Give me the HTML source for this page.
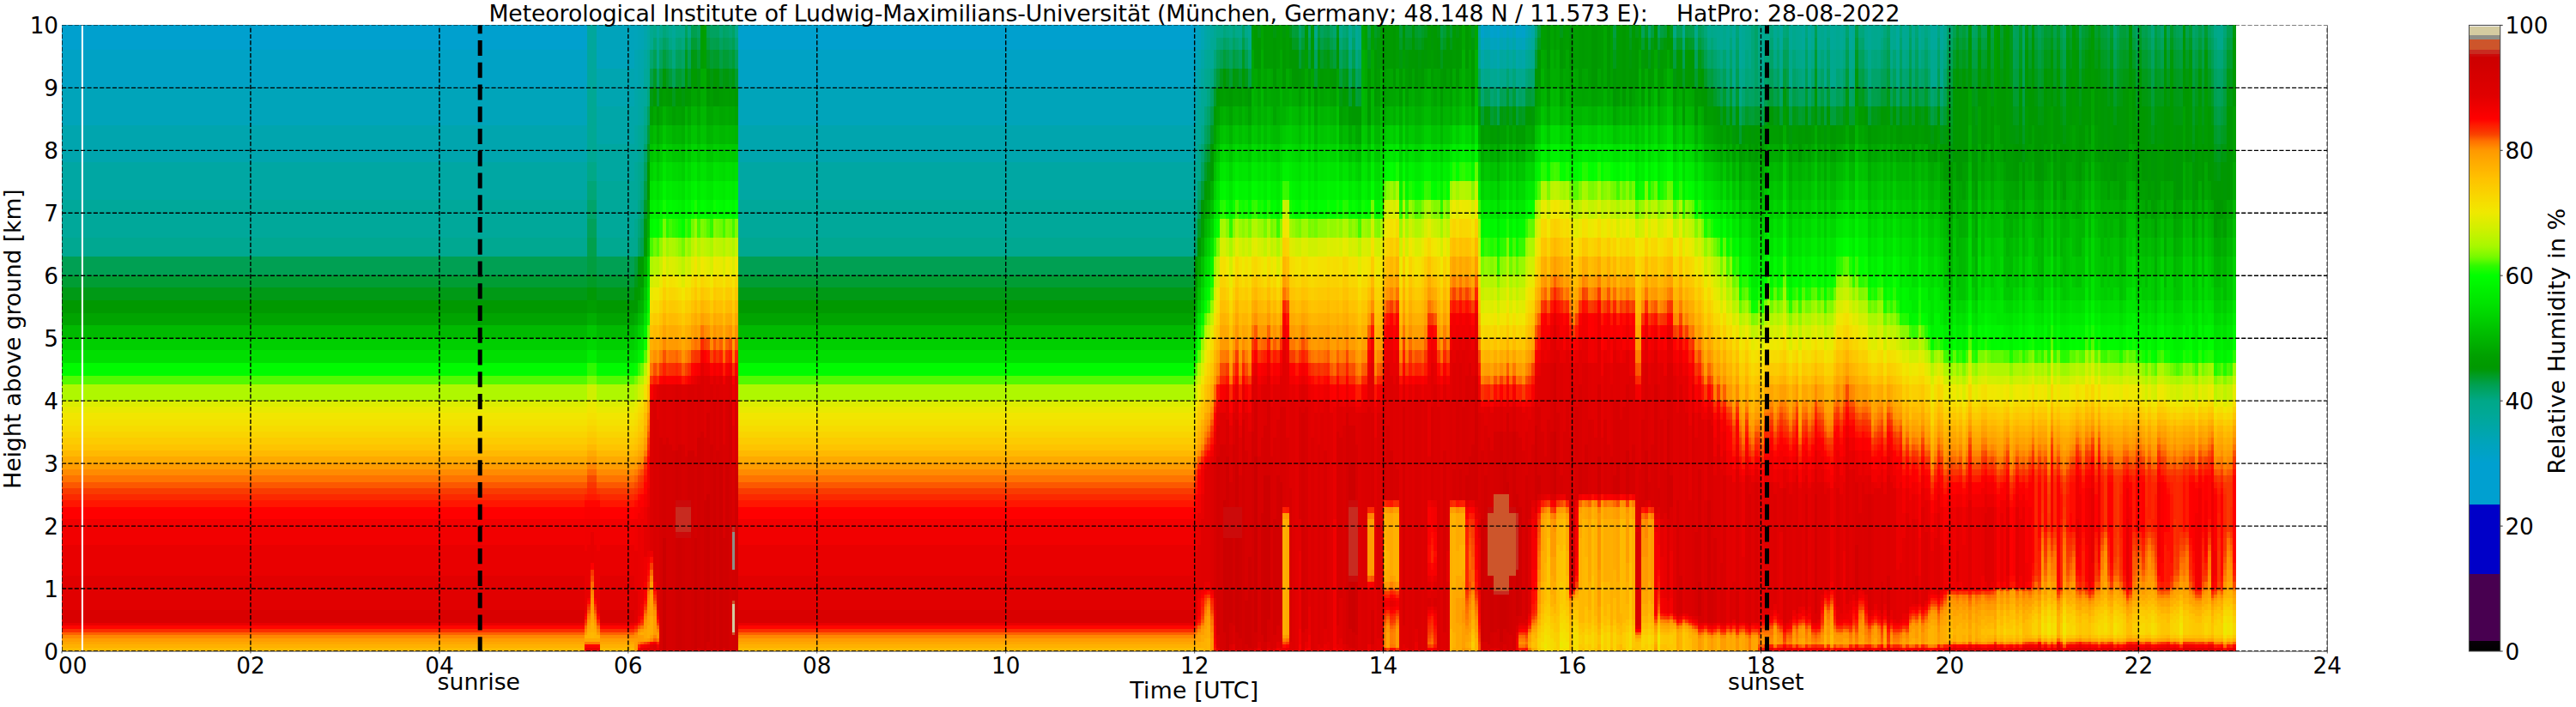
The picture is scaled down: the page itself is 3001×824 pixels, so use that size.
<!DOCTYPE html><html><head><meta charset="utf-8"><title>HatPro Relative Humidity 28-08-2022</title>
<style>html,body{margin:0;padding:0;background:#fff}body{width:3001px;height:824px;position:relative;overflow:hidden;font-family:"DejaVu Sans","Liberation Sans",sans-serif}
#p{position:absolute;left:0;top:0;width:3001px;height:824px}
#p i{position:absolute;top:29.4px;height:729.6px;display:block}
svg{position:absolute;left:0;top:0}text{font-family:"DejaVu Sans","Liberation Sans",sans-serif;font-size:26.7px;fill:#000}.t{font-size:26.3px}
</style></head><body>
<div id="p">
<i style="left:72px;width:609px;background:linear-gradient(#00a0ce 29.2px,#00a2c5 0 73px,#00a4ba 0 116.7px,#00a5ae 0 160.5px,#00a7a3 0 204.3px,#00a89a 0 248.1px,#00a891 0 270px,#00a053 0 291.8px,#009d34 0 306.4px,#009a16 0 321px,#009900 0 335.6px,#00a400 0 350.2px,#00ba00 0 364.8px,#00cf00 0 379.4px,#00df00 0 394px,#00fb00 0 408.6px,#53fa00 0 419.5px,#aff700 0 437.8px,#dced00 0 445.1px,#e8ea00 0 452.4px,#f1e600 0 459.6px,#f4e100 0 466.9px,#f7db00 0 474.2px,#f9d400 0 481.5px,#fccc00 0 488.8px,#fec400 0 496.1px,#ffb900 0 503.4px,#ffaa00 0 510.7px,#ff9d00 0 518px,#ff8b00 0 525.3px,#ff7400 0 532.6px,#fc5800 0 539.9px,#f93c00 0 547.2px,#fc2900 0 554.5px,#ff1600 0 561.8px,#ff0000 0 576.4px,#f20000 0 605.6px,#e90000 0 642px,#e10000 0 682.2px,#d90000 0 696.8px,#ea0000 0 700.4px,#ff0500 0 704.1px,#fb2f00 0 707.7px,#fd6000 0 711.4px,#ff8800 0 715px,#ff9d00 0 718.7px,#ffa700 0 722.3px,#ffb100 0 726px,#ffbb00 0 729.6px)"></i>
<i style="left:681px;width:3px;background:linear-gradient(#00a0ce 29.2px,#00a2c5 0 73px,#00a4ba 0 116.7px,#00a5ae 0 160.5px,#00a7a3 0 204.3px,#00a89a 0 248.1px,#00a891 0 270px,#00a053 0 291.8px,#009d34 0 306.4px,#009a16 0 321px,#009900 0 335.6px,#00a400 0 350.2px,#00ba00 0 364.8px,#00cf00 0 379.4px,#00df00 0 394px,#00fb00 0 408.6px,#53fa00 0 419.5px,#aff700 0 437.8px,#dced00 0 445.1px,#e8ea00 0 452.4px,#f1e600 0 459.6px,#f4e100 0 466.9px,#f7db00 0 474.2px,#f9d400 0 481.5px,#fccc00 0 488.8px,#fec400 0 496.1px,#ffb900 0 503.4px,#ffaa00 0 510.7px,#ff9d00 0 518px,#ff8b00 0 525.3px,#ff7400 0 532.6px,#fc5800 0 539.9px,#f93800 0 547.2px,#fe1e00 0 554.5px,#ff0500 0 561.8px,#fb0000 0 576.4px,#f10000 0 612.9px,#e90000 0 685.8px,#f80000 0 689.5px,#ff0900 0 693.1px,#fc2800 0 696.8px,#f94400 0 700.4px,#ff6e00 0 704.1px,#ff8900 0 707.7px,#ff9c00 0 711.4px,#ffb300 0 715px,#ffa800 0 718.7px,#ff7a00 0 722.3px,#fd0000 0 726px,#e90000 0 729.6px)"></i>
<i style="left:684px;width:4px;background:linear-gradient(#00a79c 73px,#00a894 0 160.5px,#00a887 0 182.4px,#00a677 0 204.3px,#00a46a 0 226.2px,#00a15a 0 248.1px,#00a04d 0 270px,#009e3f 0 291.8px,#009c25 0 306.4px,#009906 0 321px,#009e00 0 335.6px,#00ae00 0 350.2px,#00c700 0 364.8px,#00d700 0 379.4px,#00ed00 0 394px,#2dfa00 0 408.6px,#7dfa00 0 419.5px,#cff000 0 437.8px,#e8ea00 0 445.1px,#f1e600 0 452.4px,#f4e100 0 459.6px,#f7db00 0 466.9px,#f9d400 0 474.2px,#fbcc00 0 481.5px,#fec400 0 488.8px,#ffb900 0 496.1px,#ffaa00 0 503.4px,#ff9c00 0 510.7px,#ff8500 0 518px,#fe6800 0 525.3px,#f94800 0 532.6px,#fa3400 0 539.9px,#fd2600 0 547.2px,#ff1800 0 554.5px,#ff0500 0 561.8px,#fb0000 0 576.4px,#f10000 0 605.6px,#e90000 0 667.6px,#f80000 0 671.2px,#ff0900 0 674.9px,#fc2800 0 678.5px,#f83e00 0 682.2px,#fb5700 0 685.8px,#ff7200 0 689.5px,#ff8200 0 693.1px,#ff9300 0 696.8px,#ff9c00 0 700.4px,#ffa500 0 704.1px,#ffad00 0 707.7px,#ffb500 0 715px,#ffa800 0 718.7px,#ff7a00 0 722.3px,#fd0000 0 726px,#e90000 0 729.6px)"></i>
<i style="left:688px;width:4px;background:linear-gradient(#00a79c 73px,#00a894 0 160.5px,#00a887 0 182.4px,#00a677 0 204.3px,#00a46a 0 226.2px,#00a15a 0 248.1px,#00a04d 0 270px,#009e3f 0 291.8px,#009c25 0 306.4px,#009906 0 321px,#009e00 0 335.6px,#00ae00 0 350.2px,#00c700 0 364.8px,#00d700 0 379.4px,#00ed00 0 394px,#2dfa00 0 408.6px,#7dfa00 0 419.5px,#cff000 0 437.8px,#e8ea00 0 445.1px,#f1e600 0 452.4px,#f4e100 0 459.6px,#f7db00 0 466.9px,#f9d400 0 474.2px,#fbcc00 0 481.5px,#fec400 0 488.8px,#ffb900 0 496.1px,#ffaa00 0 503.4px,#ff9c00 0 510.7px,#ff8500 0 518px,#fe6800 0 525.3px,#f94800 0 532.6px,#fa3400 0 539.9px,#fd2600 0 547.2px,#ff1800 0 554.5px,#ff0500 0 561.8px,#fb0000 0 576.4px,#f10000 0 591px,#e70000 0 627.5px,#fd0000 0 634.8px,#fa3600 0 642px,#fa4d00 0 649.3px,#fe6c00 0 656.6px,#ff7b00 0 660.3px,#ff8500 0 663.9px,#ff8e00 0 667.6px,#ff9700 0 674.9px,#ff9f00 0 685.8px,#ffa800 0 696.8px,#ffb000 0 707.7px,#ffb800 0 715px,#ffa800 0 718.7px,#ff7a00 0 722.3px,#fd0000 0 726px,#e90000 0 729.6px)"></i>
<i style="left:692px;width:3px;background:linear-gradient(#00a79c 73px,#00a894 0 160.5px,#00a887 0 182.4px,#00a677 0 204.3px,#00a46a 0 226.2px,#00a15a 0 248.1px,#00a04d 0 270px,#009e3f 0 291.8px,#009c25 0 306.4px,#009906 0 321px,#009e00 0 335.6px,#00ae00 0 350.2px,#00c700 0 364.8px,#00d700 0 379.4px,#00ed00 0 394px,#2dfa00 0 408.6px,#7dfa00 0 419.5px,#cff000 0 437.8px,#e8ea00 0 445.1px,#f1e600 0 452.4px,#f4e100 0 459.6px,#f7db00 0 466.9px,#f9d400 0 474.2px,#fbcc00 0 481.5px,#fec400 0 488.8px,#ffb900 0 496.1px,#ffaa00 0 503.4px,#ff9c00 0 510.7px,#ff8500 0 518px,#fe6800 0 525.3px,#f94800 0 532.6px,#fa3400 0 539.9px,#fd2600 0 547.2px,#ff1800 0 554.5px,#ff0500 0 561.8px,#fb0000 0 576.4px,#f10000 0 605.6px,#e90000 0 667.6px,#f80000 0 671.2px,#ff0900 0 674.9px,#fc2800 0 678.5px,#f83e00 0 682.2px,#fb5700 0 685.8px,#ff7200 0 689.5px,#ff8200 0 693.1px,#ff9300 0 696.8px,#ff9c00 0 700.4px,#ffa500 0 704.1px,#ffad00 0 707.7px,#ffb500 0 715px,#ffa800 0 718.7px,#ff7a00 0 722.3px,#fd0000 0 726px,#e90000 0 729.6px)"></i>
<i style="left:695px;width:4px;background:linear-gradient(#00a3bb 51.1px,#00a5b0 0 94.8px,#00a6a8 0 138.6px,#00a7a0 0 182.4px,#00a899 0 248.1px,#00a890 0 270px,#00a053 0 291.8px,#009d34 0 306.4px,#009a16 0 321px,#009900 0 335.6px,#00a400 0 350.2px,#00ba00 0 364.8px,#00cf00 0 379.4px,#00df00 0 394px,#00fb00 0 408.6px,#53fa00 0 419.5px,#aff700 0 437.8px,#dced00 0 445.1px,#e8ea00 0 452.4px,#f1e600 0 459.6px,#f4e100 0 466.9px,#f7db00 0 474.2px,#f9d400 0 481.5px,#fccc00 0 488.8px,#fec400 0 496.1px,#ffb900 0 503.4px,#ffaa00 0 510.7px,#ff9d00 0 518px,#ff8b00 0 525.3px,#ff7400 0 532.6px,#fc5800 0 539.9px,#f93800 0 547.2px,#fe1e00 0 554.5px,#ff0500 0 561.8px,#fb0000 0 576.4px,#f10000 0 612.9px,#e90000 0 685.8px,#f80000 0 689.5px,#ff0900 0 693.1px,#fc2800 0 696.8px,#f94400 0 700.4px,#ff6e00 0 704.1px,#ff8900 0 707.7px,#ff9c00 0 711.4px,#ffb300 0 715px,#ffa800 0 718.7px,#ff7a00 0 722.3px,#fd0000 0 726px,#e90000 0 729.6px)"></i>
<i style="left:699px;width:40px;background:linear-gradient(#00a3bb 51.1px,#00a5b0 0 94.8px,#00a6a8 0 138.6px,#00a7a0 0 182.4px,#00a899 0 248.1px,#00a890 0 270px,#00a053 0 291.8px,#009d34 0 306.4px,#009a16 0 321px,#009900 0 335.6px,#00a400 0 350.2px,#00ba00 0 364.8px,#00cf00 0 379.4px,#00df00 0 394px,#00fb00 0 408.6px,#53fa00 0 419.5px,#aff700 0 437.8px,#dced00 0 445.1px,#e8ea00 0 452.4px,#f1e600 0 459.6px,#f4e100 0 466.9px,#f7db00 0 474.2px,#f9d400 0 481.5px,#fccc00 0 488.8px,#fec400 0 496.1px,#ffb900 0 503.4px,#ffaa00 0 510.7px,#ff9d00 0 518px,#ff8b00 0 525.3px,#ff7400 0 532.6px,#fc5800 0 539.9px,#f93c00 0 547.2px,#fc2900 0 554.5px,#ff1600 0 561.8px,#ff0000 0 576.4px,#f20000 0 605.6px,#e90000 0 642px,#e10000 0 682.2px,#d90000 0 696.8px,#ea0000 0 700.4px,#ff0500 0 704.1px,#fb2f00 0 707.7px,#fd6000 0 711.4px,#ff8800 0 715px,#ff9d00 0 718.7px,#ffa700 0 722.3px,#ffb100 0 726px,#ffbb00 0 729.6px)"></i>
<i style="left:739px;width:4px;background:linear-gradient(#00a4ba 29.2px,#00a5b2 0 73px,#00a6a8 0 116.7px,#00a7a0 0 160.5px,#00a898 0 226.2px,#00a88e 0 270px,#009e39 0 291.8px,#009a18 0 306.4px,#009900 0 335.6px,#00ac00 0 350.2px,#00c200 0 364.8px,#00d600 0 379.4px,#00e500 0 394px,#05fe00 0 408.6px,#77fa00 0 419.5px,#baf400 0 437.8px,#e5eb00 0 445.1px,#f0e700 0 452.4px,#f3e100 0 459.6px,#f6dc00 0 466.9px,#f9d600 0 474.2px,#fbcf00 0 481.5px,#fdc700 0 488.8px,#ffbf00 0 496.1px,#ffb400 0 503.4px,#ffa500 0 510.7px,#ff9800 0 518px,#ff7f00 0 525.3px,#fd6500 0 532.6px,#f94800 0 539.9px,#fa3300 0 547.2px,#fe1f00 0 554.5px,#ff0a00 0 561.8px,#fc0000 0 576.4px,#f00000 0 612.9px,#e80000 0 660.3px,#e00000 0 696.8px,#f40000 0 700.4px,#fe1e00 0 704.1px,#fa4c00 0 707.7px,#ff8200 0 711.4px,#ff9000 0 715px,#ff9d00 0 729.6px)"></i>
<i style="left:743px;width:3px;background:linear-gradient(#00a4b6 29.2px,#00a5ad 0 73px,#00a7a2 0 116.7px,#00a897 0 160.5px,#00a88f 0 204.3px,#00a885 0 226.2px,#00a678 0 248.1px,#00a368 0 270px,#009804 0 291.8px,#009c00 0 321px,#00aa00 0 335.6px,#00bc00 0 350.2px,#00d200 0 364.8px,#00e400 0 379.4px,#00f100 0 394px,#3cfa00 0 408.6px,#a6f800 0 419.5px,#d1f000 0 437.8px,#f3e300 0 445.1px,#f6dd00 0 452.4px,#f8d700 0 459.6px,#fad100 0 466.9px,#fccb00 0 474.2px,#fec500 0 481.5px,#ffbd00 0 488.8px,#ffb400 0 496.1px,#ffa900 0 503.4px,#ff9b00 0 510.7px,#ff8000 0 518px,#fd6400 0 525.3px,#f84300 0 532.6px,#fa3300 0 539.9px,#fe2000 0 547.2px,#ff0900 0 554.5px,#fb0000 0 569.1px,#f20000 0 583.7px,#ea0000 0 689.5px,#f70000 0 696.8px,#fe1f00 0 700.4px,#fb5300 0 704.1px,#ff8e00 0 707.7px,#ffa500 0 711.4px,#ff9b00 0 718.7px,#ff7e00 0 722.3px,#fd2500 0 726px,#fe0000 0 729.6px)"></i>
<i style="left:746px;width:4px;background:linear-gradient(#00a4b4 29.2px,#00a6ab 0 73px,#00a79f 0 116.7px,#00a894 0 160.5px,#00a88b 0 182.4px,#00a783 0 204.3px,#00a574 0 226.2px,#00a366 0 248.1px,#00a155 0 270px,#009b00 0 306.4px,#00a800 0 321px,#00b200 0 335.6px,#00c400 0 350.2px,#00d900 0 364.8px,#00ea00 0 379.4px,#00f700 0 394px,#69fa00 0 408.6px,#b2f600 0 419.5px,#daed00 0 437.8px,#f5dd00 0 445.1px,#f8d700 0 452.4px,#fad100 0 459.6px,#fccb00 0 474.2px,#ffc000 0 481.5px,#ffb700 0 488.8px,#ffaf00 0 496.1px,#ffa400 0 503.4px,#ff9200 0 510.7px,#ff7300 0 518px,#fb5100 0 525.3px,#f93800 0 532.6px,#fc2a00 0 539.9px,#ff1700 0 547.2px,#fe0000 0 561.8px,#f40000 0 576.4px,#ec0000 0 674.9px,#f40000 0 689.5px,#ff0b00 0 693.1px,#fd2500 0 696.8px,#f83e00 0 700.4px,#ff7600 0 704.1px,#ff9e00 0 707.7px,#ffae00 0 711.4px,#ff9e00 0 718.7px,#fd6300 0 722.3px,#f90000 0 726px,#e60000 0 729.6px)"></i>
<i style="left:750px;width:4px;background:linear-gradient(#00a5ac 29.2px,#00a7a1 0 51.1px,#00a89a 0 94.8px,#00a88c 0 116.7px,#00a780 0 138.6px,#00a46d 0 160.5px,#00a15a 0 182.4px,#009f43 0 204.3px,#009c28 0 226.2px,#00990e 0 248.1px,#009b00 0 270px,#00b100 0 291.8px,#00bd00 0 306.4px,#00c800 0 321px,#00d200 0 335.6px,#00e300 0 350.2px,#00f300 0 364.8px,#0cfe00 0 379.4px,#5afa00 0 394px,#bbf400 0 408.6px,#dded00 0 419.5px,#f5df00 0 437.8px,#fdc500 0 452.4px,#ffb900 0 466.9px,#ffae00 0 481.5px,#ff9f00 0 488.8px,#ff9600 0 496.1px,#ff7b00 0 503.4px,#fa4d00 0 510.7px,#fb3000 0 518px,#fe1f00 0 525.3px,#ff1000 0 532.6px,#ff0200 0 547.2px,#f50000 0 561.8px,#ed0000 0 583.7px,#e40000 0 620.2px,#f00000 0 649.3px,#f90000 0 667.6px,#ff0300 0 671.2px,#ff1200 0 674.9px,#fc2700 0 678.5px,#f93c00 0 682.2px,#fc5c00 0 685.8px,#ff7600 0 689.5px,#ff8500 0 693.1px,#ff9300 0 696.8px,#ff9c00 0 704.1px,#ffa900 0 715px,#ffa100 0 718.7px,#f94700 0 722.3px,#f40000 0 726px,#e20000 0 729.6px)"></i>
<i style="left:754px;width:3px;background:linear-gradient(#00a7a2 29.2px,#00a895 0 73px,#00a781 0 94.8px,#00a261 0 116.7px,#009e3d 0 138.6px,#009b19 0 160.5px,#009900 0 204.3px,#00a500 0 226.2px,#00ae00 0 248.1px,#00bb00 0 270px,#00d700 0 291.8px,#00e400 0 306.4px,#00ee00 0 321px,#00f700 0 335.6px,#19fc00 0 350.2px,#7afa00 0 364.8px,#b1f600 0 379.4px,#cdf100 0 394px,#f1e600 0 408.6px,#f9d600 0 419.5px,#ffc000 0 437.8px,#ff9f00 0 452.4px,#ff8c00 0 459.6px,#ff7e00 0 466.9px,#ff7000 0 474.2px,#fb5700 0 481.5px,#f83d00 0 488.8px,#fb2e00 0 496.1px,#ff1a00 0 503.4px,#ff0000 0 518px,#f50000 0 539.9px,#ec0000 0 561.8px,#e30000 0 612.9px,#eb0000 0 620.2px,#f40000 0 627.5px,#fc0000 0 634.8px,#ff0800 0 642px,#fe1b00 0 649.3px,#f93800 0 656.6px,#fd6200 0 660.3px,#ff7800 0 663.9px,#ff8400 0 667.6px,#ff8c00 0 671.2px,#ff9400 0 678.5px,#ff9c00 0 689.5px,#ffa500 0 700.4px,#ffae00 0 715px,#ff9c00 0 718.7px,#fb2e00 0 722.3px,#ef0000 0 726px,#df0000 0 729.6px)"></i>
<i style="left:757px;width:4px;background:linear-gradient(#00a891 29.2px,#00a570 0 51.1px,#009f4a 0 73px,#009a12 0 94.8px,#009f00 0 116.7px,#00b300 0 138.6px,#00c300 0 160.5px,#00d200 0 182.4px,#00e200 0 204.3px,#00ee00 0 226.2px,#00fa00 0 248.1px,#47fa00 0 270px,#adf700 0 291.8px,#d1f000 0 306.4px,#e9ea00 0 321px,#f5df00 0 335.6px,#fad100 0 350.2px,#fec200 0 364.8px,#ffb100 0 379.4px,#ff9f00 0 394px,#ff7800 0 408.6px,#fa3700 0 419.5px,#f80000 0 437.8px,#dd0000 0 612.9px,#ee0000 0 620.2px,#ff0d00 0 627.5px,#f93c00 0 634.8px,#fe6600 0 642px,#ff8600 0 649.3px,#ff9c00 0 663.9px,#ffa400 0 689.5px,#ffad00 0 711.4px,#ff9f00 0 715px,#ff8800 0 718.7px,#fd0000 0 722.3px,#e30000 0 729.6px)"></i>
<i style="left:761px;width:4px;background:linear-gradient(#00a888 14.6px,#00a571 0 29.2px,#00a154 0 51.1px,#009b23 0 73px,#009a00 0 94.8px,#00a800 0 116.7px,#00bc00 0 138.6px,#00cb00 0 160.5px,#00db00 0 182.4px,#00e800 0 204.3px,#00f300 0 226.2px,#01ff00 0 248.1px,#71fa00 0 270px,#b8f500 0 291.8px,#daed00 0 306.4px,#f1e700 0 321px,#f8d900 0 335.6px,#fcca00 0 350.2px,#ffba00 0 364.8px,#ffa900 0 379.4px,#ff8f00 0 394px,#fa4d00 0 408.6px,#ff1a00 0 419.5px,#eb0000 0 437.8px,#d90000 0 649.3px,#eb0000 0 656.6px,#fa0000 0 660.3px,#ff1400 0 663.9px,#fc2c00 0 667.6px,#f93c00 0 671.2px,#fb5500 0 674.9px,#ff7100 0 678.5px,#ff8200 0 682.2px,#ff9300 0 689.5px,#ff9c00 0 711.4px,#ff8400 0 715px,#fc5e00 0 718.7px,#f20000 0 722.3px,#dd0000 0 729.6px)"></i>
<i style="left:765px;width:3px;background:linear-gradient(#00a89c 14.6px,#00a893 0 29.2px,#00a889 0 51.1px,#00a366 0 73px,#009d34 0 94.8px,#009c00 0 116.7px,#00ac00 0 138.6px,#00bd00 0 160.5px,#00ce00 0 182.4px,#00df00 0 204.3px,#00ec00 0 226.2px,#00fa00 0 248.1px,#55fa00 0 270px,#b2f600 0 291.8px,#d6ee00 0 306.4px,#eee900 0 321px,#f6dc00 0 335.6px,#fbce00 0 350.2px,#ffbf00 0 364.8px,#ffae00 0 379.4px,#ff9c00 0 394px,#ff6e00 0 408.6px,#fc2b00 0 419.5px,#e30000 0 459.6px,#db0000 0 682.2px,#e80000 0 685.8px,#f00000 0 689.5px,#fb0000 0 693.1px,#ff1900 0 696.8px,#f93a00 0 700.4px,#fe6a00 0 704.1px,#ff8900 0 707.7px,#ff9d00 0 715px,#ff7b00 0 718.7px,#fd2300 0 722.3px,#f30000 0 726px,#e80000 0 729.6px)"></i>
<i style="left:768px;width:4px;background:linear-gradient(#00a88a 14.6px,#00a678 0 29.2px,#00a25c 0 51.1px,#009d30 0 73px,#009900 0 94.8px,#00a500 0 116.7px,#00b800 0 138.6px,#00c900 0 160.5px,#00d900 0 182.4px,#00e800 0 204.3px,#00f500 0 226.2px,#17fd00 0 248.1px,#90f900 0 270px,#c9f100 0 291.8px,#e9ea00 0 306.4px,#f5df00 0 321px,#fad100 0 335.6px,#fec300 0 350.2px,#ffb300 0 364.8px,#ffa200 0 379.4px,#ff7f00 0 394px,#f93b00 0 408.6px,#ff0000 0 419.5px,#de0000 0 481.5px,#d60000 0 729.6px)"></i>
<i style="left:772px;width:4px;background:linear-gradient(#00a679 14.6px,#00a260 0 29.2px,#009e3b 0 51.1px,#009906 0 73px,#009e00 0 94.8px,#00b200 0 116.7px,#00c600 0 138.6px,#00d800 0 160.5px,#00e700 0 182.4px,#00f500 0 204.3px,#10fd00 0 226.2px,#77fa00 0 248.1px,#bff300 0 270px,#e8ea00 0 291.8px,#f7db00 0 306.4px,#fbce00 0 321px,#ffc200 0 335.6px,#ffb300 0 350.2px,#ffa300 0 364.8px,#ff8a00 0 379.4px,#fa5100 0 394px,#fe1f00 0 408.6px,#f70000 0 419.5px,#dc0000 0 488.8px,#d40000 0 598.3px,#cc0000 0 729.6px)"></i>
<i style="left:776px;width:3px;background:linear-gradient(#00a783 14.6px,#00a46c 0 29.2px,#00a050 0 51.1px,#009b1f 0 73px,#009b00 0 94.8px,#00a900 0 116.7px,#00bc00 0 138.6px,#00cd00 0 160.5px,#00dd00 0 182.4px,#00eb00 0 204.3px,#00f800 0 226.2px,#24fb00 0 248.1px,#9df800 0 270px,#cff000 0 291.8px,#eee900 0 306.4px,#f6dc00 0 321px,#fbcf00 0 335.6px,#ffc100 0 350.2px,#ffb100 0 364.8px,#ffa000 0 379.4px,#ff7b00 0 394px,#f93800 0 408.6px,#fe0000 0 419.5px,#de0000 0 481.5px,#d60000 0 729.6px)"></i>
<i style="left:779px;width:4px;background:linear-gradient(#00a88f 14.6px,#00a784 0 29.2px,#00a364 0 51.1px,#009d36 0 73px,#009900 0 94.8px,#00a600 0 116.7px,#00bb00 0 138.6px,#00cd00 0 160.5px,#00df00 0 182.4px,#00ed00 0 204.3px,#00fb00 0 226.2px,#42fa00 0 248.1px,#b0f600 0 270px,#dced00 0 291.8px,#f3e100 0 306.4px,#f9d500 0 321px,#fdc800 0 335.6px,#ffba00 0 350.2px,#ffab00 0 364.8px,#ff9a00 0 379.4px,#ff6d00 0 394px,#fb2f00 0 408.6px,#fc0000 0 419.5px,#de0000 0 488.8px,#d60000 0 729.6px)"></i>
<i style="left:783px;width:4px;background:linear-gradient(#00a898 14.6px,#00a890 0 29.2px,#00a77f 0 51.1px,#00a157 0 73px,#009b1c 0 94.8px,#009f00 0 116.7px,#00b300 0 138.6px,#00c600 0 160.5px,#00d900 0 182.4px,#00e900 0 204.3px,#00f800 0 226.2px,#2dfa00 0 248.1px,#abf700 0 270px,#d9ee00 0 291.8px,#f3e300 0 306.4px,#f8d600 0 321px,#fcc900 0 335.6px,#ffbb00 0 350.2px,#ffab00 0 364.8px,#ff9a00 0 379.4px,#ff6e00 0 394px,#fb2e00 0 408.6px,#fb0000 0 419.5px,#dd0000 0 496.1px,#d50000 0 729.6px)"></i>
<i style="left:787px;width:3px;background:linear-gradient(#00a88a 14.6px,#00a678 0 29.2px,#00a25c 0 51.1px,#009d30 0 73px,#009900 0 94.8px,#00a400 0 116.7px,#00b600 0 138.6px,#00c800 0 160.5px,#00da00 0 182.4px,#00e900 0 204.3px,#00f700 0 226.2px,#24fb00 0 248.1px,#a1f800 0 270px,#d3ef00 0 291.8px,#f1e700 0 306.4px,#f7d900 0 321px,#fccb00 0 335.6px,#ffbc00 0 350.2px,#ffac00 0 364.8px,#ff9900 0 379.4px,#fd6300 0 394px,#fd2500 0 408.6px,#f80000 0 419.5px,#d90000 0 496.1px,#d10000 0 554.5px,#cc0a0a 0 561.8px,#c82b20 0 591px,#cc0a0a 0 598.3px,#d00000 0 729.6px)"></i>
<i style="left:790px;width:4px;background:linear-gradient(#00a889 14.6px,#00a574 0 29.2px,#00a159 0 51.1px,#009d2e 0 73px,#009900 0 94.8px,#00a300 0 116.7px,#00b500 0 138.6px,#00c600 0 160.5px,#00d700 0 182.4px,#00e600 0 204.3px,#00f400 0 226.2px,#13fd00 0 248.1px,#8ef900 0 270px,#c9f100 0 291.8px,#eaea00 0 306.4px,#f5de00 0 321px,#fad000 0 335.6px,#fec200 0 350.2px,#ffb100 0 364.8px,#ff9f00 0 379.4px,#ff7600 0 394px,#fb3100 0 408.6px,#fb0000 0 419.5px,#db0000 0 488.8px,#d30000 0 554.5px,#cc0a0a 0 561.8px,#c82b20 0 591px,#cc0a0a 0 598.3px,#cf0000 0 729.6px)"></i>
<i style="left:794px;width:4px;background:linear-gradient(#00a88c 14.6px,#00a781 0 29.2px,#00a366 0 51.1px,#009f43 0 73px,#00990b 0 94.8px,#009f00 0 116.7px,#00af00 0 138.6px,#00bf00 0 160.5px,#00d000 0 182.4px,#00e100 0 204.3px,#00ee00 0 226.2px,#00fd00 0 248.1px,#70fa00 0 270px,#baf400 0 291.8px,#dded00 0 306.4px,#f1e600 0 321px,#f8d800 0 335.6px,#fcca00 0 350.2px,#ffbb00 0 364.8px,#ffaa00 0 379.4px,#ff9500 0 394px,#fc5a00 0 408.6px,#ff1600 0 419.5px,#df0000 0 488.8px,#d70000 0 554.5px,#cc0a0a 0 561.8px,#c82b20 0 591px,#cc0a0a 0 598.3px,#d20000 0 729.6px)"></i>
<i style="left:798px;width:3px;background:linear-gradient(#00a25b 14.6px,#009f43 0 29.2px,#009b1e 0 51.1px,#009a00 0 94.8px,#00b200 0 116.7px,#00c200 0 138.6px,#00d300 0 160.5px,#00e200 0 182.4px,#00ef00 0 204.3px,#00fb00 0 226.2px,#3afa00 0 248.1px,#aaf800 0 270px,#d5ef00 0 291.8px,#f1e600 0 306.4px,#f7da00 0 321px,#fbcd00 0 335.6px,#ffc000 0 350.2px,#ffb100 0 364.8px,#ffa100 0 379.4px,#ff8100 0 394px,#f84000 0 408.6px,#ff0900 0 419.5px,#de0000 0 503.4px,#d60000 0 554.5px,#cc0a0a 0 561.8px,#c82b20 0 591px,#cc0a0a 0 598.3px,#d40000 0 729.6px)"></i>
<i style="left:801px;width:4px;background:linear-gradient(#00a887 14.6px,#00a571 0 29.2px,#00a156 0 51.1px,#009c2a 0 73px,#009a00 0 94.8px,#00a500 0 116.7px,#00b600 0 138.6px,#00c700 0 160.5px,#00d900 0 182.4px,#00e800 0 204.3px,#00f500 0 226.2px,#1afc00 0 248.1px,#94f900 0 270px,#ccf100 0 291.8px,#ece900 0 306.4px,#f6dd00 0 321px,#fbce00 0 335.6px,#ffc000 0 350.2px,#ffaf00 0 364.8px,#ff9c00 0 379.4px,#ff6f00 0 394px,#fc2b00 0 408.6px,#f90000 0 419.5px,#da0000 0 496.1px,#d20000 0 554.5px,#cc0a0a 0 561.8px,#c82b20 0 591px,#cc0a0a 0 598.3px,#d40000 0 729.6px)"></i>
<i style="left:805px;width:4px;background:linear-gradient(#00a04c 14.6px,#009d31 0 29.2px,#00990f 0 51.1px,#009b00 0 73px,#00a400 0 94.8px,#00b400 0 116.7px,#00c400 0 138.6px,#00d500 0 160.5px,#00e500 0 182.4px,#00f200 0 204.3px,#04ff00 0 226.2px,#71fa00 0 248.1px,#bbf400 0 270px,#e4eb00 0 291.8px,#f5de00 0 306.4px,#fad100 0 321px,#fec300 0 335.6px,#ffb300 0 350.2px,#ffa200 0 364.8px,#ff8100 0 379.4px,#f83d00 0 394px,#ff0400 0 408.6px,#ed0000 0 419.5px,#da0000 0 496.1px,#d20000 0 729.6px)"></i>
<i style="left:809px;width:3px;background:linear-gradient(#00a050 14.6px,#009d34 0 29.2px,#009a12 0 51.1px,#009b00 0 73px,#00a400 0 94.8px,#00b400 0 116.7px,#00c400 0 138.6px,#00d700 0 160.5px,#00e800 0 182.4px,#00f600 0 204.3px,#1dfc00 0 226.2px,#98f900 0 248.1px,#d0f000 0 270px,#f2e300 0 291.8px,#fad300 0 306.4px,#fdc600 0 321px,#ffb900 0 335.6px,#ffaa00 0 350.2px,#ff9a00 0 364.8px,#ff7100 0 379.4px,#fa3300 0 394px,#fc0000 0 408.6px,#e80000 0 419.5px,#dd0000 0 503.4px,#d50000 0 598.3px,#cd0000 0 729.6px)"></i>
<i style="left:812px;width:4px;background:linear-gradient(#00a261 14.6px,#00a050 0 29.2px,#009d30 0 51.1px,#00990b 0 73px,#009d00 0 94.8px,#00a800 0 116.7px,#00b700 0 138.6px,#00c900 0 160.5px,#00db00 0 182.4px,#00ea00 0 204.3px,#00f800 0 226.2px,#44fa00 0 248.1px,#aff700 0 270px,#dbed00 0 291.8px,#f2e300 0 306.4px,#f9d500 0 321px,#fdc500 0 335.6px,#ffb400 0 350.2px,#ffa100 0 364.8px,#ff7a00 0 379.4px,#fa3200 0 394px,#f80000 0 408.6px,#e10000 0 419.5px,#d90000 0 481.5px,#d10000 0 726px,#d90000 0 729.6px)"></i>
<i style="left:816px;width:4px;background:linear-gradient(#009e00 51.1px,#00ab00 0 94.8px,#00b700 0 116.7px,#00c300 0 138.6px,#00d400 0 160.5px,#00e400 0 182.4px,#00f100 0 204.3px,#00ff00 0 226.2px,#7dfa00 0 248.1px,#c5f200 0 270px,#f0e800 0 291.8px,#f9d500 0 306.4px,#fdc500 0 321px,#ffb400 0 335.6px,#ffa000 0 350.2px,#ff7400 0 364.8px,#fc2a00 0 379.4px,#f60000 0 394px,#e40000 0 408.6px,#db0000 0 474.2px,#d30000 0 729.6px)"></i>
<i style="left:820px;width:3px;background:linear-gradient(#00a000 51.1px,#00ac00 0 94.8px,#00b700 0 116.7px,#00c200 0 138.6px,#00d300 0 160.5px,#00e300 0 182.4px,#00f000 0 204.3px,#00fd00 0 226.2px,#71fa00 0 248.1px,#bef400 0 270px,#eaea00 0 291.8px,#f7da00 0 306.4px,#fccb00 0 321px,#ffba00 0 335.6px,#ffa800 0 350.2px,#ff8b00 0 364.8px,#f84200 0 379.4px,#ff0000 0 394px,#ed0000 0 408.6px,#df0000 0 481.5px,#d70000 0 554.5px,#cf0000 0 729.6px)"></i>
<i style="left:823px;width:4px;background:linear-gradient(#00a051 14.6px,#009e3b 0 29.2px,#009b1e 0 51.1px,#009800 0 94.8px,#00a600 0 116.7px,#00b400 0 138.6px,#00c700 0 160.5px,#00da00 0 182.4px,#00ea00 0 204.3px,#00f800 0 226.2px,#52fa00 0 248.1px,#b7f500 0 270px,#e4eb00 0 291.8px,#f6dd00 0 306.4px,#fbcd00 0 321px,#ffbd00 0 335.6px,#ffaa00 0 350.2px,#ff9100 0 364.8px,#fa4b00 0 379.4px,#ff0a00 0 394px,#ed0000 0 408.6px,#dd0000 0 452.4px,#d50000 0 547.2px,#cd0000 0 718.7px,#d50000 0 729.6px)"></i>
<i style="left:827px;width:4px;background:linear-gradient(#00a260 14.6px,#00a04f 0 29.2px,#009d31 0 51.1px,#00990d 0 73px,#009d00 0 94.8px,#00a700 0 116.7px,#00b600 0 138.6px,#00c700 0 160.5px,#00d900 0 182.4px,#00e800 0 204.3px,#00f600 0 226.2px,#2ffa00 0 248.1px,#a8f800 0 270px,#d5ef00 0 291.8px,#f0e700 0 306.4px,#f8d900 0 321px,#fcca00 0 335.6px,#ffb900 0 350.2px,#ffa700 0 364.8px,#ff8b00 0 379.4px,#f84300 0 394px,#fd0000 0 408.6px,#e70000 0 419.5px,#db0000 0 488.8px,#d30000 0 729.6px)"></i>
<i style="left:831px;width:3px;background:linear-gradient(#00a260 14.6px,#00a04b 0 29.2px,#009c28 0 51.1px,#009800 0 94.8px,#00ae00 0 116.7px,#00be00 0 138.6px,#00d100 0 160.5px,#00e400 0 182.4px,#00f200 0 204.3px,#0afe00 0 226.2px,#86f900 0 248.1px,#c8f200 0 270px,#f0e700 0 291.8px,#f8d600 0 306.4px,#fdc800 0 321px,#ffb900 0 335.6px,#ffa800 0 350.2px,#ff9200 0 364.8px,#fb5600 0 379.4px,#fe1e00 0 394px,#f30000 0 408.6px,#df0000 0 437.8px,#d70000 0 510.7px,#cf0000 0 726px,#d70000 0 729.6px)"></i>
<i style="left:834px;width:4px;background:linear-gradient(#00a25e 14.6px,#009f49 0 29.2px,#009c27 0 51.1px,#009800 0 94.8px,#00ad00 0 116.7px,#00bd00 0 138.6px,#00cf00 0 160.5px,#00e200 0 182.4px,#00f000 0 204.3px,#00ff00 0 226.2px,#78fa00 0 248.1px,#c0f300 0 270px,#eae900 0 291.8px,#f7db00 0 306.4px,#fbcd00 0 321px,#ffc000 0 335.6px,#ffaf00 0 350.2px,#ff9e00 0 364.8px,#ff7800 0 379.4px,#fa3500 0 394px,#fb0000 0 408.6px,#e60000 0 419.5px,#dc0000 0 496.1px,#d40000 0 729.6px)"></i>
<i style="left:838px;width:4px;background:linear-gradient(#00a575 14.6px,#00a261 0 29.2px,#009f45 0 51.1px,#009b1b 0 73px,#009c00 0 94.8px,#00a700 0 116.7px,#00b700 0 138.6px,#00ca00 0 160.5px,#00de00 0 182.4px,#00ed00 0 204.3px,#00fc00 0 226.2px,#6dfa00 0 248.1px,#bcf400 0 270px,#e8ea00 0 291.8px,#f6db00 0 306.4px,#fbcd00 0 321px,#ffbe00 0 335.6px,#ffac00 0 350.2px,#ff9900 0 364.8px,#fc5e00 0 379.4px,#fe2000 0 394px,#f30000 0 408.6px,#df0000 0 437.8px,#d60000 0 510.7px,#ce0000 0 729.6px)"></i>
<i style="left:842px;width:3px;background:linear-gradient(#00a364 14.6px,#00a052 0 29.2px,#009d33 0 51.1px,#00990d 0 73px,#009d00 0 94.8px,#00a800 0 116.7px,#00b700 0 138.6px,#00c900 0 160.5px,#00db00 0 182.4px,#00ea00 0 204.3px,#00f800 0 226.2px,#45fa00 0 248.1px,#aff700 0 270px,#dbed00 0 291.8px,#f2e400 0 306.4px,#f8d700 0 321px,#fcca00 0 335.6px,#ffbb00 0 350.2px,#ffab00 0 364.8px,#ff9a00 0 379.4px,#fe6b00 0 394px,#fe1b00 0 408.6px,#f20000 0 419.5px,#e10000 0 488.8px,#d90000 0 598.3px,#d10000 0 726px,#da0000 0 729.6px)"></i>
<i style="left:845px;width:4px;background:linear-gradient(#00a469 14.6px,#00a156 0 29.2px,#009d35 0 51.1px,#00990a 0 73px,#009e00 0 94.8px,#00ab00 0 116.7px,#00bb00 0 138.6px,#00ce00 0 160.5px,#00e100 0 182.4px,#00f000 0 204.3px,#01ff00 0 226.2px,#7dfa00 0 248.1px,#c3f300 0 270px,#eee900 0 291.8px,#f8d800 0 306.4px,#fcca00 0 321px,#ffbc00 0 335.6px,#ffab00 0 350.2px,#ff9900 0 364.8px,#fd6400 0 379.4px,#fd2600 0 394px,#f60000 0 408.6px,#e00000 0 437.8px,#d80000 0 510.7px,#d00000 0 729.6px)"></i>
<i style="left:849px;width:4px;background:linear-gradient(#00a574 14.6px,#00a260 0 29.2px,#009f44 0 51.1px,#009a19 0 73px,#009c00 0 94.8px,#00a700 0 116.7px,#00b800 0 138.6px,#00cb00 0 160.5px,#00df00 0 182.4px,#00ee00 0 204.3px,#00fd00 0 226.2px,#73fa00 0 248.1px,#bff300 0 270px,#eaea00 0 291.8px,#f7da00 0 306.4px,#fccb00 0 321px,#ffbb00 0 335.6px,#ffaa00 0 350.2px,#ff9200 0 364.8px,#fa5000 0 379.4px,#ff1700 0 394px,#f00000 0 408.6px,#dd0000 0 437.8px,#d40000 0 729.6px)"></i>
<i style="left:853px;width:3px;background:linear-gradient(#00a364 14.6px,#00a052 0 29.2px,#009d33 0 51.1px,#00990d 0 73px,#009d00 0 94.8px,#00a800 0 116.7px,#00b700 0 138.6px,#00c900 0 160.5px,#00db00 0 182.4px,#00ea00 0 204.3px,#00f800 0 226.2px,#43fa00 0 248.1px,#aff700 0 270px,#dbed00 0 291.8px,#f2e400 0 306.4px,#f8d900 0 321px,#fbcc00 0 335.6px,#ffbf00 0 350.2px,#ffb000 0 364.8px,#ffa000 0 379.4px,#ff8000 0 394px,#fb3000 0 408.6px,#f90000 0 419.5px,#ea0000 0 466.9px,#e20000 0 510.7px,#da0000 0 583.7px,#c82b20 0 591px,#8f8f87 0 634.8px,#d20000 0 671.2px,#cd552b 0 674.9px,#d4cba0 0 707.7px,#cd552b 0 711.4px,#d30000 0 729.6px)"></i>
<i style="left:856px;width:4px;background:linear-gradient(#00a889 14.6px,#00a576 0 29.2px,#00a15a 0 51.1px,#009d2f 0 73px,#009a00 0 94.8px,#00a400 0 116.7px,#00b500 0 138.6px,#00ca00 0 160.5px,#00df00 0 182.4px,#00ef00 0 204.3px,#00ff00 0 226.2px,#81f900 0 248.1px,#c8f200 0 270px,#f1e600 0 291.8px,#f9d400 0 306.4px,#fdc700 0 321px,#ffb800 0 335.6px,#ffa800 0 350.2px,#ff9200 0 364.8px,#fc5800 0 379.4px,#fd2100 0 394px,#f40000 0 408.6px,#e00000 0 437.8px,#d80000 0 510.7px,#d00000 0 729.6px)"></i>
<i style="left:860px;width:528px;background:linear-gradient(#00a0ce 29.2px,#00a2c5 0 73px,#00a4ba 0 116.7px,#00a5ae 0 160.5px,#00a7a3 0 204.3px,#00a89a 0 248.1px,#00a891 0 270px,#00a053 0 291.8px,#009d34 0 306.4px,#009a16 0 321px,#009900 0 335.6px,#00a400 0 350.2px,#00ba00 0 364.8px,#00cf00 0 379.4px,#00df00 0 394px,#00fb00 0 408.6px,#53fa00 0 419.5px,#aff700 0 437.8px,#dced00 0 445.1px,#e8ea00 0 452.4px,#f1e600 0 459.6px,#f4e100 0 466.9px,#f7db00 0 474.2px,#f9d400 0 481.5px,#fccc00 0 488.8px,#fec400 0 496.1px,#ffb900 0 503.4px,#ffaa00 0 510.7px,#ff9d00 0 518px,#ff8b00 0 525.3px,#ff7400 0 532.6px,#fc5800 0 539.9px,#f93c00 0 547.2px,#fc2900 0 554.5px,#ff1600 0 561.8px,#ff0000 0 576.4px,#f20000 0 605.6px,#e90000 0 642px,#e10000 0 682.2px,#d90000 0 696.8px,#ea0000 0 700.4px,#ff0500 0 704.1px,#fb2f00 0 707.7px,#fd6000 0 711.4px,#ff8800 0 715px,#ff9d00 0 718.7px,#ffa700 0 722.3px,#ffb100 0 726px,#ffbb00 0 729.6px)"></i>
<i style="left:1388px;width:4px;background:linear-gradient(#00a0ce 29.2px,#00a2c5 0 73px,#00a4ba 0 116.7px,#00a5ae 0 160.5px,#00a7a3 0 204.3px,#00a89a 0 248.1px,#00a891 0 270px,#00a053 0 291.8px,#009d34 0 306.4px,#009a16 0 321px,#009900 0 335.6px,#00a400 0 350.2px,#00ba00 0 364.8px,#00cf00 0 379.4px,#00df00 0 394px,#00fb00 0 408.6px,#53fa00 0 419.5px,#aff700 0 437.8px,#dced00 0 445.1px,#e8ea00 0 452.4px,#f1e600 0 459.6px,#f4e100 0 466.9px,#f7db00 0 474.2px,#f9d400 0 481.5px,#fccc00 0 488.8px,#fec400 0 496.1px,#ffb900 0 503.4px,#ffaa00 0 510.7px,#ff9d00 0 518px,#ff8b00 0 525.3px,#ff7400 0 532.6px,#fb5800 0 539.9px,#f93c00 0 547.2px,#fc2900 0 554.5px,#ff1600 0 561.8px,#ff0000 0 576.4px,#f20000 0 605.6px,#e90000 0 642px,#e10000 0 682.2px,#d90000 0 696.8px,#ea0000 0 700.4px,#ff0500 0 704.1px,#fb2f00 0 707.7px,#fd6000 0 711.4px,#ff8800 0 715px,#ff9d00 0 718.7px,#ffa700 0 722.3px,#ffb100 0 726px,#ffbb00 0 729.6px)"></i>
<i style="left:1392px;width:3px;background:linear-gradient(#00a2c5 29.2px,#00a3bc 0 51.1px,#00a4b5 0 73px,#00a5ae 0 94.8px,#00a6a7 0 116.7px,#00a7a0 0 160.5px,#00a895 0 204.3px,#00a888 0 226.2px,#00a573 0 248.1px,#00a25d 0 270px,#009900 0 306.4px,#00a400 0 321px,#00ae00 0 335.6px,#00c200 0 350.2px,#00d900 0 364.8px,#00eb00 0 379.4px,#00f700 0 394px,#5cfa00 0 408.6px,#acf700 0 419.5px,#d2f000 0 437.8px,#f1e600 0 445.1px,#f5df00 0 452.4px,#f8d900 0 459.6px,#fad300 0 466.9px,#fbcc00 0 474.2px,#fdc500 0 481.5px,#ffbd00 0 488.8px,#ffb400 0 496.1px,#ffa800 0 503.4px,#ff9700 0 510.7px,#fe6c00 0 518px,#f84000 0 525.3px,#fb2f00 0 532.6px,#fd2200 0 539.9px,#ff1300 0 547.2px,#ff0100 0 561.8px,#f60000 0 576.4px,#ec0000 0 612.9px,#e40000 0 693.1px,#f00000 0 696.8px,#fb0000 0 700.4px,#fb2f00 0 704.1px,#fc5900 0 707.7px,#ff8100 0 711.4px,#ff9a00 0 715px,#ffa200 0 718.7px,#ffaa00 0 722.3px,#ffb200 0 726px,#ffba00 0 729.6px)"></i>
<i style="left:1395px;width:4px;background:linear-gradient(#00a3bd 29.2px,#00a5b1 0 51.1px,#00a6a9 0 73px,#00a7a1 0 94.8px,#00a89a 0 138.6px,#00a88d 0 182.4px,#00a46d 0 204.3px,#00a052 0 226.2px,#009c29 0 248.1px,#009800 0 270px,#00a900 0 291.8px,#00b500 0 306.4px,#00bf00 0 321px,#00cb00 0 335.6px,#00e000 0 350.2px,#00f200 0 364.8px,#11fd00 0 379.4px,#5afa00 0 394px,#b4f600 0 408.6px,#d3ef00 0 419.5px,#efe800 0 437.8px,#f8d700 0 445.1px,#fad000 0 452.4px,#fcca00 0 459.6px,#fec400 0 466.9px,#ffbd00 0 474.2px,#ffb500 0 481.5px,#ffad00 0 488.8px,#ffa300 0 496.1px,#ff9200 0 503.4px,#fc5d00 0 510.7px,#fd2500 0 518px,#ff0800 0 525.3px,#fd0000 0 547.2px,#f40000 0 569.1px,#e90000 0 605.6px,#e10000 0 660.3px,#ed0000 0 667.6px,#f50000 0 689.5px,#ff0000 0 693.1px,#ff1000 0 696.8px,#fb2d00 0 700.4px,#fd6500 0 704.1px,#ff8400 0 707.7px,#ff9900 0 711.4px,#ffa100 0 718.7px,#ffae00 0 726px,#ffba00 0 729.6px)"></i>
<i style="left:1399px;width:4px;background:linear-gradient(#00a5b3 29.2px,#00a6a6 0 51.1px,#00a79d 0 73px,#00a895 0 116.7px,#00a888 0 138.6px,#00a573 0 160.5px,#00a25e 0 182.4px,#009d36 0 204.3px,#009804 0 226.2px,#009e00 0 248.1px,#00aa00 0 270px,#00c100 0 291.8px,#00ce00 0 306.4px,#00da00 0 321px,#00e600 0 335.6px,#00f700 0 350.2px,#30fa00 0 364.8px,#9df800 0 379.4px,#bcf400 0 394px,#dded00 0 408.6px,#f1e600 0 419.5px,#f8d700 0 437.8px,#fdc800 0 445.1px,#ffc100 0 459.6px,#ffb300 0 466.9px,#ffab00 0 474.2px,#ffa300 0 481.5px,#ff9a00 0 488.8px,#ff8300 0 496.1px,#fb5600 0 503.4px,#fd2200 0 510.7px,#f90000 0 518px,#f00000 0 547.2px,#e80000 0 576.4px,#e00000 0 656.6px,#ed0000 0 660.3px,#f60000 0 663.9px,#fe0000 0 667.6px,#ff1000 0 671.2px,#ff1800 0 678.5px,#fd2400 0 682.2px,#fc2b00 0 685.8px,#fa3500 0 689.5px,#f94400 0 693.1px,#fc5900 0 696.8px,#ff7600 0 700.4px,#ff9300 0 704.1px,#ff9d00 0 711.4px,#ffa900 0 718.7px,#ffb100 0 726px,#ffb900 0 729.6px)"></i>
<i style="left:1403px;width:3px;background:linear-gradient(#00a6a8 29.2px,#00a89a 0 51.1px,#00a892 0 94.8px,#00a67b 0 116.7px,#00a363 0 138.6px,#009f4a 0 160.5px,#009c29 0 182.4px,#009a00 0 204.3px,#00a300 0 226.2px,#00b400 0 248.1px,#00c500 0 270px,#00d900 0 291.8px,#00e600 0 306.4px,#00f000 0 321px,#00fd00 0 335.6px,#5efa00 0 350.2px,#b0f600 0 364.8px,#d7ee00 0 379.4px,#ebe900 0 394px,#f5de00 0 408.6px,#fad200 0 419.5px,#fec500 0 437.8px,#ffb700 0 452.4px,#ffa800 0 459.6px,#ffa000 0 466.9px,#ff9800 0 474.2px,#ff8200 0 481.5px,#fe6900 0 488.8px,#f83e00 0 496.1px,#fe1e00 0 503.4px,#f90000 0 510.7px,#e80000 0 518px,#e00000 0 649.3px,#e80000 0 656.6px,#f30000 0 660.3px,#ff0000 0 663.9px,#fc2700 0 667.6px,#f83f00 0 671.2px,#fa5000 0 674.9px,#fd6200 0 678.5px,#ff7300 0 682.2px,#ff7e00 0 685.8px,#ff8a00 0 689.5px,#ff9800 0 696.8px,#ffa000 0 704.1px,#ffa900 0 715px,#ffb200 0 729.6px)"></i>
<i style="left:1406px;width:4px;background:linear-gradient(#00a7a2 29.2px,#00a895 0 51.1px,#00a88d 0 73px,#00a781 0 94.8px,#00a469 0 116.7px,#00a051 0 138.6px,#009d2f 0 160.5px,#00990c 0 182.4px,#009e00 0 204.3px,#00ad00 0 226.2px,#00c000 0 248.1px,#00d300 0 270px,#00e400 0 291.8px,#00f000 0 306.4px,#00fa00 0 321px,#2bfb00 0 335.6px,#9cf800 0 350.2px,#cbf100 0 364.8px,#eee900 0 379.4px,#f5de00 0 394px,#fad200 0 408.6px,#fdc800 0 419.5px,#ffbb00 0 437.8px,#ffae00 0 452.4px,#ff9f00 0 459.6px,#ff9400 0 466.9px,#ff7e00 0 474.2px,#fd6400 0 481.5px,#f84000 0 488.8px,#fc2600 0 496.1px,#ff0400 0 503.4px,#f20000 0 510.7px,#e00000 0 649.3px,#e90000 0 656.6px,#f50000 0 660.3px,#ff0f00 0 663.9px,#f93a00 0 667.6px,#fd6500 0 671.2px,#ff7700 0 674.9px,#ff8400 0 678.5px,#ff9100 0 682.2px,#ff9a00 0 689.5px,#ffa500 0 700.4px,#ffad00 0 715px,#ffb500 0 729.6px)"></i>
<i style="left:1410px;width:4px;background:linear-gradient(#00a79d 14.6px,#00a896 0 51.1px,#00a784 0 73px,#00a368 0 94.8px,#009f49 0 116.7px,#009b1f 0 138.6px,#009900 0 182.4px,#00ae00 0 204.3px,#00c000 0 226.2px,#00d400 0 248.1px,#00e600 0 270px,#00f600 0 291.8px,#0ffd00 0 306.4px,#46fa00 0 321px,#95f900 0 335.6px,#c3f300 0 350.2px,#e4eb00 0 364.8px,#f5dd00 0 379.4px,#fad200 0 394px,#fdc600 0 408.6px,#ffbb00 0 419.5px,#ffab00 0 437.8px,#ff9d00 0 445.1px,#ff8e00 0 452.4px,#ff7800 0 459.6px,#fc5900 0 466.9px,#f93a00 0 474.2px,#fc2800 0 481.5px,#ff1400 0 488.8px,#fd0000 0 496.1px,#f40000 0 503.4px,#e80000 0 510.7px,#dd0000 0 656.6px,#ea0000 0 660.3px,#f50000 0 663.9px,#ff0200 0 667.6px,#fe1c00 0 671.2px,#fd2600 0 674.9px,#fb3000 0 678.5px,#f93a00 0 682.2px,#f94800 0 685.8px,#fc5a00 0 689.5px,#fe6b00 0 693.1px,#ff7600 0 700.4px,#ff8400 0 707.7px,#ff9200 0 715px,#ff9a00 0 729.6px)"></i>
<i style="left:1414px;width:3px;background:linear-gradient(#00a893 29.2px,#00a67b 0 51.1px,#00a15a 0 73px,#009c2b 0 94.8px,#009a00 0 116.7px,#00a200 0 138.6px,#00b100 0 160.5px,#00c000 0 182.4px,#00d100 0 204.3px,#00e300 0 226.2px,#00f500 0 248.1px,#2afb00 0 270px,#9cf800 0 291.8px,#bcf400 0 306.4px,#d1f000 0 321px,#e5eb00 0 335.6px,#f4e000 0 350.2px,#fad200 0 364.8px,#fec300 0 379.4px,#ffb700 0 394px,#ffa900 0 408.6px,#ff9c00 0 419.5px,#fe6a00 0 437.8px,#fb3100 0 445.1px,#fe1b00 0 452.4px,#ff0200 0 459.6px,#f90000 0 474.2px,#ed0000 0 488.8px,#e20000 0 510.7px,#d80000 0 667.6px,#e10000 0 682.2px,#e90000 0 700.4px,#f30000 0 715px,#fb0000 0 722.3px,#ff0a00 0 726px,#ff1700 0 729.6px)"></i>
<i style="left:1417px;width:4px;background:linear-gradient(#00a88a 14.6px,#00a678 0 29.2px,#00a25e 0 51.1px,#009d36 0 73px,#009800 0 94.8px,#00a000 0 116.7px,#00b000 0 138.6px,#00c000 0 160.5px,#00d000 0 182.4px,#00e100 0 204.3px,#00ed00 0 226.2px,#06fe00 0 248.1px,#7dfa00 0 270px,#bef400 0 291.8px,#d6ee00 0 306.4px,#ebe900 0 321px,#f4df00 0 335.6px,#fad300 0 350.2px,#fdc600 0 364.8px,#ffb700 0 379.4px,#ffa800 0 394px,#ff9300 0 408.6px,#fe6700 0 419.5px,#ff1200 0 437.8px,#f40000 0 445.1px,#eb0000 0 452.4px,#e30000 0 466.9px,#db0000 0 503.4px,#d30000 0 711.4px,#db0000 0 726px,#e60000 0 729.6px)"></i>
<i style="left:1421px;width:4px;background:linear-gradient(#00a88b 14.6px,#00a575 0 29.2px,#00a053 0 51.1px,#009b19 0 73px,#009d00 0 94.8px,#00ae00 0 116.7px,#00c100 0 138.6px,#00d500 0 160.5px,#00e700 0 182.4px,#00f600 0 204.3px,#20fc00 0 226.2px,#a2f800 0 248.1px,#d5ef00 0 270px,#f4e000 0 291.8px,#f9d300 0 306.4px,#fcc900 0 321px,#ffbf00 0 335.6px,#ffb400 0 350.2px,#ffa800 0 364.8px,#ff9b00 0 379.4px,#ff7c00 0 394px,#fa4a00 0 408.6px,#fc2900 0 419.5px,#f90000 0 437.8px,#ec0000 0 452.4px,#df0000 0 488.8px,#d60000 0 729.6px)"></i>
<i style="left:1425px;width:3px;background:linear-gradient(#00a67c 14.6px,#00a261 0 29.2px,#009e39 0 51.1px,#009801 0 73px,#00a000 0 94.8px,#00b300 0 116.7px,#00c600 0 138.6px,#00da00 0 160.5px,#00ea00 0 182.4px,#00f900 0 204.3px,#29fb00 0 226.2px,#a8f800 0 248.1px,#d7ee00 0 270px,#f4df00 0 291.8px,#fad300 0 306.4px,#fcc900 0 321px,#ffbf00 0 335.6px,#ffb300 0 350.2px,#ffa800 0 364.8px,#ff9b00 0 379.4px,#ff7c00 0 394px,#fa4b00 0 408.6px,#fc2700 0 419.5px,#f80000 0 437.8px,#ec0000 0 452.4px,#df0000 0 488.8px,#d70000 0 554.5px,#cd0000 0 561.8px,#cc0a0a 0 598.3px,#cd0000 0 707.7px,#d50000 0 729.6px)"></i>
<i style="left:1428px;width:4px;background:linear-gradient(#00a784 14.6px,#00a46a 0 29.2px,#009f48 0 51.1px,#009a12 0 73px,#009d00 0 94.8px,#00ad00 0 116.7px,#00c000 0 138.6px,#00d300 0 160.5px,#00e400 0 182.4px,#00f200 0 204.3px,#09fe00 0 226.2px,#87f900 0 248.1px,#c7f200 0 270px,#f0e800 0 291.8px,#f6db00 0 306.4px,#fad000 0 321px,#fec400 0 335.6px,#ffb700 0 350.2px,#ffaa00 0 364.8px,#ff9a00 0 379.4px,#ff7500 0 394px,#f93900 0 408.6px,#ff1300 0 419.5px,#f00000 0 437.8px,#e20000 0 459.6px,#d80000 0 503.4px,#d00000 0 561.8px,#cc0a0a 0 598.3px,#ce0000 0 729.6px)"></i>
<i style="left:1432px;width:4px;background:linear-gradient(#00a88b 14.6px,#00a67a 0 29.2px,#00a25d 0 51.1px,#009d30 0 73px,#009900 0 94.8px,#00a300 0 116.7px,#00b400 0 138.6px,#00c600 0 160.5px,#00d700 0 182.4px,#00e700 0 204.3px,#00f400 0 226.2px,#2cfa00 0 248.1px,#a6f800 0 270px,#d3ef00 0 291.8px,#e8ea00 0 306.4px,#f3e300 0 321px,#f8d900 0 335.6px,#fbce00 0 350.2px,#fec300 0 364.8px,#ffb700 0 379.4px,#ffaa00 0 394px,#ff9c00 0 408.6px,#ff7d00 0 419.5px,#fc2c00 0 437.8px,#ff0000 0 452.4px,#f00000 0 466.9px,#e50000 0 488.8px,#dd0000 0 532.6px,#d50000 0 561.8px,#cc0a0a 0 598.3px,#cd0000 0 696.8px,#d50000 0 722.3px,#dd0000 0 729.6px)"></i>
<i style="left:1436px;width:3px;background:linear-gradient(#00a67b 14.6px,#00a362 0 29.2px,#009e3e 0 51.1px,#009908 0 73px,#009f00 0 94.8px,#00af00 0 116.7px,#00c200 0 138.6px,#00d400 0 160.5px,#00e500 0 182.4px,#00f300 0 204.3px,#0cfe00 0 226.2px,#8af900 0 248.1px,#c8f200 0 270px,#f0e800 0 291.8px,#f6db00 0 306.4px,#fad000 0 321px,#fdc500 0 335.6px,#ffb900 0 350.2px,#ffac00 0 364.8px,#ff9d00 0 379.4px,#ff7e00 0 394px,#f94600 0 408.6px,#fe2000 0 419.5px,#f40000 0 437.8px,#e70000 0 452.4px,#dd0000 0 488.8px,#d50000 0 561.8px,#cc0a0a 0 598.3px,#d30000 0 700.4px,#db0000 0 722.3px,#e50000 0 729.6px)"></i>
<i style="left:1439px;width:4px;background:linear-gradient(#00a88a 14.6px,#00a571 0 29.2px,#00a04c 0 51.1px,#00990e 0 73px,#009f00 0 94.8px,#00b200 0 116.7px,#00c700 0 138.6px,#00db00 0 160.5px,#00ec00 0 182.4px,#00fc00 0 204.3px,#49fa00 0 226.2px,#b5f500 0 248.1px,#e3eb00 0 270px,#f8d700 0 291.8px,#fcc900 0 306.4px,#ffbe00 0 321px,#ffb200 0 335.6px,#ffa500 0 350.2px,#ff9700 0 364.8px,#ff7200 0 379.4px,#f93c00 0 394px,#ff1900 0 408.6px,#fb0000 0 419.5px,#e80000 0 437.8px,#de0000 0 459.6px,#d60000 0 510.7px,#ce0000 0 561.8px,#cc0a0a 0 598.3px,#cc0000 0 707.7px,#d40000 0 729.6px)"></i>
<i style="left:1443px;width:4px;background:linear-gradient(#00a88e 14.6px,#00a77f 0 29.2px,#00a25c 0 51.1px,#009c27 0 73px,#009c00 0 94.8px,#00aa00 0 116.7px,#00be00 0 138.6px,#00d200 0 160.5px,#00e500 0 182.4px,#00f400 0 204.3px,#15fd00 0 226.2px,#98f900 0 248.1px,#d2f000 0 270px,#f3e200 0 291.8px,#f9d600 0 306.4px,#fbcd00 0 321px,#fec400 0 335.6px,#ffbb00 0 350.2px,#ffb100 0 364.8px,#ffa700 0 379.4px,#ff9b00 0 394px,#ff8200 0 408.6px,#fc5b00 0 419.5px,#ff1b00 0 437.8px,#fc0000 0 452.4px,#ef0000 0 466.9px,#e70000 0 481.5px,#df0000 0 525.3px,#d70000 0 561.8px,#cc0a0a 0 598.3px,#cf0000 0 715px,#d70000 0 729.6px)"></i>
<i style="left:1447px;width:3px;background:linear-gradient(#00a362 14.6px,#009f48 0 29.2px,#009b1f 0 51.1px,#009a00 0 73px,#00a300 0 94.8px,#00b500 0 116.7px,#00c600 0 138.6px,#00d800 0 160.5px,#00e700 0 182.4px,#00f500 0 204.3px,#0efd00 0 226.2px,#89f900 0 248.1px,#c6f200 0 270px,#ede900 0 291.8px,#f6dd00 0 306.4px,#fad000 0 321px,#fec300 0 335.6px,#ffb500 0 350.2px,#ffa500 0 364.8px,#ff8e00 0 379.4px,#fb5700 0 394px,#fd2300 0 408.6px,#fa0000 0 419.5px,#e60000 0 437.8px,#dd0000 0 459.6px,#d30000 0 729.6px)"></i>
<i style="left:1450px;width:4px;background:linear-gradient(#00a889 14.6px,#00a571 0 29.2px,#00a04f 0 51.1px,#009a15 0 73px,#009e00 0 94.8px,#00ae00 0 116.7px,#00c200 0 138.6px,#00d500 0 160.5px,#00e700 0 182.4px,#00f600 0 204.3px,#1cfc00 0 226.2px,#9ef800 0 248.1px,#d3ef00 0 270px,#f3e100 0 291.8px,#f9d400 0 306.4px,#fcca00 0 321px,#ffc000 0 335.6px,#ffb500 0 350.2px,#ffa900 0 364.8px,#ff9c00 0 379.4px,#ff7e00 0 394px,#fa4d00 0 408.6px,#fd2100 0 419.5px,#f70000 0 437.8px,#ec0000 0 452.4px,#df0000 0 496.1px,#d70000 0 671.2px,#cf0000 0 722.3px,#d70000 0 729.6px)"></i>
<i style="left:1454px;width:4px;background:linear-gradient(#00a894 14.6px,#00a88c 0 29.2px,#00a572 0 51.1px,#009f45 0 73px,#009802 0 94.8px,#00a200 0 116.7px,#00b600 0 138.6px,#00ca00 0 160.5px,#00de00 0 182.4px,#00ee00 0 204.3px,#00fd00 0 226.2px,#7afa00 0 248.1px,#c3f300 0 270px,#eee800 0 291.8px,#f6dc00 0 306.4px,#fad300 0 321px,#fcc900 0 335.6px,#ffbf00 0 350.2px,#ffb300 0 364.8px,#ffa700 0 379.4px,#ff9a00 0 394px,#ff7a00 0 408.6px,#f83f00 0 419.5px,#ff0900 0 437.8px,#f60000 0 452.4px,#e80000 0 474.2px,#df0000 0 510.7px,#d70000 0 620.2px,#cf0000 0 726px,#d80000 0 729.6px)"></i>
<i style="left:1458px;width:3px;background:linear-gradient(#009e00 29.2px,#00a700 0 73px,#00b600 0 116.7px,#00ca00 0 138.6px,#00dd00 0 160.5px,#00ec00 0 182.4px,#00fb00 0 204.3px,#2ffa00 0 226.2px,#aff700 0 248.1px,#dfec00 0 270px,#f7da00 0 291.8px,#fcca00 0 306.4px,#ffbd00 0 321px,#ffae00 0 335.6px,#ff9f00 0 350.2px,#ff7e00 0 364.8px,#f83f00 0 379.4px,#ff1500 0 394px,#f10000 0 408.6px,#e50000 0 419.5px,#dc0000 0 474.2px,#d40000 0 729.6px)"></i>
<i style="left:1461px;width:4px;background:linear-gradient(#009a00 51.1px,#00a800 0 73px,#00b000 0 94.8px,#00b900 0 116.7px,#00c700 0 138.6px,#00db00 0 160.5px,#00eb00 0 182.4px,#00fa00 0 204.3px,#35fa00 0 226.2px,#b2f600 0 248.1px,#e3eb00 0 270px,#f8d700 0 291.8px,#fdc500 0 306.4px,#ffb700 0 321px,#ffa700 0 335.6px,#ff9200 0 350.2px,#fc5a00 0 364.8px,#fd2300 0 379.4px,#fb0000 0 394px,#e70000 0 408.6px,#de0000 0 437.8px,#d40000 0 503.4px,#cc0000 0 707.7px,#d40000 0 726px,#dd0000 0 729.6px)"></i>
<i style="left:1465px;width:4px;background:linear-gradient(#009a16 14.6px,#009801 0 51.1px,#009f00 0 73px,#00a700 0 94.8px,#00af00 0 116.7px,#00bd00 0 138.6px,#00d100 0 160.5px,#00e400 0 182.4px,#00f300 0 204.3px,#0ffd00 0 226.2px,#9af900 0 248.1px,#d5ef00 0 270px,#f5df00 0 291.8px,#fbcf00 0 306.4px,#fec300 0 321px,#ffb700 0 335.6px,#ffa900 0 350.2px,#ff9a00 0 364.8px,#ff7400 0 379.4px,#fa3700 0 394px,#ff0000 0 408.6px,#f50000 0 419.5px,#e90000 0 437.8px,#e10000 0 503.4px,#d90000 0 718.7px,#e10000 0 726px,#ec0000 0 729.6px)"></i>
<i style="left:1469px;width:3px;background:linear-gradient(#00a400 29.2px,#00ac00 0 73px,#00b800 0 116.7px,#00ca00 0 138.6px,#00db00 0 160.5px,#00e900 0 182.4px,#00f600 0 204.3px,#16fd00 0 226.2px,#97f900 0 248.1px,#d0f000 0 270px,#f2e400 0 291.8px,#f9d400 0 306.4px,#fdc700 0 321px,#ffb900 0 335.6px,#ffaa00 0 350.2px,#ff9800 0 364.8px,#fe6700 0 379.4px,#fc2700 0 394px,#f90000 0 408.6px,#ed0000 0 419.5px,#e00000 0 481.5px,#d80000 0 569.1px,#d00000 0 711.4px,#d80000 0 729.6px)"></i>
<i style="left:1472px;width:4px;background:linear-gradient(#009b00 51.1px,#00a400 0 94.8px,#00b100 0 116.7px,#00bd00 0 138.6px,#00cf00 0 160.5px,#00e100 0 182.4px,#00ee00 0 204.3px,#00fc00 0 226.2px,#76fa00 0 248.1px,#c1f300 0 270px,#ebe900 0 291.8px,#f7db00 0 306.4px,#fbcc00 0 321px,#ffbd00 0 335.6px,#ffac00 0 350.2px,#ff9900 0 364.8px,#fd6100 0 379.4px,#fe1d00 0 394px,#f60000 0 408.6px,#e90000 0 419.5px,#de0000 0 466.9px,#d60000 0 525.3px,#ce0000 0 718.7px,#d60000 0 729.6px)"></i>
<i style="left:1476px;width:4px;background:linear-gradient(#009c00 51.1px,#00ab00 0 94.8px,#00ba00 0 116.7px,#00c700 0 138.6px,#00da00 0 160.5px,#00ea00 0 182.4px,#00f800 0 204.3px,#23fb00 0 226.2px,#a9f800 0 248.1px,#daed00 0 270px,#f6dd00 0 291.8px,#fccb00 0 306.4px,#ffbc00 0 321px,#ffab00 0 335.6px,#ff9900 0 350.2px,#fd6300 0 364.8px,#fd2500 0 379.4px,#f80000 0 394px,#e80000 0 408.6px,#de0000 0 437.8px,#d60000 0 525.3px,#ce0000 0 693.1px,#d60000 0 718.7px,#de0000 0 726px,#e60000 0 729.6px)"></i>
<i style="left:1480px;width:3px;background:linear-gradient(#009c00 51.1px,#00a700 0 94.8px,#00b300 0 116.7px,#00be00 0 138.6px,#00d000 0 160.5px,#00e100 0 182.4px,#00ee00 0 204.3px,#00fb00 0 226.2px,#6ffa00 0 248.1px,#bdf400 0 270px,#e7ea00 0 291.8px,#f5dd00 0 306.4px,#fad000 0 321px,#fec200 0 335.6px,#ffb300 0 350.2px,#ffa200 0 364.8px,#ff8200 0 379.4px,#fa3600 0 394px,#ff0700 0 408.6px,#f60000 0 419.5px,#ea0000 0 445.1px,#e10000 0 503.4px,#d90000 0 729.6px)"></i>
<i style="left:1483px;width:4px;background:linear-gradient(#00990e 14.6px,#009900 0 73px,#00a600 0 116.7px,#00bb00 0 138.6px,#00ce00 0 160.5px,#00e100 0 182.4px,#00ef00 0 204.3px,#00fe00 0 226.2px,#82f900 0 248.1px,#c9f100 0 270px,#f1e600 0 291.8px,#f9d500 0 306.4px,#fdc700 0 321px,#ffb800 0 335.6px,#ffa800 0 350.2px,#ff9300 0 364.8px,#fc5b00 0 379.4px,#ff1900 0 394px,#f90000 0 408.6px,#ee0000 0 419.5px,#e20000 0 481.5px,#da0000 0 576.4px,#d20000 0 711.4px,#da0000 0 726px,#e20000 0 729.6px)"></i>
<i style="left:1487px;width:4px;background:linear-gradient(#009c00 51.1px,#00a500 0 94.8px,#00af00 0 116.7px,#00ba00 0 138.6px,#00ca00 0 160.5px,#00db00 0 182.4px,#00e900 0 204.3px,#00f500 0 226.2px,#39fa00 0 248.1px,#adf700 0 270px,#d9ee00 0 291.8px,#f2e500 0 306.4px,#f9d600 0 321px,#fdc700 0 335.6px,#ffb500 0 350.2px,#ffa200 0 364.8px,#ff7c00 0 379.4px,#fc2800 0 394px,#fc0000 0 408.6px,#f10000 0 419.5px,#e30000 0 459.6px,#db0000 0 525.3px,#d30000 0 700.4px,#db0000 0 718.7px,#e50000 0 726px,#f20000 0 729.6px)"></i>
<i style="left:1491px;width:3px;background:linear-gradient(#009f00 29.2px,#00a700 0 73px,#00b400 0 116.7px,#00c500 0 138.6px,#00d700 0 160.5px,#00e600 0 182.4px,#00f400 0 204.3px,#0afe00 0 226.2px,#8df900 0 248.1px,#ccf100 0 270px,#f1e600 0 291.8px,#f9d400 0 306.4px,#fec500 0 321px,#ffb300 0 335.6px,#ffa000 0 350.2px,#ff7800 0 364.8px,#fb2f00 0 379.4px,#f80000 0 394px,#eb0000 0 408.6px,#e00000 0 445.1px,#d80000 0 532.6px,#d00000 0 693.1px,#d80000 0 718.7px,#e00000 0 726px,#eb0000 0 729.6px)"></i>
<i style="left:1494px;width:4px;background:linear-gradient(#009908 14.6px,#009a00 0 73px,#00a900 0 94.8px,#00b300 0 116.7px,#00ca00 0 138.6px,#00e000 0 160.5px,#00f200 0 182.4px,#39fa00 0 204.3px,#c6f200 0 226.2px,#f2e400 0 248.1px,#fbce00 0 270px,#ffb600 0 291.8px,#ff9e00 0 306.4px,#ff7200 0 321px,#fd2300 0 335.6px,#fa0000 0 350.2px,#f20000 0 364.8px,#e90000 0 379.4px,#e10000 0 445.1px,#d90000 0 561.8px,#fe1f00 0 569.1px,#ff9f00 0 576.4px,#ffae00 0 711.4px,#ff9e00 0 715px,#ff8300 0 718.7px,#fb5200 0 722.3px,#ff0c00 0 726px,#ee0000 0 729.6px)"></i>
<i style="left:1498px;width:4px;background:linear-gradient(#009e00 51.1px,#00ab00 0 94.8px,#00ba00 0 116.7px,#00cf00 0 138.6px,#00e300 0 160.5px,#00f300 0 182.4px,#36fa00 0 204.3px,#c2f300 0 226.2px,#f0e700 0 248.1px,#f9d300 0 270px,#ffbe00 0 291.8px,#ffa900 0 306.4px,#ff8f00 0 321px,#f84000 0 335.6px,#ff1300 0 350.2px,#fc0000 0 364.8px,#f40000 0 379.4px,#eb0000 0 394px,#e30000 0 481.5px,#db0000 0 561.8px,#ff1900 0 569.1px,#ff9b00 0 576.4px,#ffa900 0 711.4px,#ff9800 0 715px,#ff7400 0 718.7px,#f93d00 0 722.3px,#fe0000 0 726px,#ea0000 0 729.6px)"></i>
<i style="left:1502px;width:3px;background:linear-gradient(#009a19 14.6px,#009801 0 51.1px,#00a300 0 73px,#00b200 0 94.8px,#00c200 0 116.7px,#00d100 0 138.6px,#00e000 0 160.5px,#00ec00 0 182.4px,#00f800 0 204.3px,#15fd00 0 226.2px,#a2f800 0 248.1px,#deec00 0 270px,#f6dc00 0 291.8px,#fbce00 0 306.4px,#fec300 0 321px,#ffb600 0 335.6px,#ffa900 0 350.2px,#ff9b00 0 364.8px,#ff7800 0 379.4px,#f83e00 0 394px,#ff0000 0 408.6px,#f50000 0 419.5px,#ea0000 0 437.8px,#e00000 0 539.9px,#d80000 0 718.7px,#e00000 0 729.6px)"></i>
<i style="left:1505px;width:4px;background:linear-gradient(#009e3b 14.6px,#009b21 0 29.2px,#009801 0 73px,#00ab00 0 94.8px,#00bb00 0 116.7px,#00cb00 0 138.6px,#00db00 0 160.5px,#00e800 0 182.4px,#00f400 0 204.3px,#07fe00 0 226.2px,#96f900 0 248.1px,#daed00 0 270px,#f5de00 0 291.8px,#fad000 0 306.4px,#fec400 0 321px,#ffb700 0 335.6px,#ffaa00 0 350.2px,#ff9b00 0 364.8px,#ff7700 0 379.4px,#f93b00 0 394px,#fe0000 0 408.6px,#f40000 0 419.5px,#e70000 0 437.8px,#df0000 0 729.6px)"></i>
<i style="left:1509px;width:4px;background:linear-gradient(#009d36 14.6px,#009b1e 0 29.2px,#009800 0 73px,#00ab00 0 94.8px,#00ba00 0 116.7px,#00c900 0 138.6px,#00d800 0 160.5px,#00e600 0 182.4px,#00f100 0 204.3px,#00fd00 0 226.2px,#85f900 0 248.1px,#d2ef00 0 270px,#f2e300 0 291.8px,#f9d600 0 306.4px,#fcca00 0 321px,#ffbf00 0 335.6px,#ffb100 0 350.2px,#ffa300 0 364.8px,#ff8c00 0 379.4px,#fc5c00 0 394px,#ff1700 0 408.6px,#fb0000 0 419.5px,#ee0000 0 437.8px,#e30000 0 729.6px)"></i>
<i style="left:1513px;width:3px;background:linear-gradient(#00a469 14.6px,#00a156 0 29.2px,#009d37 0 51.1px,#009804 0 73px,#009f00 0 94.8px,#00af00 0 116.7px,#00bf00 0 138.6px,#00cf00 0 160.5px,#00e000 0 182.4px,#00ec00 0 204.3px,#00f900 0 226.2px,#76fa00 0 248.1px,#cef000 0 270px,#f2e500 0 291.8px,#f9d600 0 306.4px,#fcc900 0 321px,#ffbc00 0 335.6px,#ffad00 0 350.2px,#ff9d00 0 364.8px,#ff7700 0 379.4px,#fa3700 0 394px,#fc0000 0 408.6px,#f00000 0 419.5px,#e10000 0 445.1px,#d90000 0 576.4px,#e30000 0 612.9px,#ec0000 0 704.1px,#f40000 0 722.3px,#fc0000 0 729.6px)"></i>
<i style="left:1516px;width:4px;background:linear-gradient(#00a04d 14.6px,#009d31 0 29.2px,#009a0f 0 51.1px,#009c00 0 73px,#00a900 0 94.8px,#00b900 0 116.7px,#00c900 0 138.6px,#00da00 0 160.5px,#00e800 0 182.4px,#00f500 0 204.3px,#0afe00 0 226.2px,#9cf800 0 248.1px,#dded00 0 270px,#f6dc00 0 291.8px,#fbcd00 0 306.4px,#ffc100 0 321px,#ffb200 0 335.6px,#ffa200 0 350.2px,#ff8800 0 364.8px,#fa4e00 0 379.4px,#fe1f00 0 394px,#f50000 0 408.6px,#e90000 0 419.5px,#dd0000 0 452.4px,#d50000 0 707.7px,#dd0000 0 729.6px)"></i>
<i style="left:1520px;width:4px;background:linear-gradient(#009905 29.2px,#009e00 0 51.1px,#00a700 0 73px,#00b600 0 94.8px,#00c400 0 116.7px,#00d300 0 138.6px,#00e100 0 160.5px,#00ed00 0 182.4px,#00f800 0 204.3px,#14fd00 0 226.2px,#9ff800 0 248.1px,#dced00 0 270px,#f5de00 0 291.8px,#fad000 0 306.4px,#fec400 0 321px,#ffb600 0 335.6px,#ffa800 0 350.2px,#ff9700 0 364.8px,#fe6900 0 379.4px,#fb2f00 0 394px,#fb0000 0 408.6px,#ef0000 0 419.5px,#e00000 0 445.1px,#d80000 0 704.1px,#e00000 0 718.7px,#e90000 0 726px,#f10000 0 729.6px)"></i>
<i style="left:1524px;width:3px;background:linear-gradient(#00a46b 14.6px,#00a157 0 29.2px,#009e38 0 51.1px,#009905 0 73px,#009f00 0 94.8px,#00ae00 0 116.7px,#00bf00 0 138.6px,#00cf00 0 160.5px,#00e000 0 182.4px,#00ec00 0 204.3px,#00f900 0 226.2px,#76fa00 0 248.1px,#cef000 0 270px,#f2e500 0 291.8px,#f8d700 0 306.4px,#fccc00 0 321px,#ffc000 0 335.6px,#ffb300 0 350.2px,#ffa500 0 364.8px,#ff9200 0 379.4px,#fd6500 0 394px,#fd2200 0 408.6px,#fd0000 0 419.5px,#ee0000 0 437.8px,#e10000 0 678.5px,#e90000 0 711.4px,#f20000 0 726px,#fb0000 0 729.6px)"></i>
<i style="left:1527px;width:4px;background:linear-gradient(#00990a 14.6px,#009900 0 51.1px,#00a400 0 73px,#00b200 0 94.8px,#00c000 0 116.7px,#00ce00 0 138.6px,#00dc00 0 160.5px,#00e800 0 182.4px,#00f200 0 204.3px,#00fd00 0 226.2px,#81f900 0 248.1px,#cff000 0 270px,#f1e600 0 291.8px,#f7da00 0 306.4px,#fbcf00 0 321px,#fec400 0 335.6px,#ffb700 0 350.2px,#ffa900 0 364.8px,#ff9a00 0 379.4px,#ff7600 0 394px,#fb3000 0 408.6px,#ff0900 0 419.5px,#f10000 0 437.8px,#e40000 0 481.5px,#dc0000 0 729.6px)"></i>
<i style="left:1531px;width:4px;background:linear-gradient(#00a88a 14.6px,#00a67b 0 29.2px,#00a260 0 51.1px,#009d2f 0 73px,#009a00 0 94.8px,#00a600 0 116.7px,#00b700 0 138.6px,#00c900 0 160.5px,#00db00 0 182.4px,#00ea00 0 204.3px,#00f700 0 226.2px,#72fa00 0 248.1px,#cef000 0 270px,#f2e400 0 291.8px,#f8d600 0 306.4px,#fbcc00 0 321px,#ffc200 0 335.6px,#ffb600 0 350.2px,#ffa900 0 364.8px,#ff9c00 0 379.4px,#ff7d00 0 394px,#f93b00 0 408.6px,#ff1800 0 419.5px,#f60000 0 437.8px,#e90000 0 452.4px,#e00000 0 729.6px)"></i>
<i style="left:1535px;width:3px;background:linear-gradient(#009e3f 14.6px,#009c25 0 29.2px,#009905 0 51.1px,#009d00 0 73px,#00aa00 0 94.8px,#00ba00 0 116.7px,#00c900 0 138.6px,#00d900 0 160.5px,#00e700 0 182.4px,#00f300 0 204.3px,#00ff00 0 226.2px,#8ef900 0 248.1px,#d6ee00 0 270px,#f4e100 0 291.8px,#f9d400 0 306.4px,#fcc900 0 321px,#ffbf00 0 335.6px,#ffb200 0 350.2px,#ffa500 0 364.8px,#ff9500 0 379.4px,#ff7000 0 394px,#fb2f00 0 408.6px,#ff0800 0 419.5px,#f10000 0 437.8px,#e30000 0 488.8px,#db0000 0 722.3px,#e50000 0 729.6px)"></i>
<i style="left:1538px;width:4px;background:linear-gradient(#00a25e 14.6px,#009f48 0 29.2px,#009c26 0 51.1px,#009a00 0 73px,#00a300 0 94.8px,#00b400 0 116.7px,#00c400 0 138.6px,#00d500 0 160.5px,#00e400 0 182.4px,#00f100 0 204.3px,#00fe00 0 226.2px,#8cf900 0 248.1px,#d7ee00 0 270px,#f4e000 0 291.8px,#f9d300 0 306.4px,#fcc900 0 321px,#ffbe00 0 335.6px,#ffb200 0 350.2px,#ffa600 0 364.8px,#ff9900 0 379.4px,#ff7500 0 394px,#f93800 0 408.6px,#ff1300 0 419.5px,#f40000 0 437.8px,#e60000 0 452.4px,#de0000 0 726px,#e80000 0 729.6px)"></i>
<i style="left:1542px;width:4px;background:linear-gradient(#00a051 14.6px,#009d37 0 29.2px,#009a16 0 51.1px,#009c00 0 73px,#00a700 0 94.8px,#00b700 0 116.7px,#00c700 0 138.6px,#00d700 0 160.5px,#00e600 0 182.4px,#00f200 0 204.3px,#00fe00 0 226.2px,#8ef900 0 248.1px,#d7ee00 0 270px,#f4e000 0 291.8px,#f9d300 0 306.4px,#fdc900 0 321px,#ffbe00 0 335.6px,#ffb100 0 350.2px,#ffa400 0 364.8px,#ff9300 0 379.4px,#fe6b00 0 394px,#fb3000 0 408.6px,#ff0700 0 419.5px,#ef0000 0 437.8px,#e10000 0 496.1px,#d90000 0 704.1px,#e20000 0 722.3px,#eb0000 0 729.6px)"></i>
<i style="left:1546px;width:3px;background:linear-gradient(#009f4a 14.6px,#009d2e 0 29.2px,#00990c 0 51.1px,#009d00 0 73px,#00aa00 0 94.8px,#00ba00 0 116.7px,#00cb00 0 138.6px,#00db00 0 160.5px,#00e900 0 182.4px,#00f600 0 204.3px,#10fd00 0 226.2px,#a1f800 0 248.1px,#e0ec00 0 270px,#f7db00 0 291.8px,#fbce00 0 306.4px,#fec400 0 321px,#ffb800 0 335.6px,#ffac00 0 350.2px,#ff9f00 0 364.8px,#ff8700 0 379.4px,#fc5900 0 394px,#fc2800 0 408.6px,#fe0000 0 419.5px,#ed0000 0 437.8px,#df0000 0 718.7px,#e70000 0 729.6px)"></i>
<i style="left:1549px;width:4px;background:linear-gradient(#00a25f 14.6px,#009f49 0 29.2px,#009c26 0 51.1px,#009a00 0 73px,#00a300 0 94.8px,#00b400 0 116.7px,#00c500 0 138.6px,#00d600 0 160.5px,#00e500 0 182.4px,#00f200 0 204.3px,#00ff00 0 226.2px,#91f900 0 248.1px,#d9ee00 0 270px,#f5df00 0 291.8px,#fad200 0 306.4px,#fcc900 0 321px,#ffc000 0 335.6px,#ffb500 0 350.2px,#ffaa00 0 364.8px,#ff9e00 0 379.4px,#ff8700 0 394px,#fc5b00 0 408.6px,#fc2b00 0 419.5px,#fb0000 0 437.8px,#ec0000 0 452.4px,#e10000 0 729.6px)"></i>
<i style="left:1553px;width:4px;background:linear-gradient(#00a46f 14.6px,#00a15a 0 29.2px,#009e3a 0 51.1px,#009803 0 73px,#00a000 0 94.8px,#00b100 0 116.7px,#00c200 0 138.6px,#00d400 0 160.5px,#00e400 0 182.4px,#00f100 0 204.3px,#00ff00 0 226.2px,#93f900 0 248.1px,#dbed00 0 270px,#f6dd00 0 291.8px,#fad100 0 306.4px,#fdc800 0 321px,#ffbf00 0 335.6px,#ffb500 0 350.2px,#ffab00 0 364.8px,#ff9f00 0 379.4px,#ff8d00 0 394px,#fe6b00 0 408.6px,#fa3500 0 419.5px,#fe0000 0 437.8px,#f00000 0 445.1px,#e80000 0 576.4px,#f10000 0 726px,#fb0000 0 729.6px)"></i>
<i style="left:1557px;width:3px;background:linear-gradient(#009a16 14.6px,#009800 0 51.1px,#00a400 0 73px,#00b300 0 94.8px,#00c200 0 116.7px,#00d100 0 138.6px,#00e000 0 160.5px,#00ec00 0 182.4px,#00f800 0 204.3px,#15fd00 0 226.2px,#a2f800 0 248.1px,#deed00 0 270px,#f5dd00 0 291.8px,#fad100 0 306.4px,#fdc700 0 321px,#ffbc00 0 335.6px,#ffaf00 0 350.2px,#ffa200 0 364.8px,#ff8d00 0 379.4px,#fd6300 0 394px,#fb3100 0 408.6px,#ff0500 0 419.5px,#ec0000 0 437.8px,#df0000 0 474.2px,#d70000 0 700.4px,#df0000 0 722.3px,#e90000 0 729.6px)"></i>
<i style="left:1560px;width:4px;background:linear-gradient(#00a889 14.6px,#00a677 0 29.2px,#00a25e 0 51.1px,#009e3a 0 73px,#009a0f 0 94.8px,#009e00 0 116.7px,#00b100 0 138.6px,#00c700 0 160.5px,#00dc00 0 182.4px,#00ee00 0 204.3px,#00ff00 0 226.2px,#8ff900 0 248.1px,#d6ef00 0 270px,#f3e100 0 291.8px,#f9d600 0 306.4px,#fccc00 0 321px,#ffc200 0 335.6px,#ffb600 0 350.2px,#ffaa00 0 364.8px,#ff9d00 0 379.4px,#ff8100 0 394px,#fb5100 0 408.6px,#fb2d00 0 419.5px,#fb0000 0 437.8px,#e90000 0 445.1px,#df0000 0 481.5px,#d70000 0 667.6px,#df0000 0 715px,#e70000 0 726px,#ef0000 0 729.6px)"></i>
<i style="left:1564px;width:4px;background:linear-gradient(#00a678 14.6px,#00a364 0 29.2px,#009f48 0 51.1px,#009b1c 0 73px,#009a00 0 94.8px,#00a400 0 116.7px,#00ba00 0 138.6px,#00d000 0 160.5px,#00e500 0 182.4px,#00f600 0 204.3px,#24fb00 0 226.2px,#aef700 0 248.1px,#e6eb00 0 270px,#f8d700 0 291.8px,#fccc00 0 306.4px,#fec300 0 321px,#ffb900 0 335.6px,#ffaf00 0 350.2px,#ffa400 0 364.8px,#ff9800 0 379.4px,#ff7a00 0 394px,#fa4e00 0 408.6px,#fb2f00 0 419.5px,#fd0000 0 437.8px,#ec0000 0 445.1px,#e20000 0 466.9px,#da0000 0 722.3px,#e30000 0 729.6px)"></i>
<i style="left:1568px;width:3px;background:linear-gradient(#00a46d 14.6px,#00a159 0 29.2px,#009e3a 0 51.1px,#009a10 0 73px,#009b00 0 94.8px,#00a600 0 116.7px,#00bb00 0 138.6px,#00d100 0 160.5px,#00e500 0 182.4px,#00f600 0 204.3px,#22fb00 0 226.2px,#acf700 0 248.1px,#e4eb00 0 270px,#f7d900 0 291.8px,#fbcd00 0 306.4px,#fec200 0 321px,#ffb600 0 335.6px,#ffaa00 0 350.2px,#ff9c00 0 364.8px,#ff7d00 0 379.4px,#f94800 0 394px,#fd2100 0 408.6px,#fe0000 0 419.5px,#ed0000 0 437.8px,#de0000 0 452.4px,#d50000 0 722.3px,#dd0000 0 729.6px)"></i>
<i style="left:1571px;width:4px;background:linear-gradient(#00a893 29.2px,#00a67c 0 51.1px,#00a25c 0 73px,#009d34 0 94.8px,#009a00 0 116.7px,#00a900 0 138.6px,#00bf00 0 160.5px,#00d600 0 182.4px,#00ea00 0 204.3px,#00fb00 0 226.2px,#81f900 0 248.1px,#d1f000 0 270px,#f2e300 0 291.8px,#f8d700 0 306.4px,#fbcd00 0 321px,#fec300 0 335.6px,#ffb700 0 350.2px,#ffab00 0 364.8px,#ff9e00 0 379.4px,#ff8200 0 394px,#fb5300 0 408.6px,#fb2d00 0 419.5px,#fb0000 0 437.8px,#e80000 0 445.1px,#df0000 0 466.9px,#d60000 0 510.7px,#ce0000 0 554.5px,#cc0a0a 0 561.8px,#c82b20 0 642px,#cc0a0a 0 649.3px,#cd0000 0 704.1px,#d60000 0 726px,#df0000 0 729.6px)"></i>
<i style="left:1575px;width:4px;background:linear-gradient(#00a678 14.6px,#00a365 0 29.2px,#00a04d 0 51.1px,#009c24 0 73px,#009900 0 116.7px,#00b500 0 138.6px,#00ca00 0 160.5px,#00df00 0 182.4px,#00f000 0 204.3px,#05fe00 0 226.2px,#94f900 0 248.1px,#d7ee00 0 270px,#f4e100 0 291.8px,#f9d500 0 306.4px,#fccb00 0 321px,#ffc100 0 335.6px,#ffb500 0 350.2px,#ffa900 0 364.8px,#ff9c00 0 379.4px,#ff7f00 0 394px,#fa4e00 0 408.6px,#fc2a00 0 419.5px,#fa0000 0 437.8px,#e80000 0 445.1px,#df0000 0 466.9px,#d60000 0 510.7px,#ce0000 0 554.5px,#cc0a0a 0 561.8px,#c82b20 0 642px,#cc0a0a 0 649.3px,#cc0000 0 707.7px,#d40000 0 726px,#dc0000 0 729.6px)"></i>
<i style="left:1579px;width:3px;background:linear-gradient(#00a896 29.2px,#00a783 0 51.1px,#00a362 0 73px,#009e3b 0 94.8px,#009900 0 116.7px,#00a800 0 138.6px,#00bf00 0 160.5px,#00d500 0 182.4px,#00ea00 0 204.3px,#00fb00 0 226.2px,#83f900 0 248.1px,#d3ef00 0 270px,#f3e200 0 291.8px,#f9d600 0 306.4px,#fbcd00 0 321px,#fec400 0 335.6px,#ffba00 0 350.2px,#ffb000 0 364.8px,#ffa500 0 379.4px,#ff9900 0 394px,#ff7a00 0 408.6px,#fb5300 0 419.5px,#ff1a00 0 437.8px,#f40000 0 445.1px,#ea0000 0 452.4px,#e00000 0 488.8px,#d80000 0 554.5px,#cc0a0a 0 561.8px,#c82b20 0 642px,#cc0a0a 0 649.3px,#d00000 0 711.4px,#d80000 0 729.6px)"></i>
<i style="left:1582px;width:4px;background:linear-gradient(#00a88e 29.2px,#00a573 0 51.1px,#00a158 0 73px,#009d34 0 94.8px,#009900 0 116.7px,#00a500 0 138.6px,#00ba00 0 160.5px,#00cf00 0 182.4px,#00e300 0 204.3px,#00f300 0 226.2px,#41fa00 0 248.1px,#baf400 0 270px,#e2eb00 0 291.8px,#f2e500 0 306.4px,#f7db00 0 321px,#fad000 0 335.6px,#fdc600 0 350.2px,#ffba00 0 364.8px,#ffae00 0 379.4px,#ffa000 0 394px,#ff8800 0 408.6px,#fd6100 0 419.5px,#fe1c00 0 437.8px,#f40000 0 445.1px,#e90000 0 452.4px,#df0000 0 729.6px)"></i>
<i style="left:1586px;width:4px;background:linear-gradient(#00a600 29.2px,#00ae00 0 73px,#00b800 0 116.7px,#00cb00 0 138.6px,#00db00 0 160.5px,#00e800 0 182.4px,#00f400 0 204.3px,#0dfe00 0 226.2px,#a1f800 0 248.1px,#dbed00 0 270px,#f1e600 0 291.8px,#f7db00 0 306.4px,#fad100 0 321px,#fdc600 0 335.6px,#ffbb00 0 350.2px,#ffae00 0 364.8px,#ffa100 0 379.4px,#ff8a00 0 394px,#fc5e00 0 408.6px,#fc2700 0 419.5px,#f60000 0 437.8px,#e50000 0 452.4px,#dc0000 0 729.6px)"></i>
<i style="left:1590px;width:3px;background:linear-gradient(#00a000 29.2px,#00a800 0 73px,#00b300 0 116.7px,#00c700 0 138.6px,#00d600 0 160.5px,#00e500 0 182.4px,#00f100 0 204.3px,#02ff00 0 226.2px,#98f900 0 248.1px,#d9ee00 0 270px,#f1e700 0 291.8px,#f6dc00 0 306.4px,#fad100 0 321px,#fdc700 0 335.6px,#ffbb00 0 350.2px,#ffae00 0 364.8px,#ffa000 0 379.4px,#ff8800 0 394px,#fc5800 0 408.6px,#fd2300 0 419.5px,#f40000 0 437.8px,#e30000 0 452.4px,#db0000 0 729.6px)"></i>
<i style="left:1593px;width:4px;background:linear-gradient(#009e41 14.6px,#009d2e 0 29.2px,#009a17 0 51.1px,#009900 0 116.7px,#00b000 0 138.6px,#00c300 0 160.5px,#00d600 0 182.4px,#00e700 0 204.3px,#00fc00 0 226.2px,#8df900 0 248.1px,#d4ef00 0 270px,#f2e400 0 291.8px,#fad200 0 306.4px,#fec200 0 321px,#ffb000 0 335.6px,#ff9b00 0 350.2px,#fc5d00 0 364.8px,#ff1400 0 379.4px,#f90000 0 394px,#ee0000 0 408.6px,#e30000 0 445.1px,#db0000 0 561.8px,#fc2900 0 569.1px,#ff8200 0 576.4px,#ff9e00 0 642px,#fd6400 0 649.3px,#fd0000 0 656.6px,#df0000 0 722.3px,#ec0000 0 729.6px)"></i>
<i style="left:1597px;width:4px;background:linear-gradient(#009f00 29.2px,#00a800 0 73px,#00b600 0 116.7px,#00ce00 0 138.6px,#00e000 0 160.5px,#00ef00 0 182.4px,#00fd00 0 204.3px,#76fa00 0 226.2px,#ccf100 0 248.1px,#f4e100 0 270px,#fccc00 0 291.8px,#ffb900 0 306.4px,#ffa800 0 321px,#ff8f00 0 335.6px,#fa5000 0 350.2px,#ff1600 0 364.8px,#f30000 0 379.4px,#ea0000 0 394px,#e00000 0 452.4px,#d80000 0 561.8px,#fc2900 0 569.1px,#ff8400 0 576.4px,#ff9e00 0 634.8px,#ff9600 0 642px,#fb5500 0 649.3px,#f80000 0 656.6px,#dd0000 0 682.2px,#d50000 0 722.3px,#dd0000 0 729.6px)"></i>
<i style="left:1601px;width:3px;background:linear-gradient(#009c27 14.6px,#009a13 0 29.2px,#009900 0 94.8px,#00a700 0 116.7px,#00b800 0 138.6px,#00ca00 0 160.5px,#00dc00 0 182.4px,#00ea00 0 204.3px,#00fa00 0 226.2px,#88f900 0 248.1px,#d5ef00 0 270px,#f0e700 0 291.8px,#f6dc00 0 306.4px,#f9d300 0 321px,#fcca00 0 335.6px,#ffc000 0 350.2px,#ffb600 0 364.8px,#ffab00 0 379.4px,#ff9f00 0 394px,#ff8900 0 408.6px,#fb5700 0 419.5px,#ff1200 0 437.8px,#f40000 0 445.1px,#eb0000 0 481.5px,#e20000 0 729.6px)"></i>
<i style="left:1604px;width:4px;background:linear-gradient(#009a18 14.6px,#009906 0 51.1px,#009d00 0 94.8px,#00a800 0 116.7px,#00b800 0 138.6px,#00c900 0 160.5px,#00db00 0 182.4px,#00e900 0 204.3px,#00f900 0 226.2px,#7ff900 0 248.1px,#d1f000 0 270px,#ece900 0 291.8px,#f5de00 0 306.4px,#f9d400 0 321px,#fcc900 0 335.6px,#ffbd00 0 350.2px,#ffb000 0 364.8px,#ffa200 0 379.4px,#ff8b00 0 394px,#fc5c00 0 408.6px,#fd2400 0 419.5px,#f40000 0 437.8px,#e30000 0 452.4px,#db0000 0 715px,#e30000 0 729.6px)"></i>
<i style="left:1608px;width:4px;background:linear-gradient(#009e00 51.1px,#00ac00 0 94.8px,#00b800 0 116.7px,#00c700 0 138.6px,#00d800 0 160.5px,#00e700 0 182.4px,#00f300 0 204.3px,#10fd00 0 226.2px,#a8f800 0 248.1px,#e0ec00 0 270px,#f3e200 0 291.8px,#f8d700 0 306.4px,#fbcc00 0 321px,#fec200 0 335.6px,#ffb700 0 350.2px,#ffaa00 0 364.8px,#ff9d00 0 379.4px,#ff8100 0 394px,#fa5100 0 408.6px,#fd2100 0 419.5px,#f40000 0 437.8px,#e40000 0 452.4px,#dc0000 0 718.7px,#e40000 0 729.6px)"></i>
<i style="left:1612px;width:3px;background:linear-gradient(#009801 51.1px,#009f00 0 94.8px,#00ac00 0 116.7px,#00c700 0 138.6px,#00e100 0 160.5px,#00f600 0 182.4px,#69fa00 0 204.3px,#c6f200 0 226.2px,#e9ea00 0 248.1px,#f7da00 0 270px,#fdc700 0 291.8px,#ffb400 0 306.4px,#ffa200 0 321px,#ff7800 0 335.6px,#fc2800 0 350.2px,#ff0800 0 364.8px,#f80000 0 379.4px,#ee0000 0 394px,#e50000 0 419.5px,#dd0000 0 510.7px,#d50000 0 554.5px,#fc2900 0 561.8px,#ff9d00 0 569.1px,#ffb100 0 605.6px,#ffb900 0 634.8px,#ffaf00 0 649.3px,#ff9b00 0 656.6px,#fe6a00 0 660.3px,#f93800 0 663.9px,#ff1700 0 667.6px,#fa0000 0 671.2px,#ef0000 0 678.5px,#fa0000 0 682.2px,#ff1400 0 685.8px,#fb2c00 0 689.5px,#f93a00 0 693.1px,#fa4f00 0 696.8px,#fe6700 0 700.4px,#ff7a00 0 704.1px,#ff8900 0 726px,#ff1800 0 729.6px)"></i>
<i style="left:1615px;width:4px;background:linear-gradient(#009a00 51.1px,#00a300 0 94.8px,#00b300 0 116.7px,#00ce00 0 138.6px,#00e600 0 160.5px,#00fc00 0 182.4px,#8af900 0 204.3px,#d5ef00 0 226.2px,#f2e400 0 248.1px,#fad200 0 270px,#ffbe00 0 291.8px,#ffaa00 0 306.4px,#ff9400 0 321px,#fa5000 0 335.6px,#ff0f00 0 350.2px,#fa0000 0 364.8px,#f20000 0 379.4px,#e90000 0 394px,#e00000 0 466.9px,#d80000 0 554.5px,#fe1d00 0 561.8px,#ff9800 0 569.1px,#ffac00 0 612.9px,#ffb400 0 634.8px,#ffac00 0 649.3px,#ff9b00 0 656.6px,#ff7000 0 660.3px,#f83e00 0 663.9px,#fe2000 0 667.6px,#fe0000 0 671.2px,#f30000 0 678.5px,#ff0100 0 682.2px,#fc2700 0 685.8px,#f84200 0 689.5px,#fc5e00 0 693.1px,#ff7600 0 696.8px,#ff8700 0 700.4px,#ff9800 0 707.7px,#ffa200 0 726px,#f94700 0 729.6px)"></i>
<i style="left:1619px;width:4px;background:linear-gradient(#009b00 51.1px,#00a600 0 94.8px,#00b700 0 116.7px,#00d200 0 138.6px,#00ea00 0 160.5px,#02ff00 0 182.4px,#9cf800 0 204.3px,#dced00 0 226.2px,#f4e000 0 248.1px,#fbcc00 0 270px,#ffb700 0 291.8px,#ffa300 0 306.4px,#ff8300 0 321px,#f93a00 0 335.6px,#ff0000 0 350.2px,#f70000 0 364.8px,#ee0000 0 379.4px,#e60000 0 408.6px,#dd0000 0 496.1px,#d50000 0 554.5px,#ff1400 0 561.8px,#ff8e00 0 569.1px,#ffa900 0 642px,#ff9f00 0 649.3px,#ff8200 0 656.6px,#f83e00 0 660.3px,#fe1e00 0 663.9px,#fd0000 0 667.6px,#f20000 0 671.2px,#e70000 0 678.5px,#f20000 0 682.2px,#fd0000 0 685.8px,#ff1700 0 689.5px,#fd2600 0 693.1px,#fa3500 0 696.8px,#f94600 0 700.4px,#fd5f00 0 704.1px,#ff7600 0 707.7px,#ff7e00 0 722.3px,#ff7500 0 726px,#ff0800 0 729.6px)"></i>
<i style="left:1623px;width:3px;background:linear-gradient(#009900 73px,#00a600 0 94.8px,#00b000 0 116.7px,#00cb00 0 138.6px,#00e400 0 160.5px,#00fa00 0 182.4px,#81f900 0 204.3px,#d1f000 0 226.2px,#f1e600 0 248.1px,#f9d400 0 270px,#ffc000 0 291.8px,#ffac00 0 306.4px,#ff9a00 0 321px,#fd6400 0 335.6px,#fe1e00 0 350.2px,#ff0100 0 364.8px,#f70000 0 379.4px,#ef0000 0 394px,#e70000 0 419.5px,#df0000 0 510.7px,#d70000 0 554.5px,#fb2d00 0 561.8px,#ff9e00 0 569.1px,#ffb100 0 642px,#ffa500 0 649.3px,#ff9200 0 656.6px,#fb5500 0 660.3px,#fb2c00 0 663.9px,#ff0900 0 667.6px,#f60000 0 671.2px,#eb0000 0 678.5px,#f60000 0 682.2px,#ff0600 0 685.8px,#fd2100 0 689.5px,#fb2f00 0 693.1px,#f83d00 0 696.8px,#fb5400 0 700.4px,#ff6d00 0 704.1px,#ff7d00 0 707.7px,#ff8500 0 722.3px,#ff7a00 0 726px,#ff0c00 0 729.6px)"></i>
<i style="left:1626px;width:4px;background:linear-gradient(#009d00 51.1px,#00ab00 0 94.8px,#00bc00 0 116.7px,#00d700 0 138.6px,#00ee00 0 160.5px,#16fd00 0 182.4px,#acf700 0 204.3px,#e5eb00 0 226.2px,#f7da00 0 248.1px,#fdc700 0 270px,#ffb000 0 291.8px,#ff9b00 0 306.4px,#ff7200 0 321px,#fb2e00 0 335.6px,#fc0000 0 350.2px,#f40000 0 379.4px,#e60000 0 408.6px,#de0000 0 518px,#d60000 0 554.5px,#fc2b00 0 561.8px,#ff9e00 0 569.1px,#ffb100 0 649.3px,#ff9d00 0 656.6px,#ff7400 0 660.3px,#f84200 0 663.9px,#fd2200 0 667.6px,#fe0000 0 671.2px,#f40000 0 678.5px,#ff0000 0 682.2px,#fc2600 0 685.8px,#f83f00 0 689.5px,#fc5a00 0 693.1px,#ff7300 0 696.8px,#ff8300 0 700.4px,#ff9400 0 704.1px,#ff9d00 0 726px,#f93b00 0 729.6px)"></i>
<i style="left:1630px;width:4px;background:linear-gradient(#009d36 14.6px,#009c26 0 29.2px,#00990e 0 51.1px,#009b00 0 94.8px,#00ab00 0 116.7px,#00bb00 0 138.6px,#00d000 0 160.5px,#00e500 0 182.4px,#00f500 0 204.3px,#29fb00 0 226.2px,#9bf800 0 248.1px,#ccf100 0 270px,#eaea00 0 291.8px,#f5df00 0 306.4px,#f9d400 0 321px,#fdc900 0 335.6px,#ffbd00 0 350.2px,#ffaf00 0 364.8px,#ffa000 0 379.4px,#ff8600 0 394px,#fa5100 0 408.6px,#ff1000 0 419.5px,#f00000 0 437.8px,#e00000 0 729.6px)"></i>
<i style="left:1634px;width:3px;background:linear-gradient(#009804 29.2px,#009e00 0 51.1px,#00a800 0 73px,#00b400 0 94.8px,#00c100 0 116.7px,#00d300 0 138.6px,#00e800 0 160.5px,#00fb00 0 182.4px,#51fa00 0 204.3px,#b1f600 0 226.2px,#dced00 0 248.1px,#f5de00 0 270px,#fcca00 0 291.8px,#ffbb00 0 306.4px,#ffb000 0 321px,#ffa400 0 335.6px,#ff9500 0 350.2px,#ff7300 0 364.8px,#f83e00 0 379.4px,#fe1e00 0 394px,#fd0000 0 408.6px,#ec0000 0 419.5px,#de0000 0 445.1px,#d60000 0 700.4px,#de0000 0 722.3px,#e60000 0 729.6px)"></i>
<i style="left:1637px;width:4px;background:linear-gradient(#009d30 14.6px,#009b1f 0 29.2px,#009907 0 51.1px,#009c00 0 94.8px,#00ad00 0 116.7px,#00bd00 0 138.6px,#00d300 0 160.5px,#00e700 0 182.4px,#00f800 0 204.3px,#3bfa00 0 226.2px,#a9f800 0 248.1px,#d2ef00 0 270px,#f0e800 0 291.8px,#f6db00 0 306.4px,#fad000 0 321px,#fec500 0 335.6px,#ffb800 0 350.2px,#ffab00 0 364.8px,#ff9c00 0 379.4px,#ff7c00 0 394px,#f84200 0 408.6px,#ff0600 0 419.5px,#ee0000 0 437.8px,#df0000 0 726px,#e80000 0 729.6px)"></i>
<i style="left:1641px;width:4px;background:linear-gradient(#009d30 14.6px,#009b1a 0 29.2px,#009900 0 73px,#00aa00 0 94.8px,#00b600 0 116.7px,#00c900 0 138.6px,#00e100 0 160.5px,#00f300 0 182.4px,#1ffc00 0 204.3px,#98f900 0 226.2px,#cef000 0 248.1px,#f1e600 0 270px,#fad200 0 291.8px,#fec400 0 306.4px,#ffb900 0 321px,#ffae00 0 335.6px,#ffa200 0 350.2px,#ff9100 0 364.8px,#ff6e00 0 379.4px,#f93a00 0 394px,#ff1a00 0 408.6px,#f60000 0 419.5px,#e40000 0 437.8px,#dc0000 0 729.6px)"></i>
<i style="left:1645px;width:3px;background:linear-gradient(#009909 14.6px,#009900 0 51.1px,#00a300 0 73px,#00ae00 0 94.8px,#00b900 0 116.7px,#00c900 0 138.6px,#00df00 0 160.5px,#00f100 0 182.4px,#0dfe00 0 204.3px,#80f900 0 226.2px,#bff300 0 248.1px,#e5eb00 0 270px,#f6dd00 0 291.8px,#fad000 0 306.4px,#fdc600 0 321px,#ffbb00 0 335.6px,#ffaf00 0 350.2px,#ffa200 0 364.8px,#ff8f00 0 379.4px,#fe6700 0 394px,#fa3500 0 408.6px,#fe0000 0 419.5px,#ec0000 0 437.8px,#df0000 0 729.6px)"></i>
<i style="left:1648px;width:4px;background:linear-gradient(#009c2b 14.6px,#009a19 0 29.2px,#009800 0 73px,#00a500 0 94.8px,#00b000 0 116.7px,#00c000 0 138.6px,#00d700 0 160.5px,#00ea00 0 182.4px,#00fb00 0 204.3px,#56fa00 0 226.2px,#b0f600 0 248.1px,#d9ee00 0 270px,#f2e400 0 291.8px,#f8d700 0 306.4px,#fccb00 0 321px,#ffbe00 0 335.6px,#ffb000 0 350.2px,#ffa100 0 364.8px,#ff8700 0 379.4px,#fa5000 0 394px,#fd2100 0 408.6px,#f60000 0 419.5px,#e20000 0 437.8px,#da0000 0 704.1px,#e30000 0 718.7px,#eb0000 0 729.6px)"></i>
<i style="left:1652px;width:4px;background:linear-gradient(#009d34 14.6px,#009b21 0 29.2px,#009907 0 51.1px,#009c00 0 73px,#00a400 0 94.8px,#00af00 0 116.7px,#00c000 0 138.6px,#00d600 0 160.5px,#00ea00 0 182.4px,#00fb00 0 204.3px,#5afa00 0 226.2px,#b2f600 0 248.1px,#dbed00 0 270px,#f3e200 0 291.8px,#f9d500 0 306.4px,#fcca00 0 321px,#ffbe00 0 335.6px,#ffb000 0 350.2px,#ffa100 0 364.8px,#ff8800 0 379.4px,#fb5300 0 394px,#fd2400 0 408.6px,#f70000 0 419.5px,#e40000 0 437.8px,#db0000 0 729.6px)"></i>
<i style="left:1656px;width:3px;background:linear-gradient(#009c26 14.6px,#009a12 0 29.2px,#009900 0 73px,#00a900 0 94.8px,#00b500 0 116.7px,#00c600 0 138.6px,#00dd00 0 160.5px,#00ef00 0 182.4px,#0afe00 0 204.3px,#80f900 0 226.2px,#c1f300 0 248.1px,#e8ea00 0 270px,#f7da00 0 291.8px,#fbcd00 0 306.4px,#fec300 0 321px,#ffb800 0 335.6px,#ffad00 0 350.2px,#ffa000 0 364.8px,#ff8b00 0 379.4px,#fd6300 0 394px,#fa3300 0 408.6px,#fd0000 0 419.5px,#ec0000 0 437.8px,#df0000 0 729.6px)"></i>
<i style="left:1659px;width:4px;background:linear-gradient(#009b19 14.6px,#009803 0 51.1px,#00a300 0 73px,#00b000 0 94.8px,#00bc00 0 116.7px,#00cf00 0 138.6px,#00e500 0 160.5px,#00f700 0 182.4px,#37fa00 0 204.3px,#aaf800 0 226.2px,#d7ee00 0 248.1px,#f4e100 0 270px,#fbcd00 0 291.8px,#ffbf00 0 306.4px,#ffb400 0 321px,#ffaa00 0 335.6px,#ff9e00 0 350.2px,#ff8800 0 364.8px,#fd6400 0 379.4px,#fa3600 0 394px,#ff1800 0 408.6px,#f60000 0 419.5px,#e50000 0 437.8px,#dc0000 0 729.6px)"></i>
<i style="left:1663px;width:4px;background:linear-gradient(#009b00 51.1px,#00ab00 0 73px,#00b300 0 94.8px,#00bc00 0 116.7px,#00d000 0 138.6px,#00e500 0 160.5px,#00f700 0 182.4px,#32fa00 0 204.3px,#b2f600 0 226.2px,#e4eb00 0 248.1px,#f8d700 0 270px,#ffc000 0 291.8px,#ffab00 0 306.4px,#ff9b00 0 321px,#ff7300 0 335.6px,#fa3400 0 350.2px,#fd0000 0 379.4px,#f20000 0 408.6px,#e70000 0 503.4px,#df0000 0 554.5px,#f20000 0 561.8px,#fc0000 0 605.6px,#ff0600 0 627.5px,#f80000 0 642px,#eb0000 0 649.3px,#e30000 0 667.6px,#da0000 0 678.5px,#e80000 0 682.2px,#f20000 0 685.8px,#fc0000 0 689.5px,#ff0d00 0 693.1px,#ff1800 0 696.8px,#fd2100 0 700.4px,#fc2a00 0 704.1px,#fa3300 0 707.7px,#f93c00 0 711.4px,#f94800 0 715px,#fb5700 0 718.7px,#fe6700 0 722.3px,#f93c00 0 726px,#fd0000 0 729.6px)"></i>
<i style="left:1667px;width:3px;background:linear-gradient(#009805 29.2px,#009d00 0 73px,#00a900 0 94.8px,#00b100 0 116.7px,#00c500 0 138.6px,#00db00 0 160.5px,#00ed00 0 182.4px,#02ff00 0 204.3px,#8df900 0 226.2px,#d0f000 0 248.1px,#f2e400 0 270px,#fbce00 0 291.8px,#ffba00 0 306.4px,#ffa700 0 321px,#ff8700 0 335.6px,#f93b00 0 350.2px,#fb0000 0 364.8px,#f20000 0 379.4px,#e90000 0 394px,#e00000 0 445.1px,#d80000 0 554.5px,#ea0000 0 561.8px,#f60000 0 583.7px,#ff0000 0 591px,#ff0900 0 598.3px,#ff1300 0 605.6px,#fe1c00 0 612.9px,#fd2500 0 627.5px,#ff0700 0 634.8px,#fa0000 0 642px,#f20000 0 649.3px,#ea0000 0 660.3px,#e00000 0 678.5px,#ee0000 0 682.2px,#f80000 0 685.8px,#ff0900 0 689.5px,#fe1f00 0 693.1px,#fc2700 0 696.8px,#fb2f00 0 700.4px,#f93800 0 704.1px,#f84000 0 707.7px,#fa4e00 0 711.4px,#fc5c00 0 715px,#fe6b00 0 718.7px,#ff7500 0 722.3px,#f94a00 0 726px,#ff0300 0 729.6px)"></i>
<i style="left:1670px;width:4px;background:linear-gradient(#009900 51.1px,#00a300 0 94.8px,#00b100 0 116.7px,#00c400 0 138.6px,#00da00 0 160.5px,#00ec00 0 182.4px,#00fd00 0 204.3px,#81f900 0 226.2px,#c9f100 0 248.1px,#f0e700 0 270px,#f9d300 0 291.8px,#ffc000 0 306.4px,#ffad00 0 321px,#ff9900 0 335.6px,#fb5700 0 350.2px,#ff0900 0 364.8px,#f80000 0 379.4px,#ef0000 0 394px,#e60000 0 419.5px,#dc0000 0 554.5px,#e80000 0 561.8px,#f40000 0 591px,#fc0000 0 612.9px,#ff0b00 0 620.2px,#ff0100 0 627.5px,#f80000 0 642px,#e90000 0 649.3px,#e00000 0 667.6px,#d80000 0 678.5px,#e20000 0 682.2px,#eb0000 0 685.8px,#f50000 0 693.1px,#fd0000 0 700.4px,#ff0b00 0 704.1px,#ff1400 0 707.7px,#fe1c00 0 711.4px,#fd2300 0 715px,#fc2b00 0 718.7px,#fa3200 0 722.3px,#ff1600 0 726px,#f00000 0 729.6px)"></i>
<i style="left:1674px;width:4px;background:linear-gradient(#00990d 14.6px,#009800 0 51.1px,#00a200 0 73px,#00ad00 0 94.8px,#00b700 0 116.7px,#00c800 0 138.6px,#00df00 0 160.5px,#00f100 0 182.4px,#0ffd00 0 204.3px,#85f900 0 226.2px,#c3f300 0 248.1px,#e9ea00 0 270px,#f7d900 0 291.8px,#fccb00 0 306.4px,#ffc000 0 321px,#ffb400 0 335.6px,#ffa700 0 350.2px,#ff9800 0 364.8px,#ff7300 0 379.4px,#f93a00 0 394px,#ff0700 0 408.6px,#f20000 0 419.5px,#e40000 0 445.1px,#db0000 0 729.6px)"></i>
<i style="left:1678px;width:3px;background:linear-gradient(#009f44 14.6px,#009d34 0 29.2px,#009a19 0 51.1px,#009a00 0 94.8px,#00a700 0 116.7px,#00b800 0 138.6px,#00ce00 0 160.5px,#00e400 0 182.4px,#00f500 0 204.3px,#2bfb00 0 226.2px,#a1f800 0 248.1px,#d0f000 0 270px,#efe800 0 291.8px,#f6db00 0 306.4px,#fad000 0 321px,#fec400 0 335.6px,#ffb700 0 350.2px,#ffa900 0 364.8px,#ff9a00 0 379.4px,#ff7400 0 394px,#fb2c00 0 408.6px,#fc0000 0 419.5px,#ed0000 0 437.8px,#e00000 0 729.6px)"></i>
<i style="left:1681px;width:4px;background:linear-gradient(#009d32 14.6px,#009b1e 0 29.2px,#009800 0 73px,#00a800 0 94.8px,#00b400 0 116.7px,#00c600 0 138.6px,#00de00 0 160.5px,#00f100 0 182.4px,#19fc00 0 204.3px,#94f900 0 226.2px,#ccf100 0 248.1px,#f1e600 0 270px,#fad200 0 291.8px,#fec300 0 306.4px,#ffb700 0 321px,#ffab00 0 335.6px,#ff9d00 0 350.2px,#ff8000 0 364.8px,#fa4e00 0 379.4px,#fd2500 0 394px,#fa0000 0 408.6px,#ec0000 0 419.5px,#df0000 0 496.1px,#d70000 0 707.7px,#df0000 0 729.6px)"></i>
<i style="left:1685px;width:4px;background:linear-gradient(#009a10 14.6px,#009800 0 51.1px,#00a000 0 73px,#00aa00 0 94.8px,#00b500 0 116.7px,#00c500 0 138.6px,#00db00 0 160.5px,#00ee00 0 182.4px,#00ff00 0 204.3px,#74fa00 0 226.2px,#baf400 0 248.1px,#e1ec00 0 270px,#f5de00 0 291.8px,#fad100 0 306.4px,#fdc600 0 321px,#ffba00 0 335.6px,#ffad00 0 350.2px,#ff9e00 0 364.8px,#ff8200 0 379.4px,#fa4d00 0 394px,#ff1700 0 408.6px,#f60000 0 419.5px,#e80000 0 437.8px,#de0000 0 612.9px,#e60000 0 649.3px,#de0000 0 729.6px)"></i>
<i style="left:1689px;width:3px;background:linear-gradient(#009d2e 14.6px,#009a18 0 29.2px,#009800 0 73px,#00a100 0 94.8px,#00ae00 0 116.7px,#00cb00 0 138.6px,#00e600 0 160.5px,#00fe00 0 182.4px,#9bf800 0 204.3px,#dfec00 0 226.2px,#f6dc00 0 248.1px,#fdc600 0 270px,#ffae00 0 291.8px,#ff9500 0 306.4px,#fd6200 0 321px,#fd2400 0 335.6px,#f90000 0 350.2px,#f10000 0 379.4px,#e30000 0 437.8px,#db0000 0 554.5px,#fd2500 0 561.8px,#ff9b00 0 569.1px,#ffaf00 0 704.1px,#ffb900 0 729.6px)"></i>
<i style="left:1692px;width:4px;background:linear-gradient(#009b00 51.1px,#00a900 0 73px,#00b100 0 94.8px,#00bc00 0 116.7px,#00d900 0 138.6px,#00f000 0 160.5px,#25fb00 0 182.4px,#b5f500 0 204.3px,#eee900 0 226.2px,#f9d400 0 248.1px,#ffbe00 0 270px,#ffa500 0 291.8px,#ff8000 0 306.4px,#f84200 0 321px,#ff1300 0 335.6px,#f40000 0 364.8px,#e70000 0 394px,#de0000 0 518px,#d60000 0 554.5px,#fb2f00 0 561.8px,#ff9f00 0 569.1px,#ffb300 0 656.6px,#ffaa00 0 707.7px,#ffb200 0 726px,#ffa900 0 729.6px)"></i>
<i style="left:1696px;width:4px;background:linear-gradient(#00990e 14.6px,#009900 0 73px,#00a700 0 94.8px,#00b200 0 116.7px,#00ce00 0 138.6px,#00e800 0 160.5px,#00ff00 0 182.4px,#9ff800 0 204.3px,#dfec00 0 226.2px,#f6dd00 0 248.1px,#fdc800 0 270px,#ffb100 0 291.8px,#ff9a00 0 306.4px,#fe6c00 0 321px,#fc2600 0 335.6px,#f90000 0 350.2px,#f00000 0 364.8px,#e80000 0 379.4px,#e00000 0 437.8px,#d80000 0 554.5px,#ff1200 0 561.8px,#ff8d00 0 569.1px,#ffa900 0 612.9px,#ffb100 0 642px,#ffa700 0 667.6px,#ff9f00 0 696.8px,#ffa700 0 729.6px)"></i>
<i style="left:1700px;width:3px;background:linear-gradient(#009a00 51.1px,#00a800 0 73px,#00b000 0 94.8px,#00bc00 0 116.7px,#00d800 0 138.6px,#00f000 0 160.5px,#25fb00 0 182.4px,#b5f500 0 204.3px,#eee800 0 226.2px,#f9d300 0 248.1px,#ffbe00 0 270px,#ffa400 0 291.8px,#ff7b00 0 306.4px,#f93b00 0 321px,#ff0900 0 335.6px,#f10000 0 364.8px,#e30000 0 394px,#db0000 0 518px,#d30000 0 554.5px,#fe1c00 0 561.8px,#ff9800 0 569.1px,#ffac00 0 605.6px,#ffb400 0 642px,#ffaa00 0 667.6px,#ffa200 0 700.4px,#ffaa00 0 729.6px)"></i>
<i style="left:1703px;width:4px;background:linear-gradient(#00a700 29.2px,#00b000 0 73px,#00bc00 0 94.8px,#00c500 0 116.7px,#00df00 0 138.6px,#00f300 0 160.5px,#2efa00 0 182.4px,#b6f500 0 204.3px,#ebe900 0 226.2px,#f8d700 0 248.1px,#fec400 0 270px,#ffae00 0 291.8px,#ff9900 0 306.4px,#fd6600 0 321px,#fd2400 0 335.6px,#f80000 0 350.2px,#f00000 0 364.8px,#e80000 0 379.4px,#e00000 0 445.1px,#d80000 0 554.5px,#fe1f00 0 561.8px,#ff9900 0 569.1px,#ffae00 0 605.6px,#ffb600 0 634.8px,#ffad00 0 649.3px,#ffa500 0 667.6px,#ff9d00 0 682.2px,#ff9500 0 696.8px,#ff9f00 0 726px,#ff9500 0 729.6px)"></i>
<i style="left:1707px;width:4px;background:linear-gradient(#009900 51.1px,#00a400 0 73px,#00ad00 0 94.8px,#00b800 0 116.7px,#00d500 0 138.6px,#00ed00 0 160.5px,#1afc00 0 182.4px,#b0f600 0 204.3px,#eae900 0 226.2px,#f9d600 0 248.1px,#ffc000 0 270px,#ffa700 0 291.8px,#ff8300 0 306.4px,#f84000 0 321px,#ff0d00 0 335.6px,#f10000 0 364.8px,#e20000 0 408.6px,#d90000 0 525.3px,#d10000 0 554.5px,#e20000 0 561.8px,#f60000 0 569.1px,#fe0000 0 576.4px,#ff1500 0 583.7px,#fd2100 0 605.6px,#fc2800 0 660.3px,#fa3300 0 663.9px,#f83e00 0 667.6px,#fa5000 0 671.2px,#fc5e00 0 674.9px,#fe6600 0 678.5px,#ff6f00 0 685.8px,#ff7900 0 693.1px,#ff8400 0 700.4px,#ff9100 0 704.1px,#ff9a00 0 711.4px,#ffa300 0 718.7px,#ffab00 0 726px,#ff9e00 0 729.6px)"></i>
<i style="left:1711px;width:3px;background:linear-gradient(#009f00 29.2px,#00a800 0 73px,#00b500 0 94.8px,#00bf00 0 116.7px,#00da00 0 138.6px,#00f000 0 160.5px,#20fc00 0 182.4px,#b1f600 0 204.3px,#e8ea00 0 226.2px,#f8d800 0 248.1px,#fec400 0 270px,#ffae00 0 291.8px,#ff9800 0 306.4px,#fd6000 0 321px,#fe1f00 0 335.6px,#f60000 0 350.2px,#ee0000 0 364.8px,#e50000 0 394px,#db0000 0 503.4px,#d30000 0 554.5px,#eb0000 0 561.8px,#ff0200 0 569.1px,#fe1e00 0 576.4px,#fa3600 0 583.7px,#f94800 0 591px,#fa5000 0 598.3px,#fc5900 0 605.6px,#fd6100 0 612.9px,#fe6900 0 634.8px,#fc5d00 0 649.3px,#fa5100 0 660.3px,#fe6800 0 663.9px,#ff7600 0 667.6px,#ff8100 0 674.9px,#ff8c00 0 682.2px,#ff9400 0 696.8px,#ff9d00 0 707.7px,#ffa800 0 718.7px,#ffb200 0 726px,#ffa500 0 729.6px)"></i>
<i style="left:1714px;width:4px;background:linear-gradient(#009b1c 14.6px,#00990a 0 29.2px,#009a00 0 94.8px,#00ac00 0 116.7px,#00c700 0 138.6px,#00e200 0 160.5px,#00f900 0 182.4px,#7ff900 0 204.3px,#d2f000 0 226.2px,#f1e500 0 248.1px,#fad200 0 270px,#ffbd00 0 291.8px,#ffa800 0 306.4px,#ff8d00 0 321px,#f84200 0 335.6px,#ff0500 0 350.2px,#f70000 0 364.8px,#ee0000 0 379.4px,#e50000 0 408.6px,#dc0000 0 488.8px,#d40000 0 554.5px,#e90000 0 561.8px,#fe0000 0 569.1px,#ff1700 0 576.4px,#fb2e00 0 583.7px,#f93c00 0 598.3px,#f94500 0 605.6px,#fa4c00 0 620.2px,#fc5800 0 634.8px,#fd6500 0 649.3px,#ff7100 0 656.6px,#ff7a00 0 660.3px,#ff8900 0 663.9px,#ff9700 0 671.2px,#ffa100 0 682.2px,#ffaa00 0 693.1px,#ffb200 0 704.1px,#ffbd00 0 711.4px,#fdc600 0 718.7px,#fbce00 0 726px,#fdc500 0 729.6px)"></i>
<i style="left:1718px;width:4px;background:linear-gradient(#00a600 29.2px,#00b100 0 73px,#00bf00 0 94.8px,#00ca00 0 116.7px,#00e400 0 138.6px,#00f900 0 160.5px,#64fa00 0 182.4px,#c7f200 0 204.3px,#f3e100 0 226.2px,#fccc00 0 248.1px,#ffb600 0 270px,#ff9c00 0 291.8px,#fd6000 0 306.4px,#fd2300 0 321px,#f80000 0 335.6px,#e60000 0 364.8px,#dc0000 0 408.6px,#d20000 0 554.5px,#db0000 0 561.8px,#e70000 0 576.4px,#f50000 0 605.6px,#fd0000 0 634.8px,#ff0a00 0 649.3px,#ff1300 0 656.6px,#fe1d00 0 660.3px,#fc2b00 0 663.9px,#f93900 0 667.6px,#fa4c00 0 671.2px,#fd5f00 0 674.9px,#fe6c00 0 678.5px,#ff7600 0 682.2px,#ff7e00 0 685.8px,#ff8600 0 689.5px,#ff8f00 0 693.1px,#ff9700 0 700.4px,#ff9f00 0 707.7px,#ffaa00 0 715px,#ffb400 0 729.6px)"></i>
<i style="left:1722px;width:3px;background:linear-gradient(#00a7a2 14.6px,#00a896 0 29.2px,#00a88b 0 51.1px,#00a363 0 73px,#009d2f 0 94.8px,#009a00 0 116.7px,#00ac00 0 138.6px,#00c500 0 160.5px,#00de00 0 182.4px,#00f400 0 204.3px,#36fa00 0 226.2px,#a2f800 0 248.1px,#cbf100 0 270px,#ece900 0 291.8px,#f6db00 0 306.4px,#fbcf00 0 321px,#ffc200 0 335.6px,#ffb200 0 350.2px,#ffa200 0 364.8px,#ff8600 0 379.4px,#f94a00 0 394px,#fe1b00 0 408.6px,#fb0000 0 419.5px,#f00000 0 437.8px,#e30000 0 452.4px,#db0000 0 569.1px,#e30000 0 598.3px,#eb0000 0 663.9px,#f40000 0 685.8px,#fc0000 0 696.8px,#ff0700 0 700.4px,#ff1000 0 704.1px,#fe1b00 0 707.7px,#fd2500 0 711.4px,#fb2e00 0 715px,#f93800 0 718.7px,#f94700 0 722.3px,#fa5100 0 729.6px)"></i>
<i style="left:1725px;width:4px;background:linear-gradient(#00a1cb 14.6px,#00a3be 0 29.2px,#00a6ab 0 51.1px,#00a893 0 73px,#00a571 0 94.8px,#009d31 0 116.7px,#009c00 0 138.6px,#00ab00 0 160.5px,#00bf00 0 182.4px,#00d300 0 204.3px,#00e600 0 226.2px,#00f500 0 248.1px,#19fc00 0 270px,#7efa00 0 291.8px,#b0f600 0 306.4px,#c5f200 0 321px,#d9ee00 0 335.6px,#ebe900 0 350.2px,#f6db00 0 364.8px,#fccb00 0 379.4px,#ffb900 0 394px,#ffa400 0 408.6px,#ff8300 0 419.5px,#fa3300 0 437.8px,#f90000 0 445.1px,#e70000 0 452.4px,#df0000 0 496.1px,#d70000 0 576.4px,#cf0000 0 718.7px,#d80000 0 729.6px)"></i>
<i style="left:1729px;width:4px;background:linear-gradient(#00a2c1 14.6px,#00a5b3 0 29.2px,#00a79f 0 51.1px,#00a88a 0 73px,#00a154 0 94.8px,#009909 0 116.7px,#00a100 0 138.6px,#00b500 0 160.5px,#00c900 0 182.4px,#00dc00 0 204.3px,#00ec00 0 226.2px,#00fb00 0 248.1px,#38fa00 0 270px,#97f900 0 291.8px,#bbf400 0 306.4px,#d0f000 0 321px,#e2ec00 0 335.6px,#f1e600 0 350.2px,#f8d600 0 364.8px,#fdc600 0 379.4px,#ffb300 0 394px,#ff9e00 0 408.6px,#ff7300 0 419.5px,#fd2500 0 437.8px,#f50000 0 445.1px,#e30000 0 466.9px,#db0000 0 525.3px,#d30000 0 718.7px,#db0000 0 729.6px)"></i>
<i style="left:1733px;width:3px;background:linear-gradient(#00a3c0 14.6px,#00a5b3 0 29.2px,#00a79f 0 51.1px,#00a88a 0 73px,#00a154 0 94.8px,#00990b 0 116.7px,#00a000 0 138.6px,#00b400 0 160.5px,#00c800 0 182.4px,#00db00 0 204.3px,#00eb00 0 226.2px,#00f900 0 248.1px,#2cfa00 0 270px,#8ef900 0 291.8px,#b7f500 0 306.4px,#cdf100 0 321px,#e0ec00 0 335.6px,#f1e700 0 350.2px,#f8d700 0 364.8px,#fdc500 0 379.4px,#ffb200 0 394px,#ff9c00 0 408.6px,#fe6c00 0 419.5px,#fe1e00 0 437.8px,#f20000 0 445.1px,#e00000 0 481.5px,#d70000 0 561.8px,#cc0a0a 0 569.1px,#cd552b 0 642px,#d10000 0 722.3px,#da0000 0 729.6px)"></i>
<i style="left:1736px;width:4px;background:linear-gradient(#00a1cd 14.6px,#00a3bf 0 29.2px,#00a5ac 0 51.1px,#00a894 0 73px,#00a573 0 94.8px,#009d33 0 116.7px,#009b00 0 138.6px,#00ab00 0 160.5px,#00c000 0 182.4px,#00d400 0 204.3px,#00e600 0 226.2px,#00f600 0 248.1px,#1dfc00 0 270px,#83f900 0 291.8px,#b2f600 0 306.4px,#c7f200 0 321px,#daee00 0 335.6px,#ebe900 0 350.2px,#f6db00 0 364.8px,#fccb00 0 379.4px,#ffb900 0 394px,#ffa500 0 408.6px,#ff8600 0 419.5px,#fa3700 0 437.8px,#fb0000 0 445.1px,#e90000 0 452.4px,#e00000 0 496.1px,#d80000 0 561.8px,#cc0a0a 0 569.1px,#cd552b 0 642px,#ce0000 0 707.7px,#d60000 0 726px,#de0000 0 729.6px)"></i>
<i style="left:1740px;width:4px;background:linear-gradient(#00a1c9 14.6px,#00a3bc 0 29.2px,#00a6a8 0 51.1px,#00a891 0 73px,#00a368 0 94.8px,#009c23 0 116.7px,#009d00 0 138.6px,#00b000 0 160.5px,#00c400 0 182.4px,#00d800 0 204.3px,#00ea00 0 226.2px,#00f900 0 248.1px,#2ffa00 0 270px,#95f900 0 291.8px,#bbf400 0 306.4px,#d2f000 0 321px,#e4eb00 0 335.6px,#f2e400 0 350.2px,#f9d300 0 364.8px,#ffc200 0 379.4px,#ffad00 0 394px,#ff9300 0 408.6px,#fa5000 0 419.5px,#ff0b00 0 437.8px,#ec0000 0 445.1px,#de0000 0 474.2px,#d60000 0 547.2px,#cd552b 0 660.3px,#c82b20 0 663.9px,#d10000 0 707.7px,#d90000 0 726px,#e10000 0 729.6px)"></i>
<i style="left:1744px;width:3px;background:linear-gradient(#00a0cf 14.6px,#00a2c2 0 29.2px,#00a5b1 0 51.1px,#00a899 0 73px,#00a783 0 94.8px,#00a04f 0 116.7px,#009804 0 138.6px,#00a200 0 160.5px,#00b500 0 182.4px,#00c800 0 204.3px,#00db00 0 226.2px,#00eb00 0 248.1px,#00fa00 0 270px,#2dfa00 0 291.8px,#86f900 0 306.4px,#b1f600 0 321px,#caf100 0 335.6px,#e0ec00 0 350.2px,#f4df00 0 364.8px,#fbcd00 0 379.4px,#ffb900 0 394px,#ffa100 0 408.6px,#ff7600 0 419.5px,#fe2000 0 437.8px,#f10000 0 445.1px,#df0000 0 474.2px,#d60000 0 547.2px,#cd552b 0 660.3px,#c82b20 0 663.9px,#cf0000 0 704.1px,#d70000 0 726px,#df0000 0 729.6px)"></i>
<i style="left:1747px;width:4px;background:linear-gradient(#00a3c0 14.6px,#00a5b3 0 29.2px,#00a79f 0 51.1px,#00a88a 0 73px,#00a155 0 94.8px,#00990c 0 116.7px,#00a000 0 138.6px,#00b300 0 160.5px,#00c700 0 182.4px,#00da00 0 204.3px,#00ea00 0 226.2px,#00f900 0 248.1px,#27fb00 0 270px,#88f900 0 291.8px,#b5f500 0 306.4px,#cdf100 0 321px,#e2ec00 0 335.6px,#f2e500 0 350.2px,#f9d300 0 364.8px,#ffc100 0 379.4px,#ffab00 0 394px,#ff8c00 0 408.6px,#f84000 0 419.5px,#fe0000 0 437.8px,#e80000 0 445.1px,#dc0000 0 474.2px,#d30000 0 547.2px,#cd552b 0 660.3px,#c82b20 0 663.9px,#cc0000 0 718.7px,#d40000 0 729.6px)"></i>
<i style="left:1751px;width:4px;background:linear-gradient(#00a2c4 14.6px,#00a4b7 0 29.2px,#00a7a2 0 51.1px,#00a88c 0 73px,#00a25b 0 94.8px,#009a14 0 116.7px,#009f00 0 138.6px,#00b200 0 160.5px,#00c600 0 182.4px,#00da00 0 204.3px,#00ea00 0 226.2px,#00f900 0 248.1px,#2dfa00 0 270px,#90f900 0 291.8px,#b9f500 0 306.4px,#cff000 0 321px,#e1ec00 0 335.6px,#f1e600 0 350.2px,#f9d600 0 364.8px,#fec400 0 379.4px,#ffb100 0 394px,#ff9b00 0 408.6px,#fe6600 0 419.5px,#ff1b00 0 437.8px,#f10000 0 445.1px,#e00000 0 474.2px,#d80000 0 510.7px,#cf0000 0 547.2px,#cd552b 0 660.3px,#c82b20 0 663.9px,#cc0000 0 704.1px,#d40000 0 722.3px,#dc0000 0 729.6px)"></i>
<i style="left:1755px;width:3px;background:linear-gradient(#00a4ba 14.6px,#00a6aa 0 29.2px,#00a896 0 51.1px,#00a573 0 73px,#009d2d 0 94.8px,#009c00 0 116.7px,#00ac00 0 138.6px,#00c100 0 160.5px,#00d500 0 182.4px,#00e700 0 204.3px,#00f600 0 226.2px,#1dfc00 0 248.1px,#81f900 0 270px,#b8f500 0 291.8px,#d4ef00 0 306.4px,#e6ea00 0 321px,#f3e300 0 335.6px,#f8d800 0 350.2px,#fdc600 0 364.8px,#ffb200 0 379.4px,#ff9c00 0 394px,#fc5d00 0 408.6px,#fe1d00 0 419.5px,#f40000 0 437.8px,#df0000 0 452.4px,#d40000 0 532.6px,#cc0000 0 547.2px,#cd552b 0 660.3px,#c82b20 0 663.9px,#ce0000 0 707.7px,#d60000 0 729.6px)"></i>
<i style="left:1758px;width:4px;background:linear-gradient(#00a2c3 14.6px,#00a4b6 0 29.2px,#00a7a3 0 51.1px,#00a88d 0 73px,#00a260 0 94.8px,#009b1d 0 116.7px,#009d00 0 138.6px,#00ae00 0 160.5px,#00c100 0 182.4px,#00d400 0 204.3px,#00e500 0 226.2px,#00f400 0 248.1px,#10fd00 0 270px,#71fa00 0 291.8px,#aaf800 0 306.4px,#c1f300 0 321px,#d7ee00 0 335.6px,#ebe900 0 350.2px,#f7da00 0 364.8px,#fdc800 0 379.4px,#ffb400 0 394px,#ff9e00 0 408.6px,#ff6f00 0 419.5px,#fe1d00 0 437.8px,#f10000 0 445.1px,#df0000 0 474.2px,#d70000 0 561.8px,#cc0a0a 0 569.1px,#cd552b 0 642px,#d10000 0 711.4px,#d90000 0 729.6px)"></i>
<i style="left:1762px;width:4px;background:linear-gradient(#00a4ba 14.6px,#00a6ab 0 29.2px,#00a897 0 51.1px,#00a67a 0 73px,#009e3b 0 94.8px,#009a00 0 116.7px,#00a600 0 138.6px,#00ba00 0 160.5px,#00cd00 0 182.4px,#00e000 0 204.3px,#00ee00 0 226.2px,#00fd00 0 248.1px,#44fa00 0 270px,#9bf800 0 291.8px,#bef400 0 306.4px,#d6ef00 0 321px,#eaea00 0 335.6px,#f4e000 0 350.2px,#fbce00 0 364.8px,#ffbb00 0 379.4px,#ffa400 0 394px,#ff7700 0 408.6px,#fc2c00 0 419.5px,#f70000 0 437.8px,#e10000 0 445.1px,#d90000 0 474.2px,#d10000 0 561.8px,#cc0a0a 0 569.1px,#cd552b 0 642px,#d40000 0 729.6px)"></i>
<i style="left:1766px;width:3px;background:linear-gradient(#00a1cb 14.6px,#00a3be 0 29.2px,#00a6ac 0 51.1px,#00a894 0 73px,#00a574 0 94.8px,#009e38 0 116.7px,#009b00 0 138.6px,#00a900 0 160.5px,#00bd00 0 182.4px,#00d000 0 204.3px,#00e300 0 226.2px,#00f200 0 248.1px,#0afe00 0 270px,#6bfa00 0 291.8px,#a8f800 0 306.4px,#bff300 0 321px,#d6ef00 0 335.6px,#e9ea00 0 350.2px,#f6db00 0 364.8px,#fcca00 0 379.4px,#ffb600 0 394px,#ffa000 0 408.6px,#ff7600 0 419.5px,#fd2400 0 437.8px,#f30000 0 445.1px,#e10000 0 474.2px,#d80000 0 547.2px,#d00000 0 569.1px,#c82b20 0 634.8px,#cc0000 0 689.5px,#d40000 0 700.4px,#dc0000 0 707.7px,#e90000 0 715px,#f30000 0 729.6px)"></i>
<i style="left:1769px;width:4px;background:linear-gradient(#00a2c7 14.6px,#00a4b9 0 29.2px,#00a6a5 0 51.1px,#00a88e 0 73px,#00a261 0 94.8px,#009b1a 0 116.7px,#009e00 0 138.6px,#00b200 0 160.5px,#00c600 0 182.4px,#00da00 0 204.3px,#00eb00 0 226.2px,#00fa00 0 248.1px,#33fa00 0 270px,#96f900 0 291.8px,#bbf400 0 306.4px,#d1f000 0 321px,#e3eb00 0 335.6px,#f1e500 0 350.2px,#f9d500 0 364.8px,#fec400 0 379.4px,#ffb100 0 394px,#ff9c00 0 408.6px,#fe6a00 0 419.5px,#fe1e00 0 437.8px,#f20000 0 445.1px,#e00000 0 481.5px,#d80000 0 561.8px,#d00000 0 689.5px,#d90000 0 696.8px,#e20000 0 700.4px,#ef0000 0 704.1px,#ff0100 0 707.7px,#fa3700 0 711.4px,#fe6b00 0 715px,#ff7f00 0 718.7px,#ff9000 0 722.3px,#ff7800 0 726px,#fd2500 0 729.6px)"></i>
<i style="left:1773px;width:4px;background:linear-gradient(#00a1ca 14.6px,#00a3bd 0 29.2px,#00a6a9 0 51.1px,#00a891 0 73px,#00a469 0 94.8px,#009c24 0 116.7px,#009d00 0 138.6px,#00af00 0 160.5px,#00c400 0 182.4px,#00d900 0 204.3px,#00ea00 0 226.2px,#00fa00 0 248.1px,#32fa00 0 270px,#97f900 0 291.8px,#bbf400 0 306.4px,#cff000 0 321px,#dfec00 0 335.6px,#f0e800 0 350.2px,#f7d900 0 364.8px,#fcc900 0 379.4px,#ffb800 0 394px,#ffa500 0 408.6px,#ff8900 0 419.5px,#f93c00 0 437.8px,#fd0000 0 445.1px,#ec0000 0 452.4px,#e20000 0 496.1px,#da0000 0 696.8px,#e30000 0 700.4px,#f00000 0 704.1px,#ff0300 0 707.7px,#f93800 0 711.4px,#fe6a00 0 715px,#ff7d00 0 718.7px,#ff8e00 0 722.3px,#ff7500 0 726px,#fd2100 0 729.6px)"></i>
<i style="left:1777px;width:3px;background:linear-gradient(#00a4bb 14.6px,#00a6ac 0 29.2px,#00a898 0 51.1px,#00a67b 0 73px,#009e3b 0 94.8px,#009a00 0 116.7px,#00a900 0 138.6px,#00bf00 0 160.5px,#00d500 0 182.4px,#00e800 0 204.3px,#00f900 0 226.2px,#33fa00 0 248.1px,#99f900 0 270px,#c5f200 0 291.8px,#deed00 0 306.4px,#ede900 0 321px,#f4e000 0 335.6px,#f8d700 0 350.2px,#fdc800 0 364.8px,#ffb800 0 379.4px,#ffa600 0 394px,#ff8900 0 408.6px,#fa4f00 0 419.5px,#ff1700 0 437.8px,#f30000 0 445.1px,#e30000 0 474.2px,#db0000 0 525.3px,#d30000 0 693.1px,#dc0000 0 700.4px,#ec0000 0 704.1px,#fb0000 0 707.7px,#fd2500 0 711.4px,#f94500 0 715px,#fd6000 0 718.7px,#ff7600 0 722.3px,#fb5600 0 726px,#ff0f00 0 729.6px)"></i>
<i style="left:1780px;width:4px;background:linear-gradient(#00a5b0 14.6px,#00a7a2 0 29.2px,#00a892 0 51.1px,#00a571 0 73px,#009e37 0 94.8px,#009a00 0 116.7px,#00a900 0 138.6px,#00c000 0 160.5px,#00d700 0 182.4px,#00ec00 0 204.3px,#00ff00 0 226.2px,#62fa00 0 248.1px,#aef700 0 270px,#d2f000 0 291.8px,#e9ea00 0 306.4px,#f3e200 0 321px,#f8d800 0 335.6px,#fbcc00 0 350.2px,#ffbf00 0 364.8px,#ffaf00 0 379.4px,#ff9e00 0 394px,#ff7800 0 408.6px,#f83e00 0 419.5px,#ff1300 0 437.8px,#f50000 0 445.1px,#e70000 0 459.6px,#df0000 0 510.7px,#d70000 0 576.4px,#df0000 0 685.8px,#e90000 0 689.5px,#f20000 0 693.1px,#fa0000 0 696.8px,#ff0c00 0 700.4px,#fb2e00 0 704.1px,#fd6600 0 707.7px,#ff9300 0 711.4px,#ffa100 0 718.7px,#ffac00 0 726px,#ff8300 0 729.6px)"></i>
<i style="left:1784px;width:4px;background:linear-gradient(#00a6a6 14.6px,#00a89b 0 29.2px,#00a88e 0 51.1px,#00a570 0 73px,#009f42 0 94.8px,#009906 0 116.7px,#00a400 0 138.6px,#00bb00 0 160.5px,#00d300 0 182.4px,#00ea00 0 204.3px,#00fe00 0 226.2px,#5cfa00 0 248.1px,#abf700 0 270px,#cff000 0 291.8px,#e8ea00 0 306.4px,#f4e000 0 321px,#f9d300 0 335.6px,#fec500 0 350.2px,#ffb500 0 364.8px,#ffa400 0 379.4px,#ff8600 0 394px,#f84300 0 408.6px,#fe1b00 0 419.5px,#f90000 0 437.8px,#eb0000 0 445.1px,#e00000 0 488.8px,#d80000 0 554.5px,#e30000 0 561.8px,#ec0000 0 576.4px,#f60000 0 634.8px,#fe0000 0 660.3px,#ff0800 0 674.9px,#ff1300 0 682.2px,#fe1c00 0 685.8px,#fc2800 0 689.5px,#f83e00 0 693.1px,#fd6200 0 696.8px,#ff7f00 0 700.4px,#ff9900 0 704.1px,#ffa600 0 707.7px,#ffb200 0 711.4px,#ffba00 0 718.7px,#fec200 0 726px,#ffae00 0 729.6px)"></i>
<i style="left:1788px;width:3px;background:linear-gradient(#00a576 14.6px,#00a25d 0 29.2px,#009d37 0 51.1px,#009802 0 73px,#009e00 0 94.8px,#00aa00 0 116.7px,#00c200 0 138.6px,#00db00 0 160.5px,#00ef00 0 182.4px,#1efc00 0 204.3px,#a1f800 0 226.2px,#cbf100 0 248.1px,#eae900 0 270px,#f7da00 0 291.8px,#fcc900 0 306.4px,#ffba00 0 321px,#ffa900 0 335.6px,#ff8f00 0 350.2px,#fc5900 0 364.8px,#fd2400 0 379.4px,#fc0000 0 394px,#ee0000 0 408.6px,#e30000 0 437.8px,#d80000 0 466.9px,#d00000 0 554.5px,#dc0000 0 569.1px,#ed0000 0 598.3px,#f60000 0 634.8px,#fe0000 0 649.3px,#ff0a00 0 660.3px,#ff1300 0 671.2px,#fe1e00 0 674.9px,#fd2500 0 682.2px,#fa3200 0 685.8px,#f83f00 0 689.5px,#fd5f00 0 693.1px,#ff7a00 0 696.8px,#ff8e00 0 700.4px,#ff9e00 0 704.1px,#ffa800 0 707.7px,#ffb200 0 715px,#ffbd00 0 726px,#ffb100 0 729.6px)"></i>
<i style="left:1791px;width:4px;background:linear-gradient(#009e3a 14.6px,#009b20 0 29.2px,#009800 0 73px,#00a400 0 94.8px,#00b000 0 116.7px,#00c900 0 138.6px,#00e100 0 160.5px,#00f500 0 182.4px,#4efa00 0 204.3px,#b9f500 0 226.2px,#dded00 0 248.1px,#f3e200 0 270px,#facf00 0 291.8px,#ffbf00 0 306.4px,#ffae00 0 321px,#ff9a00 0 335.6px,#fd5f00 0 350.2px,#fb2e00 0 364.8px,#ff0700 0 379.4px,#f50000 0 394px,#e90000 0 408.6px,#e00000 0 445.1px,#d70000 0 525.3px,#cf0000 0 547.2px,#da0000 0 554.5px,#ef0000 0 561.8px,#ff0300 0 569.1px,#fb2c00 0 576.4px,#f84200 0 583.7px,#f94a00 0 591px,#fb5200 0 598.3px,#fc5b00 0 605.6px,#fd6300 0 612.9px,#fe6c00 0 620.2px,#ff7300 0 634.8px,#ff8100 0 649.3px,#ff8f00 0 660.3px,#ff9700 0 674.9px,#ffa000 0 685.8px,#ffaa00 0 693.1px,#ffb500 0 700.4px,#ffc100 0 704.1px,#fdc700 0 707.7px,#fbcd00 0 715px,#f9d400 0 726px,#fbcd00 0 729.6px)"></i>
<i style="left:1795px;width:4px;background:linear-gradient(#009f00 29.2px,#00aa00 0 51.1px,#00b200 0 94.8px,#00c400 0 116.7px,#00de00 0 138.6px,#00f200 0 160.5px,#27fb00 0 182.4px,#b1f600 0 204.3px,#e6eb00 0 226.2px,#f7da00 0 248.1px,#fdc700 0 270px,#ffb200 0 291.8px,#ff9e00 0 306.4px,#ff7b00 0 321px,#f93800 0 335.6px,#ff0300 0 350.2px,#f80000 0 364.8px,#f00000 0 379.4px,#e80000 0 394px,#e00000 0 474.2px,#d80000 0 547.2px,#e20000 0 554.5px,#fe1b00 0 561.8px,#fe6b00 0 569.1px,#ff9a00 0 576.4px,#ffa400 0 612.9px,#ffac00 0 649.3px,#ffb400 0 674.9px,#ffbc00 0 685.8px,#fec400 0 693.1px,#fcca00 0 700.4px,#fad100 0 707.7px,#f8d800 0 718.7px,#f5df00 0 726px,#f8d800 0 729.6px)"></i>
<i style="left:1799px;width:3px;background:linear-gradient(#009e00 29.2px,#00a600 0 73px,#00b400 0 94.8px,#00be00 0 116.7px,#00d900 0 138.6px,#00f000 0 160.5px,#21fc00 0 182.4px,#b2f600 0 204.3px,#eaea00 0 226.2px,#f8d700 0 248.1px,#fec300 0 270px,#ffac00 0 291.8px,#ff9400 0 306.4px,#fd6200 0 321px,#fd2600 0 335.6px,#fa0000 0 364.8px,#ed0000 0 394px,#e00000 0 503.4px,#d80000 0 547.2px,#e60000 0 554.5px,#fb2e00 0 561.8px,#ff8500 0 569.1px,#ffa400 0 576.4px,#ffad00 0 627.5px,#ffb500 0 649.3px,#ffbd00 0 671.2px,#fec400 0 678.5px,#fcca00 0 685.8px,#fad000 0 696.8px,#f8d900 0 704.1px,#f5de00 0 711.4px,#f2e300 0 722.3px,#ece900 0 726px,#f3e300 0 729.6px)"></i>
<i style="left:1802px;width:4px;background:linear-gradient(#009802 51.1px,#009f00 0 94.8px,#00af00 0 116.7px,#00c900 0 138.6px,#00e300 0 160.5px,#00f900 0 182.4px,#7dfa00 0 204.3px,#cff000 0 226.2px,#f1e700 0 248.1px,#f9d400 0 270px,#ffc100 0 291.8px,#ffac00 0 306.4px,#ff9900 0 321px,#fb5700 0 335.6px,#ff1300 0 350.2px,#fb0000 0 364.8px,#f10000 0 379.4px,#e80000 0 394px,#df0000 0 459.6px,#d70000 0 547.2px,#ea0000 0 554.5px,#f83e00 0 561.8px,#ff9900 0 569.1px,#ffae00 0 576.4px,#ffb800 0 598.3px,#ffc000 0 620.2px,#fdc600 0 674.9px,#fbcc00 0 689.5px,#f9d400 0 700.4px,#f7da00 0 711.4px,#f4df00 0 729.6px)"></i>
<i style="left:1806px;width:4px;background:linear-gradient(#00a500 29.2px,#00af00 0 73px,#00bb00 0 94.8px,#00c500 0 116.7px,#00e000 0 138.6px,#00f400 0 160.5px,#38fa00 0 182.4px,#baf400 0 204.3px,#f0e800 0 226.2px,#f9d400 0 248.1px,#ffc000 0 270px,#ffa900 0 291.8px,#ff8b00 0 306.4px,#fa4c00 0 321px,#ff1400 0 335.6px,#f30000 0 350.2px,#eb0000 0 364.8px,#e30000 0 394px,#db0000 0 474.2px,#d30000 0 547.2px,#dc0000 0 554.5px,#fd0000 0 561.8px,#f83e00 0 569.1px,#ff8500 0 576.4px,#ff9b00 0 620.2px,#ffa400 0 642px,#ffac00 0 663.9px,#ffb400 0 678.5px,#ffbf00 0 689.5px,#fdc800 0 696.8px,#fbce00 0 704.1px,#f9d400 0 715px,#f6db00 0 729.6px)"></i>
<i style="left:1810px;width:3px;background:linear-gradient(#009d00 29.2px,#00a600 0 51.1px,#00ae00 0 73px,#00b600 0 94.8px,#00c200 0 116.7px,#00de00 0 138.6px,#00f400 0 160.5px,#43fa00 0 182.4px,#c0f300 0 204.3px,#f2e400 0 226.2px,#fbce00 0 248.1px,#ffb700 0 270px,#ff9d00 0 291.8px,#fd6100 0 306.4px,#fd2400 0 321px,#f90000 0 335.6px,#e70000 0 350.2px,#df0000 0 394px,#d50000 0 474.2px,#cd0000 0 547.2px,#d90000 0 554.5px,#f60000 0 561.8px,#fc2c00 0 569.1px,#ff7400 0 576.4px,#ff9200 0 591px,#ff9a00 0 620.2px,#ffa300 0 649.3px,#ffac00 0 674.9px,#ffb600 0 685.8px,#ffc000 0 696.8px,#fdc800 0 707.7px,#fad000 0 718.7px,#f8d700 0 726px,#fad100 0 729.6px)"></i>
<i style="left:1813px;width:4px;background:linear-gradient(#00a400 29.2px,#00ae00 0 73px,#00bb00 0 94.8px,#00c500 0 116.7px,#00e000 0 138.6px,#00f500 0 160.5px,#3efa00 0 182.4px,#bcf400 0 204.3px,#f1e700 0 226.2px,#fad200 0 248.1px,#ffbe00 0 270px,#ffa700 0 291.8px,#ff8400 0 306.4px,#f94500 0 321px,#ff1100 0 335.6px,#f30000 0 350.2px,#eb0000 0 379.4px,#df0000 0 452.4px,#d70000 0 547.2px,#e80000 0 554.5px,#f93a00 0 561.8px,#ff9600 0 569.1px,#ffac00 0 576.4px,#ffb700 0 605.6px,#ffc000 0 689.5px,#fdc700 0 707.7px,#fbce00 0 729.6px)"></i>
<i style="left:1817px;width:4px;background:linear-gradient(#009a17 14.6px,#009801 0 51.1px,#009f00 0 94.8px,#00b200 0 116.7px,#00cf00 0 138.6px,#00e900 0 160.5px,#06fe00 0 182.4px,#a7f800 0 204.3px,#e3eb00 0 226.2px,#f7da00 0 248.1px,#fec400 0 270px,#ffac00 0 291.8px,#ff9100 0 306.4px,#fc5b00 0 321px,#fe2000 0 335.6px,#f80000 0 364.8px,#e90000 0 394px,#de0000 0 525.3px,#d60000 0 547.2px,#ed0000 0 554.5px,#f94a00 0 561.8px,#ff9c00 0 569.1px,#ffaf00 0 576.4px,#ffba00 0 612.9px,#fec300 0 649.3px,#fcc900 0 674.9px,#fad000 0 685.8px,#f8d700 0 696.8px,#f5de00 0 707.7px,#f2e400 0 718.7px,#ece900 0 726px,#f2e400 0 729.6px)"></i>
<i style="left:1821px;width:3px;background:linear-gradient(#009c00 51.1px,#00a800 0 94.8px,#00b800 0 116.7px,#00d300 0 138.6px,#00ea00 0 160.5px,#05fe00 0 182.4px,#9ff800 0 204.3px,#dded00 0 226.2px,#f4df00 0 248.1px,#fbcc00 0 270px,#ffb700 0 291.8px,#ffa300 0 306.4px,#ff8400 0 321px,#f93d00 0 335.6px,#ff0500 0 350.2px,#f80000 0 379.4px,#e90000 0 394px,#e10000 0 474.2px,#d90000 0 547.2px,#f00000 0 554.5px,#fd6000 0 561.8px,#ffa100 0 569.1px,#ffb400 0 576.4px,#ffbf00 0 605.6px,#fdc700 0 656.6px,#fbcd00 0 682.2px,#f9d500 0 693.1px,#f6db00 0 704.1px,#f4e100 0 715px,#f1e600 0 726px,#f4e100 0 729.6px)"></i>
<i style="left:1824px;width:4px;background:linear-gradient(#009e00 29.2px,#00a600 0 73px,#00b300 0 94.8px,#00bd00 0 116.7px,#00d800 0 138.6px,#00ee00 0 160.5px,#18fd00 0 182.4px,#adf700 0 204.3px,#e5eb00 0 226.2px,#f7da00 0 248.1px,#fdc700 0 270px,#ffb100 0 291.8px,#ff9b00 0 306.4px,#ff7000 0 321px,#fc2900 0 335.6px,#f90000 0 350.2px,#f10000 0 364.8px,#e90000 0 379.4px,#e10000 0 437.8px,#d90000 0 554.5px,#fe2000 0 561.8px,#ff7800 0 569.1px,#ffa000 0 576.4px,#ffab00 0 612.9px,#ffb300 0 642px,#ffbc00 0 671.2px,#fec400 0 678.5px,#fcca00 0 689.5px,#fad200 0 696.8px,#f8d800 0 707.7px,#f4df00 0 718.7px,#f1e600 0 726px,#f4e000 0 729.6px)"></i>
<i style="left:1828px;width:4px;background:linear-gradient(#00990a 14.6px,#009900 0 51.1px,#00a100 0 73px,#00aa00 0 94.8px,#00b500 0 116.7px,#00cf00 0 138.6px,#00e700 0 160.5px,#00fb00 0 182.4px,#7afa00 0 204.3px,#caf100 0 226.2px,#f2e400 0 248.1px,#fad200 0 270px,#ffbf00 0 291.8px,#ffad00 0 306.4px,#ff9e00 0 321px,#ff7f00 0 335.6px,#f94400 0 350.2px,#ff1600 0 364.8px,#f30000 0 379.4px,#e80000 0 394px,#df0000 0 481.5px,#d70000 0 554.5px,#cf0000 0 656.6px,#e40000 0 660.3px,#f90000 0 663.9px,#fb2c00 0 667.6px,#ff7c00 0 671.2px,#ff9c00 0 678.5px,#ffa600 0 685.8px,#ffb000 0 693.1px,#ffb900 0 700.4px,#fec200 0 729.6px)"></i>
<i style="left:1832px;width:3px;background:linear-gradient(#009e00 51.1px,#00aa00 0 94.8px,#00b800 0 116.7px,#00d000 0 138.6px,#00e500 0 160.5px,#00f800 0 182.4px,#55fa00 0 204.3px,#b9f500 0 226.2px,#e5eb00 0 248.1px,#f4df00 0 270px,#fbcf00 0 291.8px,#ffc000 0 306.4px,#ffb100 0 321px,#ffa100 0 335.6px,#ff8000 0 350.2px,#f93a00 0 364.8px,#fd0000 0 379.4px,#f00000 0 394px,#e40000 0 419.5px,#db0000 0 612.9px,#d30000 0 649.3px,#df0000 0 656.6px,#ff0000 0 660.3px,#f94500 0 663.9px,#ff9500 0 667.6px,#ffae00 0 671.2px,#ffba00 0 678.5px,#fec300 0 685.8px,#fccb00 0 693.1px,#f9d300 0 700.4px,#f7db00 0 707.7px,#f4e000 0 726px,#f7db00 0 729.6px)"></i>
<i style="left:1835px;width:4px;background:linear-gradient(#009f00 51.1px,#00a700 0 94.8px,#00b700 0 116.7px,#00cf00 0 138.6px,#00e600 0 160.5px,#00f900 0 182.4px,#56fa00 0 204.3px,#b5f500 0 226.2px,#e0ec00 0 248.1px,#f4e000 0 270px,#fbcd00 0 291.8px,#ffbb00 0 306.4px,#ffa800 0 321px,#ff8b00 0 335.6px,#f83e00 0 350.2px,#ff1500 0 364.8px,#f60000 0 379.4px,#ea0000 0 394px,#df0000 0 445.1px,#d70000 0 554.5px,#eb0000 0 561.8px,#f50000 0 620.2px,#fd0000 0 642px,#ff1300 0 649.3px,#f83d00 0 656.6px,#ff8900 0 660.3px,#ffa000 0 663.9px,#ffac00 0 667.6px,#ffb700 0 671.2px,#ffbf00 0 682.2px,#fdc700 0 693.1px,#fad000 0 700.4px,#f8d800 0 707.7px,#f4df00 0 729.6px)"></i>
<i style="left:1839px;width:4px;background:linear-gradient(#009c00 73px,#00a600 0 94.8px,#00b600 0 116.7px,#00d100 0 138.6px,#00ea00 0 160.5px,#00ff00 0 182.4px,#7dfa00 0 204.3px,#c1f300 0 226.2px,#eae900 0 248.1px,#f9d600 0 270px,#ffbe00 0 291.8px,#ffa700 0 306.4px,#ff8300 0 321px,#fa3500 0 335.6px,#fb0000 0 350.2px,#f30000 0 364.8px,#ea0000 0 379.4px,#e20000 0 419.5px,#d90000 0 510.7px,#d10000 0 547.2px,#f30000 0 554.5px,#fe6700 0 561.8px,#ffa000 0 569.1px,#ffa800 0 598.3px,#ffb000 0 660.3px,#ffb800 0 696.8px,#ffc200 0 704.1px,#fcc900 0 711.4px,#fad100 0 722.3px,#fcc900 0 729.6px)"></i>
<i style="left:1843px;width:3px;background:linear-gradient(#009b00 51.1px,#00a400 0 94.8px,#00bb00 0 116.7px,#00d800 0 138.6px,#00f000 0 160.5px,#24fb00 0 182.4px,#a7f800 0 204.3px,#d7ee00 0 226.2px,#f5df00 0 248.1px,#fdc700 0 270px,#ffab00 0 291.8px,#ff8500 0 306.4px,#f83f00 0 321px,#ff0b00 0 335.6px,#f10000 0 364.8px,#e50000 0 394px,#dd0000 0 510.7px,#d50000 0 547.2px,#fd0000 0 554.5px,#ff8d00 0 561.8px,#ffac00 0 576.4px,#ffb700 0 696.8px,#fec200 0 707.7px,#fccc00 0 726px,#fec200 0 729.6px)"></i>
<i style="left:1846px;width:4px;background:linear-gradient(#009d00 51.1px,#00a600 0 94.8px,#00bc00 0 116.7px,#00d900 0 138.6px,#00f000 0 160.5px,#22fb00 0 182.4px,#a3f800 0 204.3px,#d5ef00 0 226.2px,#f4e100 0 248.1px,#fcc900 0 270px,#ffae00 0 291.8px,#ff8f00 0 306.4px,#f94a00 0 321px,#ff1100 0 335.6px,#f20000 0 364.8px,#e40000 0 394px,#dc0000 0 488.8px,#d40000 0 547.2px,#f80000 0 554.5px,#ff7d00 0 561.8px,#ffa700 0 576.4px,#ffb200 0 620.2px,#ffba00 0 678.5px,#fec200 0 696.8px,#fcc900 0 704.1px,#fad100 0 711.4px,#f8d900 0 722.3px,#fad200 0 729.6px)"></i>
<i style="left:1850px;width:4px;background:linear-gradient(#009e00 73px,#00a800 0 94.8px,#00b700 0 116.7px,#00d300 0 138.6px,#00eb00 0 160.5px,#03ff00 0 182.4px,#7ff900 0 204.3px,#c2f300 0 226.2px,#eae900 0 248.1px,#f9d600 0 270px,#ffbf00 0 291.8px,#ffa800 0 306.4px,#ff8900 0 321px,#f83e00 0 335.6px,#ff0000 0 364.8px,#f00000 0 394px,#e10000 0 459.6px,#d90000 0 547.2px,#f30000 0 554.5px,#fd6300 0 561.8px,#ff9e00 0 576.4px,#ffa700 0 649.3px,#ffaf00 0 682.2px,#ffb700 0 696.8px,#ffc000 0 704.1px,#fdc800 0 711.4px,#fad100 0 722.3px,#fcca00 0 729.6px)"></i>
<i style="left:1854px;width:3px;background:linear-gradient(#009800 73px,#00a100 0 94.8px,#00b100 0 116.7px,#00ce00 0 138.6px,#00e800 0 160.5px,#00fe00 0 182.4px,#79fa00 0 204.3px,#c1f300 0 226.2px,#ece900 0 248.1px,#f9d400 0 270px,#ffbb00 0 291.8px,#ffa400 0 306.4px,#ff8100 0 321px,#f93800 0 335.6px,#fe0000 0 364.8px,#f10000 0 394px,#e30000 0 459.6px,#db0000 0 547.2px,#ff0d00 0 554.5px,#ff9a00 0 561.8px,#ffb200 0 576.4px,#ffbc00 0 642px,#fec300 0 693.1px,#fcc900 0 700.4px,#fad000 0 707.7px,#f8d700 0 726px,#facf00 0 729.6px)"></i>
<i style="left:1857px;width:4px;background:linear-gradient(#009800 73px,#00a200 0 94.8px,#00b300 0 116.7px,#00d000 0 138.6px,#00ea00 0 160.5px,#05ff00 0 182.4px,#87f900 0 204.3px,#c9f100 0 226.2px,#f1e700 0 248.1px,#fbcf00 0 270px,#ffb500 0 291.8px,#ff9d00 0 306.4px,#ff7000 0 321px,#fc2a00 0 335.6px,#fa0000 0 364.8px,#ee0000 0 394px,#e20000 0 481.5px,#da0000 0 547.2px,#fd0000 0 554.5px,#ff8a00 0 561.8px,#ffab00 0 576.4px,#ffb400 0 689.5px,#ffbc00 0 700.4px,#fdc600 0 707.7px,#fbcd00 0 726px,#fdc500 0 729.6px)"></i>
<i style="left:1861px;width:4px;background:linear-gradient(#009c00 51.1px,#00a600 0 94.8px,#00bd00 0 116.7px,#00da00 0 138.6px,#00f200 0 160.5px,#2afb00 0 182.4px,#aaf800 0 204.3px,#d9ee00 0 226.2px,#f5dd00 0 248.1px,#fec500 0 270px,#ffa900 0 291.8px,#ff7f00 0 306.4px,#fa3700 0 321px,#ff0000 0 335.6px,#ed0000 0 364.8px,#e00000 0 419.5px,#d80000 0 503.4px,#d00000 0 547.2px,#e80000 0 554.5px,#fa3300 0 561.8px,#ff8300 0 569.1px,#ff9400 0 634.8px,#ff9c00 0 678.5px,#ffa400 0 696.8px,#ffad00 0 704.1px,#ffb600 0 711.4px,#ffc000 0 722.3px,#ffb700 0 729.6px)"></i>
<i style="left:1865px;width:3px;background:linear-gradient(#009d00 73px,#00a600 0 94.8px,#00b500 0 116.7px,#00d100 0 138.6px,#00e900 0 160.5px,#00fe00 0 182.4px,#78fa00 0 204.3px,#bff300 0 226.2px,#e8ea00 0 248.1px,#f8d800 0 270px,#ffc100 0 291.8px,#ffaa00 0 306.4px,#ff9500 0 321px,#fb5500 0 335.6px,#ff1600 0 350.2px,#ff0000 0 379.4px,#f20000 0 408.6px,#e60000 0 481.5px,#de0000 0 547.2px,#ff0e00 0 554.5px,#ff9900 0 561.8px,#ffb000 0 576.4px,#ffb900 0 649.3px,#ffc100 0 678.5px,#fdc700 0 696.8px,#fad000 0 704.1px,#f8d800 0 711.4px,#f4e000 0 722.3px,#f7db00 0 729.6px)"></i>
<i style="left:1868px;width:4px;background:linear-gradient(#00a600 73px,#00b000 0 94.8px,#00be00 0 116.7px,#00d900 0 138.6px,#00ef00 0 160.5px,#12fd00 0 182.4px,#8af900 0 204.3px,#c6f200 0 226.2px,#ece900 0 248.1px,#f9d500 0 270px,#ffbf00 0 291.8px,#ffa900 0 306.4px,#ff8b00 0 321px,#f83e00 0 335.6px,#ff0000 0 350.2px,#f70000 0 379.4px,#e80000 0 394px,#e00000 0 459.6px,#d80000 0 547.2px,#f60000 0 554.5px,#ff7200 0 561.8px,#ffa200 0 576.4px,#ffad00 0 649.3px,#ffb600 0 689.5px,#ffbe00 0 700.4px,#fdc800 0 707.7px,#fad000 0 726px,#fcca00 0 729.6px)"></i>
<i style="left:1872px;width:4px;background:linear-gradient(#009800 73px,#00a300 0 94.8px,#00b500 0 116.7px,#00d200 0 138.6px,#00ec00 0 160.5px,#11fd00 0 182.4px,#95f900 0 204.3px,#d0f000 0 226.2px,#f3e200 0 248.1px,#fcca00 0 270px,#ffaf00 0 291.8px,#ff9200 0 306.4px,#fb5700 0 321px,#fe1e00 0 335.6px,#f70000 0 364.8px,#ec0000 0 394px,#e20000 0 488.8px,#da0000 0 547.2px,#fb0000 0 554.5px,#ff8000 0 561.8px,#ffa600 0 576.4px,#ffae00 0 649.3px,#ffb700 0 674.9px,#ffbf00 0 693.1px,#fdc600 0 700.4px,#fbcf00 0 707.7px,#f8d800 0 729.6px)"></i>
<i style="left:1876px;width:3px;background:linear-gradient(#00a100 73px,#00ab00 0 94.8px,#00b900 0 116.7px,#00d300 0 138.6px,#00ea00 0 160.5px,#00ff00 0 182.4px,#77fa00 0 204.3px,#bcf400 0 226.2px,#e4eb00 0 248.1px,#f7da00 0 270px,#fec500 0 291.8px,#ffaf00 0 306.4px,#ff9a00 0 321px,#fc5e00 0 335.6px,#ff1700 0 350.2px,#fe0000 0 364.8px,#f60000 0 394px,#e70000 0 419.5px,#df0000 0 503.4px,#d70000 0 547.2px,#f90000 0 554.5px,#ff7d00 0 561.8px,#ffa600 0 576.4px,#ffaf00 0 700.4px,#ffbb00 0 707.7px,#fec200 0 726px,#ffb800 0 729.6px)"></i>
<i style="left:1879px;width:4px;background:linear-gradient(#009e41 14.6px,#009d30 0 29.2px,#009b1b 0 51.1px,#009802 0 94.8px,#00a700 0 116.7px,#00c500 0 138.6px,#00e300 0 160.5px,#00fa00 0 182.4px,#6efa00 0 204.3px,#bff300 0 226.2px,#ede900 0 248.1px,#fad200 0 270px,#ffb700 0 291.8px,#ff9d00 0 306.4px,#fe6c00 0 321px,#fd2400 0 335.6px,#f70000 0 364.8px,#e90000 0 379.4px,#e10000 0 437.8px,#d90000 0 525.3px,#d10000 0 547.2px,#f40000 0 554.5px,#fe6900 0 561.8px,#ffa000 0 576.4px,#ffab00 0 634.8px,#ffb300 0 667.6px,#ffbb00 0 693.1px,#fec300 0 700.4px,#fccc00 0 707.7px,#f9d400 0 729.6px)"></i>
<i style="left:1883px;width:4px;background:linear-gradient(#009c00 94.8px,#00af00 0 116.7px,#00ca00 0 138.6px,#00e300 0 160.5px,#00f700 0 182.4px,#42fa00 0 204.3px,#adf700 0 226.2px,#d8ee00 0 248.1px,#f3e200 0 270px,#fbcc00 0 291.8px,#ffb700 0 306.4px,#ffa000 0 321px,#fe6c00 0 335.6px,#ff1900 0 350.2px,#fc0000 0 364.8px,#f20000 0 379.4px,#e90000 0 394px,#e00000 0 437.8px,#d80000 0 510.7px,#d00000 0 547.2px,#ee0000 0 554.5px,#fa4e00 0 561.8px,#ff9a00 0 576.4px,#ffa600 0 649.3px,#ffae00 0 696.8px,#ffb900 0 704.1px,#ffc100 0 711.4px,#fcc900 0 722.3px,#ffc100 0 729.6px)"></i>
<i style="left:1887px;width:3px;background:linear-gradient(#009c00 73px,#00a700 0 94.8px,#00b700 0 116.7px,#00d200 0 138.6px,#00eb00 0 160.5px,#04ff00 0 182.4px,#82f900 0 204.3px,#c4f200 0 226.2px,#ede900 0 248.1px,#f9d400 0 270px,#ffbc00 0 291.8px,#ffa500 0 306.4px,#ff8300 0 321px,#f93900 0 335.6px,#fe0000 0 364.8px,#f00000 0 394px,#e20000 0 459.6px,#da0000 0 547.2px,#ff0500 0 554.5px,#ff9700 0 561.8px,#ffb000 0 576.4px,#ffbb00 0 685.8px,#ffb300 0 700.4px,#ffbb00 0 711.4px,#fec400 0 722.3px,#ffb800 0 729.6px)"></i>
<i style="left:1890px;width:4px;background:linear-gradient(#009900 94.8px,#00af00 0 116.7px,#00cb00 0 138.6px,#00e500 0 160.5px,#00fa00 0 182.4px,#63fa00 0 204.3px,#b8f500 0 226.2px,#e3eb00 0 248.1px,#f7da00 0 270px,#fec300 0 291.8px,#ffac00 0 306.4px,#ff9400 0 321px,#f94a00 0 335.6px,#ff0900 0 350.2px,#f90000 0 379.4px,#ea0000 0 394px,#e20000 0 445.1px,#da0000 0 547.2px,#fe0000 0 554.5px,#ff9100 0 561.8px,#ffae00 0 576.4px,#ffb900 0 696.8px,#fec200 0 707.7px,#fccc00 0 726px,#ffc100 0 729.6px)"></i>
<i style="left:1894px;width:4px;background:linear-gradient(#009d00 73px,#00a900 0 94.8px,#00b800 0 116.7px,#00d400 0 138.6px,#00ec00 0 160.5px,#0cfe00 0 182.4px,#89f900 0 204.3px,#c8f200 0 226.2px,#f0e800 0 248.1px,#fad200 0 270px,#ffba00 0 291.8px,#ffa100 0 306.4px,#ff7700 0 321px,#fc2b00 0 335.6px,#f80000 0 350.2px,#f00000 0 379.4px,#e10000 0 419.5px,#d90000 0 496.1px,#d10000 0 547.2px,#ec0000 0 554.5px,#f84100 0 561.8px,#ff9400 0 569.1px,#ff9e00 0 627.5px,#ffa800 0 649.3px,#ffb000 0 674.9px,#ffb800 0 693.1px,#ffc100 0 700.4px,#fcca00 0 707.7px,#fad300 0 729.6px)"></i>
<i style="left:1898px;width:3px;background:linear-gradient(#009c26 14.6px,#009a19 0 29.2px,#009908 0 51.1px,#009900 0 94.8px,#00a800 0 116.7px,#00c500 0 138.6px,#00e100 0 160.5px,#00f700 0 182.4px,#50fa00 0 204.3px,#b5f500 0 226.2px,#e2ec00 0 248.1px,#f7da00 0 270px,#ffc200 0 291.8px,#ffaa00 0 306.4px,#ff9000 0 321px,#f94800 0 335.6px,#ff0900 0 350.2px,#fa0000 0 379.4px,#eb0000 0 408.6px,#df0000 0 510.7px,#d70000 0 547.2px,#ff0a00 0 554.5px,#ff9900 0 561.8px,#ffb100 0 576.4px,#ffbc00 0 627.5px,#fec300 0 660.3px,#fcc900 0 693.1px,#fad000 0 700.4px,#f8d800 0 707.7px,#f4df00 0 726px,#f7d900 0 729.6px)"></i>
<i style="left:1901px;width:4px;background:linear-gradient(#009a00 73px,#00a200 0 94.8px,#00b200 0 116.7px,#00ce00 0 138.6px,#00e700 0 160.5px,#00fd00 0 182.4px,#74fa00 0 204.3px,#bef400 0 226.2px,#e8ea00 0 248.1px,#f8d700 0 270px,#ffbf00 0 291.8px,#ffa800 0 306.4px,#ff8900 0 321px,#f83d00 0 335.6px,#ff0000 0 350.2px,#f70000 0 379.4px,#e80000 0 408.6px,#de0000 0 488.8px,#d60000 0 547.2px,#f90000 0 554.5px,#ff7d00 0 561.8px,#ffa600 0 576.4px,#ffb100 0 693.1px,#ffb900 0 700.4px,#ffc100 0 707.7px,#fdc800 0 726px,#ffbf00 0 729.6px)"></i>
<i style="left:1905px;width:4px;background:linear-gradient(#009a16 14.6px,#009800 0 73px,#00a700 0 94.8px,#00b000 0 116.7px,#00c200 0 138.6px,#00d700 0 160.5px,#00e900 0 182.4px,#00f900 0 204.3px,#6bfa00 0 226.2px,#c2f300 0 248.1px,#ede900 0 270px,#f6dc00 0 291.8px,#fad100 0 306.4px,#fdc700 0 321px,#ffbe00 0 335.6px,#ffb300 0 350.2px,#ffa800 0 364.8px,#ff9b00 0 379.4px,#ff8000 0 394px,#fb5400 0 408.6px,#fd2500 0 419.5px,#f40000 0 437.8px,#df0000 0 591px,#d70000 0 700.4px,#e10000 0 704.1px,#fe0000 0 707.7px,#fc5900 0 711.4px,#ff9f00 0 715px,#ffb700 0 718.7px,#fec300 0 729.6px)"></i>
<i style="left:1909px;width:3px;background:linear-gradient(#009f00 29.2px,#00a800 0 51.1px,#00b000 0 94.8px,#00bf00 0 116.7px,#00d100 0 138.6px,#00e300 0 160.5px,#00f300 0 182.4px,#0ffd00 0 204.3px,#92f900 0 226.2px,#d1f000 0 248.1px,#f3e300 0 270px,#f9d600 0 291.8px,#fccb00 0 306.4px,#fec300 0 321px,#ffba00 0 335.6px,#ffb000 0 350.2px,#ffa600 0 364.8px,#ff9a00 0 379.4px,#ff8000 0 394px,#fc5a00 0 408.6px,#fc2b00 0 419.5px,#f70000 0 437.8px,#e20000 0 518px,#da0000 0 700.4px,#e30000 0 704.1px,#ff0300 0 707.7px,#fd6500 0 711.4px,#ffa200 0 715px,#ffbb00 0 718.7px,#fdc600 0 729.6px)"></i>
<i style="left:1912px;width:4px;background:linear-gradient(#00a15a 14.6px,#009d31 0 29.2px,#009906 0 51.1px,#009d00 0 94.8px,#00b200 0 116.7px,#00c700 0 138.6px,#00dd00 0 160.5px,#00ee00 0 182.4px,#0ffd00 0 204.3px,#98f900 0 226.2px,#d4ef00 0 248.1px,#f2e400 0 270px,#fbcf00 0 291.8px,#ffbb00 0 306.4px,#ffa800 0 321px,#ff8800 0 335.6px,#fa3500 0 350.2px,#ff0000 0 364.8px,#f40000 0 379.4px,#ea0000 0 394px,#e00000 0 459.6px,#d80000 0 561.8px,#ff1800 0 569.1px,#ff6f00 0 576.4px,#ff9400 0 620.2px,#ff9d00 0 660.3px,#ffa700 0 674.9px,#ffaf00 0 689.5px,#ffb700 0 696.8px,#ffc100 0 704.1px,#fccc00 0 711.4px,#f9d600 0 726px,#fbcc00 0 729.6px)"></i>
<i style="left:1916px;width:4px;background:linear-gradient(#009b21 14.6px,#009a00 0 51.1px,#00ab00 0 73px,#00b700 0 94.8px,#00c500 0 116.7px,#00db00 0 138.6px,#00ed00 0 160.5px,#00ff00 0 182.4px,#7bfa00 0 204.3px,#c7f200 0 226.2px,#f2e500 0 248.1px,#fbcf00 0 270px,#ffb700 0 291.8px,#ffa000 0 306.4px,#ff7700 0 321px,#fb3000 0 335.6px,#fb0000 0 350.2px,#ec0000 0 364.8px,#e30000 0 394px,#da0000 0 496.1px,#d20000 0 554.5px,#dc0000 0 561.8px,#ff0800 0 569.1px,#fc5800 0 576.4px,#ff8700 0 598.3px,#ff9100 0 620.2px,#ff9900 0 660.3px,#ffa300 0 674.9px,#ffab00 0 689.5px,#ffb300 0 696.8px,#ffbd00 0 704.1px,#fdc800 0 711.4px,#fad200 0 722.3px,#fccc00 0 729.6px)"></i>
<i style="left:1920px;width:3px;background:linear-gradient(#00a46a 14.6px,#009f47 0 29.2px,#009a19 0 51.1px,#009b00 0 94.8px,#00ae00 0 116.7px,#00c500 0 138.6px,#00db00 0 160.5px,#00ed00 0 182.4px,#0dfe00 0 204.3px,#99f900 0 226.2px,#d5ef00 0 248.1px,#f3e200 0 270px,#fbcd00 0 291.8px,#ffb900 0 306.4px,#ffa700 0 321px,#ff8a00 0 335.6px,#f93b00 0 350.2px,#ff0c00 0 364.8px,#f90000 0 379.4px,#f00000 0 394px,#e70000 0 419.5px,#df0000 0 532.6px,#d70000 0 554.5px,#e60000 0 561.8px,#f93d00 0 569.1px,#ff9600 0 576.4px,#ffa500 0 649.3px,#ffad00 0 671.2px,#ffb600 0 685.8px,#ffbe00 0 696.8px,#fdc800 0 704.1px,#fad200 0 711.4px,#f6dc00 0 722.3px,#f9d600 0 729.6px)"></i>
<i style="left:1923px;width:4px;background:linear-gradient(#009e3e 14.6px,#009a10 0 29.2px,#009c00 0 73px,#00ae00 0 94.8px,#00bc00 0 116.7px,#00d200 0 138.6px,#00e600 0 160.5px,#00f700 0 182.4px,#42fa00 0 204.3px,#b6f500 0 226.2px,#e6eb00 0 248.1px,#f8d800 0 270px,#fec200 0 291.8px,#ffad00 0 306.4px,#ff9b00 0 321px,#fe6900 0 335.6px,#fd2100 0 350.2px,#fb0000 0 364.8px,#f20000 0 379.4px,#ea0000 0 394px,#e10000 0 488.8px,#d90000 0 561.8px,#fc2a00 0 569.1px,#ff8100 0 576.4px,#ff9d00 0 656.6px,#ffa600 0 674.9px,#ffaf00 0 689.5px,#ffb700 0 696.8px,#ffc100 0 704.1px,#fccb00 0 711.4px,#f9d500 0 722.3px,#fbce00 0 729.6px)"></i>
<i style="left:1927px;width:4px;background:linear-gradient(#009900 29.2px,#00a700 0 51.1px,#00b100 0 73px,#00bc00 0 94.8px,#00c800 0 116.7px,#00dc00 0 138.6px,#00ed00 0 160.5px,#00fd00 0 182.4px,#69fa00 0 204.3px,#bdf400 0 226.2px,#eae900 0 248.1px,#f8d700 0 270px,#fec300 0 291.8px,#ffad00 0 306.4px,#ff9800 0 321px,#fb5600 0 335.6px,#ff0f00 0 350.2px,#f30000 0 364.8px,#e90000 0 379.4px,#df0000 0 419.5px,#d70000 0 569.1px,#e10000 0 576.4px,#ed0000 0 591px,#f50000 0 685.8px,#fd0000 0 689.5px,#fd2400 0 693.1px,#fa5000 0 696.8px,#ff7e00 0 700.4px,#ff9900 0 704.1px,#ffa300 0 707.7px,#ffad00 0 711.4px,#ffb600 0 718.7px,#ffae00 0 722.3px,#ffa500 0 726px,#ff9c00 0 729.6px)"></i>
<i style="left:1931px;width:3px;background:linear-gradient(#00a260 14.6px,#009e3a 0 29.2px,#00990e 0 51.1px,#009c00 0 94.8px,#00b000 0 116.7px,#00c500 0 138.6px,#00db00 0 160.5px,#00ec00 0 182.4px,#04ff00 0 204.3px,#8ef900 0 226.2px,#d0f000 0 248.1px,#f1e500 0 270px,#fad000 0 291.8px,#ffbd00 0 306.4px,#ffab00 0 321px,#ff9400 0 335.6px,#f94700 0 350.2px,#ff1000 0 364.8px,#fa0000 0 379.4px,#f00000 0 394px,#e60000 0 419.5px,#de0000 0 539.9px,#d60000 0 561.8px,#df0000 0 569.1px,#e70000 0 576.4px,#f10000 0 605.6px,#f90000 0 634.8px,#ff0500 0 642px,#ff0e00 0 649.3px,#ff1700 0 656.6px,#fe1f00 0 660.3px,#fc2800 0 663.9px,#fb3000 0 667.6px,#f93900 0 671.2px,#f84300 0 674.9px,#fb5200 0 678.5px,#fd6100 0 682.2px,#ff7000 0 685.8px,#ff8d00 0 689.5px,#ffa600 0 693.1px,#ffb700 0 696.8px,#fec400 0 700.4px,#fbce00 0 704.1px,#f8d700 0 707.7px,#f4e000 0 711.4px,#eee900 0 722.3px,#f2e300 0 729.6px)"></i>
<i style="left:1934px;width:4px;background:linear-gradient(#009e41 14.6px,#009a15 0 29.2px,#009b00 0 73px,#00ac00 0 94.8px,#00b900 0 116.7px,#00ce00 0 138.6px,#00e200 0 160.5px,#00f200 0 182.4px,#1afc00 0 204.3px,#a2f800 0 226.2px,#d8ee00 0 248.1px,#f4e000 0 270px,#fccb00 0 291.8px,#ffb700 0 306.4px,#ffa500 0 321px,#ff8400 0 335.6px,#fa3700 0 350.2px,#fe0000 0 364.8px,#f40000 0 379.4px,#eb0000 0 394px,#e10000 0 459.6px,#d90000 0 576.4px,#e40000 0 620.2px,#ec0000 0 667.6px,#f50000 0 685.8px,#ff1500 0 689.5px,#f84300 0 693.1px,#ff8400 0 696.8px,#ff9f00 0 700.4px,#ffab00 0 704.1px,#ffb500 0 707.7px,#ffc000 0 711.4px,#fcc900 0 722.3px,#ffc100 0 729.6px)"></i>
<i style="left:1938px;width:4px;background:linear-gradient(#009d35 14.6px,#009908 0 29.2px,#009d00 0 51.1px,#00a500 0 73px,#00b100 0 94.8px,#00bf00 0 116.7px,#00d400 0 138.6px,#00e700 0 160.5px,#00f700 0 182.4px,#34fa00 0 204.3px,#b2f600 0 226.2px,#e3eb00 0 248.1px,#f8d900 0 270px,#fec200 0 291.8px,#ffae00 0 306.4px,#ff9c00 0 321px,#ff7300 0 335.6px,#fb2f00 0 350.2px,#fc0000 0 379.4px,#ed0000 0 408.6px,#e00000 0 518px,#d80000 0 569.1px,#e00000 0 583.7px,#e90000 0 667.6px,#f20000 0 685.8px,#ff0900 0 689.5px,#f93900 0 693.1px,#ff7d00 0 696.8px,#ff9d00 0 700.4px,#ffa900 0 704.1px,#ffb300 0 707.7px,#ffbd00 0 711.4px,#fdc700 0 722.3px,#ffbf00 0 729.6px)"></i>
<i style="left:1942px;width:3px;background:linear-gradient(#009900 29.2px,#00a800 0 51.1px,#00b300 0 73px,#00bf00 0 94.8px,#00cc00 0 116.7px,#00e000 0 138.6px,#00f000 0 160.5px,#01ff00 0 182.4px,#6efa00 0 204.3px,#c1f300 0 226.2px,#efe800 0 248.1px,#fad200 0 270px,#ffbb00 0 291.8px,#ffa500 0 306.4px,#ff8400 0 321px,#f93c00 0 335.6px,#ff0400 0 350.2px,#ec0000 0 364.8px,#e30000 0 394px,#da0000 0 459.6px,#d20000 0 576.4px,#db0000 0 656.6px,#e30000 0 671.2px,#ec0000 0 685.8px,#fc0000 0 689.5px,#fb2d00 0 693.1px,#ff7200 0 696.8px,#ff9a00 0 700.4px,#ffa600 0 704.1px,#ffb100 0 707.7px,#ffbc00 0 711.4px,#fdc600 0 726px,#ffbd00 0 729.6px)"></i>
<i style="left:1945px;width:4px;background:linear-gradient(#009b1b 14.6px,#009a00 0 51.1px,#00ad00 0 73px,#00ba00 0 94.8px,#00c800 0 116.7px,#00dd00 0 138.6px,#00ee00 0 160.5px,#00fe00 0 182.4px,#66fa00 0 204.3px,#c1f300 0 226.2px,#f0e800 0 248.1px,#fbcf00 0 270px,#ffb700 0 291.8px,#ffa000 0 306.4px,#ff7a00 0 321px,#fa3400 0 335.6px,#ff0000 0 350.2px,#eb0000 0 364.8px,#e20000 0 394px,#da0000 0 525.3px,#d20000 0 561.8px,#db0000 0 583.7px,#e60000 0 612.9px,#ee0000 0 667.6px,#f60000 0 685.8px,#ff1a00 0 689.5px,#fb5400 0 693.1px,#ff9300 0 696.8px,#ffa600 0 700.4px,#ffb000 0 704.1px,#ffbb00 0 707.7px,#fec400 0 711.4px,#fbcd00 0 722.3px,#fdc700 0 729.6px)"></i>
<i style="left:1949px;width:4px;background:linear-gradient(#00a885 14.6px,#00a364 0 29.2px,#009e3d 0 51.1px,#00990c 0 73px,#009d00 0 94.8px,#00a700 0 116.7px,#00bc00 0 138.6px,#00d100 0 160.5px,#00e500 0 182.4px,#00f600 0 204.3px,#5efa00 0 226.2px,#bff300 0 248.1px,#e9ea00 0 270px,#f7d900 0 291.8px,#fdc800 0 306.4px,#ffb800 0 321px,#ffa600 0 335.6px,#ff8900 0 350.2px,#f83e00 0 364.8px,#ff0000 0 379.4px,#f40000 0 394px,#e90000 0 408.6px,#e00000 0 685.8px,#ec0000 0 689.5px,#ff0b00 0 693.1px,#fc5c00 0 696.8px,#ff9c00 0 700.4px,#ffaf00 0 704.1px,#ffc000 0 707.7px,#fdc800 0 729.6px)"></i>
<i style="left:1953px;width:3px;background:linear-gradient(#00a053 14.6px,#009c27 0 29.2px,#009900 0 73px,#00a700 0 94.8px,#00b400 0 116.7px,#00c800 0 138.6px,#00dc00 0 160.5px,#00ec00 0 182.4px,#00fd00 0 204.3px,#80f900 0 226.2px,#c9f100 0 248.1px,#f0e800 0 270px,#f9d600 0 291.8px,#fdc500 0 306.4px,#ffb600 0 321px,#ffa600 0 335.6px,#ff8e00 0 350.2px,#fa4b00 0 364.8px,#ff0e00 0 379.4px,#f90000 0 394px,#ef0000 0 408.6px,#e70000 0 452.4px,#df0000 0 554.5px,#d70000 0 689.5px,#e60000 0 693.1px,#fc0000 0 696.8px,#fa3400 0 700.4px,#ff7b00 0 704.1px,#ffa100 0 707.7px,#ffaa00 0 729.6px)"></i>
<i style="left:1956px;width:4px;background:linear-gradient(#00a156 14.6px,#009c28 0 29.2px,#009900 0 73px,#00ad00 0 94.8px,#00bc00 0 116.7px,#00d100 0 138.6px,#00e600 0 160.5px,#00f600 0 182.4px,#2dfa00 0 204.3px,#b2f600 0 226.2px,#e6eb00 0 248.1px,#f8d700 0 270px,#ffc100 0 291.8px,#ffae00 0 306.4px,#ff9f00 0 321px,#ff7f00 0 335.6px,#f94400 0 350.2px,#ff1600 0 364.8px,#f50000 0 379.4px,#ed0000 0 394px,#e50000 0 419.5px,#dd0000 0 642px,#d50000 0 685.8px,#dd0000 0 689.5px,#ee0000 0 693.1px,#ff1100 0 696.8px,#fb5300 0 700.4px,#ff9300 0 704.1px,#ffa900 0 707.7px,#ffb200 0 729.6px)"></i>
<i style="left:1960px;width:3px;background:linear-gradient(#00a88d 14.6px,#00a576 0 29.2px,#00a053 0 51.1px,#009c24 0 73px,#009a00 0 116.7px,#00b600 0 138.6px,#00cb00 0 160.5px,#00e000 0 182.4px,#00f200 0 204.3px,#3cfa00 0 226.2px,#b6f500 0 248.1px,#e2ec00 0 270px,#f5dd00 0 291.8px,#fccc00 0 306.4px,#ffbd00 0 321px,#ffad00 0 335.6px,#ff9b00 0 350.2px,#fd6300 0 364.8px,#fe1b00 0 379.4px,#fc0000 0 394px,#f20000 0 408.6px,#e80000 0 437.8px,#e00000 0 685.8px,#ee0000 0 689.5px,#ff1200 0 693.1px,#fd6500 0 696.8px,#ff9e00 0 700.4px,#ffb000 0 704.1px,#fec200 0 707.7px,#fcc900 0 729.6px)"></i>
<i style="left:1963px;width:4px;background:linear-gradient(#009f45 14.6px,#009b1a 0 29.2px,#009a00 0 73px,#00ac00 0 94.8px,#00b900 0 116.7px,#00cd00 0 138.6px,#00e000 0 160.5px,#00f000 0 182.4px,#08fe00 0 204.3px,#8ff900 0 226.2px,#cff000 0 248.1px,#f2e500 0 270px,#fad100 0 291.8px,#ffc100 0 306.4px,#ffb100 0 321px,#ffa100 0 335.6px,#ff8200 0 350.2px,#f93d00 0 364.8px,#ff0700 0 379.4px,#f70000 0 394px,#ed0000 0 408.6px,#e40000 0 452.4px,#dc0000 0 685.8px,#e70000 0 689.5px,#fa0000 0 693.1px,#fa3300 0 696.8px,#ff8300 0 700.4px,#ffa500 0 704.1px,#ffb700 0 707.7px,#ffc100 0 729.6px)"></i>
<i style="left:1967px;width:4px;background:linear-gradient(#00a04d 14.6px,#009c25 0 29.2px,#009900 0 73px,#00a800 0 94.8px,#00b600 0 116.7px,#00c800 0 138.6px,#00db00 0 160.5px,#00ec00 0 182.4px,#00fd00 0 204.3px,#78fa00 0 226.2px,#c3f300 0 248.1px,#ebe900 0 270px,#f8d700 0 291.8px,#fdc700 0 306.4px,#ffbb00 0 321px,#ffad00 0 335.6px,#ff9f00 0 350.2px,#ff7e00 0 364.8px,#f93c00 0 379.4px,#fe2000 0 394px,#ff0100 0 408.6px,#f70000 0 437.8px,#ec0000 0 466.9px,#e40000 0 554.5px,#dc0000 0 689.5px,#ef0000 0 693.1px,#ff0900 0 696.8px,#fa4a00 0 700.4px,#ff9100 0 704.1px,#ffaa00 0 707.7px,#ffb500 0 715px,#ffbd00 0 729.6px)"></i>
<i style="left:1971px;width:3px;background:linear-gradient(#00a051 14.6px,#009c2c 0 29.2px,#009802 0 73px,#00a600 0 94.8px,#00b300 0 116.7px,#00c500 0 138.6px,#00d800 0 160.5px,#00ea00 0 182.4px,#00fa00 0 204.3px,#61fa00 0 226.2px,#b9f500 0 248.1px,#e3eb00 0 270px,#f6db00 0 291.8px,#fcca00 0 306.4px,#ffbd00 0 321px,#ffad00 0 335.6px,#ff9d00 0 350.2px,#ff7400 0 364.8px,#fb2f00 0 379.4px,#ff0a00 0 394px,#f60000 0 408.6px,#ed0000 0 419.5px,#e20000 0 452.4px,#da0000 0 689.5px,#e30000 0 693.1px,#f40000 0 696.8px,#fe1c00 0 700.4px,#fd5f00 0 704.1px,#ff9a00 0 707.7px,#ffa800 0 711.4px,#ffb000 0 729.6px)"></i>
<i style="left:1974px;width:4px;background:linear-gradient(#00a88b 14.6px,#00a678 0 29.2px,#00a15a 0 51.1px,#009d30 0 73px,#009800 0 116.7px,#00af00 0 138.6px,#00c200 0 160.5px,#00d800 0 182.4px,#00eb00 0 204.3px,#01ff00 0 226.2px,#82f900 0 248.1px,#c5f200 0 270px,#ece900 0 291.8px,#f7da00 0 306.4px,#fbcf00 0 321px,#fec300 0 335.6px,#ffb500 0 350.2px,#ffa700 0 364.8px,#ff9000 0 379.4px,#fe6b00 0 394px,#f93800 0 408.6px,#fe1b00 0 419.5px,#fb0000 0 437.8px,#f10000 0 452.4px,#e60000 0 481.5px,#de0000 0 591px,#d60000 0 689.5px,#df0000 0 693.1px,#ee0000 0 696.8px,#ff0700 0 700.4px,#f84300 0 704.1px,#ff8d00 0 707.7px,#ffa400 0 711.4px,#ffaf00 0 729.6px)"></i>
<i style="left:1978px;width:4px;background:linear-gradient(#00a158 14.6px,#009e39 0 29.2px,#009a12 0 51.1px,#009b00 0 94.8px,#00b000 0 116.7px,#00c000 0 138.6px,#00d200 0 160.5px,#00e500 0 182.4px,#00f600 0 204.3px,#30fa00 0 226.2px,#a9f800 0 248.1px,#d6ee00 0 270px,#f3e100 0 291.8px,#fad100 0 306.4px,#fdc600 0 321px,#ffb900 0 335.6px,#ffac00 0 350.2px,#ff9d00 0 364.8px,#ff7b00 0 379.4px,#f94800 0 394px,#fd2400 0 408.6px,#ff0300 0 419.5px,#f40000 0 437.8px,#e70000 0 452.4px,#de0000 0 518px,#d60000 0 649.3px,#ce0000 0 689.5px,#d60000 0 696.8px,#e70000 0 700.4px,#f90000 0 704.1px,#fc2800 0 707.7px,#fd6000 0 711.4px,#ff8d00 0 715px,#ff9b00 0 729.6px)"></i>
<i style="left:1982px;width:3px;background:linear-gradient(#00a366 14.6px,#00a050 0 29.2px,#009c2a 0 51.1px,#009800 0 94.8px,#00a900 0 116.7px,#00b800 0 138.6px,#00c900 0 160.5px,#00de00 0 182.4px,#00ef00 0 204.3px,#09fe00 0 226.2px,#80f900 0 248.1px,#c3f300 0 270px,#ebe900 0 291.8px,#f6db00 0 306.4px,#fad100 0 321px,#fdc700 0 335.6px,#ffbb00 0 350.2px,#ffaf00 0 364.8px,#ffa100 0 379.4px,#ff8d00 0 394px,#fe6600 0 408.6px,#f93900 0 419.5px,#ff1000 0 437.8px,#f50000 0 445.1px,#ed0000 0 459.6px,#df0000 0 656.6px,#d70000 0 696.8px,#ed0000 0 700.4px,#ff0000 0 704.1px,#fa3700 0 707.7px,#ff7800 0 711.4px,#ff9c00 0 715px,#ffa400 0 729.6px)"></i>
<i style="left:1985px;width:4px;background:linear-gradient(#00a679 14.6px,#00a367 0 29.2px,#00a04f 0 51.1px,#009c27 0 73px,#009800 0 116.7px,#00aa00 0 138.6px,#00b900 0 160.5px,#00ce00 0 182.4px,#00e200 0 204.3px,#00f200 0 226.2px,#18fd00 0 248.1px,#91f900 0 270px,#caf100 0 291.8px,#e6ea00 0 306.4px,#f2e400 0 321px,#f7d900 0 335.6px,#fbcf00 0 350.2px,#fec400 0 364.8px,#ffb700 0 379.4px,#ffaa00 0 394px,#ff9c00 0 408.6px,#ff8000 0 419.5px,#f93c00 0 437.8px,#ff0300 0 445.1px,#f70000 0 452.4px,#ed0000 0 459.6px,#e40000 0 554.5px,#dc0000 0 696.8px,#f40000 0 700.4px,#fe1e00 0 704.1px,#fd6500 0 707.7px,#ff9b00 0 711.4px,#ffae00 0 715px,#ffb700 0 729.6px)"></i>
<i style="left:1989px;width:4px;background:linear-gradient(#00a88e 14.6px,#00a885 0 29.2px,#00a46a 0 51.1px,#009f45 0 73px,#009a15 0 94.8px,#009d00 0 116.7px,#00a900 0 138.6px,#00ba00 0 160.5px,#00d100 0 182.4px,#00e600 0 204.3px,#00f700 0 226.2px,#3cfa00 0 248.1px,#aff700 0 270px,#dced00 0 291.8px,#f3e300 0 306.4px,#f8d800 0 321px,#fbcd00 0 335.6px,#ffc100 0 350.2px,#ffb300 0 364.8px,#ffa500 0 379.4px,#ff9200 0 394px,#fd6500 0 408.6px,#fa3400 0 419.5px,#ff0000 0 437.8px,#ed0000 0 445.1px,#e40000 0 459.6px,#da0000 0 554.5px,#d20000 0 696.8px,#e30000 0 700.4px,#f60000 0 704.1px,#fd2200 0 707.7px,#fd6500 0 711.4px,#ff9b00 0 715px,#ffa600 0 729.6px)"></i>
<i style="left:1993px;width:3px;background:linear-gradient(#00a889 14.6px,#00a677 0 29.2px,#00a25f 0 51.1px,#009e3c 0 73px,#009a11 0 94.8px,#009d00 0 116.7px,#00a800 0 138.6px,#00b800 0 160.5px,#00ce00 0 182.4px,#00e200 0 204.3px,#00f300 0 226.2px,#1bfc00 0 248.1px,#94f900 0 270px,#cbf100 0 291.8px,#e7ea00 0 306.4px,#f3e300 0 321px,#f8d700 0 335.6px,#fccb00 0 350.2px,#ffbe00 0 364.8px,#ffaf00 0 379.4px,#ffa000 0 394px,#ff8400 0 408.6px,#fb5500 0 419.5px,#fe1c00 0 437.8px,#f60000 0 445.1px,#ec0000 0 452.4px,#e30000 0 466.9px,#db0000 0 656.6px,#d30000 0 696.8px,#e00000 0 700.4px,#f30000 0 704.1px,#ff1100 0 707.7px,#f94400 0 711.4px,#ff8900 0 715px,#ff9c00 0 729.6px)"></i>
<i style="left:1996px;width:4px;background:linear-gradient(#00a88d 14.6px,#00a885 0 29.2px,#00a46e 0 51.1px,#00a053 0 73px,#009c28 0 94.8px,#009a00 0 116.7px,#00a200 0 138.6px,#00b200 0 160.5px,#00c700 0 182.4px,#00dc00 0 204.3px,#00ed00 0 226.2px,#00fe00 0 248.1px,#73fa00 0 270px,#baf400 0 291.8px,#d7ee00 0 306.4px,#e6eb00 0 321px,#f2e400 0 335.6px,#f7d900 0 350.2px,#fbce00 0 364.8px,#fec200 0 379.4px,#ffb600 0 394px,#ffaa00 0 408.6px,#ff9f00 0 419.5px,#ff7f00 0 437.8px,#f93a00 0 445.1px,#fd2100 0 452.4px,#ff0500 0 459.6px,#f80000 0 481.5px,#ef0000 0 503.4px,#e60000 0 525.3px,#de0000 0 598.3px,#d60000 0 696.8px,#e80000 0 700.4px,#fb0000 0 704.1px,#fb2e00 0 707.7px,#ff7400 0 711.4px,#ff9e00 0 715px,#ffa800 0 729.6px)"></i>
<i style="left:2000px;width:4px;background:linear-gradient(#00a890 29.2px,#00a67b 0 51.1px,#00a260 0 73px,#009e3c 0 94.8px,#009803 0 116.7px,#009f00 0 138.6px,#00ae00 0 160.5px,#00c300 0 182.4px,#00d800 0 204.3px,#00ea00 0 226.2px,#00fb00 0 248.1px,#54fa00 0 270px,#b0f600 0 291.8px,#cff000 0 306.4px,#e1ec00 0 321px,#f2e500 0 335.6px,#f8d800 0 350.2px,#fcc900 0 364.8px,#ffba00 0 379.4px,#ffac00 0 394px,#ff9d00 0 408.6px,#ff8000 0 419.5px,#f93c00 0 437.8px,#ff0600 0 445.1px,#f80000 0 452.4px,#ef0000 0 459.6px,#e60000 0 488.8px,#de0000 0 696.8px,#f40000 0 700.4px,#fe1b00 0 704.1px,#fc5d00 0 707.7px,#ff9800 0 711.4px,#ffab00 0 715px,#ffb400 0 729.6px)"></i>
<i style="left:2004px;width:3px;background:linear-gradient(#00a892 29.2px,#00a885 0 51.1px,#00a46f 0 73px,#00a053 0 94.8px,#009b1f 0 116.7px,#009b00 0 138.6px,#00a500 0 160.5px,#00b800 0 182.4px,#00cc00 0 204.3px,#00de00 0 226.2px,#00ef00 0 248.1px,#05fe00 0 270px,#73fa00 0 291.8px,#acf700 0 306.4px,#c0f300 0 321px,#d7ee00 0 335.6px,#efe800 0 350.2px,#f7db00 0 364.8px,#fbcc00 0 379.4px,#ffc100 0 394px,#ffb300 0 408.6px,#ffa700 0 419.5px,#ff8f00 0 437.8px,#fa4d00 0 445.1px,#fb2d00 0 452.4px,#ff1200 0 459.6px,#fb0000 0 474.2px,#f30000 0 503.4px,#e90000 0 518px,#e10000 0 627.5px,#d90000 0 696.8px,#e50000 0 700.4px,#f70000 0 704.1px,#fe1d00 0 707.7px,#fb5200 0 711.4px,#ff8f00 0 715px,#ff9d00 0 729.6px)"></i>
<i style="left:2007px;width:4px;background:linear-gradient(#00a88c 29.2px,#00a570 0 51.1px,#00a158 0 73px,#009d2f 0 94.8px,#009a00 0 116.7px,#00a200 0 138.6px,#00b300 0 160.5px,#00c800 0 182.4px,#00dc00 0 204.3px,#00ec00 0 226.2px,#00fd00 0 248.1px,#5cfa00 0 270px,#aff700 0 291.8px,#cdf100 0 306.4px,#dded00 0 321px,#f0e800 0 335.6px,#f7da00 0 350.2px,#fccc00 0 364.8px,#ffbd00 0 379.4px,#ffb000 0 394px,#ffa300 0 408.6px,#ff9300 0 419.5px,#fd5f00 0 437.8px,#fd2500 0 445.1px,#ff0b00 0 452.4px,#fa0000 0 459.6px,#f20000 0 474.2px,#ea0000 0 496.1px,#e20000 0 525.3px,#da0000 0 696.8px,#e30000 0 700.4px,#f50000 0 704.1px,#ff1900 0 707.7px,#fa4d00 0 711.4px,#ff8d00 0 715px,#ff9d00 0 729.6px)"></i>
<i style="left:2011px;width:4px;background:linear-gradient(#00a895 29.2px,#00a88c 0 51.1px,#00a77f 0 73px,#00a362 0 94.8px,#009d30 0 116.7px,#009900 0 138.6px,#00a200 0 160.5px,#00b500 0 182.4px,#00c800 0 204.3px,#00db00 0 226.2px,#00ec00 0 248.1px,#00fc00 0 270px,#4dfa00 0 291.8px,#97f900 0 306.4px,#b3f600 0 321px,#ccf100 0 335.6px,#e6eb00 0 350.2px,#f4df00 0 364.8px,#fad000 0 379.4px,#fec400 0 394px,#ffb800 0 408.6px,#ffac00 0 419.5px,#ff9b00 0 437.8px,#ff7100 0 445.1px,#f94700 0 452.4px,#fc2b00 0 459.6px,#ff1200 0 466.9px,#fe0000 0 496.1px,#f50000 0 510.7px,#ec0000 0 525.3px,#e40000 0 696.8px,#f70000 0 700.4px,#fd2200 0 704.1px,#fd6100 0 707.7px,#ff9700 0 711.4px,#ffaa00 0 729.6px)"></i>
<i style="left:2015px;width:3px;background:linear-gradient(#00a888 14.6px,#00a67b 0 29.2px,#00a46a 0 51.1px,#00a156 0 73px,#009d2f 0 94.8px,#009900 0 116.7px,#00a200 0 138.6px,#00b200 0 160.5px,#00c500 0 182.4px,#00d900 0 204.3px,#00e800 0 226.2px,#00f800 0 248.1px,#28fb00 0 270px,#90f900 0 291.8px,#b6f500 0 306.4px,#c7f200 0 321px,#dbed00 0 335.6px,#f1e600 0 350.2px,#f8d800 0 364.8px,#fcc900 0 379.4px,#ffbe00 0 394px,#ffb300 0 408.6px,#ffa800 0 419.5px,#ff9900 0 437.8px,#ff7100 0 445.1px,#fa4c00 0 452.4px,#fb3200 0 459.6px,#fe1c00 0 466.9px,#ff0b00 0 474.2px,#ff0000 0 496.1px,#f60000 0 510.7px,#ec0000 0 525.3px,#e20000 0 656.6px,#da0000 0 696.8px,#ef0000 0 700.4px,#ff0300 0 704.1px,#fa3700 0 707.7px,#ff7800 0 711.4px,#ff9e00 0 715px,#ffa700 0 729.6px)"></i>
<i style="left:2018px;width:4px;background:linear-gradient(#00a898 29.2px,#00a88f 0 73px,#00a571 0 94.8px,#009f44 0 116.7px,#009908 0 138.6px,#009f00 0 160.5px,#00b000 0 182.4px,#00c300 0 204.3px,#00d400 0 226.2px,#00e600 0 248.1px,#00f500 0 270px,#19fc00 0 291.8px,#68fa00 0 306.4px,#8ef900 0 321px,#b4f600 0 335.6px,#d3ef00 0 350.2px,#ede900 0 364.8px,#f7db00 0 379.4px,#fad000 0 394px,#fdc600 0 408.6px,#ffbc00 0 419.5px,#ffae00 0 437.8px,#ff9f00 0 445.1px,#ff9400 0 452.4px,#ff7c00 0 459.6px,#fc5f00 0 466.9px,#f84200 0 474.2px,#fa3600 0 481.5px,#fc2b00 0 488.8px,#fe1f00 0 496.1px,#ff1300 0 503.4px,#fe0000 0 518px,#f10000 0 532.6px,#e50000 0 649.3px,#dd0000 0 693.1px,#e80000 0 696.8px,#f90000 0 700.4px,#fc2800 0 704.1px,#fe6c00 0 707.7px,#ff9a00 0 711.4px,#ffac00 0 729.6px)"></i>
<i style="left:2022px;width:4px;background:linear-gradient(#00a576 14.6px,#00a46d 0 29.2px,#00a261 0 51.1px,#00a053 0 73px,#009d31 0 94.8px,#009900 0 138.6px,#00af00 0 160.5px,#00c000 0 182.4px,#00d100 0 204.3px,#00e100 0 226.2px,#00ee00 0 248.1px,#00fc00 0 270px,#34fa00 0 291.8px,#82f900 0 306.4px,#a9f800 0 321px,#c4f200 0 335.6px,#e4eb00 0 350.2px,#f5de00 0 364.8px,#fccc00 0 379.4px,#ffc000 0 394px,#ffb200 0 408.6px,#ffa500 0 419.5px,#ff8e00 0 437.8px,#fb5700 0 445.1px,#fa3600 0 452.4px,#fe1f00 0 459.6px,#ff0400 0 466.9px,#fa0000 0 488.8px,#ef0000 0 503.4px,#e50000 0 518px,#dd0000 0 660.3px,#d50000 0 696.8px,#e40000 0 700.4px,#f50000 0 704.1px,#ff1500 0 707.7px,#f84100 0 711.4px,#ff8200 0 715px,#ff9800 0 729.6px)"></i>
<i style="left:2026px;width:3px;background:linear-gradient(#00a89a 51.1px,#00a890 0 73px,#00a888 0 94.8px,#00a261 0 116.7px,#009d30 0 138.6px,#009900 0 160.5px,#00a200 0 182.4px,#00b300 0 204.3px,#00c300 0 226.2px,#00d300 0 248.1px,#00e300 0 270px,#00f100 0 291.8px,#00fb00 0 306.4px,#15fd00 0 321px,#66fa00 0 335.6px,#aff700 0 350.2px,#d3ef00 0 364.8px,#f0e700 0 379.4px,#f6dd00 0 394px,#fad100 0 408.6px,#fdc700 0 419.5px,#ffb900 0 437.8px,#ffab00 0 445.1px,#ffa300 0 452.4px,#ff9a00 0 459.6px,#ff8500 0 466.9px,#ff7100 0 474.2px,#fc5800 0 481.5px,#f84000 0 488.8px,#fb3100 0 496.1px,#fd2300 0 503.4px,#ff0900 0 510.7px,#fa0000 0 518px,#f20000 0 525.3px,#ea0000 0 532.6px,#e20000 0 696.8px,#f50000 0 700.4px,#ff1a00 0 704.1px,#fb5200 0 707.7px,#ff8c00 0 711.4px,#ffa500 0 715px,#ffad00 0 729.6px)"></i>
<i style="left:2029px;width:4px;background:linear-gradient(#00a894 51.1px,#00a889 0 73px,#00a571 0 94.8px,#009f42 0 116.7px,#009805 0 138.6px,#009f00 0 160.5px,#00b000 0 182.4px,#00c100 0 204.3px,#00d200 0 226.2px,#00e200 0 248.1px,#00f000 0 270px,#00fd00 0 291.8px,#25fb00 0 306.4px,#52fa00 0 321px,#91f900 0 335.6px,#bff300 0 350.2px,#deec00 0 364.8px,#f3e200 0 379.4px,#f8d900 0 394px,#fbcf00 0 408.6px,#fdc700 0 419.5px,#ffbc00 0 437.8px,#ffb000 0 452.4px,#ffa300 0 459.6px,#ff9b00 0 466.9px,#ff9100 0 474.2px,#ff8200 0 481.5px,#ff7300 0 488.8px,#fc5b00 0 496.1px,#f84100 0 503.4px,#fc2800 0 510.7px,#ff0e00 0 518px,#fb0000 0 525.3px,#f20000 0 532.6px,#ea0000 0 620.2px,#e20000 0 696.8px,#f90000 0 700.4px,#fd2300 0 704.1px,#fc5f00 0 707.7px,#ff9300 0 711.4px,#ffa700 0 729.6px)"></i>
<i style="left:2033px;width:4px;background:linear-gradient(#00a88c 29.2px,#00a782 0 51.1px,#00a677 0 73px,#00a25c 0 94.8px,#009c26 0 116.7px,#009b00 0 138.6px,#00a500 0 160.5px,#00b600 0 182.4px,#00c600 0 204.3px,#00d600 0 226.2px,#00e400 0 248.1px,#00f100 0 270px,#00fd00 0 291.8px,#28fb00 0 306.4px,#64fa00 0 321px,#a4f800 0 335.6px,#cdf100 0 350.2px,#eee800 0 364.8px,#f9d600 0 379.4px,#fcca00 0 394px,#ffbe00 0 408.6px,#ffb200 0 419.5px,#ffa300 0 437.8px,#ff8e00 0 445.1px,#ff7800 0 452.4px,#fc5800 0 459.6px,#f93900 0 466.9px,#fd2600 0 474.2px,#ff1500 0 481.5px,#ff0200 0 496.1px,#f60000 0 503.4px,#ed0000 0 510.7px,#e40000 0 525.3px,#db0000 0 696.8px,#e80000 0 700.4px,#f90000 0 704.1px,#fe2000 0 707.7px,#fb5500 0 711.4px,#ff8e00 0 715px,#ff9d00 0 729.6px)"></i>
<i style="left:2037px;width:3px;background:linear-gradient(#00a88b 51.1px,#00a77e 0 73px,#00a365 0 94.8px,#009d35 0 116.7px,#009900 0 160.5px,#00b000 0 182.4px,#00c000 0 204.3px,#00ce00 0 226.2px,#00dc00 0 248.1px,#00e900 0 270px,#00f400 0 291.8px,#00fd00 0 306.4px,#17fd00 0 321px,#67fa00 0 335.6px,#b1f600 0 350.2px,#d6ee00 0 364.8px,#f2e400 0 379.4px,#f7db00 0 394px,#fad000 0 408.6px,#fdc700 0 419.5px,#ffbb00 0 437.8px,#ffb000 0 452.4px,#ffa200 0 466.9px,#ff8d00 0 474.2px,#ff7900 0 481.5px,#fc5c00 0 488.8px,#f93c00 0 496.1px,#fc2900 0 503.4px,#ff0600 0 510.7px,#f60000 0 518px,#ec0000 0 525.3px,#e10000 0 547.2px,#d90000 0 700.4px,#ef0000 0 704.1px,#fe0000 0 707.7px,#fc2c00 0 711.4px,#fe6600 0 715px,#ff8000 0 729.6px)"></i>
<i style="left:2040px;width:4px;background:linear-gradient(#00a678 73px,#00a362 0 94.8px,#009e37 0 116.7px,#009804 0 138.6px,#009e00 0 160.5px,#00a900 0 182.4px,#00b600 0 204.3px,#00c200 0 226.2px,#00cd00 0 248.1px,#00d900 0 270px,#00e400 0 291.8px,#00ec00 0 306.4px,#00f400 0 321px,#09fe00 0 335.6px,#7dfa00 0 350.2px,#bdf400 0 364.8px,#e3eb00 0 379.4px,#f2e400 0 394px,#f7d900 0 408.6px,#fbcf00 0 419.5px,#fec300 0 437.8px,#ffb800 0 452.4px,#ffaa00 0 459.6px,#ffa200 0 466.9px,#ff9a00 0 474.2px,#ff8a00 0 481.5px,#ff7800 0 488.8px,#fc5e00 0 496.1px,#f84000 0 503.4px,#fd2100 0 510.7px,#ff0000 0 518px,#f50000 0 525.3px,#eb0000 0 532.6px,#e00000 0 696.8px,#f20000 0 700.4px,#ff0d00 0 704.1px,#f93c00 0 707.7px,#ff7a00 0 711.4px,#ff9d00 0 715px,#ffa500 0 729.6px)"></i>
<i style="left:2044px;width:4px;background:linear-gradient(#00a366 73px,#00a156 0 94.8px,#009c29 0 116.7px,#009900 0 160.5px,#00aa00 0 182.4px,#00b700 0 204.3px,#00c200 0 226.2px,#00cd00 0 248.1px,#00d800 0 270px,#00e300 0 291.8px,#00eb00 0 306.4px,#00f400 0 321px,#0efe00 0 335.6px,#87f900 0 350.2px,#c4f200 0 364.8px,#ebe900 0 379.4px,#f5df00 0 394px,#fad200 0 408.6px,#fdc700 0 419.5px,#ffb900 0 437.8px,#ffab00 0 445.1px,#ffa300 0 452.4px,#ff9a00 0 459.6px,#ff8800 0 466.9px,#ff7000 0 474.2px,#fa4d00 0 481.5px,#fa3400 0 488.8px,#fd2100 0 496.1px,#ff0c00 0 503.4px,#f80000 0 510.7px,#ed0000 0 518px,#e30000 0 532.6px,#d90000 0 696.8px,#ef0000 0 700.4px,#ff0200 0 704.1px,#fa3600 0 707.7px,#ff7700 0 711.4px,#ff9d00 0 715px,#ffa700 0 729.6px)"></i>
<i style="left:2048px;width:3px;background:linear-gradient(#00a88b 29.2px,#00a783 0 51.1px,#00a678 0 73px,#00a25f 0 94.8px,#009c2c 0 116.7px,#009a00 0 138.6px,#00a200 0 160.5px,#00b200 0 182.4px,#00c000 0 204.3px,#00cd00 0 226.2px,#00db00 0 248.1px,#00e600 0 270px,#00f100 0 291.8px,#00fb00 0 306.4px,#13fd00 0 321px,#67fa00 0 335.6px,#b0f600 0 350.2px,#d5ef00 0 364.8px,#f1e500 0 379.4px,#f7d900 0 394px,#fbcd00 0 408.6px,#fec200 0 419.5px,#ffb300 0 437.8px,#ffa600 0 452.4px,#ff9700 0 459.6px,#ff8400 0 466.9px,#ff7100 0 474.2px,#fb5300 0 481.5px,#f93a00 0 488.8px,#fc2a00 0 496.1px,#ff1a00 0 503.4px,#fe0000 0 518px,#ef0000 0 525.3px,#e70000 0 532.6px,#df0000 0 696.8px,#ee0000 0 700.4px,#fc0000 0 704.1px,#fe1e00 0 707.7px,#f93b00 0 711.4px,#fe6a00 0 715px,#ff7c00 0 722.3px,#fa4e00 0 726px,#fc2c00 0 729.6px)"></i>
<i style="left:2051px;width:4px;background:linear-gradient(#00a894 51.1px,#00a88b 0 73px,#00a677 0 94.8px,#00a051 0 116.7px,#009b1a 0 138.6px,#009c00 0 160.5px,#00a500 0 182.4px,#00b200 0 204.3px,#00be00 0 226.2px,#00cb00 0 248.1px,#00d700 0 270px,#00e400 0 291.8px,#00ed00 0 306.4px,#00f700 0 321px,#15fd00 0 335.6px,#7bfa00 0 350.2px,#b6f500 0 364.8px,#d8ee00 0 379.4px,#eee900 0 394px,#f6dd00 0 408.6px,#fad100 0 419.5px,#fec300 0 437.8px,#ffb500 0 452.4px,#ffa800 0 466.9px,#ff9a00 0 474.2px,#ff8b00 0 481.5px,#ff7600 0 488.8px,#fc5900 0 496.1px,#f83e00 0 503.4px,#fc2900 0 510.7px,#ff1300 0 518px,#fd0000 0 532.6px,#ef0000 0 547.2px,#e60000 0 693.1px,#f60000 0 696.8px,#ff0e00 0 700.4px,#f93800 0 704.1px,#fe6700 0 707.7px,#ff8000 0 711.4px,#ff9600 0 722.3px,#fd6500 0 726px,#fe1f00 0 729.6px)"></i>
<i style="left:2055px;width:4px;background:linear-gradient(#00a88c 29.2px,#00a67b 0 51.1px,#00a46a 0 73px,#00a04d 0 94.8px,#009a16 0 116.7px,#009c00 0 138.6px,#00a700 0 160.5px,#00b600 0 182.4px,#00c300 0 204.3px,#00cf00 0 226.2px,#00db00 0 248.1px,#00e600 0 270px,#00f200 0 291.8px,#00fb00 0 306.4px,#24fb00 0 321px,#7dfa00 0 335.6px,#b4f600 0 350.2px,#d5ef00 0 364.8px,#f0e800 0 379.4px,#f7d900 0 394px,#fcca00 0 408.6px,#ffbc00 0 419.5px,#ffa900 0 437.8px,#ff9500 0 445.1px,#ff8200 0 452.4px,#ff6f00 0 459.6px,#fa5000 0 466.9px,#f93800 0 474.2px,#fd2500 0 481.5px,#ff0f00 0 488.8px,#fd0000 0 503.4px,#f20000 0 518px,#e70000 0 532.6px,#de0000 0 685.8px,#e80000 0 693.1px,#f70000 0 696.8px,#ff1300 0 700.4px,#f93b00 0 704.1px,#fd6500 0 707.7px,#ff7700 0 711.4px,#ff8500 0 715px,#ff8f00 0 718.7px,#ff9700 0 722.3px,#fb3000 0 726px,#f40000 0 729.6px)"></i>
<i style="left:2059px;width:3px;background:linear-gradient(#00a88e 29.2px,#00a678 0 51.1px,#00a261 0 73px,#009e39 0 94.8px,#009800 0 116.7px,#00a100 0 138.6px,#00b100 0 160.5px,#00c200 0 182.4px,#00d000 0 204.3px,#00dd00 0 226.2px,#00e900 0 248.1px,#00f300 0 270px,#06fe00 0 291.8px,#38fa00 0 306.4px,#81f900 0 321px,#aff700 0 335.6px,#ccf100 0 350.2px,#e4eb00 0 364.8px,#f4e100 0 379.4px,#f9d300 0 394px,#fec400 0 408.6px,#ffb600 0 419.5px,#ffa500 0 437.8px,#ff8c00 0 445.1px,#ff7d00 0 452.4px,#fe6b00 0 459.6px,#fb5200 0 466.9px,#f93b00 0 474.2px,#fc2a00 0 481.5px,#ff1500 0 488.8px,#fe0000 0 503.4px,#f40000 0 518px,#eb0000 0 532.6px,#e00000 0 685.8px,#ec0000 0 693.1px,#fd0000 0 696.8px,#fd2200 0 700.4px,#fa4c00 0 704.1px,#ff7100 0 707.7px,#ff7900 0 711.4px,#ff8200 0 715px,#ff8a00 0 718.7px,#ff9200 0 722.3px,#fe1d00 0 726px,#ea0000 0 729.6px)"></i>
<i style="left:2062px;width:4px;background:linear-gradient(#00a77e 14.6px,#00a573 0 29.2px,#00a366 0 51.1px,#00a157 0 73px,#009d35 0 94.8px,#009803 0 116.7px,#009e00 0 138.6px,#00aa00 0 160.5px,#00b700 0 182.4px,#00c200 0 204.3px,#00cd00 0 226.2px,#00d800 0 248.1px,#00e200 0 270px,#00ed00 0 291.8px,#00f700 0 306.4px,#14fd00 0 321px,#71fa00 0 335.6px,#aef700 0 350.2px,#d0f000 0 364.8px,#ece900 0 379.4px,#f7db00 0 394px,#fcca00 0 408.6px,#ffba00 0 419.5px,#ffa500 0 437.8px,#ff8700 0 445.1px,#ff7200 0 452.4px,#fb5300 0 459.6px,#f93800 0 466.9px,#fd2500 0 474.2px,#ff1200 0 481.5px,#fe0000 0 496.1px,#f30000 0 510.7px,#eb0000 0 532.6px,#df0000 0 682.2px,#e70000 0 689.5px,#f40000 0 693.1px,#fe0000 0 696.8px,#fd2400 0 700.4px,#fa4f00 0 704.1px,#ff7300 0 711.4px,#ff8100 0 715px,#ff8900 0 722.3px,#fe1b00 0 726px,#e90000 0 729.6px)"></i>
<i style="left:2066px;width:4px;background:linear-gradient(#00a892 29.2px,#00a886 0 51.1px,#00a46f 0 73px,#00a04e 0 94.8px,#009a12 0 116.7px,#009e00 0 138.6px,#00ab00 0 160.5px,#00bc00 0 182.4px,#00c900 0 204.3px,#00d700 0 226.2px,#00e300 0 248.1px,#00ee00 0 270px,#00fb00 0 291.8px,#1bfc00 0 306.4px,#61fa00 0 321px,#9df800 0 335.6px,#bef400 0 350.2px,#d9ee00 0 364.8px,#f0e800 0 379.4px,#f7da00 0 394px,#fbcc00 0 408.6px,#ffc000 0 419.5px,#ffaf00 0 437.8px,#ff9f00 0 452.4px,#ff8b00 0 459.6px,#ff7c00 0 466.9px,#fe6b00 0 474.2px,#fa4b00 0 481.5px,#fb3000 0 488.8px,#ff1a00 0 496.1px,#ff0600 0 503.4px,#fb0000 0 518px,#f10000 0 532.6px,#e50000 0 547.2px,#dd0000 0 674.9px,#e70000 0 682.2px,#f40000 0 685.8px,#fc0000 0 689.5px,#ff1000 0 693.1px,#fb3100 0 696.8px,#fe6c00 0 700.4px,#ff9800 0 704.1px,#ffa200 0 711.4px,#ffaa00 0 722.3px,#ff7d00 0 726px,#ff0e00 0 729.6px)"></i>
<i style="left:2070px;width:3px;background:linear-gradient(#00a888 14.6px,#00a67c 0 29.2px,#00a46e 0 51.1px,#00a25d 0 73px,#009e3c 0 94.8px,#009908 0 116.7px,#009e00 0 138.6px,#00aa00 0 160.5px,#00b800 0 182.4px,#00c300 0 204.3px,#00cf00 0 226.2px,#00da00 0 248.1px,#00e500 0 270px,#00f000 0 291.8px,#00f900 0 306.4px,#1efc00 0 321px,#78fa00 0 335.6px,#b0f600 0 350.2px,#d0f000 0 364.8px,#ebe900 0 379.4px,#f6dc00 0 394px,#fccc00 0 408.6px,#ffbd00 0 419.5px,#ffaa00 0 437.8px,#ff9500 0 445.1px,#ff8200 0 452.4px,#ff6f00 0 459.6px,#fa5000 0 466.9px,#f93800 0 474.2px,#fd2500 0 481.5px,#ff1100 0 488.8px,#fd0000 0 503.4px,#f40000 0 518px,#ec0000 0 532.6px,#e20000 0 685.8px,#ef0000 0 693.1px,#fd0000 0 696.8px,#fd2300 0 700.4px,#fa4d00 0 704.1px,#ff7700 0 707.7px,#ff8800 0 711.4px,#ff9200 0 718.7px,#ff9d00 0 722.3px,#fa3400 0 726px,#f20000 0 729.6px)"></i>
<i style="left:2073px;width:4px;background:linear-gradient(#00a899 29.2px,#00a88e 0 51.1px,#00a886 0 73px,#00a366 0 94.8px,#009d34 0 116.7px,#009900 0 138.6px,#00a200 0 160.5px,#00b200 0 182.4px,#00c000 0 204.3px,#00cd00 0 226.2px,#00db00 0 248.1px,#00e700 0 270px,#00f300 0 291.8px,#00fe00 0 306.4px,#38fa00 0 321px,#8ff900 0 335.6px,#bcf400 0 350.2px,#daed00 0 364.8px,#f2e500 0 379.4px,#f9d500 0 394px,#fec500 0 408.6px,#ffb500 0 419.5px,#ffa000 0 437.8px,#ff7a00 0 445.1px,#fd6100 0 452.4px,#f84200 0 459.6px,#fb2f00 0 466.9px,#fe1d00 0 474.2px,#ff0b00 0 481.5px,#fd0000 0 496.1px,#f50000 0 518px,#ed0000 0 539.9px,#e00000 0 591px,#e80000 0 693.1px,#f60000 0 696.8px,#ff0600 0 700.4px,#fc2b00 0 704.1px,#fb5500 0 707.7px,#ff7f00 0 711.4px,#ff8a00 0 715px,#ff9400 0 722.3px,#fa3400 0 726px,#f20000 0 729.6px)"></i>
<i style="left:2077px;width:4px;background:linear-gradient(#00a678 14.6px,#00a469 0 29.2px,#00a156 0 51.1px,#009e39 0 73px,#00990b 0 94.8px,#009e00 0 116.7px,#00ac00 0 138.6px,#00bd00 0 160.5px,#00cd00 0 182.4px,#00da00 0 204.3px,#00e600 0 226.2px,#00f000 0 248.1px,#00fb00 0 270px,#29fb00 0 291.8px,#72fa00 0 306.4px,#a0f800 0 321px,#bdf400 0 335.6px,#d7ee00 0 350.2px,#eee800 0 364.8px,#f6db00 0 379.4px,#fbce00 0 394px,#ffbf00 0 408.6px,#ffb100 0 419.5px,#ff9f00 0 437.8px,#ff8000 0 445.1px,#ff7100 0 452.4px,#fc5a00 0 459.6px,#f84200 0 466.9px,#fa3300 0 474.2px,#fd2100 0 481.5px,#ff0700 0 488.8px,#f90000 0 503.4px,#ee0000 0 518px,#e30000 0 539.9px,#d90000 0 696.8px,#e20000 0 700.4px,#ee0000 0 704.1px,#fb0000 0 707.7px,#fe2000 0 711.4px,#fb3000 0 715px,#f93d00 0 718.7px,#fb5100 0 722.3px,#fe0000 0 726px,#e30000 0 729.6px)"></i>
<i style="left:2081px;width:3px;background:linear-gradient(#00a572 14.6px,#00a367 0 29.2px,#00a15a 0 51.1px,#009f49 0 73px,#009c25 0 94.8px,#009a00 0 138.6px,#00ae00 0 160.5px,#00bb00 0 182.4px,#00c600 0 204.3px,#00d100 0 226.2px,#00dc00 0 248.1px,#00e500 0 270px,#00f000 0 291.8px,#00f900 0 306.4px,#1dfc00 0 321px,#77fa00 0 335.6px,#b0f600 0 350.2px,#d0f000 0 364.8px,#eae900 0 379.4px,#f6dc00 0 394px,#fbcc00 0 408.6px,#ffbe00 0 419.5px,#ffaa00 0 437.8px,#ff9700 0 445.1px,#ff8400 0 452.4px,#ff7100 0 459.6px,#fb5400 0 466.9px,#f93a00 0 474.2px,#fc2600 0 481.5px,#ff1000 0 488.8px,#fc0000 0 503.4px,#f20000 0 518px,#e80000 0 532.6px,#df0000 0 696.8px,#ef0000 0 700.4px,#fb0000 0 704.1px,#fe2000 0 707.7px,#fa4f00 0 711.4px,#fe6b00 0 715px,#ff7b00 0 718.7px,#ff8900 0 722.3px,#fc2a00 0 726px,#f00000 0 729.6px)"></i>
<i style="left:2084px;width:4px;background:linear-gradient(#00a895 29.2px,#00a88c 0 73px,#00a469 0 94.8px,#009e40 0 116.7px,#009909 0 138.6px,#009e00 0 160.5px,#00a900 0 182.4px,#00b500 0 204.3px,#00c100 0 226.2px,#00cc00 0 248.1px,#00d800 0 270px,#00e500 0 291.8px,#00ef00 0 306.4px,#00fb00 0 321px,#2cfa00 0 335.6px,#8af900 0 350.2px,#baf400 0 364.8px,#d9ee00 0 379.4px,#f1e600 0 394px,#f8d700 0 408.6px,#fdc800 0 419.5px,#ffb600 0 437.8px,#ffa500 0 452.4px,#ff9400 0 459.6px,#ff8100 0 466.9px,#ff6d00 0 474.2px,#fa4a00 0 481.5px,#fb3000 0 488.8px,#ff1a00 0 496.1px,#ff0600 0 503.4px,#fb0000 0 518px,#f10000 0 532.6px,#e60000 0 547.2px,#dd0000 0 693.1px,#e70000 0 696.8px,#f30000 0 700.4px,#ff0000 0 704.1px,#fc2700 0 707.7px,#fa4b00 0 711.4px,#fd6100 0 715px,#ff7200 0 718.7px,#ff7e00 0 722.3px,#ff1900 0 726px,#ea0000 0 729.6px)"></i>
<i style="left:2088px;width:4px;background:linear-gradient(#00a88c 29.2px,#00a679 0 51.1px,#00a367 0 73px,#009f48 0 94.8px,#009a12 0 116.7px,#009d00 0 138.6px,#00a800 0 160.5px,#00b700 0 182.4px,#00c300 0 204.3px,#00cf00 0 226.2px,#00db00 0 248.1px,#00e600 0 270px,#00f100 0 291.8px,#00fb00 0 306.4px,#24fb00 0 321px,#7dfa00 0 335.6px,#b2f600 0 350.2px,#d2f000 0 364.8px,#ece900 0 379.4px,#f6db00 0 394px,#fccb00 0 408.6px,#ffbc00 0 419.5px,#ffa900 0 437.8px,#ff9400 0 445.1px,#ff8200 0 452.4px,#ff6f00 0 459.6px,#fa5000 0 466.9px,#f93800 0 474.2px,#fd2500 0 481.5px,#ff0f00 0 488.8px,#fd0000 0 503.4px,#f30000 0 518px,#ea0000 0 532.6px,#e00000 0 682.2px,#ed0000 0 689.5px,#f90000 0 693.1px,#ff0b00 0 696.8px,#fa3400 0 700.4px,#ff6e00 0 704.1px,#ff8d00 0 707.7px,#ff9b00 0 715px,#ffa400 0 722.3px,#fc5f00 0 726px,#fc0000 0 729.6px)"></i>
<i style="left:2092px;width:3px;background:linear-gradient(#00a891 29.2px,#00a887 0 51.1px,#00a572 0 73px,#00a053 0 94.8px,#009b1b 0 116.7px,#009c00 0 138.6px,#00a700 0 160.5px,#00b700 0 182.4px,#00c400 0 204.3px,#00d000 0 226.2px,#00dd00 0 248.1px,#00e800 0 270px,#00f400 0 291.8px,#00ff00 0 306.4px,#40fa00 0 321px,#95f900 0 335.6px,#bff300 0 350.2px,#deed00 0 364.8px,#f3e300 0 379.4px,#fad200 0 394px,#ffc200 0 408.6px,#ffb000 0 419.5px,#ff9b00 0 437.8px,#fe6900 0 445.1px,#f94800 0 452.4px,#fa3200 0 459.6px,#fe2000 0 466.9px,#ff0b00 0 474.2px,#fc0000 0 488.8px,#ef0000 0 503.4px,#e50000 0 525.3px,#dd0000 0 685.8px,#e90000 0 693.1px,#fa0000 0 696.8px,#ff1b00 0 700.4px,#f84100 0 704.1px,#fe6a00 0 707.7px,#ff7500 0 711.4px,#ff7f00 0 715px,#ff8800 0 718.7px,#ff9100 0 722.3px,#fe1e00 0 726px,#ea0000 0 729.6px)"></i>
<i style="left:2095px;width:4px;background:linear-gradient(#00a893 29.2px,#00a88a 0 51.1px,#00a67c 0 73px,#00a260 0 94.8px,#009d30 0 116.7px,#009900 0 160.5px,#00af00 0 182.4px,#00bb00 0 204.3px,#00c700 0 226.2px,#00d300 0 248.1px,#00df00 0 270px,#00eb00 0 291.8px,#00f400 0 306.4px,#00ff00 0 321px,#40fa00 0 335.6px,#91f900 0 350.2px,#baf400 0 364.8px,#d7ee00 0 379.4px,#eee800 0 394px,#f6db00 0 408.6px,#fbce00 0 419.5px,#ffbf00 0 437.8px,#ffb000 0 452.4px,#ffa500 0 466.9px,#ff9900 0 474.2px,#ff8500 0 481.5px,#fe6900 0 488.8px,#f84000 0 496.1px,#fb2d00 0 503.4px,#ff1a00 0 510.7px,#ff0500 0 518px,#fb0000 0 532.6px,#ee0000 0 539.9px,#e50000 0 583.7px,#dd0000 0 678.5px,#e90000 0 685.8px,#f80000 0 693.1px,#fd2300 0 696.8px,#fa5000 0 700.4px,#ff8500 0 704.1px,#ff9b00 0 715px,#ffa500 0 722.3px,#fc5b00 0 726px,#fb0000 0 729.6px)"></i>
<i style="left:2099px;width:4px;background:linear-gradient(#00a899 29.2px,#00a88e 0 51.1px,#00a783 0 73px,#00a261 0 94.8px,#009c2b 0 116.7px,#009b00 0 138.6px,#00a500 0 160.5px,#00b600 0 182.4px,#00c400 0 204.3px,#00d200 0 226.2px,#00e000 0 248.1px,#00eb00 0 270px,#00f800 0 291.8px,#0ffd00 0 306.4px,#53fa00 0 321px,#9af900 0 335.6px,#bff300 0 350.2px,#dbed00 0 364.8px,#f1e500 0 379.4px,#f8d700 0 394px,#fdc800 0 408.6px,#ffb900 0 419.5px,#ffa600 0 437.8px,#ff8e00 0 445.1px,#ff7d00 0 452.4px,#fe6900 0 459.6px,#fa4d00 0 466.9px,#f93800 0 474.2px,#fd2600 0 481.5px,#ff1100 0 488.8px,#fd0000 0 503.4px,#f40000 0 518px,#ec0000 0 532.6px,#e20000 0 678.5px,#ed0000 0 682.2px,#f50000 0 689.5px,#ff1100 0 693.1px,#fb3100 0 696.8px,#fe6a00 0 700.4px,#ff9500 0 704.1px,#ffa100 0 715px,#ffab00 0 722.3px,#ff7500 0 726px,#ff0400 0 729.6px)"></i>
<i style="left:2103px;width:3px;background:linear-gradient(#00a67b 14.6px,#00a570 0 29.2px,#00a363 0 51.1px,#00a053 0 73px,#009d30 0 94.8px,#009800 0 138.6px,#00ab00 0 160.5px,#00b900 0 182.4px,#00c300 0 204.3px,#00ce00 0 226.2px,#00d900 0 248.1px,#00e400 0 270px,#00ee00 0 291.8px,#00f800 0 306.4px,#18fd00 0 321px,#74fa00 0 335.6px,#aff700 0 350.2px,#d0f000 0 364.8px,#ebe900 0 379.4px,#f6db00 0 394px,#fccb00 0 408.6px,#ffbb00 0 419.5px,#ffa700 0 437.8px,#ff8c00 0 445.1px,#ff7900 0 452.4px,#fc5e00 0 459.6px,#f83f00 0 466.9px,#fb2d00 0 474.2px,#ff1900 0 481.5px,#ff0000 0 496.1px,#f30000 0 510.7px,#e90000 0 525.3px,#e00000 0 547.2px,#d80000 0 682.2px,#e30000 0 689.5px,#f10000 0 693.1px,#fb0000 0 696.8px,#fe1e00 0 700.4px,#f94600 0 704.1px,#ff6f00 0 707.7px,#ff7800 0 711.4px,#ff8100 0 715px,#ff8a00 0 718.7px,#ff9400 0 722.3px,#fe2000 0 726px,#eb0000 0 729.6px)"></i>
<i style="left:2106px;width:4px;background:linear-gradient(#00a899 29.2px,#00a88f 0 51.1px,#00a887 0 73px,#00a368 0 94.8px,#009e37 0 116.7px,#009900 0 138.6px,#00a100 0 160.5px,#00b000 0 182.4px,#00be00 0 204.3px,#00cb00 0 226.2px,#00d800 0 248.1px,#00e400 0 270px,#00f100 0 291.8px,#00fb00 0 306.4px,#21fc00 0 321px,#77fa00 0 335.6px,#aef700 0 350.2px,#cdf100 0 364.8px,#e7ea00 0 379.4px,#f4df00 0 394px,#fad000 0 408.6px,#fec300 0 419.5px,#ffb100 0 437.8px,#ffa000 0 452.4px,#ff8b00 0 459.6px,#ff7900 0 466.9px,#fd6300 0 474.2px,#f94500 0 481.5px,#fb3000 0 488.8px,#fe1d00 0 496.1px,#ff0d00 0 503.4px,#fe0000 0 518px,#f60000 0 532.6px,#ed0000 0 539.9px,#e50000 0 678.5px,#ed0000 0 685.8px,#f60000 0 693.1px,#ff1000 0 696.8px,#fa3600 0 700.4px,#ff6e00 0 704.1px,#ff8c00 0 707.7px,#ff9b00 0 718.7px,#ffa500 0 722.3px,#fb5300 0 726px,#f90000 0 729.6px)"></i>
<i style="left:2110px;width:4px;background:linear-gradient(#00a891 29.2px,#00a784 0 51.1px,#00a46e 0 73px,#00a04e 0 94.8px,#009a13 0 116.7px,#009d00 0 138.6px,#00aa00 0 160.5px,#00ba00 0 182.4px,#00c800 0 204.3px,#00d500 0 226.2px,#00e200 0 248.1px,#00ec00 0 270px,#00f900 0 291.8px,#11fd00 0 306.4px,#56fa00 0 321px,#9af800 0 335.6px,#bff300 0 350.2px,#dbed00 0 364.8px,#f1e600 0 379.4px,#f8d800 0 394px,#fcc900 0 408.6px,#ffba00 0 419.5px,#ffa800 0 437.8px,#ff9400 0 445.1px,#ff8400 0 452.4px,#ff7300 0 459.6px,#fc5900 0 466.9px,#f83f00 0 474.2px,#fb2d00 0 481.5px,#ff1800 0 488.8px,#ff0000 0 503.4px,#f50000 0 518px,#ec0000 0 532.6px,#e10000 0 696.8px,#f10000 0 700.4px,#fd0000 0 704.1px,#fc2700 0 707.7px,#fc5a00 0 711.4px,#ff7300 0 715px,#ff8100 0 718.7px,#ff8e00 0 722.3px,#fb2e00 0 726px,#f20000 0 729.6px)"></i>
<i style="left:2114px;width:3px;background:linear-gradient(#00a052 14.6px,#009f44 0 29.2px,#009d32 0 51.1px,#009b1c 0 73px,#009900 0 116.7px,#00ac00 0 138.6px,#00b900 0 160.5px,#00c700 0 182.4px,#00d200 0 204.3px,#00dc00 0 226.2px,#00e500 0 248.1px,#00ee00 0 270px,#00f900 0 291.8px,#0ffd00 0 306.4px,#5ffa00 0 321px,#a6f800 0 335.6px,#c8f200 0 350.2px,#e5eb00 0 364.8px,#f5de00 0 379.4px,#fbce00 0 394px,#ffbc00 0 408.6px,#ffaa00 0 419.5px,#ff8d00 0 437.8px,#f94900 0 445.1px,#fa3200 0 452.4px,#fe2000 0 459.6px,#ff0b00 0 466.9px,#fc0000 0 481.5px,#f00000 0 496.1px,#e50000 0 518px,#dd0000 0 547.2px,#d50000 0 685.8px,#dd0000 0 696.8px,#ed0000 0 700.4px,#f90000 0 704.1px,#ff1a00 0 707.7px,#f94400 0 711.4px,#fd6000 0 715px,#ff7400 0 718.7px,#ff8300 0 722.3px,#fd2400 0 726px,#ee0000 0 729.6px)"></i>
<i style="left:2117px;width:4px;background:linear-gradient(#00a892 29.2px,#00a889 0 51.1px,#00a679 0 73px,#00a25c 0 94.8px,#009c2a 0 116.7px,#009a00 0 138.6px,#00a200 0 160.5px,#00b100 0 182.4px,#00bd00 0 204.3px,#00ca00 0 226.2px,#00d600 0 248.1px,#00e200 0 270px,#00ee00 0 291.8px,#00f800 0 306.4px,#1afc00 0 321px,#77fa00 0 335.6px,#b1f600 0 350.2px,#d2ef00 0 364.8px,#eee800 0 379.4px,#f7d900 0 394px,#fdc800 0 408.6px,#ffb800 0 419.5px,#ffa300 0 437.8px,#ff8100 0 445.1px,#fe6b00 0 452.4px,#f94a00 0 459.6px,#fa3300 0 466.9px,#fe2000 0 474.2px,#ff0c00 0 481.5px,#fc0000 0 496.1px,#f20000 0 510.7px,#e90000 0 532.6px,#df0000 0 693.1px,#e80000 0 696.8px,#f30000 0 700.4px,#ff0100 0 704.1px,#fb2d00 0 707.7px,#fd6300 0 711.4px,#ff7800 0 715px,#ff8600 0 718.7px,#ff9300 0 722.3px,#fa3200 0 726px,#f30000 0 729.6px)"></i>
<i style="left:2121px;width:4px;background:linear-gradient(#00a88d 29.2px,#00a67a 0 51.1px,#00a366 0 73px,#009f44 0 94.8px,#00990b 0 116.7px,#009e00 0 138.6px,#00ab00 0 160.5px,#00bb00 0 182.4px,#00c700 0 204.3px,#00d400 0 226.2px,#00e100 0 248.1px,#00eb00 0 270px,#00f700 0 291.8px,#08fe00 0 306.4px,#4afa00 0 321px,#96f900 0 335.6px,#bef400 0 350.2px,#dbed00 0 364.8px,#f1e500 0 379.4px,#f9d600 0 394px,#fdc600 0 408.6px,#ffb700 0 419.5px,#ffa400 0 437.8px,#ff8600 0 445.1px,#ff7400 0 452.4px,#fc5900 0 459.6px,#f83e00 0 466.9px,#fb2d00 0 474.2px,#ff1a00 0 481.5px,#ff0100 0 488.8px,#f80000 0 503.4px,#ee0000 0 518px,#e50000 0 532.6px,#dd0000 0 663.9px,#e60000 0 671.2px,#f20000 0 678.5px,#fd0000 0 682.2px,#ff0c00 0 685.8px,#ff1900 0 689.5px,#fe2000 0 693.1px,#fc2b00 0 696.8px,#f93d00 0 700.4px,#fc5900 0 704.1px,#ff7500 0 707.7px,#ff8900 0 711.4px,#ff9400 0 718.7px,#ff9e00 0 722.3px,#fb2d00 0 726px,#ef0000 0 729.6px)"></i>
<i style="left:2125px;width:3px;background:linear-gradient(#00a896 29.2px,#00a88d 0 73px,#00a469 0 94.8px,#009e3e 0 116.7px,#009905 0 138.6px,#009e00 0 160.5px,#00ab00 0 182.4px,#00b700 0 204.3px,#00c300 0 226.2px,#00cf00 0 248.1px,#00dc00 0 270px,#00e800 0 291.8px,#00f200 0 306.4px,#00fe00 0 321px,#40fa00 0 335.6px,#96f900 0 350.2px,#bff300 0 364.8px,#dded00 0 379.4px,#f2e400 0 394px,#f9d500 0 408.6px,#fdc700 0 419.5px,#ffb500 0 437.8px,#ffa300 0 452.4px,#ff9100 0 459.6px,#ff7e00 0 466.9px,#fe6900 0 474.2px,#f94700 0 481.5px,#fb2e00 0 488.8px,#ff1800 0 496.1px,#ff0300 0 503.4px,#fa0000 0 518px,#f10000 0 532.6px,#e50000 0 547.2px,#dd0000 0 656.6px,#ed0000 0 660.3px,#f60000 0 663.9px,#ff0100 0 667.6px,#fe2000 0 671.2px,#f93a00 0 674.9px,#fd5f00 0 678.5px,#ff7f00 0 682.2px,#ff9800 0 689.5px,#ffa200 0 700.4px,#ffac00 0 711.4px,#ffb600 0 722.3px,#ff8a00 0 726px,#ff1600 0 729.6px)"></i>
<i style="left:2128px;width:4px;background:linear-gradient(#00a889 14.6px,#00a67d 0 29.2px,#00a46d 0 51.1px,#00a15a 0 73px,#009d34 0 94.8px,#009800 0 116.7px,#00a000 0 138.6px,#00ae00 0 160.5px,#00bd00 0 182.4px,#00ca00 0 204.3px,#00d600 0 226.2px,#00e200 0 248.1px,#00ec00 0 270px,#00f700 0 291.8px,#07fe00 0 306.4px,#3dfa00 0 321px,#89f900 0 335.6px,#b4f600 0 350.2px,#d1f000 0 364.8px,#e8ea00 0 379.4px,#f4df00 0 394px,#fad200 0 408.6px,#fdc500 0 419.5px,#ffb500 0 437.8px,#ffa600 0 452.4px,#ff9b00 0 459.6px,#ff9100 0 466.9px,#ff8200 0 474.2px,#fe6c00 0 481.5px,#f84300 0 488.8px,#fc2b00 0 496.1px,#ff1800 0 503.4px,#ff0200 0 518px,#f50000 0 532.6px,#e90000 0 539.9px,#e00000 0 660.3px,#ed0000 0 663.9px,#f50000 0 667.6px,#fe0000 0 671.2px,#ff1700 0 674.9px,#fb2d00 0 678.5px,#f94600 0 682.2px,#fe6c00 0 685.8px,#ff7d00 0 693.1px,#ff8b00 0 700.4px,#ff9900 0 711.4px,#ffa100 0 722.3px,#fa3400 0 726px,#f00000 0 729.6px)"></i>
<i style="left:2132px;width:4px;background:linear-gradient(#00a898 29.2px,#00a88f 0 73px,#00a46a 0 94.8px,#009e3c 0 116.7px,#009800 0 138.6px,#00a000 0 160.5px,#00af00 0 182.4px,#00bc00 0 204.3px,#00c900 0 226.2px,#00d700 0 248.1px,#00e400 0 270px,#00f100 0 291.8px,#00fc00 0 306.4px,#28fb00 0 321px,#7ff900 0 335.6px,#b1f600 0 350.2px,#cef000 0 364.8px,#e6eb00 0 379.4px,#f4e000 0 394px,#fad200 0 408.6px,#fdc600 0 419.5px,#ffb600 0 437.8px,#ffa700 0 452.4px,#ff9a00 0 459.6px,#ff8c00 0 466.9px,#ff7a00 0 474.2px,#fd6300 0 481.5px,#f84200 0 488.8px,#fb2f00 0 496.1px,#fe2000 0 503.4px,#ff1100 0 510.7px,#ff0100 0 525.3px,#f80000 0 539.9px,#eb0000 0 649.3px,#f40000 0 660.3px,#ff0900 0 663.9px,#fd2100 0 667.6px,#fa3700 0 671.2px,#fb5300 0 674.9px,#ff7300 0 678.5px,#ff8700 0 682.2px,#ff9900 0 689.5px,#ffa100 0 696.8px,#ffaa00 0 704.1px,#ffb300 0 711.4px,#ffbc00 0 722.3px,#ff9b00 0 726px,#fb2d00 0 729.6px)"></i>
<i style="left:2136px;width:3px;background:linear-gradient(#00a896 29.2px,#00a88d 0 73px,#00a46a 0 94.8px,#009e3e 0 116.7px,#009802 0 138.6px,#009f00 0 160.5px,#00ae00 0 182.4px,#00bb00 0 204.3px,#00c900 0 226.2px,#00d700 0 248.1px,#00e600 0 270px,#00f400 0 291.8px,#0efe00 0 306.4px,#6afa00 0 321px,#acf700 0 335.6px,#cdf100 0 350.2px,#e6ea00 0 364.8px,#f4df00 0 379.4px,#fad000 0 394px,#ffc100 0 408.6px,#ffb100 0 419.5px,#ff9d00 0 437.8px,#ff7a00 0 445.1px,#fc5c00 0 452.4px,#f93c00 0 459.6px,#fc2700 0 466.9px,#ff1000 0 474.2px,#fe0000 0 488.8px,#f60000 0 510.7px,#ec0000 0 532.6px,#e40000 0 656.6px,#ec0000 0 667.6px,#f60000 0 678.5px,#ff0100 0 682.2px,#ff0d00 0 689.5px,#ff1800 0 693.1px,#fd2500 0 696.8px,#f93c00 0 700.4px,#fd6100 0 704.1px,#ff8100 0 707.7px,#ff9900 0 715px,#ffa100 0 722.3px,#f94900 0 726px,#f70000 0 729.6px)"></i>
<i style="left:2139px;width:4px;background:linear-gradient(#00a891 29.2px,#00a888 0 51.1px,#00a574 0 73px,#00a156 0 94.8px,#009b21 0 116.7px,#009c00 0 138.6px,#00a900 0 160.5px,#00ba00 0 182.4px,#00c800 0 204.3px,#00d700 0 226.2px,#00e600 0 248.1px,#00f500 0 270px,#22fb00 0 291.8px,#89f900 0 306.4px,#b9f500 0 321px,#d7ee00 0 335.6px,#efe800 0 350.2px,#f6dc00 0 364.8px,#fbcf00 0 379.4px,#fec200 0 394px,#ffb300 0 408.6px,#ffa500 0 419.5px,#ff8d00 0 437.8px,#fd6500 0 445.1px,#f94400 0 452.4px,#fb2f00 0 459.6px,#ff1b00 0 466.9px,#ff0300 0 481.5px,#f60000 0 496.1px,#ed0000 0 510.7px,#e40000 0 539.9px,#dc0000 0 678.5px,#e40000 0 693.1px,#f00000 0 696.8px,#fd0000 0 700.4px,#fd2400 0 704.1px,#fb5700 0 707.7px,#ff8d00 0 711.4px,#ff9b00 0 718.7px,#ffa600 0 722.3px,#ff7000 0 726px,#ff0800 0 729.6px)"></i>
<i style="left:2143px;width:4px;background:linear-gradient(#00a895 29.2px,#00a88b 0 51.1px,#00a67c 0 73px,#00a25d 0 94.8px,#009c28 0 116.7px,#009b00 0 138.6px,#00a900 0 160.5px,#00ba00 0 182.4px,#00c900 0 204.3px,#00d900 0 226.2px,#00e700 0 248.1px,#00f700 0 270px,#2efa00 0 291.8px,#94f900 0 306.4px,#bcf400 0 321px,#d7ee00 0 335.6px,#eee800 0 350.2px,#f5de00 0 364.8px,#fad200 0 379.4px,#fdc600 0 394px,#ffb900 0 408.6px,#ffac00 0 419.5px,#ff9e00 0 437.8px,#ff8700 0 445.1px,#ff7500 0 452.4px,#fc5900 0 459.6px,#f93c00 0 466.9px,#fc2a00 0 474.2px,#fe1b00 0 481.5px,#ff0900 0 488.8px,#fd0000 0 503.4px,#f40000 0 525.3px,#ea0000 0 547.2px,#e10000 0 685.8px,#e90000 0 693.1px,#f10000 0 696.8px,#fd0000 0 700.4px,#fd2200 0 704.1px,#fb5100 0 707.7px,#ff8800 0 711.4px,#ff9800 0 718.7px,#ffa200 0 722.3px,#fc5c00 0 726px,#fd0000 0 729.6px)"></i>
<i style="left:2147px;width:3px;background:linear-gradient(#00a88f 29.2px,#00a780 0 51.1px,#00a46b 0 73px,#009f49 0 94.8px,#009a0f 0 116.7px,#009e00 0 138.6px,#00af00 0 160.5px,#00c000 0 182.4px,#00d000 0 204.3px,#00df00 0 226.2px,#00ec00 0 248.1px,#00fc00 0 270px,#54fa00 0 291.8px,#a9f800 0 306.4px,#c7f200 0 321px,#e2eb00 0 335.6px,#f3e200 0 350.2px,#f8d600 0 364.8px,#fcca00 0 379.4px,#ffbd00 0 394px,#ffae00 0 408.6px,#ffa000 0 419.5px,#ff8300 0 437.8px,#fc5900 0 445.1px,#f93c00 0 452.4px,#fc2a00 0 459.6px,#ff1600 0 466.9px,#ff0000 0 481.5px,#f70000 0 503.4px,#ee0000 0 532.6px,#e50000 0 612.9px,#ed0000 0 693.1px,#fa0000 0 696.8px,#ff1800 0 700.4px,#f93c00 0 704.1px,#ff7800 0 707.7px,#ff9b00 0 715px,#ffa600 0 722.3px,#ff7900 0 726px,#ff0e00 0 729.6px)"></i>
<i style="left:2150px;width:4px;background:linear-gradient(#00a46c 14.6px,#00a260 0 29.2px,#00a051 0 51.1px,#009e37 0 73px,#009a10 0 94.8px,#009d00 0 116.7px,#00a900 0 138.6px,#00ba00 0 160.5px,#00ca00 0 182.4px,#00d800 0 204.3px,#00e500 0 226.2px,#00f000 0 248.1px,#00ff00 0 270px,#60fa00 0 291.8px,#abf700 0 306.4px,#cbf100 0 321px,#e7ea00 0 335.6px,#f5de00 0 350.2px,#fad100 0 364.8px,#fec300 0 379.4px,#ffb300 0 394px,#ffa200 0 408.6px,#ff8700 0 419.5px,#f94900 0 437.8px,#fd2200 0 445.1px,#ff0b00 0 452.4px,#fb0000 0 466.9px,#ee0000 0 481.5px,#e40000 0 510.7px,#dc0000 0 674.9px,#e60000 0 685.8px,#ee0000 0 693.1px,#f70000 0 696.8px,#ff0e00 0 700.4px,#fa3400 0 704.1px,#ff6f00 0 707.7px,#ff9800 0 715px,#ffa500 0 722.3px,#ff7a00 0 726px,#ff1200 0 729.6px)"></i>
<i style="left:2154px;width:4px;background:linear-gradient(#00a89a 29.2px,#00a88e 0 51.1px,#00a885 0 73px,#00a364 0 94.8px,#009d2f 0 116.7px,#009b00 0 138.6px,#00a700 0 160.5px,#00b800 0 182.4px,#00c800 0 204.3px,#00d700 0 226.2px,#00e600 0 248.1px,#00f500 0 270px,#1efc00 0 291.8px,#7ff900 0 306.4px,#b3f600 0 321px,#d2ef00 0 335.6px,#ece900 0 350.2px,#f5dd00 0 364.8px,#fad000 0 379.4px,#fec200 0 394px,#ffb200 0 408.6px,#ffa300 0 419.5px,#ff8600 0 437.8px,#fb5400 0 445.1px,#f93700 0 452.4px,#fd2300 0 459.6px,#ff0d00 0 466.9px,#fc0000 0 481.5px,#f20000 0 496.1px,#ea0000 0 518px,#e10000 0 671.2px,#e90000 0 682.2px,#f10000 0 696.8px,#ff0700 0 700.4px,#fd2400 0 704.1px,#f84000 0 707.7px,#ff7100 0 711.4px,#ff7d00 0 715px,#ff8700 0 718.7px,#ff9100 0 722.3px,#fd2400 0 726px,#ec0000 0 729.6px)"></i>
<i style="left:2158px;width:3px;background:linear-gradient(#00a896 29.2px,#00a88c 0 51.1px,#00a780 0 73px,#00a261 0 94.8px,#009d2e 0 116.7px,#009a00 0 138.6px,#00a400 0 160.5px,#00b500 0 182.4px,#00c300 0 204.3px,#00d100 0 226.2px,#00e000 0 248.1px,#00ed00 0 270px,#00fc00 0 291.8px,#30fa00 0 306.4px,#8ff900 0 321px,#bef400 0 335.6px,#dced00 0 350.2px,#f1e500 0 364.8px,#f8d700 0 379.4px,#fdc800 0 394px,#ffb700 0 408.6px,#ffa700 0 419.5px,#ff8c00 0 437.8px,#fb5600 0 445.1px,#fa3600 0 452.4px,#fe2000 0 459.6px,#ff0700 0 466.9px,#fa0000 0 481.5px,#ee0000 0 496.1px,#e60000 0 518px,#de0000 0 663.9px,#e90000 0 671.2px,#f30000 0 678.5px,#fc0000 0 682.2px,#ff0600 0 685.8px,#ff1200 0 689.5px,#ff1a00 0 693.1px,#fc2800 0 696.8px,#f83f00 0 700.4px,#fd6600 0 704.1px,#ff8400 0 707.7px,#ff9a00 0 715px,#ffa300 0 722.3px,#fb5500 0 726px,#fa0000 0 729.6px)"></i>
<i style="left:2161px;width:4px;background:linear-gradient(#009f47 14.6px,#009d37 0 29.2px,#009b22 0 51.1px,#009909 0 73px,#009c00 0 94.8px,#00a500 0 116.7px,#00b400 0 138.6px,#00c300 0 160.5px,#00d200 0 182.4px,#00de00 0 204.3px,#00e800 0 226.2px,#00f200 0 248.1px,#00fd00 0 270px,#35fa00 0 291.8px,#81f900 0 306.4px,#b0f600 0 321px,#cdf100 0 335.6px,#e4eb00 0 350.2px,#f3e200 0 364.8px,#f9d500 0 379.4px,#fdc800 0 394px,#ffbb00 0 408.6px,#ffad00 0 419.5px,#ff9d00 0 437.8px,#ff8000 0 445.1px,#fe6b00 0 452.4px,#fa4b00 0 459.6px,#fa3400 0 466.9px,#fd2200 0 474.2px,#ff0d00 0 481.5px,#fb0000 0 496.1px,#ef0000 0 510.7px,#e40000 0 532.6px,#db0000 0 605.6px,#d30000 0 660.3px,#dc0000 0 671.2px,#e90000 0 678.5px,#f50000 0 685.8px,#fe0000 0 693.1px,#ff1400 0 696.8px,#fd2500 0 700.4px,#fa3500 0 704.1px,#fa4c00 0 707.7px,#fe6b00 0 711.4px,#ff7800 0 715px,#ff8100 0 718.7px,#ff8b00 0 722.3px,#ff1100 0 726px,#e60000 0 729.6px)"></i>
<i style="left:2165px;width:4px;background:linear-gradient(#00a67d 14.6px,#00a570 0 29.2px,#00a260 0 51.1px,#00a04c 0 73px,#009b22 0 94.8px,#009b00 0 116.7px,#00a400 0 138.6px,#00b300 0 160.5px,#00c200 0 182.4px,#00cf00 0 204.3px,#00db00 0 226.2px,#00e600 0 248.1px,#00f100 0 270px,#00fd00 0 291.8px,#25fb00 0 306.4px,#7bfa00 0 321px,#b1f600 0 335.6px,#cff000 0 350.2px,#e7ea00 0 364.8px,#f4df00 0 379.4px,#fad200 0 394px,#fec400 0 408.6px,#ffb600 0 419.5px,#ffa500 0 437.8px,#ff9000 0 445.1px,#ff7b00 0 452.4px,#fc5f00 0 459.6px,#f83e00 0 466.9px,#fc2a00 0 474.2px,#ff1700 0 481.5px,#ff0000 0 496.1px,#f50000 0 510.7px,#ec0000 0 525.3px,#e30000 0 569.1px,#db0000 0 656.6px,#e70000 0 660.3px,#ef0000 0 667.6px,#fe0000 0 671.2px,#ff1700 0 674.9px,#fc2c00 0 678.5px,#f84000 0 682.2px,#fd6400 0 685.8px,#ff7700 0 693.1px,#ff8700 0 696.8px,#ff9200 0 700.4px,#ff9a00 0 707.7px,#ffa200 0 718.7px,#ffab00 0 722.3px,#f94900 0 726px,#f50000 0 729.6px)"></i>
<i style="left:2169px;width:3px;background:linear-gradient(#00a67a 14.6px,#00a46c 0 29.2px,#00a25b 0 51.1px,#009f44 0 73px,#009b19 0 94.8px,#009c00 0 116.7px,#00a700 0 138.6px,#00b600 0 160.5px,#00c500 0 182.4px,#00d200 0 204.3px,#00de00 0 226.2px,#00e800 0 248.1px,#00f300 0 270px,#00fe00 0 291.8px,#2afb00 0 306.4px,#80f900 0 321px,#b4f600 0 335.6px,#d1f000 0 350.2px,#eaea00 0 364.8px,#f5dd00 0 379.4px,#facf00 0 394px,#ffc100 0 408.6px,#ffb300 0 419.5px,#ffa100 0 437.8px,#ff8300 0 445.1px,#fe6c00 0 452.4px,#f94900 0 459.6px,#fb3100 0 466.9px,#fe1e00 0 474.2px,#ff0600 0 481.5px,#fa0000 0 496.1px,#ef0000 0 510.7px,#e50000 0 532.6px,#dc0000 0 660.3px,#eb0000 0 663.9px,#f30000 0 667.6px,#fc0000 0 671.2px,#ff1400 0 674.9px,#fb2c00 0 678.5px,#f94700 0 682.2px,#ff7100 0 685.8px,#ff8200 0 689.5px,#ff8b00 0 693.1px,#ff9400 0 700.4px,#ff9d00 0 711.4px,#ffa700 0 722.3px,#fb5200 0 726px,#f70000 0 729.6px)"></i>
<i style="left:2172px;width:4px;background:linear-gradient(#00a88e 29.2px,#00a679 0 51.1px,#00a362 0 73px,#009e3a 0 94.8px,#009800 0 116.7px,#00a100 0 138.6px,#00b100 0 160.5px,#00c200 0 182.4px,#00d000 0 204.3px,#00de00 0 226.2px,#00e900 0 248.1px,#00f400 0 270px,#09fe00 0 291.8px,#3efa00 0 306.4px,#89f900 0 321px,#b6f500 0 335.6px,#d2f000 0 350.2px,#e9ea00 0 364.8px,#f5df00 0 379.4px,#fad000 0 394px,#ffc200 0 408.6px,#ffb200 0 419.5px,#ffa000 0 437.8px,#ff7f00 0 445.1px,#fe6900 0 452.4px,#fa4b00 0 459.6px,#fa3500 0 466.9px,#fd2400 0 474.2px,#ff1100 0 481.5px,#fd0000 0 496.1px,#f30000 0 510.7px,#eb0000 0 525.3px,#e30000 0 547.2px,#db0000 0 663.9px,#e70000 0 671.2px,#f00000 0 678.5px,#f90000 0 682.2px,#ff0400 0 685.8px,#ff1800 0 689.5px,#fd2500 0 693.1px,#fa3500 0 696.8px,#fa5100 0 700.4px,#ff7300 0 704.1px,#ff8100 0 711.4px,#ff8e00 0 718.7px,#ff9900 0 722.3px,#fe1b00 0 726px,#e80000 0 729.6px)"></i>
<i style="left:2176px;width:4px;background:linear-gradient(#00a895 29.2px,#00a88c 0 51.1px,#00a781 0 73px,#00a364 0 94.8px,#009d36 0 116.7px,#009800 0 138.6px,#00a000 0 160.5px,#00ae00 0 182.4px,#00ba00 0 204.3px,#00c600 0 226.2px,#00d300 0 248.1px,#00df00 0 270px,#00eb00 0 291.8px,#00f500 0 306.4px,#0efe00 0 321px,#66fa00 0 335.6px,#a9f800 0 350.2px,#c8f200 0 364.8px,#e3eb00 0 379.4px,#f4df00 0 394px,#fbce00 0 408.6px,#ffbe00 0 419.5px,#ffa900 0 437.8px,#ff8e00 0 445.1px,#ff7a00 0 452.4px,#fd6000 0 459.6px,#f84000 0 466.9px,#fb2d00 0 474.2px,#ff1900 0 481.5px,#ff0000 0 496.1px,#f30000 0 510.7px,#e90000 0 525.3px,#e00000 0 547.2px,#d80000 0 682.2px,#e10000 0 689.5px,#ef0000 0 693.1px,#f90000 0 696.8px,#ff1700 0 700.4px,#f93c00 0 704.1px,#fd6200 0 707.7px,#ff7000 0 711.4px,#ff7900 0 715px,#ff8200 0 718.7px,#ff8a00 0 722.3px,#ff1700 0 726px,#e80000 0 729.6px)"></i>
<i style="left:2180px;width:3px;background:linear-gradient(#00a88e 29.2px,#00a77e 0 51.1px,#00a46a 0 73px,#00a04b 0 94.8px,#009a13 0 116.7px,#009d00 0 138.6px,#00a900 0 160.5px,#00b800 0 182.4px,#00c500 0 204.3px,#00d100 0 226.2px,#00de00 0 248.1px,#00e800 0 270px,#00f400 0 291.8px,#00fd00 0 306.4px,#2afb00 0 321px,#7cfa00 0 335.6px,#adf700 0 350.2px,#c7f200 0 364.8px,#deed00 0 379.4px,#f2e500 0 394px,#f8d600 0 408.6px,#fcc900 0 419.5px,#ffb800 0 437.8px,#ffa800 0 452.4px,#ff9d00 0 466.9px,#ff8600 0 474.2px,#ff7200 0 481.5px,#f94700 0 488.8px,#fc2c00 0 496.1px,#ff1800 0 503.4px,#ff0000 0 518px,#f30000 0 532.6px,#e60000 0 547.2px,#dc0000 0 682.2px,#eb0000 0 689.5px,#fa0000 0 693.1px,#ff1400 0 696.8px,#f93c00 0 700.4px,#ff7900 0 704.1px,#ff9300 0 711.4px,#ff9e00 0 718.7px,#ffa600 0 722.3px,#fb5200 0 726px,#f90000 0 729.6px)"></i>
<i style="left:2183px;width:4px;background:linear-gradient(#00a88d 29.2px,#00a67c 0 51.1px,#00a46a 0 73px,#00a04d 0 94.8px,#009a18 0 116.7px,#009c00 0 138.6px,#00a600 0 160.5px,#00b500 0 182.4px,#00c100 0 204.3px,#00cd00 0 226.2px,#00d800 0 248.1px,#00e400 0 270px,#00ef00 0 291.8px,#00f900 0 306.4px,#17fd00 0 321px,#6cfa00 0 335.6px,#a8f800 0 350.2px,#c4f200 0 364.8px,#dded00 0 379.4px,#f2e400 0 394px,#f9d500 0 408.6px,#fdc600 0 419.5px,#ffb400 0 437.8px,#ffa200 0 452.4px,#ff9000 0 459.6px,#ff7f00 0 466.9px,#fe6c00 0 474.2px,#fa4b00 0 481.5px,#fb3200 0 488.8px,#fe1d00 0 496.1px,#ff0b00 0 503.4px,#fd0000 0 518px,#f40000 0 532.6px,#e90000 0 539.9px,#e00000 0 674.9px,#e90000 0 682.2px,#f50000 0 685.8px,#fd0000 0 689.5px,#ff1300 0 693.1px,#fa3200 0 696.8px,#fe6b00 0 700.4px,#ff9600 0 704.1px,#ffa100 0 715px,#ffab00 0 722.3px,#ff7300 0 726px,#ff0200 0 729.6px)"></i>
<i style="left:2187px;width:4px;background:linear-gradient(#00a88f 29.2px,#00a780 0 51.1px,#00a46b 0 73px,#009f4a 0 94.8px,#009a0f 0 116.7px,#009e00 0 138.6px,#00ab00 0 160.5px,#00ba00 0 182.4px,#00c800 0 204.3px,#00d500 0 226.2px,#00e100 0 248.1px,#00ec00 0 270px,#00f800 0 291.8px,#0dfe00 0 306.4px,#4dfa00 0 321px,#95f900 0 335.6px,#baf400 0 350.2px,#d4ef00 0 364.8px,#ebe900 0 379.4px,#f6dd00 0 394px,#fbcd00 0 408.6px,#ffbf00 0 419.5px,#ffac00 0 437.8px,#ff9a00 0 445.1px,#ff8d00 0 452.4px,#ff7c00 0 459.6px,#fe6900 0 466.9px,#fa4e00 0 474.2px,#fa3600 0 481.5px,#fd2200 0 488.8px,#ff0d00 0 496.1px,#fe0000 0 510.7px,#f40000 0 525.3px,#ec0000 0 539.9px,#df0000 0 682.2px,#ec0000 0 689.5px,#f90000 0 693.1px,#ff0d00 0 696.8px,#fa3300 0 700.4px,#fe6900 0 704.1px,#ff8300 0 707.7px,#ff8b00 0 711.4px,#ff9300 0 718.7px,#ff9c00 0 722.3px,#fb2c00 0 726px,#ef0000 0 729.6px)"></i>
<i style="left:2191px;width:3px;background:linear-gradient(#00a88a 14.6px,#00a781 0 29.2px,#00a570 0 51.1px,#00a15a 0 73px,#009d32 0 94.8px,#009900 0 116.7px,#00a100 0 138.6px,#00b100 0 160.5px,#00c000 0 182.4px,#00cd00 0 204.3px,#00da00 0 226.2px,#00e500 0 248.1px,#00ef00 0 270px,#00fb00 0 291.8px,#1afc00 0 306.4px,#5efa00 0 321px,#9af900 0 335.6px,#bcf400 0 350.2px,#d8ee00 0 364.8px,#f0e800 0 379.4px,#f7d900 0 394px,#fcc900 0 408.6px,#ffbb00 0 419.5px,#ffa800 0 437.8px,#ff9100 0 445.1px,#ff7f00 0 452.4px,#fe6b00 0 459.6px,#fa4d00 0 466.9px,#fa3700 0 474.2px,#fd2500 0 481.5px,#ff0e00 0 488.8px,#fc0000 0 503.4px,#f20000 0 518px,#e90000 0 532.6px,#e00000 0 649.3px,#d80000 0 685.8px,#e20000 0 693.1px,#f10000 0 696.8px,#fd0000 0 700.4px,#fd2100 0 704.1px,#f93900 0 707.7px,#f94800 0 711.4px,#fb5500 0 715px,#fd6200 0 718.7px,#ff6f00 0 722.3px,#fe0000 0 726px,#e00000 0 729.6px)"></i>
<i style="left:2194px;width:4px;background:linear-gradient(#00a67b 14.6px,#00a571 0 29.2px,#00a365 0 51.1px,#00a156 0 73px,#009d35 0 94.8px,#009804 0 116.7px,#009e00 0 138.6px,#00a800 0 160.5px,#00b500 0 182.4px,#00bf00 0 204.3px,#00c900 0 226.2px,#00d400 0 248.1px,#00de00 0 270px,#00e800 0 291.8px,#00f000 0 306.4px,#00fa00 0 321px,#1bfc00 0 335.6px,#72fa00 0 350.2px,#aef700 0 364.8px,#cef000 0 379.4px,#eaea00 0 394px,#f6dc00 0 408.6px,#fbce00 0 419.5px,#ffbd00 0 437.8px,#ffac00 0 452.4px,#ff9d00 0 459.6px,#ff9200 0 466.9px,#ff7e00 0 474.2px,#fd6300 0 481.5px,#f83e00 0 488.8px,#fc2900 0 496.1px,#ff1600 0 503.4px,#ff0000 0 518px,#f50000 0 532.6px,#ea0000 0 547.2px,#e00000 0 674.9px,#e80000 0 682.2px,#f20000 0 689.5px,#fe0000 0 693.1px,#fe1c00 0 696.8px,#f94600 0 700.4px,#ff8000 0 704.1px,#ff9b00 0 707.7px,#ffa300 0 715px,#ffac00 0 722.3px,#ff7e00 0 726px,#ff1200 0 729.6px)"></i>
<i style="left:2198px;width:4px;background:linear-gradient(#00a367 14.6px,#00a25d 0 29.2px,#00a050 0 51.1px,#009e3a 0 73px,#009a16 0 94.8px,#009b00 0 116.7px,#00a300 0 138.6px,#00b100 0 160.5px,#00bd00 0 182.4px,#00c800 0 204.3px,#00d200 0 226.2px,#00dd00 0 248.1px,#00e600 0 270px,#00ef00 0 291.8px,#00f700 0 306.4px,#0cfe00 0 321px,#4bfa00 0 335.6px,#9af900 0 350.2px,#c5f200 0 364.8px,#e5eb00 0 379.4px,#f6dc00 0 394px,#fccb00 0 408.6px,#ffba00 0 419.5px,#ffa500 0 437.8px,#ff8500 0 445.1px,#fe6b00 0 452.4px,#f84200 0 459.6px,#fc2a00 0 466.9px,#ff1400 0 474.2px,#fe0000 0 488.8px,#f10000 0 503.4px,#e60000 0 525.3px,#de0000 0 642px,#d60000 0 689.5px,#de0000 0 696.8px,#ef0000 0 700.4px,#fb0000 0 704.1px,#ff1500 0 707.7px,#fc2b00 0 711.4px,#fa3500 0 715px,#f83e00 0 718.7px,#fa4d00 0 722.3px,#f90000 0 726px,#df0000 0 729.6px)"></i>
<i style="left:2202px;width:3px;background:linear-gradient(#00a892 29.2px,#00a889 0 51.1px,#00a677 0 73px,#00a158 0 94.8px,#009c23 0 116.7px,#009b00 0 138.6px,#00a300 0 160.5px,#00b100 0 182.4px,#00be00 0 204.3px,#00ca00 0 226.2px,#00d600 0 248.1px,#00e200 0 270px,#00ec00 0 291.8px,#00f500 0 306.4px,#00fe00 0 321px,#29fb00 0 335.6px,#82f900 0 350.2px,#bbf400 0 364.8px,#dded00 0 379.4px,#f4e000 0 394px,#fbcf00 0 408.6px,#ffc000 0 419.5px,#ffac00 0 437.8px,#ff9800 0 445.1px,#ff7e00 0 452.4px,#fc5d00 0 459.6px,#f93800 0 466.9px,#fd2200 0 474.2px,#ff0d00 0 481.5px,#fd0000 0 496.1px,#f30000 0 510.7px,#ea0000 0 532.6px,#e00000 0 682.2px,#e90000 0 693.1px,#f80000 0 696.8px,#ff1200 0 700.4px,#f93800 0 704.1px,#fe6c00 0 707.7px,#ff8b00 0 711.4px,#ff9800 0 718.7px,#ffa100 0 722.3px,#fa4b00 0 726px,#f90000 0 729.6px)"></i>
<i style="left:2205px;width:4px;background:linear-gradient(#00a88d 29.2px,#00a574 0 51.1px,#00a25d 0 73px,#009d34 0 94.8px,#009900 0 116.7px,#00a100 0 138.6px,#00b000 0 160.5px,#00bf00 0 182.4px,#00cd00 0 204.3px,#00da00 0 226.2px,#00e500 0 248.1px,#00ef00 0 270px,#00fa00 0 291.8px,#0bfe00 0 306.4px,#28fb00 0 321px,#57fa00 0 335.6px,#94f900 0 350.2px,#c0f300 0 364.8px,#dfec00 0 379.4px,#f3e100 0 394px,#fad200 0 408.6px,#fdc600 0 419.5px,#ffb600 0 437.8px,#ffa700 0 445.1px,#ff9e00 0 452.4px,#ff9200 0 459.6px,#ff7b00 0 466.9px,#fd6200 0 474.2px,#f84000 0 481.5px,#fc2a00 0 488.8px,#ff1500 0 496.1px,#ff0000 0 510.7px,#f30000 0 525.3px,#ea0000 0 539.9px,#e00000 0 693.1px,#e90000 0 696.8px,#f50000 0 700.4px,#ff0700 0 704.1px,#fb2d00 0 707.7px,#fb5800 0 711.4px,#ff6f00 0 715px,#ff7c00 0 718.7px,#ff8800 0 722.3px,#fd2400 0 726px,#ee0000 0 729.6px)"></i>
<i style="left:2209px;width:4px;background:linear-gradient(#00a89c 29.2px,#00a88f 0 51.1px,#00a886 0 73px,#00a364 0 94.8px,#009c2c 0 116.7px,#009a00 0 138.6px,#00a300 0 160.5px,#00b300 0 182.4px,#00c100 0 204.3px,#00ce00 0 226.2px,#00dc00 0 248.1px,#00e700 0 270px,#00f200 0 291.8px,#00fa00 0 321px,#1dfc00 0 335.6px,#6bfa00 0 350.2px,#b0f600 0 364.8px,#d3ef00 0 379.4px,#f1e700 0 394px,#f8d800 0 408.6px,#fccc00 0 419.5px,#ffbc00 0 437.8px,#ffad00 0 445.1px,#ffa500 0 452.4px,#ff9b00 0 459.6px,#ff8700 0 466.9px,#ff7200 0 474.2px,#fb5100 0 481.5px,#fa3700 0 488.8px,#fd2500 0 496.1px,#ff1400 0 503.4px,#ff0000 0 518px,#f70000 0 539.9px,#ed0000 0 634.8px,#e40000 0 696.8px,#f60000 0 700.4px,#ff0700 0 704.1px,#fb2e00 0 707.7px,#fc5e00 0 711.4px,#ff7200 0 715px,#ff7d00 0 718.7px,#ff8700 0 722.3px,#fd2400 0 726px,#ed0000 0 729.6px)"></i>
<i style="left:2213px;width:3px;background:linear-gradient(#00a678 14.6px,#00a46e 0 29.2px,#00a261 0 51.1px,#00a052 0 73px,#009d2f 0 94.8px,#009800 0 138.6px,#00a800 0 160.5px,#00b400 0 182.4px,#00be00 0 204.3px,#00c800 0 226.2px,#00d100 0 248.1px,#00db00 0 270px,#00e400 0 306.4px,#00f200 0 335.6px,#1dfc00 0 350.2px,#8ef900 0 364.8px,#c5f200 0 379.4px,#e9ea00 0 394px,#f6dc00 0 408.6px,#fbce00 0 419.5px,#ffbd00 0 437.8px,#ffac00 0 445.1px,#ffa100 0 452.4px,#ff9300 0 459.6px,#ff7500 0 466.9px,#fa4f00 0 474.2px,#fa3300 0 481.5px,#fd2100 0 488.8px,#ff0e00 0 496.1px,#fd0000 0 510.7px,#f40000 0 532.6px,#ea0000 0 627.5px,#e20000 0 693.1px,#ec0000 0 696.8px,#f80000 0 700.4px,#ff1100 0 704.1px,#f93900 0 707.7px,#ff7500 0 711.4px,#ff8400 0 715px,#ff9100 0 718.7px,#ff9a00 0 722.3px,#f93c00 0 726px,#f60000 0 729.6px)"></i>
<i style="left:2216px;width:4px;background:linear-gradient(#00a893 29.2px,#00a889 0 51.1px,#00a574 0 73px,#00a154 0 94.8px,#009b1b 0 116.7px,#009c00 0 138.6px,#00a500 0 160.5px,#00b400 0 182.4px,#00c100 0 204.3px,#00cd00 0 226.2px,#00d900 0 248.1px,#00e400 0 270px,#00ee00 0 306.4px,#00f900 0 335.6px,#24fb00 0 350.2px,#88f900 0 364.8px,#bbf400 0 379.4px,#dced00 0 394px,#f1e700 0 408.6px,#f6dc00 0 419.5px,#fbcf00 0 437.8px,#fec300 0 445.1px,#ffbc00 0 452.4px,#ffb400 0 466.9px,#ffa600 0 474.2px,#ff9d00 0 481.5px,#ff8d00 0 488.8px,#ff7400 0 496.1px,#fa5000 0 503.4px,#fa3300 0 510.7px,#fd2200 0 518px,#ff0f00 0 525.3px,#fe0000 0 539.9px,#f40000 0 569.1px,#ec0000 0 598.3px,#e40000 0 685.8px,#ec0000 0 693.1px,#f50000 0 696.8px,#ff0700 0 700.4px,#fb3000 0 704.1px,#fe6b00 0 707.7px,#ff9800 0 715px,#ffa400 0 722.3px,#ff7a00 0 726px,#ff1200 0 729.6px)"></i>
<i style="left:2220px;width:4px;background:linear-gradient(#00a890 29.2px,#00a783 0 51.1px,#00a46f 0 73px,#00a051 0 94.8px,#009a19 0 116.7px,#009c00 0 138.6px,#00a400 0 160.5px,#00b300 0 182.4px,#00be00 0 204.3px,#00ca00 0 226.2px,#00d600 0 248.1px,#00e100 0 270px,#00ea00 0 306.4px,#00f600 0 335.6px,#1dfc00 0 350.2px,#88f900 0 364.8px,#bff300 0 379.4px,#e2ec00 0 394px,#f4e100 0 408.6px,#f9d500 0 419.5px,#fdc600 0 437.8px,#ffb800 0 445.1px,#ffb000 0 452.4px,#ffa700 0 459.6px,#ff9d00 0 466.9px,#ff8f00 0 474.2px,#ff7700 0 481.5px,#fb5500 0 488.8px,#fa3600 0 496.1px,#fe2000 0 503.4px,#ff0900 0 510.7px,#fc0000 0 525.3px,#f10000 0 539.9px,#e80000 0 569.1px,#e00000 0 685.8px,#e90000 0 693.1px,#f30000 0 696.8px,#ff0000 0 700.4px,#fd2300 0 704.1px,#f94600 0 707.7px,#ff7800 0 711.4px,#ff8700 0 715px,#ff9300 0 718.7px,#ff9b00 0 722.3px,#fa3500 0 726px,#f30000 0 729.6px)"></i>
<i style="left:2224px;width:3px;background:linear-gradient(#00a46a 14.6px,#00a260 0 29.2px,#00a053 0 51.1px,#009e3f 0 73px,#009b1c 0 94.8px,#009b00 0 138.6px,#00ad00 0 160.5px,#00b900 0 182.4px,#00c200 0 204.3px,#00cc00 0 226.2px,#00d500 0 248.1px,#00de00 0 291.8px,#00eb00 0 321px,#00f500 0 350.2px,#42fa00 0 364.8px,#a5f800 0 379.4px,#cff000 0 394px,#e9ea00 0 408.6px,#f4e100 0 419.5px,#f9d400 0 437.8px,#fdc800 0 445.1px,#ffc100 0 459.6px,#ffb200 0 466.9px,#ffaa00 0 474.2px,#ffa100 0 481.5px,#ff9700 0 488.8px,#ff7e00 0 496.1px,#fc5e00 0 503.4px,#f93a00 0 510.7px,#fd2500 0 518px,#ff1200 0 525.3px,#fe0000 0 539.9px,#f40000 0 554.5px,#ec0000 0 583.7px,#e40000 0 678.5px,#f40000 0 682.2px,#fe0000 0 685.8px,#fe1c00 0 689.5px,#fa3300 0 693.1px,#fc5900 0 696.8px,#ff8300 0 700.4px,#ff9a00 0 707.7px,#ffa700 0 718.7px,#ffb100 0 722.3px,#ff7100 0 726px,#fe0000 0 729.6px)"></i>
<i style="left:2227px;width:4px;background:linear-gradient(#00a88f 29.2px,#00a784 0 51.1px,#00a572 0 73px,#00a157 0 94.8px,#009c25 0 116.7px,#009a00 0 160.5px,#00ac00 0 182.4px,#00b700 0 204.3px,#00c100 0 226.2px,#00cb00 0 248.1px,#00d500 0 270px,#00df00 0 306.4px,#00ec00 0 335.6px,#00f800 0 350.2px,#30fa00 0 364.8px,#a2f800 0 379.4px,#d1f000 0 394px,#eee800 0 408.6px,#f6dd00 0 419.5px,#fbcf00 0 437.8px,#ffc200 0 445.1px,#ffb900 0 452.4px,#ffb100 0 459.6px,#ffa800 0 466.9px,#ff9e00 0 474.2px,#ff9000 0 481.5px,#ff7700 0 488.8px,#fb5300 0 496.1px,#fa3500 0 503.4px,#fe1f00 0 510.7px,#ff0600 0 518px,#fb0000 0 532.6px,#f10000 0 547.2px,#e80000 0 576.4px,#e00000 0 674.9px,#e90000 0 678.5px,#f60000 0 682.2px,#ff0e00 0 685.8px,#fb3200 0 689.5px,#fc5a00 0 693.1px,#ff8200 0 696.8px,#ff9c00 0 704.1px,#ffa600 0 715px,#ffaf00 0 722.3px,#fe6800 0 726px,#fb0000 0 729.6px)"></i>
<i style="left:2231px;width:4px;background:linear-gradient(#00a575 14.6px,#00a46b 0 29.2px,#00a25e 0 51.1px,#00a04f 0 73px,#009c2c 0 94.8px,#009900 0 138.6px,#00a800 0 160.5px,#00b500 0 182.4px,#00be00 0 204.3px,#00c700 0 226.2px,#00d000 0 248.1px,#00d900 0 270px,#00e100 0 306.4px,#00ed00 0 335.6px,#00f900 0 350.2px,#35fa00 0 364.8px,#a4f800 0 379.4px,#d1f000 0 394px,#eee900 0 408.6px,#f5de00 0 419.5px,#fad000 0 437.8px,#fec300 0 445.1px,#ffbb00 0 452.4px,#ffb200 0 459.6px,#ffaa00 0 466.9px,#ffa100 0 474.2px,#ff9700 0 481.5px,#ff7f00 0 488.8px,#fd6200 0 496.1px,#f83d00 0 503.4px,#fc2800 0 510.7px,#ff1200 0 518px,#ff0000 0 532.6px,#f50000 0 547.2px,#ec0000 0 576.4px,#e40000 0 642px,#dc0000 0 674.9px,#e60000 0 678.5px,#f20000 0 682.2px,#fe0000 0 685.8px,#fd2200 0 689.5px,#f83d00 0 693.1px,#fe6b00 0 696.8px,#ff8b00 0 700.4px,#ff9a00 0 715px,#ffa400 0 722.3px,#fa3500 0 726px,#ef0000 0 729.6px)"></i>
<i style="left:2235px;width:3px;background:linear-gradient(#00a895 29.2px,#00a889 0 51.1px,#00a571 0 73px,#00a04c 0 94.8px,#00990b 0 116.7px,#009e00 0 138.6px,#00ac00 0 160.5px,#00bc00 0 182.4px,#00ca00 0 204.3px,#00d700 0 226.2px,#00e300 0 248.1px,#00ed00 0 270px,#00f700 0 306.4px,#0cfe00 0 321px,#1cfc00 0 335.6px,#2dfa00 0 350.2px,#8ef900 0 364.8px,#bff300 0 379.4px,#e1ec00 0 394px,#f3e200 0 408.6px,#f8d800 0 419.5px,#fbcd00 0 437.8px,#fec200 0 452.4px,#ffb500 0 466.9px,#ffa700 0 474.2px,#ff9f00 0 481.5px,#ff9500 0 488.8px,#ff8000 0 496.1px,#fe6700 0 503.4px,#f94600 0 510.7px,#fb3100 0 518px,#fd2300 0 525.3px,#ff1400 0 532.6px,#ff0500 0 547.2px,#f90000 0 598.3px,#f10000 0 642px,#e90000 0 674.9px,#f70000 0 678.5px,#ff0d00 0 682.2px,#fa3300 0 685.8px,#fd6100 0 689.5px,#ff8400 0 693.1px,#ff9b00 0 696.8px,#ffa600 0 704.1px,#ffae00 0 718.7px,#ffb600 0 722.3px,#ff7400 0 726px,#fd0000 0 729.6px)"></i>
<i style="left:2238px;width:4px;background:linear-gradient(#00a88d 29.2px,#00a67c 0 51.1px,#00a469 0 73px,#00a04b 0 94.8px,#009a15 0 116.7px,#009c00 0 138.6px,#00a400 0 160.5px,#00b200 0 182.4px,#00bd00 0 204.3px,#00c700 0 226.2px,#00d100 0 248.1px,#00db00 0 270px,#00e400 0 306.4px,#00f100 0 335.6px,#00fe00 0 350.2px,#56fa00 0 364.8px,#aef700 0 379.4px,#d9ee00 0 394px,#f3e300 0 408.6px,#f9d600 0 419.5px,#fdc700 0 437.8px,#ffb800 0 445.1px,#ffb000 0 452.4px,#ffa700 0 459.6px,#ff9d00 0 466.9px,#ff8900 0 474.2px,#ff7200 0 481.5px,#fa4c00 0 488.8px,#fb3100 0 496.1px,#fe1c00 0 503.4px,#ff0500 0 510.7px,#fa0000 0 525.3px,#ef0000 0 539.9px,#e70000 0 561.8px,#df0000 0 678.5px,#f00000 0 682.2px,#fb0000 0 685.8px,#ff1700 0 689.5px,#fb3100 0 693.1px,#fb5200 0 696.8px,#ff7900 0 700.4px,#ff8a00 0 707.7px,#ff9800 0 722.3px,#fd2100 0 726px,#e90000 0 729.6px)"></i>
<i style="left:2242px;width:4px;background:linear-gradient(#00a782 14.6px,#00a576 0 29.2px,#00a367 0 51.1px,#00a154 0 73px,#009d2e 0 94.8px,#009900 0 138.6px,#00ac00 0 160.5px,#00b900 0 182.4px,#00c300 0 204.3px,#00cd00 0 226.2px,#00d700 0 248.1px,#00e000 0 270px,#00e800 0 306.4px,#00f300 0 335.6px,#00fc00 0 350.2px,#28fb00 0 364.8px,#8bf900 0 379.4px,#c5f200 0 394px,#e6ea00 0 408.6px,#f4e100 0 419.5px,#f9d400 0 437.8px,#fdc800 0 452.4px,#ffba00 0 459.6px,#ffb200 0 466.9px,#ffaa00 0 474.2px,#ffa100 0 481.5px,#ff9500 0 488.8px,#ff7b00 0 496.1px,#fb5700 0 503.4px,#fa3500 0 510.7px,#fe1d00 0 518px,#ff0600 0 525.3px,#fa0000 0 539.9px,#ef0000 0 554.5px,#e50000 0 591px,#dd0000 0 671.2px,#e90000 0 674.9px,#f10000 0 678.5px,#fd0000 0 682.2px,#fe1f00 0 685.8px,#f93b00 0 689.5px,#fd6000 0 693.1px,#ff7f00 0 696.8px,#ff9700 0 704.1px,#ffa200 0 718.7px,#ffab00 0 722.3px,#f94700 0 726px,#f50000 0 729.6px)"></i>
<i style="left:2246px;width:3px;background:linear-gradient(#00a88d 29.2px,#00a77f 0 51.1px,#00a46e 0 73px,#00a053 0 94.8px,#009b20 0 116.7px,#009a00 0 160.5px,#00ad00 0 182.4px,#00b600 0 204.3px,#00bf00 0 226.2px,#00c800 0 248.1px,#00d100 0 270px,#00da00 0 291.8px,#00e200 0 321px,#00ee00 0 350.2px,#00fe00 0 364.8px,#50fa00 0 379.4px,#b3f600 0 394px,#dded00 0 408.6px,#f2e300 0 419.5px,#f9d500 0 437.8px,#fdc800 0 445.1px,#ffc100 0 452.4px,#ffb800 0 459.6px,#ffaf00 0 466.9px,#ffa600 0 474.2px,#ff9c00 0 481.5px,#ff8b00 0 488.8px,#ff7400 0 496.1px,#fa5100 0 503.4px,#fa3400 0 510.7px,#fe2000 0 518px,#ff0b00 0 525.3px,#fc0000 0 539.9px,#f20000 0 554.5px,#ea0000 0 583.7px,#e20000 0 660.3px,#ea0000 0 663.9px,#f20000 0 671.2px,#ff0300 0 674.9px,#fe2000 0 678.5px,#f84000 0 682.2px,#ff7400 0 685.8px,#ff8e00 0 689.5px,#ff9c00 0 696.8px,#ffaa00 0 704.1px,#ffb300 0 722.3px,#ff8400 0 726px,#ff0e00 0 729.6px)"></i>
<i style="left:2249px;width:4px;background:linear-gradient(#00a89b 29.2px,#00a891 0 73px,#00a570 0 94.8px,#009f44 0 116.7px,#00990e 0 138.6px,#009d00 0 160.5px,#00a800 0 182.4px,#00b200 0 204.3px,#00bc00 0 226.2px,#00c600 0 248.1px,#00d000 0 270px,#00da00 0 306.4px,#00e500 0 350.2px,#00f100 0 364.8px,#00fd00 0 379.4px,#6dfa00 0 394px,#b8f500 0 408.6px,#d5ef00 0 419.5px,#e9ea00 0 437.8px,#f3e200 0 445.1px,#f6dc00 0 452.4px,#f9d600 0 466.9px,#fcc900 0 474.2px,#fec200 0 481.5px,#ffb900 0 488.8px,#ffb000 0 496.1px,#ffa700 0 503.4px,#ff9d00 0 510.7px,#ff8c00 0 518px,#ff7300 0 525.3px,#fa4d00 0 532.6px,#fa3500 0 539.9px,#fd2200 0 547.2px,#ff1000 0 554.5px,#fe0000 0 569.1px,#f50000 0 591px,#ed0000 0 612.9px,#e50000 0 656.6px,#ee0000 0 663.9px,#fd0000 0 667.6px,#ff1800 0 671.2px,#fb3100 0 674.9px,#fb5300 0 678.5px,#ff7b00 0 682.2px,#ff9800 0 685.8px,#ffa000 0 693.1px,#ffab00 0 700.4px,#ffb400 0 722.3px,#ff8500 0 726px,#ff0f00 0 729.6px)"></i>
<i style="left:2253px;width:4px;background:linear-gradient(#00a89b 29.2px,#00a88f 0 73px,#00a367 0 94.8px,#009d34 0 116.7px,#009900 0 160.5px,#00af00 0 182.4px,#00bb00 0 204.3px,#00c600 0 226.2px,#00d100 0 248.1px,#00db00 0 270px,#00e500 0 306.4px,#00ef00 0 335.6px,#00f700 0 364.8px,#28fb00 0 379.4px,#a0f800 0 394px,#d2ef00 0 408.6px,#eee900 0 419.5px,#f5dd00 0 437.8px,#fad200 0 445.1px,#fccb00 0 452.4px,#fec500 0 459.6px,#ffbe00 0 466.9px,#ffb600 0 474.2px,#ffae00 0 481.5px,#ffa400 0 488.8px,#ff9b00 0 496.1px,#ff8700 0 503.4px,#ff6e00 0 510.7px,#f94700 0 518px,#fb2e00 0 525.3px,#ff1900 0 532.6px,#ff0500 0 539.9px,#fb0000 0 554.5px,#f10000 0 569.1px,#e90000 0 598.3px,#e10000 0 656.6px,#e90000 0 663.9px,#f90000 0 667.6px,#ff1000 0 671.2px,#fb2d00 0 674.9px,#fa4d00 0 678.5px,#ff7700 0 682.2px,#ff9200 0 685.8px,#ff9d00 0 693.1px,#ffa700 0 700.4px,#ffaf00 0 722.3px,#ff7700 0 726px,#ff0000 0 729.6px)"></i>
<i style="left:2257px;width:3px;background:linear-gradient(#00a781 14.6px,#00a576 0 29.2px,#00a469 0 51.1px,#00a158 0 73px,#009d36 0 94.8px,#009803 0 116.7px,#009e00 0 138.6px,#00a700 0 160.5px,#00b400 0 182.4px,#00bd00 0 204.3px,#00c500 0 226.2px,#00cd00 0 248.1px,#00d500 0 270px,#00dd00 0 306.4px,#00ea00 0 335.6px,#00f600 0 364.8px,#36fa00 0 379.4px,#aef700 0 394px,#deec00 0 408.6px,#f4e000 0 419.5px,#fad200 0 437.8px,#fec400 0 445.1px,#ffbc00 0 452.4px,#ffb300 0 459.6px,#ffa900 0 466.9px,#ff9f00 0 474.2px,#ff9200 0 481.5px,#ff7900 0 488.8px,#fc5a00 0 496.1px,#f93a00 0 503.4px,#fd2600 0 510.7px,#ff1100 0 518px,#fd0000 0 532.6px,#f20000 0 547.2px,#e90000 0 569.1px,#e00000 0 663.9px,#ec0000 0 667.6px,#f50000 0 671.2px,#fd0000 0 674.9px,#ff1600 0 678.5px,#fb2e00 0 682.2px,#fa4b00 0 685.8px,#fe6800 0 689.5px,#ff7500 0 693.1px,#ff7f00 0 696.8px,#ff8900 0 700.4px,#ff9300 0 707.7px,#ff9c00 0 722.3px,#ff1500 0 726px,#e50000 0 729.6px)"></i>
<i style="left:2260px;width:4px;background:linear-gradient(#00a89b 29.2px,#00a891 0 73px,#00a573 0 94.8px,#009f4a 0 116.7px,#009a15 0 138.6px,#009c00 0 160.5px,#00a500 0 182.4px,#00af00 0 204.3px,#00b800 0 226.2px,#00c200 0 248.1px,#00cb00 0 270px,#00d500 0 291.8px,#00dd00 0 321px,#00ea00 0 350.2px,#00f600 0 364.8px,#18fc00 0 379.4px,#9af800 0 394px,#d4ef00 0 408.6px,#f1e700 0 419.5px,#f8d800 0 437.8px,#fccb00 0 445.1px,#fec300 0 452.4px,#ffba00 0 459.6px,#ffb100 0 466.9px,#ffa800 0 474.2px,#ff9e00 0 481.5px,#ff9100 0 488.8px,#ff7c00 0 496.1px,#fd6100 0 503.4px,#f83f00 0 510.7px,#fb2c00 0 518px,#ff1a00 0 525.3px,#ff0400 0 539.9px,#f70000 0 561.8px,#ec0000 0 605.6px,#e40000 0 660.3px,#f10000 0 663.9px,#fa0000 0 667.6px,#ff1100 0 671.2px,#fb2c00 0 674.9px,#f94800 0 678.5px,#ff7200 0 682.2px,#ff8c00 0 685.8px,#ff9a00 0 693.1px,#ffa200 0 700.4px,#ffaa00 0 722.3px,#fb5100 0 726px,#f60000 0 729.6px)"></i>
<i style="left:2264px;width:4px;background:linear-gradient(#00a88e 29.2px,#00a77e 0 51.1px,#00a46c 0 73px,#00a155 0 94.8px,#009d31 0 116.7px,#00990d 0 138.6px,#009b00 0 182.4px,#00a900 0 204.3px,#00b100 0 226.2px,#00ba00 0 248.1px,#00c200 0 270px,#00ca00 0 306.4px,#00d700 0 321px,#00e000 0 350.2px,#00ed00 0 364.8px,#00f800 0 379.4px,#42fa00 0 394px,#aff700 0 408.6px,#d1f000 0 419.5px,#ebe900 0 437.8px,#f5de00 0 445.1px,#f8d700 0 452.4px,#fbcf00 0 459.6px,#fdc700 0 466.9px,#ffbe00 0 474.2px,#ffb600 0 481.5px,#ffad00 0 488.8px,#ffa500 0 496.1px,#ff9c00 0 503.4px,#ff8c00 0 510.7px,#ff7700 0 518px,#fc5800 0 525.3px,#f93800 0 532.6px,#fd2400 0 539.9px,#ff1500 0 547.2px,#ff0300 0 561.8px,#f70000 0 605.6px,#ef0000 0 660.3px,#ff0500 0 663.9px,#fb2d00 0 667.6px,#f94400 0 671.2px,#fe6700 0 674.9px,#ff7e00 0 678.5px,#ff9200 0 682.2px,#ff9d00 0 689.5px,#ffa600 0 700.4px,#ffae00 0 718.7px,#ffa200 0 722.3px,#fd2100 0 726px,#ea0000 0 729.6px)"></i>
<i style="left:2268px;width:3px;background:linear-gradient(#00a46a 14.6px,#00a25e 0 29.2px,#00a04f 0 51.1px,#009d36 0 73px,#009b1f 0 94.8px,#00990a 0 116.7px,#009900 0 182.4px,#00a700 0 204.3px,#00b000 0 248.1px,#00be00 0 291.8px,#00cc00 0 321px,#00dc00 0 335.6px,#00e600 0 350.2px,#00ee00 0 364.8px,#00f800 0 379.4px,#39fa00 0 394px,#aaf800 0 408.6px,#ccf100 0 419.5px,#ebe900 0 437.8px,#f6dc00 0 445.1px,#f9d400 0 452.4px,#fccb00 0 459.6px,#ffc200 0 466.9px,#ffb700 0 474.2px,#ffae00 0 481.5px,#ffa500 0 488.8px,#ff9c00 0 496.1px,#ff8e00 0 503.4px,#ff7800 0 510.7px,#fc5d00 0 518px,#f83d00 0 525.3px,#fd2600 0 532.6px,#ff0d00 0 539.9px,#fe0000 0 554.5px,#f50000 0 591px,#ed0000 0 649.3px,#f50000 0 656.6px,#ff0000 0 660.3px,#fa3400 0 663.9px,#ff7900 0 667.6px,#ff8a00 0 671.2px,#ff9900 0 678.5px,#ffa500 0 685.8px,#ffaf00 0 696.8px,#ffb800 0 718.7px,#ffa400 0 722.3px,#fe2100 0 726px,#ec0000 0 729.6px)"></i>
<i style="left:2271px;width:4px;background:linear-gradient(#00a46f 14.6px,#00a364 0 29.2px,#00a157 0 51.1px,#009f42 0 73px,#009d31 0 94.8px,#009c26 0 116.7px,#009b1a 0 138.6px,#009a0f 0 160.5px,#009900 0 226.2px,#00a700 0 270px,#00b400 0 306.4px,#00c200 0 321px,#00cf00 0 335.6px,#00dc00 0 350.2px,#00e800 0 364.8px,#00f200 0 379.4px,#1bfc00 0 394px,#95f900 0 408.6px,#c3f300 0 419.5px,#e7ea00 0 437.8px,#f6dd00 0 445.1px,#fad300 0 452.4px,#fdc800 0 459.6px,#ffbe00 0 466.9px,#ffb200 0 474.2px,#ffa800 0 481.5px,#ff9f00 0 488.8px,#ff9200 0 496.1px,#ff7c00 0 503.4px,#fd6200 0 510.7px,#f84100 0 518px,#fb2e00 0 525.3px,#ff1500 0 532.6px,#fd0000 0 547.2px,#f40000 0 561.8px,#eb0000 0 649.3px,#f30000 0 656.6px,#ff0000 0 660.3px,#f93c00 0 663.9px,#ff8700 0 667.6px,#ff9600 0 674.9px,#ffa200 0 682.2px,#ffac00 0 693.1px,#ffb600 0 704.1px,#ffbf00 0 715px,#ffb300 0 718.7px,#ff9e00 0 722.3px,#ff0c00 0 726px,#e70000 0 729.6px)"></i>
<i style="left:2275px;width:4px;background:linear-gradient(#00a050 14.6px,#009e3e 0 29.2px,#009c27 0 51.1px,#00990b 0 73px,#009900 0 160.5px,#00a500 0 182.4px,#00ae00 0 204.3px,#00b700 0 226.2px,#00bf00 0 248.1px,#00c700 0 291.8px,#00d400 0 321px,#00e300 0 335.6px,#00ec00 0 350.2px,#00f500 0 364.8px,#00fe00 0 379.4px,#5ffa00 0 394px,#b2f600 0 408.6px,#d2ef00 0 419.5px,#f0e700 0 437.8px,#f8d800 0 445.1px,#fbcf00 0 452.4px,#fdc600 0 459.6px,#ffbc00 0 466.9px,#ffb100 0 474.2px,#ffa800 0 481.5px,#ff9f00 0 488.8px,#ff9400 0 496.1px,#ff8000 0 503.4px,#fe6900 0 510.7px,#fa4b00 0 518px,#fa3500 0 525.3px,#fe1d00 0 532.6px,#ff0100 0 547.2px,#f70000 0 561.8px,#ef0000 0 656.6px,#fe0000 0 660.3px,#fa3700 0 663.9px,#ff7f00 0 667.6px,#ff8b00 0 671.2px,#ff9700 0 678.5px,#ffa100 0 689.5px,#ffab00 0 704.1px,#ffb300 0 711.4px,#ffab00 0 718.7px,#ff7b00 0 722.3px,#f40000 0 726px,#dd0000 0 729.6px)"></i>
<i style="left:2279px;width:3px;background:linear-gradient(#009c2a 14.6px,#009b1c 0 29.2px,#00990c 0 51.1px,#009900 0 182.4px,#00a700 0 226.2px,#00b400 0 270px,#00bf00 0 306.4px,#00c900 0 321px,#00d500 0 335.6px,#00e100 0 350.2px,#00ea00 0 364.8px,#00f300 0 379.4px,#1bfc00 0 394px,#8ff900 0 408.6px,#bef400 0 419.5px,#e1ec00 0 437.8px,#f3e200 0 445.1px,#f8d900 0 452.4px,#facf00 0 459.6px,#fdc600 0 466.9px,#ffbc00 0 474.2px,#ffb200 0 481.5px,#ffa800 0 488.8px,#ff9e00 0 496.1px,#ff8f00 0 503.4px,#ff7600 0 510.7px,#fb5300 0 518px,#fa3500 0 525.3px,#ff1900 0 532.6px,#fc0000 0 547.2px,#f10000 0 561.8px,#e60000 0 612.9px,#de0000 0 649.3px,#ea0000 0 656.6px,#f60000 0 660.3px,#fd2200 0 663.9px,#fe6900 0 667.6px,#ff7c00 0 671.2px,#ff8b00 0 674.9px,#ff9900 0 682.2px,#ffa500 0 689.5px,#ffad00 0 700.4px,#ffb700 0 718.7px,#ff9b00 0 722.3px,#ff0400 0 726px,#e50000 0 729.6px)"></i>
<i style="left:2282px;width:4px;background:linear-gradient(#009f46 14.6px,#009d37 0 29.2px,#009c24 0 51.1px,#00990e 0 73px,#009800 0 182.4px,#00a400 0 204.3px,#00ac00 0 248.1px,#00b800 0 291.8px,#00c500 0 321px,#00d800 0 335.6px,#00e400 0 350.2px,#00ed00 0 364.8px,#00f700 0 379.4px,#34fa00 0 394px,#a9f800 0 408.6px,#ccf100 0 419.5px,#eee900 0 437.8px,#f7d900 0 445.1px,#fbcf00 0 452.4px,#fdc500 0 459.6px,#ffba00 0 466.9px,#ffaf00 0 474.2px,#ffa500 0 481.5px,#ff9b00 0 488.8px,#ff8a00 0 496.1px,#ff7500 0 503.4px,#fb5600 0 510.7px,#f93a00 0 518px,#fc2800 0 525.3px,#ff0e00 0 532.6px,#fb0000 0 547.2px,#f20000 0 561.8px,#e90000 0 649.3px,#f20000 0 656.6px,#fd0000 0 660.3px,#fa3600 0 663.9px,#ff8000 0 667.6px,#ff8e00 0 671.2px,#ff9900 0 678.5px,#ffa400 0 685.8px,#ffad00 0 696.8px,#ffb500 0 718.7px,#ff9800 0 722.3px,#fe0000 0 726px,#e20000 0 729.6px)"></i>
<i style="left:2286px;width:4px;background:linear-gradient(#009e38 14.6px,#009c2a 0 29.2px,#009a18 0 51.1px,#009802 0 160.5px,#009f00 0 204.3px,#00ae00 0 248.1px,#00ba00 0 291.8px,#00c500 0 321px,#00d500 0 335.6px,#00e000 0 350.2px,#00e900 0 364.8px,#00f100 0 379.4px,#0ffd00 0 394px,#81f900 0 408.6px,#b6f500 0 419.5px,#d9ee00 0 437.8px,#f1e700 0 445.1px,#f5de00 0 452.4px,#f9d600 0 459.6px,#fbcc00 0 466.9px,#fec300 0 474.2px,#ffbb00 0 481.5px,#ffb100 0 488.8px,#ffa800 0 496.1px,#ff9f00 0 503.4px,#ff9100 0 510.7px,#ff7a00 0 518px,#fc5b00 0 525.3px,#fa3400 0 532.6px,#ff1800 0 539.9px,#ff0400 0 547.2px,#fb0000 0 561.8px,#f00000 0 605.6px,#e80000 0 656.6px,#f90000 0 660.3px,#fc2b00 0 663.9px,#ff7400 0 667.6px,#ff8100 0 671.2px,#ff8e00 0 674.9px,#ff9900 0 682.2px,#ffa300 0 693.1px,#ffad00 0 704.1px,#ffb500 0 711.4px,#ffad00 0 718.7px,#ff8500 0 722.3px,#f70000 0 726px,#de0000 0 729.6px)"></i>
<i style="left:2290px;width:3px;background:linear-gradient(#00a052 14.6px,#009f42 0 29.2px,#009c2c 0 51.1px,#009a12 0 73px,#009800 0 160.5px,#00a000 0 182.4px,#00a900 0 204.3px,#00b200 0 248.1px,#00c100 0 291.8px,#00ce00 0 321px,#00df00 0 335.6px,#00e800 0 350.2px,#00f100 0 364.8px,#00fa00 0 379.4px,#43fa00 0 394px,#abf700 0 408.6px,#ccf100 0 419.5px,#ede900 0 437.8px,#f7db00 0 445.1px,#fad200 0 452.4px,#fdc800 0 459.6px,#ffbe00 0 466.9px,#ffb300 0 474.2px,#ffaa00 0 481.5px,#ffa000 0 488.8px,#ff9500 0 496.1px,#ff7f00 0 503.4px,#fd6300 0 510.7px,#f84100 0 518px,#fb2d00 0 525.3px,#ff1200 0 532.6px,#fb0000 0 547.2px,#f20000 0 561.8px,#e80000 0 656.6px,#fb0000 0 660.3px,#fa3200 0 663.9px,#ff7d00 0 667.6px,#ff8c00 0 671.2px,#ff9900 0 678.5px,#ffa400 0 685.8px,#ffae00 0 696.8px,#ffb700 0 718.7px,#ff9d00 0 722.3px,#ff0900 0 726px,#e60000 0 729.6px)"></i>
<i style="left:2293px;width:4px;background:linear-gradient(#00990a 14.6px,#009900 0 73px,#00a500 0 116.7px,#00ad00 0 160.5px,#00b800 0 182.4px,#00c100 0 204.3px,#00ca00 0 226.2px,#00d200 0 248.1px,#00da00 0 291.8px,#00e600 0 321px,#00f300 0 335.6px,#00fc00 0 350.2px,#1cfc00 0 364.8px,#59fa00 0 379.4px,#aef700 0 394px,#d7ee00 0 408.6px,#f1e700 0 419.5px,#f9d400 0 437.8px,#fec300 0 445.1px,#ffb900 0 452.4px,#ffae00 0 459.6px,#ffa200 0 466.9px,#ff9100 0 474.2px,#ff7800 0 481.5px,#fb5500 0 488.8px,#f93800 0 496.1px,#fc2700 0 503.4px,#ff1500 0 510.7px,#ff0100 0 525.3px,#f30000 0 532.6px,#eb0000 0 554.5px,#e00000 0 656.6px,#f10000 0 660.3px,#ff1100 0 663.9px,#f94a00 0 667.6px,#fd5f00 0 671.2px,#ff7200 0 674.9px,#ff7f00 0 678.5px,#ff8c00 0 682.2px,#ff9800 0 693.1px,#ffa200 0 704.1px,#ffaa00 0 711.4px,#ffa100 0 718.7px,#fc5900 0 722.3px,#ec0000 0 726px,#da0000 0 729.6px)"></i>
<i style="left:2297px;width:4px;background:linear-gradient(#00a362 14.6px,#00a155 0 29.2px,#009f42 0 51.1px,#009c28 0 73px,#009a14 0 94.8px,#009906 0 138.6px,#009b00 0 182.4px,#00a300 0 204.3px,#00ac00 0 226.2px,#00b400 0 270px,#00c200 0 306.4px,#00ce00 0 321px,#00da00 0 335.6px,#00e400 0 350.2px,#00ee00 0 364.8px,#00f700 0 379.4px,#2dfa00 0 394px,#a2f800 0 408.6px,#c7f200 0 419.5px,#e9ea00 0 437.8px,#f6dd00 0 445.1px,#f9d400 0 452.4px,#fcca00 0 459.6px,#ffc100 0 466.9px,#ffb500 0 474.2px,#ffac00 0 481.5px,#ffa300 0 488.8px,#ff9900 0 496.1px,#ff8600 0 503.4px,#ff7000 0 510.7px,#fa4f00 0 518px,#fa3500 0 525.3px,#fe1c00 0 532.6px,#ff0000 0 547.2px,#f50000 0 561.8px,#ec0000 0 656.6px,#fe0000 0 660.3px,#f93b00 0 663.9px,#ff8600 0 667.6px,#ff9400 0 671.2px,#ff9c00 0 678.5px,#ffa700 0 685.8px,#ffaf00 0 696.8px,#ffb800 0 718.7px,#ff9d00 0 722.3px,#ff0800 0 726px,#e60000 0 729.6px)"></i>
<i style="left:2301px;width:3px;background:linear-gradient(#00a25f 14.6px,#00a154 0 29.2px,#009f43 0 51.1px,#009c2c 0 73px,#009b1b 0 94.8px,#009a10 0 116.7px,#009906 0 160.5px,#009b00 0 204.3px,#00a500 0 248.1px,#00b200 0 291.8px,#00bf00 0 321px,#00d200 0 335.6px,#00de00 0 350.2px,#00e800 0 364.8px,#00f200 0 379.4px,#1afc00 0 394px,#91f900 0 408.6px,#c0f300 0 419.5px,#e3eb00 0 437.8px,#f4df00 0 445.1px,#f9d600 0 452.4px,#fbcc00 0 459.6px,#fec200 0 466.9px,#ffb700 0 474.2px,#ffae00 0 481.5px,#ffa400 0 488.8px,#ff9a00 0 496.1px,#ff8700 0 503.4px,#ff7100 0 510.7px,#fa4e00 0 518px,#fa3400 0 525.3px,#ff1a00 0 532.6px,#fd0000 0 547.2px,#f30000 0 561.8px,#ea0000 0 656.6px,#f60000 0 660.3px,#fd2100 0 663.9px,#fd6400 0 667.6px,#ff7600 0 671.2px,#ff8300 0 674.9px,#ff9100 0 678.5px,#ff9a00 0 685.8px,#ffa300 0 696.8px,#ffab00 0 715px,#ffa300 0 718.7px,#ff7700 0 722.3px,#f30000 0 726px,#dd0000 0 729.6px)"></i>
<i style="left:2304px;width:4px;background:linear-gradient(#009c27 14.6px,#009a13 0 29.2px,#009900 0 94.8px,#00a300 0 138.6px,#00ac00 0 182.4px,#00bd00 0 204.3px,#00c600 0 226.2px,#00cf00 0 248.1px,#00d700 0 270px,#00df00 0 321px,#00ed00 0 350.2px,#00fc00 0 364.8px,#12fd00 0 379.4px,#79fa00 0 394px,#b8f500 0 408.6px,#d5ef00 0 419.5px,#f0e700 0 437.8px,#f7d900 0 445.1px,#fad100 0 452.4px,#fcc900 0 459.6px,#ffc000 0 466.9px,#ffb600 0 474.2px,#ffae00 0 481.5px,#ffa400 0 488.8px,#ff9a00 0 496.1px,#ff8700 0 503.4px,#ff7000 0 510.7px,#fa4c00 0 518px,#fa3300 0 525.3px,#ff1800 0 532.6px,#fd0000 0 547.2px,#f30000 0 561.8px,#e90000 0 656.6px,#f80000 0 660.3px,#fc2900 0 663.9px,#ff7200 0 667.6px,#ff8000 0 671.2px,#ff8f00 0 674.9px,#ff9a00 0 682.2px,#ffa400 0 689.5px,#ffac00 0 700.4px,#ffb400 0 715px,#ffab00 0 718.7px,#ff9000 0 722.3px,#fb0000 0 726px,#e00000 0 729.6px)"></i>
<i style="left:2308px;width:4px;background:linear-gradient(#00a154 14.6px,#009f44 0 29.2px,#009d2f 0 51.1px,#009a15 0 73px,#009801 0 160.5px,#00a100 0 182.4px,#00ab00 0 204.3px,#00b400 0 226.2px,#00bc00 0 270px,#00cb00 0 306.4px,#00d800 0 321px,#00e300 0 335.6px,#00ed00 0 350.2px,#00f600 0 364.8px,#06fe00 0 379.4px,#77fa00 0 394px,#bcf400 0 408.6px,#dced00 0 419.5px,#f4e000 0 437.8px,#fad000 0 445.1px,#fdc600 0 452.4px,#ffbc00 0 459.6px,#ffb000 0 466.9px,#ffa400 0 474.2px,#ff9a00 0 481.5px,#ff8500 0 488.8px,#ff6f00 0 496.1px,#fa5000 0 503.4px,#fa3700 0 510.7px,#fc2700 0 518px,#ff1600 0 525.3px,#fd0000 0 539.9px,#f20000 0 561.8px,#e70000 0 642px,#f00000 0 656.6px,#ff0900 0 660.3px,#f94600 0 663.9px,#ff8a00 0 667.6px,#ff9800 0 674.9px,#ffa300 0 682.2px,#ffad00 0 693.1px,#ffb700 0 704.1px,#ffc000 0 711.4px,#ffb800 0 718.7px,#ff9c00 0 722.3px,#ff0700 0 726px,#e60000 0 729.6px)"></i>
<i style="left:2312px;width:3px;background:linear-gradient(#00a051 14.6px,#009e40 0 29.2px,#009c29 0 51.1px,#00990e 0 73px,#009900 0 138.6px,#00a200 0 160.5px,#00aa00 0 182.4px,#00b500 0 204.3px,#00bf00 0 226.2px,#00c900 0 248.1px,#00d200 0 270px,#00db00 0 306.4px,#00e500 0 321px,#00ed00 0 335.6px,#00f600 0 350.2px,#00fe00 0 364.8px,#24fb00 0 379.4px,#90f900 0 394px,#c6f200 0 408.6px,#e2eb00 0 419.5px,#f5de00 0 437.8px,#fbcf00 0 445.1px,#fdc500 0 452.4px,#ffbc00 0 459.6px,#ffb100 0 466.9px,#ffa600 0 474.2px,#ff9c00 0 481.5px,#ff8600 0 488.8px,#fe6c00 0 496.1px,#f94800 0 503.4px,#fb3000 0 510.7px,#fe1c00 0 518px,#ff0600 0 525.3px,#f80000 0 532.6px,#f00000 0 547.2px,#e60000 0 569.1px,#de0000 0 649.3px,#e90000 0 656.6px,#fc0000 0 660.3px,#fa3300 0 663.9px,#ff7200 0 667.6px,#ff8300 0 671.2px,#ff9400 0 674.9px,#ff9d00 0 682.2px,#ffa900 0 689.5px,#ffb200 0 700.4px,#ffbd00 0 715px,#ffb300 0 718.7px,#ff9b00 0 722.3px,#ff0b00 0 726px,#e80000 0 729.6px)"></i>
<i style="left:2315px;width:4px;background:linear-gradient(#009800 73px,#00a000 0 138.6px,#00ab00 0 182.4px,#00ba00 0 204.3px,#00c300 0 248.1px,#00d100 0 270px,#00d900 0 306.4px,#00e100 0 321px,#00e900 0 335.6px,#00f100 0 350.2px,#00f900 0 364.8px,#08fe00 0 379.4px,#71fa00 0 394px,#b5f500 0 408.6px,#d3ef00 0 419.5px,#f0e800 0 437.8px,#f7d900 0 445.1px,#fad100 0 452.4px,#fdc800 0 459.6px,#ffbf00 0 466.9px,#ffb500 0 474.2px,#ffac00 0 481.5px,#ffa100 0 488.8px,#ff9500 0 496.1px,#ff7c00 0 503.4px,#fc5b00 0 510.7px,#f93900 0 518px,#fd2300 0 525.3px,#ff0400 0 532.6px,#f70000 0 547.2px,#ec0000 0 561.8px,#e00000 0 656.6px,#fe0000 0 660.3px,#fa3300 0 663.9px,#fe6800 0 667.6px,#ff7b00 0 671.2px,#ff8c00 0 674.9px,#ff9a00 0 682.2px,#ffa600 0 689.5px,#ffaf00 0 696.8px,#ffb700 0 704.1px,#ffbf00 0 711.4px,#ffb600 0 715px,#ffae00 0 718.7px,#ff8a00 0 722.3px,#fc0000 0 726px,#e30000 0 729.6px)"></i>
<i style="left:2319px;width:4px;background:linear-gradient(#009f47 14.6px,#009e3c 0 29.2px,#009d2f 0 51.1px,#009b1f 0 73px,#00990e 0 94.8px,#009800 0 160.5px,#00a000 0 182.4px,#00a900 0 204.3px,#00b300 0 226.2px,#00bb00 0 248.1px,#00c300 0 270px,#00cb00 0 306.4px,#00d600 0 321px,#00e200 0 335.6px,#00eb00 0 350.2px,#00f400 0 364.8px,#00fc00 0 379.4px,#58fa00 0 394px,#b0f600 0 408.6px,#d2f000 0 419.5px,#f0e700 0 437.8px,#f8d800 0 445.1px,#fbcf00 0 452.4px,#fdc500 0 459.6px,#ffbb00 0 466.9px,#ffb000 0 474.2px,#ffa700 0 481.5px,#ff9c00 0 488.8px,#ff8700 0 496.1px,#ff6f00 0 503.4px,#f94800 0 510.7px,#fb2f00 0 518px,#ff1a00 0 525.3px,#fd0000 0 532.6px,#f40000 0 547.2px,#ea0000 0 561.8px,#e00000 0 649.3px,#e80000 0 656.6px,#ff1100 0 660.3px,#f84300 0 663.9px,#ff7200 0 667.6px,#ff8300 0 671.2px,#ff9400 0 674.9px,#ff9d00 0 682.2px,#ffa900 0 689.5px,#ffb200 0 696.8px,#ffbb00 0 704.1px,#fec300 0 711.4px,#ffb900 0 715px,#ffb000 0 718.7px,#ff8900 0 722.3px,#fd0000 0 726px,#e50000 0 729.6px)"></i>
<i style="left:2323px;width:3px;background:linear-gradient(#00a000 116.7px,#00a800 0 182.4px,#00b600 0 204.3px,#00be00 0 248.1px,#00c900 0 291.8px,#00d400 0 321px,#00e300 0 335.6px,#00ec00 0 350.2px,#00f500 0 364.8px,#00fd00 0 379.4px,#5dfa00 0 394px,#b1f600 0 408.6px,#d2f000 0 419.5px,#f0e800 0 437.8px,#f8d900 0 445.1px,#facf00 0 452.4px,#fdc600 0 459.6px,#ffbc00 0 466.9px,#ffb100 0 474.2px,#ffa900 0 481.5px,#ff9f00 0 488.8px,#ff9100 0 496.1px,#ff7c00 0 503.4px,#fd6000 0 510.7px,#f83f00 0 518px,#fb2c00 0 525.3px,#ff1200 0 532.6px,#fc0000 0 547.2px,#f20000 0 561.8px,#e90000 0 656.6px,#fc2800 0 660.3px,#fc5e00 0 663.9px,#ff7600 0 667.6px,#ff8300 0 671.2px,#ff9000 0 674.9px,#ff9a00 0 682.2px,#ffa400 0 693.1px,#ffae00 0 704.1px,#ffb600 0 711.4px,#ffa800 0 715px,#ff9c00 0 718.7px,#fa3200 0 722.3px,#e80000 0 726px,#d90000 0 729.6px)"></i>
<i style="left:2326px;width:4px;background:linear-gradient(#009b00 116.7px,#00a400 0 160.5px,#00ae00 0 182.4px,#00b700 0 204.3px,#00c000 0 248.1px,#00ce00 0 291.8px,#00db00 0 321px,#00e700 0 350.2px,#00f600 0 364.8px,#00fe00 0 379.4px,#5efa00 0 394px,#b0f600 0 408.6px,#cff000 0 419.5px,#ede900 0 437.8px,#f6dc00 0 445.1px,#f9d300 0 452.4px,#fccb00 0 459.6px,#fec200 0 466.9px,#ffb800 0 474.2px,#ffb000 0 481.5px,#ffa700 0 488.8px,#ff9f00 0 496.1px,#ff9600 0 503.4px,#ff8200 0 510.7px,#ff7000 0 518px,#fb5200 0 525.3px,#fa3300 0 532.6px,#fe1c00 0 539.9px,#ff0d00 0 547.2px,#ff0000 0 561.8px,#f70000 0 649.3px,#ff0700 0 656.6px,#ff8500 0 660.3px,#ffa100 0 667.6px,#ffab00 0 674.9px,#ffb500 0 682.2px,#ffbe00 0 693.1px,#fdc700 0 700.4px,#fbcd00 0 711.4px,#fec300 0 715px,#ffb900 0 718.7px,#ff9500 0 722.3px,#ff0a00 0 726px,#e90000 0 729.6px)"></i>
<i style="left:2330px;width:4px;background:linear-gradient(#009d2f 14.6px,#009c26 0 29.2px,#009b1a 0 51.1px,#00990c 0 73px,#009900 0 138.6px,#00a100 0 160.5px,#00a900 0 182.4px,#00b300 0 204.3px,#00be00 0 226.2px,#00c700 0 248.1px,#00d000 0 270px,#00d900 0 306.4px,#00e100 0 321px,#00e900 0 350.2px,#00f800 0 379.4px,#60fa00 0 394px,#aff700 0 408.6px,#cdf100 0 419.5px,#eae900 0 437.8px,#f5de00 0 445.1px,#f9d600 0 452.4px,#fbcd00 0 459.6px,#fec500 0 466.9px,#ffbc00 0 474.2px,#ffb300 0 481.5px,#ffa900 0 488.8px,#ffa000 0 496.1px,#ff9600 0 503.4px,#ff7e00 0 510.7px,#fd6300 0 518px,#f84000 0 525.3px,#fd2500 0 532.6px,#ff0700 0 539.9px,#fc0000 0 554.5px,#f10000 0 569.1px,#e90000 0 649.3px,#f20000 0 656.6px,#f94700 0 660.3px,#ff8300 0 663.9px,#ff9300 0 667.6px,#ff9c00 0 674.9px,#ffa700 0 682.2px,#ffb200 0 689.5px,#ffba00 0 700.4px,#fec400 0 711.4px,#ffbb00 0 715px,#ffb100 0 718.7px,#ff7e00 0 722.3px,#fb0000 0 726px,#e30000 0 729.6px)"></i>
<i style="left:2334px;width:3px;background:linear-gradient(#009909 29.2px,#009801 0 160.5px,#00a100 0 182.4px,#00a900 0 204.3px,#00b100 0 248.1px,#00bf00 0 291.8px,#00cb00 0 321px,#00de00 0 335.6px,#00e800 0 350.2px,#00f100 0 364.8px,#00fb00 0 379.4px,#4efa00 0 394px,#aff700 0 408.6px,#d1f000 0 419.5px,#f1e700 0 437.8px,#f8d700 0 445.1px,#fbcd00 0 452.4px,#fec400 0 459.6px,#ffb900 0 466.9px,#ffad00 0 474.2px,#ffa400 0 481.5px,#ff9b00 0 488.8px,#ff8a00 0 496.1px,#ff7700 0 503.4px,#fc5d00 0 510.7px,#f84000 0 518px,#fb2f00 0 525.3px,#ff1900 0 532.6px,#fe0000 0 554.5px,#f30000 0 649.3px,#ff0100 0 656.6px,#ff8200 0 660.3px,#ffa100 0 667.6px,#ffac00 0 674.9px,#ffb600 0 682.2px,#ffc100 0 689.5px,#fdc800 0 696.8px,#fbce00 0 704.1px,#f9d500 0 711.4px,#fcc900 0 715px,#ffc100 0 718.7px,#ffa000 0 722.3px,#fd2600 0 726px,#f20000 0 729.6px)"></i>
<i style="left:2337px;width:4px;background:linear-gradient(#009c00 182.4px,#00a800 0 226.2px,#00b400 0 270px,#00be00 0 306.4px,#00cb00 0 321px,#00d900 0 335.6px,#00e500 0 350.2px,#00f000 0 364.8px,#00fa00 0 379.4px,#50fa00 0 394px,#b2f600 0 408.6px,#d5ef00 0 419.5px,#f2e400 0 437.8px,#fad300 0 445.1px,#fdc800 0 452.4px,#ffbe00 0 459.6px,#ffb200 0 466.9px,#ffa500 0 474.2px,#ff9b00 0 481.5px,#ff8400 0 488.8px,#fe6b00 0 496.1px,#f94800 0 503.4px,#fb3100 0 510.7px,#fe1f00 0 518px,#ff0a00 0 525.3px,#fa0000 0 532.6px,#f20000 0 547.2px,#e90000 0 561.8px,#e00000 0 642px,#e90000 0 656.6px,#f83e00 0 660.3px,#ff7e00 0 663.9px,#ff8f00 0 667.6px,#ff9b00 0 674.9px,#ffa800 0 682.2px,#ffb300 0 689.5px,#ffbc00 0 696.8px,#fec400 0 704.1px,#fccb00 0 711.4px,#ffc100 0 715px,#ffb700 0 718.7px,#ff9300 0 722.3px,#ff0b00 0 726px,#ea0000 0 729.6px)"></i>
<i style="left:2341px;width:4px;background:linear-gradient(#009b1c 29.2px,#009a14 0 73px,#009906 0 138.6px,#009c00 0 182.4px,#00a500 0 204.3px,#00ad00 0 248.1px,#00ba00 0 291.8px,#00c700 0 321px,#00d700 0 335.6px,#00e200 0 350.2px,#00ea00 0 364.8px,#00f300 0 379.4px,#19fc00 0 394px,#8cf900 0 408.6px,#bbf400 0 419.5px,#deed00 0 437.8px,#f2e400 0 445.1px,#f6db00 0 452.4px,#fad200 0 459.6px,#fcc900 0 466.9px,#ffc000 0 474.2px,#ffb700 0 481.5px,#ffaf00 0 488.8px,#ffa700 0 503.4px,#ff9800 0 510.7px,#ff8700 0 518px,#ff7400 0 525.3px,#fa4e00 0 532.6px,#fb3100 0 539.9px,#fd2400 0 547.2px,#ff1800 0 554.5px,#ff0900 0 561.8px,#fe0000 0 642px,#ff0700 0 649.3px,#ff1300 0 656.6px,#ff8e00 0 660.3px,#ffa400 0 667.6px,#ffad00 0 674.9px,#ffb500 0 682.2px,#ffbe00 0 693.1px,#fdc600 0 704.1px,#fbcd00 0 711.4px,#ffc000 0 715px,#ffb500 0 718.7px,#ff8700 0 722.3px,#fd0000 0 726px,#e40000 0 729.6px)"></i>
<i style="left:2345px;width:3px;background:linear-gradient(#00a25f 14.6px,#00a158 0 29.2px,#00a050 0 51.1px,#009f41 0 73px,#009d30 0 94.8px,#009b1b 0 116.7px,#009907 0 138.6px,#009a00 0 182.4px,#00a500 0 204.3px,#00b000 0 226.2px,#00b900 0 248.1px,#00c200 0 270px,#00cb00 0 306.4px,#00d600 0 321px,#00e100 0 335.6px,#00ea00 0 350.2px,#00f200 0 364.8px,#00fb00 0 379.4px,#48fa00 0 394px,#abf700 0 408.6px,#ccf100 0 419.5px,#ebe900 0 437.8px,#f6dc00 0 445.1px,#f9d300 0 452.4px,#fcca00 0 459.6px,#ffc000 0 466.9px,#ffb600 0 474.2px,#ffad00 0 481.5px,#ffa500 0 488.8px,#ff9d00 0 496.1px,#ff9300 0 503.4px,#ff8000 0 510.7px,#ff6e00 0 518px,#fb5100 0 525.3px,#fa3300 0 532.6px,#fe1d00 0 539.9px,#ff1000 0 547.2px,#ff0200 0 561.8px,#f80000 0 642px,#ff0700 0 649.3px,#ff1600 0 656.6px,#ff9300 0 660.3px,#ffa600 0 667.6px,#ffb000 0 674.9px,#ffb900 0 682.2px,#fec200 0 693.1px,#fccb00 0 700.4px,#fad100 0 711.4px,#fdc800 0 715px,#ffbe00 0 718.7px,#ff9d00 0 722.3px,#fe1b00 0 726px,#ee0000 0 729.6px)"></i>
<i style="left:2348px;width:4px;background:linear-gradient(#00a158 29.2px,#009f4b 0 51.1px,#009e3f 0 73px,#009d31 0 94.8px,#009b1f 0 116.7px,#00990e 0 138.6px,#009800 0 182.4px,#00a100 0 204.3px,#00ab00 0 226.2px,#00b300 0 248.1px,#00bb00 0 270px,#00c400 0 306.4px,#00d000 0 321px,#00dc00 0 335.6px,#00e700 0 350.2px,#00f000 0 364.8px,#00fa00 0 379.4px,#45fa00 0 394px,#adf700 0 408.6px,#cff000 0 419.5px,#f0e800 0 437.8px,#f8d900 0 445.1px,#fbcf00 0 452.4px,#fdc500 0 459.6px,#ffbb00 0 466.9px,#ffaf00 0 474.2px,#ffa600 0 481.5px,#ff9b00 0 488.8px,#ff8700 0 496.1px,#ff7000 0 503.4px,#fa4b00 0 510.7px,#fa3200 0 518px,#fe1e00 0 525.3px,#ff0000 0 532.6px,#f60000 0 547.2px,#ed0000 0 561.8px,#e30000 0 649.3px,#ec0000 0 656.6px,#fa3400 0 660.3px,#ff7300 0 663.9px,#ff8300 0 667.6px,#ff9400 0 671.2px,#ff9c00 0 678.5px,#ffa900 0 685.8px,#ffb300 0 693.1px,#ffbb00 0 700.4px,#fec300 0 711.4px,#ffba00 0 715px,#ffb000 0 718.7px,#ff7c00 0 722.3px,#fb0000 0 726px,#e30000 0 729.6px)"></i>
<i style="left:2352px;width:4px;background:linear-gradient(#009c2d 14.6px,#009c24 0 29.2px,#009b1a 0 51.1px,#00990d 0 73px,#009800 0 160.5px,#00a600 0 182.4px,#00b000 0 204.3px,#00bb00 0 226.2px,#00c300 0 248.1px,#00cc00 0 270px,#00d400 0 306.4px,#00de00 0 321px,#00e700 0 335.6px,#00ef00 0 350.2px,#00f700 0 364.8px,#00ff00 0 379.4px,#62fa00 0 394px,#b1f600 0 408.6px,#d0f000 0 419.5px,#eee900 0 437.8px,#f7db00 0 445.1px,#fad200 0 452.4px,#fcca00 0 459.6px,#ffc100 0 466.9px,#ffb600 0 474.2px,#ffae00 0 481.5px,#ffa400 0 488.8px,#ff9b00 0 496.1px,#ff8b00 0 503.4px,#ff7600 0 510.7px,#fc5800 0 518px,#f93b00 0 525.3px,#fd2200 0 532.6px,#ff0500 0 539.9px,#fc0000 0 554.5px,#f30000 0 576.4px,#eb0000 0 642px,#f40000 0 656.6px,#ff6f00 0 660.3px,#ff9a00 0 667.6px,#ffa600 0 674.9px,#ffb100 0 682.2px,#ffbb00 0 689.5px,#fec300 0 696.8px,#fcca00 0 704.1px,#fad100 0 711.4px,#fdc600 0 715px,#ffbd00 0 718.7px,#ff9c00 0 722.3px,#ff1a00 0 726px,#ee0000 0 729.6px)"></i>
<i style="left:2356px;width:3px;background:linear-gradient(#00a46a 29.2px,#00a25d 0 51.1px,#00a155 0 73px,#009f47 0 94.8px,#009d35 0 116.7px,#009b23 0 138.6px,#009a10 0 160.5px,#009900 0 204.3px,#00a600 0 226.2px,#00ae00 0 248.1px,#00b700 0 270px,#00bf00 0 306.4px,#00cc00 0 321px,#00d800 0 335.6px,#00e300 0 350.2px,#00ed00 0 364.8px,#00f600 0 379.4px,#2afb00 0 394px,#9ff800 0 408.6px,#c6f200 0 419.5px,#e8ea00 0 437.8px,#f5dd00 0 445.1px,#f9d400 0 452.4px,#fcca00 0 459.6px,#ffc100 0 466.9px,#ffb500 0 474.2px,#ffac00 0 481.5px,#ffa200 0 488.8px,#ff9800 0 496.1px,#ff8300 0 503.4px,#fe6a00 0 510.7px,#f94700 0 518px,#fb3000 0 525.3px,#ff1500 0 532.6px,#fc0000 0 547.2px,#f20000 0 561.8px,#e90000 0 656.6px,#fa3700 0 660.3px,#ff7400 0 663.9px,#ff8300 0 667.6px,#ff9200 0 671.2px,#ff9b00 0 678.5px,#ffa600 0 685.8px,#ffaf00 0 696.8px,#ffba00 0 715px,#ffa800 0 718.7px,#fc5c00 0 722.3px,#f30000 0 726px,#de0000 0 729.6px)"></i>
<i style="left:2359px;width:4px;background:linear-gradient(#009a14 14.6px,#00990d 0 29.2px,#009803 0 94.8px,#009d00 0 160.5px,#00a700 0 182.4px,#00b100 0 204.3px,#00ba00 0 226.2px,#00c200 0 270px,#00d100 0 306.4px,#00da00 0 321px,#00e400 0 335.6px,#00ec00 0 350.2px,#00f400 0 364.8px,#00fc00 0 379.4px,#4dfa00 0 394px,#acf700 0 408.6px,#cbf100 0 419.5px,#eaea00 0 437.8px,#f5dd00 0 445.1px,#f9d500 0 452.4px,#fccc00 0 459.6px,#fec300 0 466.9px,#ffb900 0 474.2px,#ffb000 0 481.5px,#ffa700 0 488.8px,#ff9e00 0 496.1px,#ff9100 0 503.4px,#ff7b00 0 510.7px,#fd6100 0 518px,#f83f00 0 525.3px,#fc2800 0 532.6px,#ff1200 0 539.9px,#ff0400 0 554.5px,#f90000 0 627.5px,#f10000 0 649.3px,#fb0000 0 656.6px,#fb5700 0 660.3px,#ff8600 0 663.9px,#ff9500 0 667.6px,#ff9d00 0 674.9px,#ffa800 0 682.2px,#ffb200 0 693.1px,#ffbd00 0 711.4px,#ffb400 0 715px,#ffa500 0 718.7px,#f84300 0 722.3px,#f00000 0 726px,#dd0000 0 729.6px)"></i>
<i style="left:2363px;width:4px;background:linear-gradient(#009f48 14.6px,#009e3a 0 29.2px,#009c29 0 51.1px,#009a13 0 73px,#009800 0 138.6px,#00a000 0 182.4px,#00b200 0 204.3px,#00bd00 0 226.2px,#00c600 0 248.1px,#00cf00 0 270px,#00d800 0 306.4px,#00e100 0 321px,#00e900 0 335.6px,#00f100 0 350.2px,#00f900 0 364.8px,#09fe00 0 379.4px,#73fa00 0 394px,#b6f500 0 408.6px,#d4ef00 0 419.5px,#f1e700 0 437.8px,#f8d900 0 445.1px,#fad000 0 452.4px,#fdc700 0 459.6px,#ffbe00 0 466.9px,#ffb400 0 474.2px,#ffab00 0 481.5px,#ffa000 0 488.8px,#ff9100 0 496.1px,#ff7900 0 503.4px,#fb5600 0 510.7px,#fa3700 0 518px,#fd2100 0 525.3px,#ff0a00 0 532.6px,#fd0000 0 561.8px,#f40000 0 649.3px,#ff0300 0 656.6px,#f83e00 0 660.3px,#ff6e00 0 663.9px,#ff8400 0 667.6px,#ff9800 0 671.2px,#ffa000 0 678.5px,#ffae00 0 685.8px,#ffba00 0 693.1px,#fec200 0 711.4px,#ffb800 0 715px,#ffa300 0 718.7px,#fa3400 0 722.3px,#f10000 0 726px,#dd0000 0 729.6px)"></i>
<i style="left:2367px;width:3px;background:linear-gradient(#009907 14.6px,#009800 0 116.7px,#00a200 0 160.5px,#00ab00 0 182.4px,#00b300 0 204.3px,#00bc00 0 248.1px,#00ca00 0 291.8px,#00d700 0 321px,#00e700 0 335.6px,#00f000 0 350.2px,#00fa00 0 364.8px,#14fd00 0 379.4px,#85f900 0 394px,#c2f300 0 408.6px,#e1ec00 0 419.5px,#f5de00 0 437.8px,#fbcd00 0 445.1px,#fec300 0 452.4px,#ffb900 0 459.6px,#ffad00 0 466.9px,#ffa100 0 474.2px,#ff9500 0 481.5px,#ff7b00 0 488.8px,#fc5d00 0 496.1px,#f83d00 0 503.4px,#fc2a00 0 510.7px,#ff1900 0 518px,#ff0400 0 525.3px,#fb0000 0 627.5px,#ff0800 0 634.8px,#ff1000 0 642px,#fd2100 0 649.3px,#f93a00 0 656.6px,#ff7500 0 660.3px,#ff8d00 0 663.9px,#ff9c00 0 667.6px,#ffa500 0 674.9px,#ffb300 0 682.2px,#ffc000 0 689.5px,#fcc900 0 696.8px,#fad000 0 711.4px,#ffc000 0 715px,#ffa700 0 718.7px,#f93800 0 722.3px,#f40000 0 726px,#de0000 0 729.6px)"></i>
<i style="left:2370px;width:4px;background:linear-gradient(#009f45 14.6px,#009e39 0 29.2px,#009c2b 0 51.1px,#009b19 0 73px,#009909 0 94.8px,#009900 0 182.4px,#00a700 0 204.3px,#00b000 0 226.2px,#00b800 0 270px,#00c700 0 306.4px,#00d200 0 321px,#00dd00 0 335.6px,#00e700 0 350.2px,#00ef00 0 364.8px,#00f800 0 379.4px,#34fa00 0 394px,#a5f800 0 408.6px,#c7f200 0 419.5px,#e8ea00 0 437.8px,#f5de00 0 445.1px,#f9d500 0 452.4px,#fccb00 0 459.6px,#fec200 0 466.9px,#ffb700 0 474.2px,#ffaf00 0 481.5px,#ffa500 0 488.8px,#ff9c00 0 496.1px,#ff8e00 0 503.4px,#ff7800 0 510.7px,#fc5c00 0 518px,#f93d00 0 525.3px,#fb2e00 0 532.6px,#fd2600 0 627.5px,#fb2e00 0 642px,#f84300 0 649.3px,#fe6c00 0 656.6px,#ff9500 0 660.3px,#ffa000 0 663.9px,#ffa800 0 671.2px,#ffb600 0 678.5px,#fec200 0 685.8px,#fbcc00 0 693.1px,#f9d300 0 711.4px,#fdc600 0 715px,#ffae00 0 718.7px,#fb5200 0 722.3px,#fa0000 0 726px,#e10000 0 729.6px)"></i>
<i style="left:2374px;width:4px;background:linear-gradient(#00a159 14.6px,#00a050 0 29.2px,#009f41 0 51.1px,#009d2f 0 73px,#009b1e 0 94.8px,#009a0f 0 116.7px,#009800 0 182.4px,#00a200 0 204.3px,#00ab00 0 226.2px,#00b300 0 248.1px,#00bb00 0 291.8px,#00c900 0 321px,#00dc00 0 335.6px,#00e700 0 350.2px,#00f100 0 364.8px,#00fa00 0 379.4px,#4ffa00 0 394px,#b0f600 0 408.6px,#d2ef00 0 419.5px,#f1e600 0 437.8px,#f9d600 0 445.1px,#fccc00 0 452.4px,#fec200 0 459.6px,#ffb600 0 466.9px,#ffab00 0 474.2px,#ffa100 0 481.5px,#ff9500 0 488.8px,#ff7d00 0 496.1px,#fd6200 0 503.4px,#f84000 0 510.7px,#fb2d00 0 518px,#ff1b00 0 525.3px,#ff0a00 0 532.6px,#ff0100 0 598.3px,#ff0f00 0 612.9px,#ff1900 0 634.8px,#fd2200 0 642px,#fb2d00 0 649.3px,#f84000 0 656.6px,#ff7200 0 660.3px,#ff8600 0 663.9px,#ff9800 0 671.2px,#ffa600 0 678.5px,#ffb200 0 685.8px,#ffbc00 0 693.1px,#fec300 0 711.4px,#ffb000 0 715px,#ff8b00 0 718.7px,#ff0100 0 722.3px,#e20000 0 726px,#d70000 0 729.6px)"></i>
<i style="left:2378px;width:3px;background:linear-gradient(#009f4a 14.6px,#009e40 0 29.2px,#009d34 0 51.1px,#009c26 0 73px,#009b19 0 94.8px,#00990e 0 116.7px,#009803 0 182.4px,#009f00 0 204.3px,#00a700 0 248.1px,#00b400 0 291.8px,#00c100 0 321px,#00d500 0 335.6px,#00e100 0 350.2px,#00ec00 0 364.8px,#00f600 0 379.4px,#2cfa00 0 394px,#a5f800 0 408.6px,#caf100 0 419.5px,#ede900 0 437.8px,#f7d900 0 445.1px,#fbcf00 0 452.4px,#fdc500 0 459.6px,#ffba00 0 466.9px,#ffae00 0 474.2px,#ffa500 0 481.5px,#ff9d00 0 488.8px,#ff9100 0 496.1px,#ff7f00 0 503.4px,#ff6d00 0 510.7px,#fb5200 0 518px,#f93b00 0 525.3px,#fb3000 0 554.5px,#fa3700 0 569.1px,#f83e00 0 583.7px,#fa4d00 0 591px,#fd6400 0 598.3px,#ff7600 0 605.6px,#ff8100 0 612.9px,#ff8d00 0 620.2px,#ff9500 0 642px,#ffa000 0 649.3px,#ffa800 0 656.6px,#ffb100 0 663.9px,#ffbe00 0 671.2px,#fdc800 0 674.9px,#fbce00 0 682.2px,#f8d800 0 689.5px,#f5df00 0 696.8px,#f2e400 0 707.7px,#f5df00 0 711.4px,#fad300 0 715px,#ffbb00 0 718.7px,#ff8600 0 722.3px,#ff1900 0 726px,#ed0000 0 729.6px)"></i>
<i style="left:2381px;width:4px;background:linear-gradient(#009d30 14.6px,#009c24 0 29.2px,#009a14 0 51.1px,#009800 0 138.6px,#00a000 0 182.4px,#00b100 0 204.3px,#00ba00 0 226.2px,#00c200 0 248.1px,#00ca00 0 270px,#00d200 0 306.4px,#00dd00 0 321px,#00e600 0 335.6px,#00ef00 0 350.2px,#00f800 0 364.8px,#07fe00 0 379.4px,#74fa00 0 394px,#b8f500 0 408.6px,#d8ee00 0 419.5px,#f2e400 0 437.8px,#f9d500 0 445.1px,#fccc00 0 452.4px,#fec300 0 459.6px,#ffb800 0 466.9px,#ffad00 0 474.2px,#ffa400 0 481.5px,#ff9a00 0 488.8px,#ff8500 0 496.1px,#ff6f00 0 503.4px,#fa4b00 0 510.7px,#fa3400 0 518px,#fd2100 0 525.3px,#ff1000 0 532.6px,#ff0700 0 591px,#fe1b00 0 598.3px,#fc2800 0 605.6px,#fb3100 0 612.9px,#f93b00 0 620.2px,#f94700 0 627.5px,#fb5600 0 634.8px,#fd6400 0 642px,#ff7800 0 649.3px,#ff8f00 0 656.6px,#ff9e00 0 663.9px,#ffab00 0 671.2px,#ffb800 0 678.5px,#fec400 0 682.2px,#fcca00 0 689.5px,#fad200 0 696.8px,#f8d800 0 711.4px,#fdc700 0 715px,#ffad00 0 718.7px,#fa4f00 0 722.3px,#f90000 0 726px,#e10000 0 729.6px)"></i>
<i style="left:2385px;width:4px;background:linear-gradient(#009d37 14.6px,#009c2a 0 29.2px,#009b1a 0 51.1px,#009907 0 94.8px,#009b00 0 160.5px,#00a600 0 182.4px,#00af00 0 204.3px,#00b800 0 226.2px,#00c100 0 270px,#00d000 0 306.4px,#00d800 0 321px,#00e100 0 335.6px,#00e900 0 364.8px,#00f700 0 379.4px,#26fb00 0 394px,#91f900 0 408.6px,#bbf400 0 419.5px,#dbed00 0 437.8px,#f1e700 0 445.1px,#f5df00 0 452.4px,#f8d700 0 459.6px,#fbcf00 0 466.9px,#fdc600 0 474.2px,#ffbf00 0 481.5px,#ffb500 0 488.8px,#ffac00 0 496.1px,#ffa400 0 503.4px,#ff9b00 0 510.7px,#ff8a00 0 518px,#ff7300 0 525.3px,#fb5700 0 532.6px,#f94600 0 547.2px,#f83f00 0 569.1px,#f93800 0 591px,#fb5300 0 598.3px,#fe6b00 0 605.6px,#ff7800 0 612.9px,#ff8300 0 620.2px,#ff8e00 0 627.5px,#ff9800 0 642px,#ffa300 0 649.3px,#ffab00 0 660.3px,#ffb800 0 667.6px,#fec300 0 674.9px,#fbce00 0 678.5px,#f9d400 0 682.2px,#f7da00 0 689.5px,#f3e100 0 696.8px,#f1e700 0 711.4px,#f8d800 0 715px,#ffc100 0 718.7px,#ff9700 0 722.3px,#fc2b00 0 726px,#f40000 0 729.6px)"></i>
<i style="left:2389px;width:3px;background:linear-gradient(#009c24 14.6px,#009a15 0 29.2px,#009801 0 94.8px,#00a000 0 138.6px,#00aa00 0 160.5px,#00b200 0 182.4px,#00bd00 0 204.3px,#00c700 0 226.2px,#00d000 0 248.1px,#00d900 0 270px,#00e100 0 306.4px,#00eb00 0 321px,#00f400 0 335.6px,#00fd00 0 350.2px,#1ffc00 0 364.8px,#5efa00 0 379.4px,#aff700 0 394px,#d8ee00 0 408.6px,#f1e600 0 419.5px,#f9d300 0 437.8px,#fec300 0 445.1px,#ffb800 0 452.4px,#ffad00 0 459.6px,#ffa100 0 466.9px,#ff8e00 0 474.2px,#ff7500 0 481.5px,#fb5200 0 488.8px,#fa3700 0 496.1px,#fc2700 0 503.4px,#ff1600 0 510.7px,#ff0300 0 525.3px,#f70000 0 583.7px,#ff0000 0 591px,#ff1a00 0 598.3px,#fb2e00 0 605.6px,#f83d00 0 612.9px,#fb5700 0 620.2px,#fe6c00 0 627.5px,#ff7700 0 634.8px,#ff8000 0 642px,#ff8f00 0 649.3px,#ff9c00 0 660.3px,#ffaa00 0 667.6px,#ffb500 0 674.9px,#ffc200 0 682.2px,#fbcd00 0 689.5px,#f9d400 0 696.8px,#f7da00 0 711.4px,#fdc900 0 715px,#ffae00 0 718.7px,#fb5600 0 722.3px,#fb0000 0 726px,#e30000 0 729.6px)"></i>
<i style="left:2392px;width:4px;background:linear-gradient(#00a04d 14.6px,#009f41 0 29.2px,#009d32 0 51.1px,#009b21 0 73px,#009a11 0 94.8px,#009802 0 160.5px,#009e00 0 204.3px,#00ae00 0 226.2px,#00b600 0 270px,#00c500 0 306.4px,#00d100 0 321px,#00dc00 0 335.6px,#00e600 0 350.2px,#00f000 0 364.8px,#00f900 0 379.4px,#3afa00 0 394px,#a9f800 0 408.6px,#cbf100 0 419.5px,#ebe900 0 437.8px,#f6db00 0 445.1px,#fad200 0 452.4px,#fcc900 0 459.6px,#ffbf00 0 466.9px,#ffb400 0 474.2px,#ffab00 0 481.5px,#ffa200 0 488.8px,#ff9a00 0 496.1px,#ff8a00 0 503.4px,#ff7700 0 510.7px,#fc5e00 0 518px,#f84100 0 525.3px,#fb3000 0 532.6px,#fd2600 0 583.7px,#fb2e00 0 591px,#f93d00 0 598.3px,#fa5000 0 605.6px,#fd6100 0 612.9px,#ff7200 0 620.2px,#ff7a00 0 634.8px,#ff8400 0 642px,#ff8f00 0 649.3px,#ff9b00 0 660.3px,#ffab00 0 663.9px,#ffb300 0 671.2px,#ffc100 0 674.9px,#fdc700 0 678.5px,#fbcd00 0 682.2px,#f9d300 0 689.5px,#f7db00 0 696.8px,#f4e000 0 711.4px,#fad200 0 715px,#ffbb00 0 718.7px,#ff8a00 0 722.3px,#fe1f00 0 726px,#f00000 0 729.6px)"></i>
<i style="left:2396px;width:4px;background:linear-gradient(#009c2c 14.6px,#009b1f 0 29.2px,#00990f 0 51.1px,#009900 0 138.6px,#00a200 0 182.4px,#00b200 0 204.3px,#00bb00 0 226.2px,#00c300 0 248.1px,#00cb00 0 270px,#00d300 0 306.4px,#00de00 0 321px,#00e700 0 335.6px,#00f000 0 350.2px,#00f900 0 364.8px,#0efe00 0 379.4px,#7bfa00 0 394px,#bcf400 0 408.6px,#dbed00 0 419.5px,#f3e200 0 437.8px,#fad300 0 445.1px,#fcc900 0 452.4px,#ffc000 0 459.6px,#ffb500 0 466.9px,#ffaa00 0 474.2px,#ffa100 0 481.5px,#ff9500 0 488.8px,#ff7e00 0 496.1px,#fe6600 0 503.4px,#f94500 0 510.7px,#fb3100 0 518px,#fe1f00 0 525.3px,#ff0600 0 532.6px,#fc0000 0 656.6px,#ff1800 0 660.3px,#fb3100 0 663.9px,#fb5300 0 667.6px,#ff7800 0 671.2px,#ff8f00 0 674.9px,#ff9c00 0 682.2px,#ffaa00 0 689.5px,#ffb200 0 711.4px,#ffa400 0 715px,#fe6b00 0 718.7px,#f80000 0 722.3px,#de0000 0 726px,#d40000 0 729.6px)"></i>
<i style="left:2400px;width:3px;background:linear-gradient(#00a051 14.6px,#009f46 0 29.2px,#009e38 0 51.1px,#009c27 0 73px,#009a18 0 94.8px,#00990a 0 116.7px,#009900 0 182.4px,#00a300 0 204.3px,#00ab00 0 226.2px,#00b300 0 270px,#00c100 0 306.4px,#00cd00 0 321px,#00d900 0 335.6px,#00e300 0 350.2px,#00ed00 0 364.8px,#00f600 0 379.4px,#28fb00 0 394px,#9df800 0 408.6px,#c4f200 0 419.5px,#e6ea00 0 437.8px,#f5de00 0 445.1px,#f9d500 0 452.4px,#fccc00 0 459.6px,#fec200 0 466.9px,#ffb700 0 474.2px,#ffaf00 0 481.5px,#ffa600 0 488.8px,#ff9e00 0 496.1px,#ff9500 0 503.4px,#ff8200 0 510.7px,#ff7000 0 518px,#fb5300 0 525.3px,#fa3400 0 532.6px,#fd2300 0 539.9px,#ff1900 0 547.2px,#ff0d00 0 576.4px,#ff1700 0 591px,#fe2000 0 605.6px,#fc2700 0 656.6px,#f93d00 0 660.3px,#ff6e00 0 663.9px,#ff8e00 0 667.6px,#ffa000 0 671.2px,#ffa900 0 678.5px,#ffb700 0 685.8px,#fec200 0 696.8px,#fccb00 0 711.4px,#ffbc00 0 715px,#ffa400 0 718.7px,#f93800 0 722.3px,#f40000 0 726px,#de0000 0 729.6px)"></i>
<i style="left:2403px;width:4px;background:linear-gradient(#00a363 14.6px,#00a15a 0 29.2px,#00a04f 0 51.1px,#009e3c 0 73px,#009c2b 0 94.8px,#009b1b 0 116.7px,#00990c 0 138.6px,#009900 0 204.3px,#00a900 0 226.2px,#00b100 0 248.1px,#00b900 0 291.8px,#00c700 0 321px,#00d800 0 335.6px,#00e300 0 350.2px,#00ec00 0 364.8px,#00f500 0 379.4px,#25fb00 0 394px,#99f900 0 408.6px,#c3f300 0 419.5px,#e5eb00 0 437.8px,#f4df00 0 445.1px,#f8d600 0 452.4px,#fbcd00 0 459.6px,#fec300 0 466.9px,#ffb900 0 474.2px,#ffb100 0 481.5px,#ffa900 0 496.1px,#ff9b00 0 503.4px,#ff9000 0 510.7px,#ff8000 0 518px,#ff7000 0 525.3px,#fa4f00 0 532.6px,#f93c00 0 547.2px,#fb3100 0 561.8px,#f93900 0 576.4px,#f84100 0 583.7px,#fa4d00 0 591px,#fd6000 0 598.3px,#ff6f00 0 605.6px,#ff7700 0 612.9px,#ff7f00 0 627.5px,#ff8700 0 642px,#ff9000 0 649.3px,#ff9a00 0 656.6px,#ffa200 0 660.3px,#ffad00 0 663.9px,#ffb700 0 667.6px,#ffc100 0 671.2px,#fdc800 0 674.9px,#fbce00 0 678.5px,#f9d400 0 682.2px,#f7da00 0 689.5px,#f3e200 0 696.8px,#efe800 0 711.4px,#f6dc00 0 715px,#fdc900 0 718.7px,#ffa500 0 722.3px,#fc5800 0 726px,#ff0000 0 729.6px)"></i>
<i style="left:2407px;width:4px;background:linear-gradient(#009b1c 14.6px,#009a13 0 29.2px,#009907 0 73px,#009b00 0 160.5px,#00a300 0 182.4px,#00ab00 0 204.3px,#00b300 0 248.1px,#00c000 0 291.8px,#00cc00 0 321px,#00dc00 0 335.6px,#00e600 0 350.2px,#00ee00 0 364.8px,#00f700 0 379.4px,#2cfa00 0 394px,#9ef800 0 408.6px,#c4f200 0 419.5px,#e5eb00 0 437.8px,#f4e000 0 445.1px,#f8d700 0 452.4px,#fbce00 0 459.6px,#fec500 0 466.9px,#ffbb00 0 474.2px,#ffb200 0 481.5px,#ffa800 0 488.8px,#ff9f00 0 496.1px,#ff9500 0 503.4px,#ff7e00 0 510.7px,#fd6500 0 518px,#f84300 0 525.3px,#fb2e00 0 532.6px,#fd2100 0 547.2px,#ff1500 0 591px,#fd2200 0 598.3px,#fc2b00 0 605.6px,#fa3200 0 612.9px,#f93900 0 620.2px,#f84000 0 627.5px,#f94800 0 634.8px,#fa5000 0 642px,#fd6200 0 649.3px,#ff7800 0 656.6px,#ff8c00 0 660.3px,#ff9c00 0 663.9px,#ffa500 0 667.6px,#ffad00 0 674.9px,#ffbb00 0 678.5px,#fec200 0 685.8px,#fbcc00 0 696.8px,#f9d600 0 711.4px,#fdc600 0 715px,#ffad00 0 718.7px,#fb5600 0 722.3px,#fb0000 0 726px,#e30000 0 729.6px)"></i>
<i style="left:2411px;width:3px;background:linear-gradient(#009d31 14.6px,#009c25 0 29.2px,#009a15 0 51.1px,#009803 0 116.7px,#009e00 0 160.5px,#00a600 0 182.4px,#00af00 0 204.3px,#00b800 0 226.2px,#00c000 0 248.1px,#00c800 0 291.8px,#00d500 0 321px,#00e400 0 335.6px,#00ec00 0 350.2px,#00f500 0 364.8px,#00fe00 0 379.4px,#5efa00 0 394px,#b1f600 0 408.6px,#d1f000 0 419.5px,#f0e800 0 437.8px,#f7d900 0 445.1px,#fad000 0 452.4px,#fdc700 0 459.6px,#ffbd00 0 466.9px,#ffb300 0 474.2px,#ffa900 0 481.5px,#ff9f00 0 488.8px,#ff9100 0 496.1px,#ff7a00 0 503.4px,#fc5b00 0 510.7px,#f93b00 0 518px,#fc2700 0 525.3px,#ff1600 0 532.6px,#ff0b00 0 569.1px,#ff0200 0 591px,#ff1a00 0 598.3px,#fc2900 0 605.6px,#fa3400 0 612.9px,#f83f00 0 620.2px,#fa4f00 0 627.5px,#fd6000 0 634.8px,#ff7000 0 642px,#ff7f00 0 649.3px,#ff9500 0 656.6px,#ff9e00 0 663.9px,#ffaa00 0 671.2px,#ffb600 0 678.5px,#fec400 0 685.8px,#fbce00 0 693.1px,#f9d400 0 711.4px,#fdc500 0 715px,#ffab00 0 718.7px,#f94400 0 722.3px,#f70000 0 726px,#e00000 0 729.6px)"></i>
<i style="left:2414px;width:4px;background:linear-gradient(#009b00 116.7px,#00a300 0 182.4px,#00b100 0 226.2px,#00be00 0 270px,#00ca00 0 306.4px,#00d400 0 321px,#00e000 0 335.6px,#00ea00 0 350.2px,#00f300 0 364.8px,#00fc00 0 379.4px,#56fa00 0 394px,#b1f600 0 408.6px,#d2ef00 0 419.5px,#f1e700 0 437.8px,#f8d700 0 445.1px,#fbce00 0 452.4px,#fec400 0 459.6px,#ffba00 0 466.9px,#ffae00 0 474.2px,#ffa500 0 481.5px,#ff9b00 0 488.8px,#ff8800 0 496.1px,#ff7300 0 503.4px,#fb5200 0 510.7px,#f93800 0 518px,#fd2500 0 525.3px,#ff1500 0 532.6px,#ff0c00 0 591px,#fc2700 0 598.3px,#fa3700 0 605.6px,#f94600 0 612.9px,#fc5c00 0 620.2px,#ff6e00 0 627.5px,#ff7700 0 634.8px,#ff8000 0 642px,#ff8e00 0 649.3px,#ff9c00 0 660.3px,#ffa900 0 667.6px,#ffb400 0 674.9px,#ffc100 0 682.2px,#fccc00 0 689.5px,#fad300 0 700.4px,#f8d900 0 711.4px,#fdc700 0 715px,#ffac00 0 718.7px,#f94a00 0 722.3px,#f80000 0 726px,#e00000 0 729.6px)"></i>
<i style="left:2418px;width:4px;background:linear-gradient(#009a17 14.6px,#00990e 0 29.2px,#009804 0 94.8px,#009c00 0 182.4px,#00a900 0 226.2px,#00b700 0 270px,#00c300 0 306.4px,#00d100 0 321px,#00de00 0 335.6px,#00e900 0 350.2px,#00f400 0 364.8px,#00fe00 0 379.4px,#74fa00 0 394px,#bcf400 0 408.6px,#deec00 0 419.5px,#f5de00 0 437.8px,#fbcd00 0 445.1px,#fec200 0 452.4px,#ffb600 0 459.6px,#ffaa00 0 466.9px,#ff9d00 0 474.2px,#ff8700 0 481.5px,#fe6900 0 488.8px,#f84000 0 496.1px,#fc2a00 0 503.4px,#ff1500 0 510.7px,#fe0000 0 525.3px,#f10000 0 576.4px,#e90000 0 598.3px,#f30000 0 620.2px,#fb0000 0 634.8px,#ff0a00 0 642px,#fe1c00 0 649.3px,#fb3000 0 656.6px,#f94900 0 660.3px,#ff6f00 0 663.9px,#ff8600 0 667.6px,#ff9a00 0 671.2px,#ffa200 0 674.9px,#ffab00 0 682.2px,#ffba00 0 689.5px,#fec300 0 696.8px,#fcca00 0 711.4px,#ffbc00 0 715px,#ffa100 0 718.7px,#fb2d00 0 722.3px,#f10000 0 726px,#dd0000 0 729.6px)"></i>
<i style="left:2422px;width:3px;background:linear-gradient(#00a154 14.6px,#009f4a 0 29.2px,#009e3b 0 51.1px,#009c2a 0 73px,#009b19 0 94.8px,#00990b 0 116.7px,#009800 0 182.4px,#00a300 0 204.3px,#00ac00 0 226.2px,#00b400 0 270px,#00c300 0 306.4px,#00d000 0 321px,#00dd00 0 335.6px,#00e800 0 350.2px,#00f200 0 364.8px,#00fc00 0 379.4px,#5afa00 0 394px,#b3f600 0 408.6px,#d6ef00 0 419.5px,#f2e400 0 437.8px,#f9d300 0 445.1px,#fcc900 0 452.4px,#ffbf00 0 459.6px,#ffb300 0 466.9px,#ffa700 0 474.2px,#ff9d00 0 481.5px,#ff8900 0 488.8px,#ff7000 0 496.1px,#fa4c00 0 503.4px,#fa3200 0 510.7px,#fe1e00 0 518px,#ff0800 0 525.3px,#fb0000 0 547.2px,#f20000 0 605.6px,#fa0000 0 634.8px,#ff0300 0 642px,#ff0e00 0 649.3px,#fe1e00 0 656.6px,#fb3100 0 660.3px,#fa5000 0 663.9px,#ff7500 0 667.6px,#ff8e00 0 671.2px,#ff9d00 0 674.9px,#ffa500 0 682.2px,#ffb300 0 689.5px,#ffbc00 0 696.8px,#fec300 0 711.4px,#ffb200 0 715px,#ff9400 0 718.7px,#ff1200 0 722.3px,#e80000 0 726px,#da0000 0 729.6px)"></i>
<i style="left:2425px;width:4px;background:linear-gradient(#009d35 14.6px,#009c2a 0 29.2px,#009b1b 0 51.1px,#00990a 0 73px,#009900 0 160.5px,#00a200 0 182.4px,#00ab00 0 204.3px,#00b400 0 248.1px,#00c300 0 291.8px,#00d000 0 321px,#00e100 0 335.6px,#00ea00 0 350.2px,#00f200 0 364.8px,#00fb00 0 379.4px,#50fa00 0 394px,#aef700 0 408.6px,#cff000 0 419.5px,#efe800 0 437.8px,#f7d900 0 445.1px,#fad000 0 452.4px,#fdc700 0 459.6px,#ffbd00 0 466.9px,#ffb200 0 474.2px,#ffa900 0 481.5px,#ffa000 0 488.8px,#ff9500 0 496.1px,#ff8100 0 503.4px,#fe6a00 0 510.7px,#fa4b00 0 518px,#fa3400 0 525.3px,#fe1f00 0 532.6px,#ff0e00 0 539.9px,#ff0400 0 591px,#ff0d00 0 598.3px,#ff1500 0 612.9px,#fe1f00 0 642px,#fc2800 0 649.3px,#fa3400 0 656.6px,#fa4c00 0 660.3px,#ff7700 0 663.9px,#ff9300 0 667.6px,#ffa000 0 671.2px,#ffa900 0 678.5px,#ffb700 0 685.8px,#fec300 0 693.1px,#fcc900 0 711.4px,#ffbe00 0 715px,#ffa500 0 718.7px,#f93a00 0 722.3px,#f50000 0 726px,#de0000 0 729.6px)"></i>
<i style="left:2429px;width:4px;background:linear-gradient(#009c2b 14.6px,#009b1c 0 29.2px,#009909 0 51.1px,#009a00 0 116.7px,#00a300 0 160.5px,#00b000 0 182.4px,#00ba00 0 204.3px,#00c500 0 226.2px,#00ce00 0 248.1px,#00d600 0 270px,#00df00 0 306.4px,#00e800 0 321px,#00f100 0 335.6px,#00fa00 0 350.2px,#10fd00 0 364.8px,#40fa00 0 379.4px,#a6f800 0 394px,#d0f000 0 408.6px,#ece900 0 419.5px,#f8d800 0 437.8px,#fdc800 0 445.1px,#ffbf00 0 452.4px,#ffb400 0 459.6px,#ffa900 0 466.9px,#ff9c00 0 474.2px,#ff8b00 0 481.5px,#ff7400 0 488.8px,#fb5600 0 496.1px,#f93c00 0 503.4px,#fc2b00 0 510.7px,#fe1c00 0 518px,#ff0a00 0 525.3px,#fb0000 0 539.9px,#f30000 0 605.6px,#fc0000 0 649.3px,#ff1000 0 656.6px,#fd2600 0 660.3px,#f94a00 0 663.9px,#ff7a00 0 667.6px,#ff9900 0 671.2px,#ffa300 0 674.9px,#ffab00 0 678.5px,#ffb300 0 685.8px,#ffc000 0 693.1px,#fdc700 0 711.4px,#ffbe00 0 715px,#ffa700 0 718.7px,#f84300 0 722.3px,#f80000 0 726px,#e00000 0 729.6px)"></i>
<i style="left:2433px;width:3px;background:linear-gradient(#009a17 14.6px,#00990d 0 29.2px,#009800 0 138.6px,#00a000 0 182.4px,#00ae00 0 204.3px,#00b600 0 248.1px,#00c400 0 291.8px,#00d100 0 321px,#00e300 0 335.6px,#00ec00 0 350.2px,#00f600 0 364.8px,#02ff00 0 379.4px,#74fa00 0 394px,#baf400 0 408.6px,#dbed00 0 419.5px,#f3e100 0 437.8px,#fad100 0 445.1px,#fdc700 0 452.4px,#ffbd00 0 459.6px,#ffb100 0 466.9px,#ffa500 0 474.2px,#ff9b00 0 481.5px,#ff8500 0 488.8px,#fe6b00 0 496.1px,#f94700 0 503.4px,#fb3000 0 510.7px,#fe1d00 0 518px,#ff0700 0 525.3px,#f90000 0 539.9px,#ef0000 0 656.6px,#fd0000 0 660.3px,#fe1f00 0 663.9px,#f83f00 0 667.6px,#ff7300 0 671.2px,#ff9000 0 674.9px,#ff9e00 0 678.5px,#ffa600 0 682.2px,#ffae00 0 689.5px,#ffb900 0 696.8px,#fec200 0 711.4px,#ffb500 0 715px,#ff9e00 0 718.7px,#fc2b00 0 722.3px,#f10000 0 726px,#dd0000 0 729.6px)"></i>
<i style="left:2436px;width:4px;background:linear-gradient(#009b00 73px,#00a500 0 116.7px,#00ad00 0 160.5px,#00b700 0 182.4px,#00c000 0 204.3px,#00c900 0 226.2px,#00d100 0 248.1px,#00d900 0 291.8px,#00e500 0 321px,#00f200 0 335.6px,#00fb00 0 350.2px,#19fc00 0 364.8px,#54fa00 0 379.4px,#adf700 0 394px,#d6ef00 0 408.6px,#f1e700 0 419.5px,#f9d400 0 437.8px,#fec300 0 445.1px,#ffb900 0 452.4px,#ffae00 0 459.6px,#ffa200 0 466.9px,#ff9000 0 474.2px,#ff7600 0 481.5px,#fa4e00 0 488.8px,#fb3200 0 496.1px,#fe1e00 0 503.4px,#ff0700 0 510.7px,#fb0000 0 525.3px,#ee0000 0 539.9px,#e60000 0 627.5px,#f00000 0 649.3px,#fe0000 0 656.6px,#ff1900 0 660.3px,#f93800 0 663.9px,#fe6700 0 667.6px,#ff8a00 0 671.2px,#ff9e00 0 674.9px,#ffa700 0 678.5px,#ffb000 0 682.2px,#ffb800 0 689.5px,#fec300 0 696.8px,#fccc00 0 711.4px,#fec200 0 715px,#ffac00 0 718.7px,#fc5b00 0 722.3px,#fd0000 0 726px,#e60000 0 729.6px)"></i>
<i style="left:2440px;width:4px;background:linear-gradient(#009d31 14.6px,#009c24 0 29.2px,#009a15 0 51.1px,#009802 0 116.7px,#009e00 0 160.5px,#00a600 0 182.4px,#00b000 0 204.3px,#00b900 0 226.2px,#00c100 0 248.1px,#00c900 0 291.8px,#00d600 0 321px,#00e400 0 335.6px,#00ed00 0 350.2px,#00f500 0 364.8px,#00fe00 0 379.4px,#5dfa00 0 394px,#b0f600 0 408.6px,#d1f000 0 419.5px,#efe800 0 437.8px,#f7da00 0 445.1px,#fad100 0 452.4px,#fdc800 0 459.6px,#ffbf00 0 466.9px,#ffb400 0 474.2px,#ffab00 0 481.5px,#ffa100 0 488.8px,#ff9800 0 496.1px,#ff8300 0 503.4px,#fe6c00 0 510.7px,#fa4a00 0 518px,#fa3300 0 525.3px,#fe1f00 0 532.6px,#ff1000 0 547.2px,#ff0100 0 591px,#ff1100 0 598.3px,#fe1b00 0 605.6px,#fd2200 0 612.9px,#fc2900 0 627.5px,#fa3300 0 642px,#f84100 0 649.3px,#fc5c00 0 656.6px,#ff7800 0 660.3px,#ff9200 0 663.9px,#ff9f00 0 667.6px,#ffa800 0 671.2px,#ffb000 0 678.5px,#ffbe00 0 682.2px,#fec500 0 689.5px,#fbcc00 0 696.8px,#fad300 0 711.4px,#fec400 0 715px,#ffac00 0 718.7px,#fa5000 0 722.3px,#fa0000 0 726px,#e20000 0 729.6px)"></i>
<i style="left:2444px;width:3px;background:linear-gradient(#009b1e 14.6px,#009a12 0 29.2px,#009805 0 73px,#009b00 0 160.5px,#00a700 0 182.4px,#00b000 0 204.3px,#00b900 0 248.1px,#00c700 0 291.8px,#00d500 0 321px,#00e700 0 335.6px,#00f100 0 350.2px,#00fb00 0 364.8px,#1ffc00 0 379.4px,#93f900 0 394px,#cbf100 0 408.6px,#e9ea00 0 419.5px,#f8d800 0 437.8px,#fdc600 0 445.1px,#ffbb00 0 452.4px,#ffaf00 0 459.6px,#ffa300 0 466.9px,#ff9100 0 474.2px,#ff7500 0 481.5px,#fa4c00 0 488.8px,#fb3000 0 496.1px,#fe1c00 0 503.4px,#ff0500 0 510.7px,#fa0000 0 525.3px,#ee0000 0 605.6px,#f70000 0 627.5px,#ff0e00 0 634.8px,#fe1e00 0 642px,#fa3200 0 649.3px,#fb5300 0 656.6px,#ff7800 0 660.3px,#ff9200 0 663.9px,#ff9f00 0 667.6px,#ffa800 0 671.2px,#ffb100 0 674.9px,#ffb900 0 678.5px,#ffc100 0 682.2px,#fdc800 0 685.8px,#fbce00 0 693.1px,#f8d600 0 700.4px,#f6dc00 0 711.4px,#fbcf00 0 715px,#ffb900 0 718.7px,#ff8700 0 722.3px,#fe2000 0 726px,#f10000 0 729.6px)"></i>
<i style="left:2447px;width:4px;background:linear-gradient(#009e39 14.6px,#009d2e 0 29.2px,#009b21 0 51.1px,#009a11 0 73px,#009803 0 160.5px,#009f00 0 182.4px,#00a700 0 204.3px,#00af00 0 226.2px,#00b700 0 270px,#00c400 0 306.4px,#00d000 0 321px,#00dc00 0 335.6px,#00e600 0 350.2px,#00f000 0 364.8px,#00f900 0 379.4px,#3ffa00 0 394px,#aaf800 0 408.6px,#cdf100 0 419.5px,#ede900 0 437.8px,#f7da00 0 445.1px,#fad100 0 452.4px,#fdc700 0 459.6px,#ffbd00 0 466.9px,#ffb100 0 474.2px,#ffa800 0 481.5px,#ff9f00 0 488.8px,#ff9200 0 496.1px,#ff7c00 0 503.4px,#fd6200 0 510.7px,#f84100 0 518px,#fb2e00 0 525.3px,#fe1f00 0 532.6px,#ff1800 0 591px,#fa3200 0 598.3px,#f94400 0 605.6px,#fc5a00 0 612.9px,#ff7000 0 620.2px,#ff7b00 0 634.8px,#ff8a00 0 642px,#ff9800 0 656.6px,#ffa600 0 663.9px,#ffb100 0 671.2px,#ffbc00 0 678.5px,#fdc800 0 685.8px,#fad100 0 693.1px,#f8d700 0 711.4px,#fdc700 0 715px,#ffac00 0 718.7px,#f94a00 0 722.3px,#f80000 0 726px,#e00000 0 729.6px)"></i>
<i style="left:2451px;width:4px;background:linear-gradient(#009e3f 14.6px,#009d34 0 29.2px,#009c26 0 51.1px,#009a15 0 73px,#009905 0 138.6px,#009d00 0 182.4px,#00a800 0 204.3px,#00b100 0 248.1px,#00bf00 0 291.8px,#00cd00 0 321px,#00dd00 0 335.6px,#00e700 0 350.2px,#00f000 0 364.8px,#00f900 0 379.4px,#38fa00 0 394px,#a7f800 0 408.6px,#c9f100 0 419.5px,#eaea00 0 437.8px,#f6dd00 0 445.1px,#f9d400 0 452.4px,#fcca00 0 459.6px,#ffc100 0 466.9px,#ffb600 0 474.2px,#ffad00 0 481.5px,#ffa400 0 488.8px,#ff9c00 0 496.1px,#ff8e00 0 503.4px,#ff7a00 0 510.7px,#fd6200 0 518px,#f84300 0 525.3px,#fa3400 0 583.7px,#f93b00 0 591px,#fc5d00 0 598.3px,#ff7700 0 605.6px,#ff8500 0 612.9px,#ff9400 0 627.5px,#ff9d00 0 649.3px,#ffaa00 0 660.3px,#ffb500 0 667.6px,#ffbf00 0 674.9px,#fcca00 0 682.2px,#f9d400 0 689.5px,#f7da00 0 696.8px,#f4df00 0 707.7px,#f7da00 0 711.4px,#fbcd00 0 715px,#ffb300 0 718.7px,#fe6900 0 722.3px,#fe0000 0 726px,#e50000 0 729.6px)"></i>
<i style="left:2455px;width:3px;background:linear-gradient(#00a052 14.6px,#009f46 0 29.2px,#009d37 0 51.1px,#009c24 0 73px,#009a13 0 94.8px,#009803 0 160.5px,#009f00 0 204.3px,#00b000 0 226.2px,#00b800 0 270px,#00c700 0 306.4px,#00d300 0 321px,#00e000 0 335.6px,#00e900 0 350.2px,#00f300 0 364.8px,#00fc00 0 379.4px,#5afa00 0 394px,#b2f600 0 408.6px,#d4ef00 0 419.5px,#f1e600 0 437.8px,#f9d600 0 445.1px,#fccc00 0 452.4px,#fec200 0 459.6px,#ffb700 0 466.9px,#ffac00 0 474.2px,#ffa200 0 481.5px,#ff9700 0 488.8px,#ff7f00 0 496.1px,#fd6400 0 503.4px,#f84000 0 510.7px,#fb2d00 0 518px,#ff1a00 0 525.3px,#ff0700 0 532.6px,#fe0000 0 591px,#ff0b00 0 598.3px,#ff1800 0 605.6px,#fe2000 0 612.9px,#fc2800 0 620.2px,#fb3100 0 627.5px,#f93a00 0 634.8px,#f94400 0 642px,#fd5f00 0 649.3px,#ff7d00 0 656.6px,#ff9800 0 663.9px,#ffa600 0 671.2px,#ffb400 0 678.5px,#ffc100 0 682.2px,#fdc700 0 689.5px,#fbcf00 0 696.8px,#f9d500 0 711.4px,#fec500 0 715px,#ffab00 0 718.7px,#f94500 0 722.3px,#f80000 0 726px,#e00000 0 729.6px)"></i>
<i style="left:2458px;width:4px;background:linear-gradient(#009d2e 14.6px,#009b23 0 29.2px,#009a16 0 51.1px,#009906 0 94.8px,#009b00 0 182.4px,#00aa00 0 204.3px,#00b200 0 248.1px,#00c000 0 291.8px,#00cd00 0 321px,#00df00 0 335.6px,#00e800 0 350.2px,#00f100 0 364.8px,#00fb00 0 379.4px,#4bfa00 0 394px,#adf700 0 408.6px,#cff000 0 419.5px,#efe800 0 437.8px,#f8d900 0 445.1px,#facf00 0 452.4px,#fdc600 0 459.6px,#ffbc00 0 466.9px,#ffb000 0 474.2px,#ffa700 0 481.5px,#ff9c00 0 488.8px,#ff8800 0 496.1px,#ff7000 0 503.4px,#f94900 0 510.7px,#fb3000 0 518px,#fe1b00 0 525.3px,#ff0700 0 532.6px,#fe0000 0 627.5px,#ff0900 0 634.8px,#ff1400 0 642px,#fd2500 0 649.3px,#f83d00 0 656.6px,#ff7200 0 660.3px,#ff8900 0 663.9px,#ff9a00 0 667.6px,#ffa200 0 671.2px,#ffaa00 0 678.5px,#ffb800 0 685.8px,#fec400 0 693.1px,#fccb00 0 711.4px,#ffbf00 0 715px,#ffa400 0 718.7px,#fa3300 0 722.3px,#f20000 0 726px,#de0000 0 729.6px)"></i>
<i style="left:2462px;width:4px;background:linear-gradient(#00a46d 14.6px,#00a362 0 29.2px,#00a154 0 51.1px,#009e3f 0 73px,#009c29 0 94.8px,#009a15 0 116.7px,#009801 0 182.4px,#00a600 0 204.3px,#00b100 0 226.2px,#00ba00 0 248.1px,#00c300 0 270px,#00cc00 0 306.4px,#00d700 0 321px,#00e100 0 335.6px,#00ea00 0 350.2px,#00f200 0 364.8px,#00fb00 0 379.4px,#47fa00 0 394px,#abf700 0 408.6px,#cbf100 0 419.5px,#ebe900 0 437.8px,#f6dc00 0 445.1px,#f9d400 0 452.4px,#fcca00 0 459.6px,#ffc100 0 466.9px,#ffb700 0 474.2px,#ffae00 0 481.5px,#ffa500 0 488.8px,#ff9d00 0 496.1px,#ff9000 0 503.4px,#ff7c00 0 510.7px,#fd6400 0 518px,#f94500 0 525.3px,#fa3500 0 532.6px,#fb2e00 0 598.3px,#fa3500 0 620.2px,#f83e00 0 627.5px,#f94900 0 634.8px,#fb5500 0 642px,#ff7100 0 649.3px,#ff8c00 0 656.6px,#ffa200 0 660.3px,#ffab00 0 663.9px,#ffb300 0 671.2px,#ffc100 0 674.9px,#fdc700 0 682.2px,#fad200 0 689.5px,#f7da00 0 696.8px,#f3e200 0 711.4px,#fad200 0 715px,#ffbd00 0 718.7px,#ff8b00 0 722.3px,#fe1f00 0 726px,#f00000 0 729.6px)"></i>
<i style="left:2466px;width:3px;background:linear-gradient(#00a154 14.6px,#009f48 0 29.2px,#009e38 0 51.1px,#009c24 0 73px,#009a12 0 94.8px,#009802 0 160.5px,#009f00 0 182.4px,#00a800 0 204.3px,#00b100 0 226.2px,#00b900 0 248.1px,#00c100 0 270px,#00c900 0 306.4px,#00d400 0 321px,#00e000 0 335.6px,#00e900 0 350.2px,#00f100 0 364.8px,#00fa00 0 379.4px,#44fa00 0 394px,#abf700 0 408.6px,#ccf100 0 419.5px,#ece900 0 437.8px,#f6dc00 0 445.1px,#fad200 0 452.4px,#fcc900 0 459.6px,#ffc000 0 466.9px,#ffb500 0 474.2px,#ffac00 0 481.5px,#ffa400 0 488.8px,#ff9b00 0 496.1px,#ff8e00 0 503.4px,#ff7a00 0 510.7px,#fd6300 0 518px,#f94600 0 525.3px,#fa3600 0 591px,#f93d00 0 605.6px,#f94500 0 620.2px,#fa5000 0 634.8px,#fc5c00 0 642px,#ff7100 0 649.3px,#ff8800 0 656.6px,#ffa000 0 660.3px,#ffa900 0 667.6px,#ffb600 0 674.9px,#fec300 0 682.2px,#fbcd00 0 689.5px,#f9d400 0 696.8px,#f7db00 0 707.7px,#f9d500 0 711.4px,#fcc900 0 715px,#ffb100 0 718.7px,#fd6100 0 722.3px,#fc0000 0 726px,#e40000 0 729.6px)"></i>
<i style="left:2469px;width:4px;background:linear-gradient(#009e3c 14.6px,#009d33 0 29.2px,#009c28 0 51.1px,#009b1a 0 73px,#00990e 0 94.8px,#009804 0 160.5px,#009d00 0 204.3px,#00a900 0 248.1px,#00b500 0 291.8px,#00c200 0 321px,#00d400 0 335.6px,#00e000 0 350.2px,#00ea00 0 364.8px,#00f400 0 379.4px,#1ffc00 0 394px,#96f900 0 408.6px,#c2f300 0 419.5px,#e5eb00 0 437.8px,#f5df00 0 445.1px,#f9d600 0 452.4px,#fccc00 0 459.6px,#fec200 0 466.9px,#ffb700 0 474.2px,#ffae00 0 481.5px,#ffa500 0 488.8px,#ff9c00 0 496.1px,#ff8f00 0 503.4px,#ff7b00 0 510.7px,#fd6200 0 518px,#f84300 0 525.3px,#fb3000 0 532.6px,#fd2500 0 547.2px,#fe1d00 0 598.3px,#fd2600 0 620.2px,#fb2d00 0 634.8px,#fa3500 0 642px,#f84200 0 649.3px,#fd6400 0 656.6px,#ff8a00 0 660.3px,#ff9d00 0 663.9px,#ffa700 0 667.6px,#ffb000 0 671.2px,#ffb800 0 678.5px,#fdc500 0 685.8px,#fad000 0 693.1px,#f8d700 0 711.4px,#fbcc00 0 715px,#ffb700 0 718.7px,#ff7e00 0 722.3px,#ff1300 0 726px,#ec0000 0 729.6px)"></i>
<i style="left:2473px;width:4px;background:linear-gradient(#009e38 14.6px,#009d2d 0 29.2px,#009b20 0 51.1px,#009a11 0 73px,#009803 0 160.5px,#009f00 0 204.3px,#00af00 0 248.1px,#00bd00 0 291.8px,#00ca00 0 321px,#00dd00 0 335.6px,#00e700 0 350.2px,#00f100 0 364.8px,#00fb00 0 379.4px,#53fa00 0 394px,#b1f600 0 408.6px,#d3ef00 0 419.5px,#f1e500 0 437.8px,#f9d500 0 445.1px,#fccb00 0 452.4px,#ffc100 0 459.6px,#ffb600 0 466.9px,#ffaa00 0 474.2px,#ffa000 0 481.5px,#ff9500 0 488.8px,#ff7f00 0 496.1px,#fe6700 0 503.4px,#f94700 0 510.7px,#fa3200 0 518px,#fd2100 0 525.3px,#ff0900 0 532.6px,#fc0000 0 634.8px,#ff0500 0 642px,#ff1000 0 649.3px,#fe2000 0 656.6px,#f93a00 0 660.3px,#fe6c00 0 663.9px,#ff8d00 0 667.6px,#ffa000 0 671.2px,#ffaa00 0 678.5px,#ffb900 0 685.8px,#fdc600 0 693.1px,#fbcd00 0 711.4px,#fec500 0 715px,#ffaf00 0 718.7px,#fe6800 0 722.3px,#ff0000 0 726px,#e70000 0 729.6px)"></i>
<i style="left:2477px;width:3px;background:linear-gradient(#009f48 14.6px,#009e39 0 29.2px,#009c27 0 51.1px,#009a11 0 73px,#009800 0 160.5px,#00a600 0 182.4px,#00b000 0 204.3px,#00bb00 0 226.2px,#00c300 0 248.1px,#00cc00 0 270px,#00d400 0 306.4px,#00df00 0 321px,#00e800 0 335.6px,#00f000 0 350.2px,#00f900 0 364.8px,#0bfe00 0 379.4px,#77fa00 0 394px,#b9f500 0 408.6px,#d8ee00 0 419.5px,#f2e400 0 437.8px,#f9d500 0 445.1px,#fbcc00 0 452.4px,#fec300 0 459.6px,#ffb900 0 466.9px,#ffae00 0 474.2px,#ffa400 0 481.5px,#ff9900 0 488.8px,#ff8000 0 496.1px,#fd6200 0 503.4px,#f93d00 0 510.7px,#fc2700 0 518px,#ff1000 0 525.3px,#fa0000 0 539.9px,#ee0000 0 576.4px,#e60000 0 649.3px,#ee0000 0 656.6px,#f60000 0 660.3px,#ff0700 0 663.9px,#fc2a00 0 667.6px,#fb5200 0 671.2px,#ff7b00 0 674.9px,#ff9300 0 678.5px,#ff9f00 0 682.2px,#ffa800 0 689.5px,#ffb400 0 696.8px,#ffbd00 0 711.4px,#ffb100 0 715px,#ff9a00 0 718.7px,#fd2200 0 722.3px,#ee0000 0 726px,#dc0000 0 729.6px)"></i>
<i style="left:2480px;width:4px;background:linear-gradient(#009801 73px,#009f00 0 138.6px,#00a800 0 182.4px,#00b600 0 204.3px,#00be00 0 226.2px,#00c600 0 270px,#00d400 0 306.4px,#00de00 0 321px,#00e600 0 335.6px,#00ee00 0 350.2px,#00f600 0 364.8px,#00fe00 0 379.4px,#58fa00 0 394px,#aff700 0 408.6px,#cff000 0 419.5px,#ede900 0 437.8px,#f6db00 0 445.1px,#fad200 0 452.4px,#fcc900 0 459.6px,#ffbf00 0 466.9px,#ffb400 0 474.2px,#ffac00 0 481.5px,#ffa100 0 488.8px,#ff9700 0 496.1px,#ff8000 0 503.4px,#fd6500 0 510.7px,#f84100 0 518px,#fb2c00 0 525.3px,#ff1300 0 532.6px,#fe0000 0 561.8px,#f60000 0 649.3px,#ff0500 0 656.6px,#fe1c00 0 660.3px,#f93700 0 663.9px,#fd6100 0 667.6px,#ff8300 0 671.2px,#ff9a00 0 674.9px,#ffa200 0 678.5px,#ffaa00 0 685.8px,#ffb600 0 693.1px,#ffbe00 0 711.4px,#ffb100 0 715px,#ff9700 0 718.7px,#ff1900 0 722.3px,#ea0000 0 726px,#da0000 0 729.6px)"></i>
<i style="left:2484px;width:4px;background:linear-gradient(#00a04d 14.6px,#009e3c 0 29.2px,#009c26 0 51.1px,#00990b 0 73px,#009900 0 138.6px,#00a200 0 182.4px,#00b200 0 204.3px,#00bc00 0 226.2px,#00c600 0 248.1px,#00d000 0 270px,#00db00 0 306.4px,#00e500 0 335.6px,#00f300 0 364.8px,#0ffd00 0 379.4px,#62fa00 0 394px,#b3f600 0 408.6px,#d1f000 0 419.5px,#efe800 0 437.8px,#f7d900 0 445.1px,#fad000 0 452.4px,#fdc600 0 459.6px,#ffbb00 0 466.9px,#ffb000 0 474.2px,#ffa700 0 481.5px,#ff9e00 0 488.8px,#ff9200 0 496.1px,#ff7e00 0 503.4px,#fe6700 0 510.7px,#f94900 0 518px,#fa3400 0 525.3px,#fd2200 0 532.6px,#ff1800 0 591px,#fb2d00 0 598.3px,#f93900 0 605.6px,#f94400 0 612.9px,#fb5500 0 620.2px,#fc5e00 0 642px,#fe6c00 0 649.3px,#ff7900 0 656.6px,#ff8a00 0 660.3px,#ff9b00 0 663.9px,#ffa300 0 671.2px,#ffb100 0 678.5px,#ffbd00 0 685.8px,#fdc700 0 696.8px,#fbce00 0 707.7px,#fdc800 0 711.4px,#ffbb00 0 715px,#ffa000 0 718.7px,#fc2800 0 722.3px,#ee0000 0 726px,#dc0000 0 729.6px)"></i>
<i style="left:2488px;width:3px;background:linear-gradient(#00a261 14.6px,#00a156 0 29.2px,#009f45 0 51.1px,#009d2f 0 73px,#009b1f 0 94.8px,#009a10 0 116.7px,#009802 0 182.4px,#009f00 0 204.3px,#00a700 0 226.2px,#00b000 0 248.1px,#00b900 0 270px,#00c300 0 291.8px,#00cb00 0 321px,#00dc00 0 335.6px,#00e700 0 350.2px,#00f000 0 364.8px,#00fa00 0 379.4px,#24fb00 0 394px,#a3f800 0 408.6px,#c8f200 0 419.5px,#ebe900 0 437.8px,#f8d900 0 445.1px,#fbcd00 0 452.4px,#ffc100 0 459.6px,#ffb400 0 466.9px,#ffa600 0 474.2px,#ff9b00 0 481.5px,#ff8700 0 488.8px,#ff6f00 0 496.1px,#fa4d00 0 503.4px,#fa3400 0 510.7px,#fd2200 0 518px,#ff0e00 0 525.3px,#fe0000 0 591px,#ff1700 0 598.3px,#fc2800 0 605.6px,#fa3500 0 612.9px,#f84300 0 620.2px,#fb5400 0 627.5px,#fc5f00 0 634.8px,#fe6a00 0 642px,#ff7800 0 649.3px,#ff8a00 0 656.6px,#ff9900 0 663.9px,#ffa500 0 671.2px,#ffb000 0 678.5px,#ffbd00 0 685.8px,#fdc600 0 696.8px,#fbce00 0 707.7px,#fdc800 0 711.4px,#ffba00 0 715px,#ff9d00 0 718.7px,#fe1c00 0 722.3px,#eb0000 0 726px,#da0000 0 729.6px)"></i>
<i style="left:2491px;width:4px;background:linear-gradient(#009d2e 14.6px,#009b21 0 29.2px,#009a11 0 51.1px,#009800 0 160.5px,#00a000 0 204.3px,#00ae00 0 226.2px,#00b600 0 248.1px,#00bf00 0 270px,#00c800 0 306.4px,#00d600 0 321px,#00df00 0 335.6px,#00e900 0 350.2px,#00f200 0 364.8px,#00fc00 0 379.4px,#2afb00 0 394px,#a7f800 0 408.6px,#caf100 0 419.5px,#ebe900 0 437.8px,#f8d900 0 445.1px,#fbcd00 0 452.4px,#fec200 0 459.6px,#ffb500 0 466.9px,#ffa700 0 474.2px,#ff9d00 0 481.5px,#ff8b00 0 488.8px,#ff7400 0 496.1px,#fb5600 0 503.4px,#f93900 0 510.7px,#fc2800 0 518px,#ff1600 0 525.3px,#ff0500 0 591px,#fd2300 0 598.3px,#fa3400 0 605.6px,#f84300 0 612.9px,#fc5a00 0 620.2px,#ff6e00 0 627.5px,#ff7800 0 634.8px,#ff8100 0 642px,#ff9000 0 649.3px,#ff9c00 0 660.3px,#ffaa00 0 667.6px,#ffb500 0 674.9px,#ffc100 0 678.5px,#fdc700 0 682.2px,#fbcd00 0 689.5px,#f9d400 0 700.4px,#f7da00 0 711.4px,#fdc800 0 715px,#ffae00 0 718.7px,#fb5100 0 722.3px,#fa0000 0 726px,#e20000 0 729.6px)"></i>
<i style="left:2495px;width:4px;background:linear-gradient(#00a050 14.6px,#009f42 0 29.2px,#009d30 0 51.1px,#009b1b 0 73px,#00990d 0 94.8px,#009800 0 182.4px,#00a100 0 204.3px,#00a900 0 226.2px,#00b200 0 248.1px,#00bb00 0 270px,#00c400 0 291.8px,#00cc00 0 321px,#00db00 0 335.6px,#00e500 0 350.2px,#00ee00 0 364.8px,#00f700 0 379.4px,#15fd00 0 394px,#91f900 0 408.6px,#bff300 0 419.5px,#e1ec00 0 437.8px,#f5df00 0 445.1px,#f9d400 0 452.4px,#fcc900 0 459.6px,#ffbd00 0 466.9px,#ffaf00 0 474.2px,#ffa600 0 481.5px,#ff9b00 0 488.8px,#ff8600 0 496.1px,#ff6e00 0 503.4px,#f94800 0 510.7px,#fb3000 0 518px,#fe1b00 0 525.3px,#ff0700 0 532.6px,#fe0000 0 591px,#ff0800 0 598.3px,#ff1900 0 605.6px,#fd2300 0 612.9px,#fb2e00 0 620.2px,#f93900 0 627.5px,#f94800 0 634.8px,#fc5d00 0 642px,#ff7600 0 649.3px,#ff8e00 0 656.6px,#ff9c00 0 663.9px,#ffaa00 0 671.2px,#ffb700 0 678.5px,#fec400 0 682.2px,#fcca00 0 689.5px,#fad300 0 696.8px,#f7d900 0 711.4px,#fcc900 0 715px,#ffb000 0 718.7px,#fd6000 0 722.3px,#fd0000 0 726px,#e50000 0 729.6px)"></i>
<i style="left:2499px;width:3px;background:linear-gradient(#009f4b 14.6px,#009e3e 0 29.2px,#009d2e 0 51.1px,#009b1a 0 73px,#00990e 0 94.8px,#009802 0 182.4px,#009f00 0 226.2px,#00ae00 0 248.1px,#00b700 0 270px,#00bf00 0 306.4px,#00cc00 0 321px,#00d400 0 335.6px,#00e000 0 350.2px,#00e800 0 364.8px,#00f100 0 379.4px,#00fc00 0 394px,#6dfa00 0 408.6px,#adf700 0 419.5px,#d2f000 0 437.8px,#efe800 0 445.1px,#f5de00 0 452.4px,#f9d400 0 459.6px,#fcc900 0 466.9px,#ffbd00 0 474.2px,#ffb400 0 481.5px,#ffaa00 0 488.8px,#ffa100 0 496.1px,#ff9800 0 503.4px,#ff8200 0 510.7px,#fe6a00 0 518px,#f94600 0 525.3px,#fa3300 0 532.6px,#fc2a00 0 561.8px,#fd2300 0 591px,#fa3500 0 598.3px,#f94600 0 605.6px,#fc5900 0 612.9px,#fe6c00 0 620.2px,#ff7700 0 634.8px,#ff8400 0 642px,#ff9000 0 649.3px,#ff9c00 0 660.3px,#ffa800 0 667.6px,#ffb200 0 674.9px,#ffbe00 0 682.2px,#fcc900 0 693.1px,#fad200 0 711.4px,#ffc100 0 715px,#ffa500 0 718.7px,#fb3100 0 722.3px,#f10000 0 726px,#dd0000 0 729.6px)"></i>
<i style="left:2502px;width:4px;background:linear-gradient(#00a25d 14.6px,#00a052 0 29.2px,#009e3f 0 51.1px,#009c27 0 73px,#009a16 0 94.8px,#009906 0 138.6px,#009b00 0 204.3px,#00ab00 0 226.2px,#00b400 0 248.1px,#00be00 0 270px,#00c800 0 291.8px,#00d000 0 321px,#00df00 0 335.6px,#00e800 0 350.2px,#00f100 0 364.8px,#00fb00 0 379.4px,#24fb00 0 394px,#a0f800 0 408.6px,#c6f200 0 419.5px,#e7ea00 0 437.8px,#f6db00 0 445.1px,#fad000 0 452.4px,#fec500 0 459.6px,#ffb800 0 466.9px,#ffab00 0 474.2px,#ffa200 0 481.5px,#ff9900 0 488.8px,#ff8400 0 496.1px,#ff7100 0 503.4px,#fb5300 0 510.7px,#f93a00 0 518px,#fc2a00 0 525.3px,#fe1d00 0 576.4px,#fd2600 0 583.7px,#fb2d00 0 591px,#f94600 0 598.3px,#fe6600 0 605.6px,#ff7a00 0 612.9px,#ff8900 0 620.2px,#ff9300 0 642px,#ff9d00 0 656.6px,#ffa900 0 663.9px,#ffb200 0 671.2px,#ffbd00 0 678.5px,#fdc700 0 685.8px,#fad000 0 696.8px,#f8d600 0 707.7px,#fad000 0 711.4px,#fec200 0 715px,#ffa600 0 718.7px,#fa3200 0 722.3px,#f10000 0 726px,#dd0000 0 729.6px)"></i>
<i style="left:2506px;width:4px;background:linear-gradient(#00a678 14.6px,#00a46c 0 29.2px,#00a25e 0 51.1px,#009f4a 0 73px,#009e37 0 94.8px,#009c26 0 116.7px,#009a15 0 138.6px,#009803 0 182.4px,#009e00 0 226.2px,#00ae00 0 248.1px,#00b800 0 270px,#00c300 0 291.8px,#00cb00 0 321px,#00d800 0 335.6px,#00e300 0 350.2px,#00eb00 0 364.8px,#00f400 0 379.4px,#00ff00 0 394px,#79fa00 0 408.6px,#b2f600 0 419.5px,#d6ef00 0 437.8px,#f1e600 0 445.1px,#f6dc00 0 452.4px,#fad100 0 459.6px,#fdc600 0 466.9px,#ffbb00 0 474.2px,#ffb200 0 481.5px,#ffa800 0 488.8px,#ff9f00 0 496.1px,#ff9300 0 503.4px,#ff7d00 0 510.7px,#fd6200 0 518px,#f83f00 0 525.3px,#fb2f00 0 532.6px,#fd2600 0 576.4px,#fe1e00 0 591px,#fa3500 0 598.3px,#f94600 0 605.6px,#fc5a00 0 612.9px,#ff6d00 0 620.2px,#ff7900 0 627.5px,#ff8300 0 634.8px,#ff8e00 0 642px,#ff9a00 0 649.3px,#ffa200 0 660.3px,#ffaf00 0 667.6px,#ffba00 0 674.9px,#fdc600 0 682.2px,#fad200 0 689.5px,#f7d900 0 696.8px,#f5df00 0 711.4px,#fbce00 0 715px,#ffb500 0 718.7px,#ff7400 0 722.3px,#ff0700 0 726px,#e90000 0 729.6px)"></i>
<i style="left:2510px;width:3px;background:linear-gradient(#009f44 14.6px,#009e39 0 29.2px,#009c2c 0 51.1px,#009b1c 0 73px,#009a12 0 94.8px,#00990a 0 116.7px,#009802 0 204.3px,#00a000 0 248.1px,#00af00 0 291.8px,#00be00 0 321px,#00cd00 0 335.6px,#00d900 0 350.2px,#00e400 0 364.8px,#00ed00 0 379.4px,#00f900 0 394px,#58fa00 0 408.6px,#a8f800 0 419.5px,#cff000 0 437.8px,#eee900 0 445.1px,#f5df00 0 452.4px,#f9d400 0 459.6px,#fdc900 0 466.9px,#ffbd00 0 474.2px,#ffb300 0 481.5px,#ffaa00 0 488.8px,#ffa000 0 496.1px,#ff9800 0 503.4px,#ff8100 0 510.7px,#fe6800 0 518px,#f94500 0 525.3px,#fb3000 0 532.6px,#fd2400 0 547.2px,#ff1a00 0 591px,#fd2500 0 598.3px,#fb2f00 0 605.6px,#fa3700 0 612.9px,#f83f00 0 620.2px,#fa4b00 0 627.5px,#fb5700 0 634.8px,#fd6300 0 642px,#ff7500 0 649.3px,#ff8700 0 656.6px,#ff9900 0 660.3px,#ffa200 0 663.9px,#ffaa00 0 671.2px,#ffb800 0 678.5px,#fdc500 0 685.8px,#fad000 0 696.8px,#f7d900 0 711.4px,#fcca00 0 715px,#ffb100 0 718.7px,#fe6900 0 722.3px,#fe0000 0 726px,#e60000 0 729.6px)"></i>
<i style="left:2513px;width:4px;background:linear-gradient(#00a15a 14.6px,#00a04f 0 29.2px,#009e3c 0 51.1px,#009c26 0 73px,#009a16 0 94.8px,#009907 0 138.6px,#009b00 0 204.3px,#00a900 0 226.2px,#00b200 0 248.1px,#00bb00 0 270px,#00c500 0 291.8px,#00cd00 0 321px,#00de00 0 335.6px,#00e900 0 350.2px,#00f200 0 364.8px,#00fc00 0 379.4px,#30fa00 0 394px,#abf700 0 408.6px,#cff000 0 419.5px,#f0e800 0 437.8px,#f9d500 0 445.1px,#fcca00 0 452.4px,#ffbd00 0 459.6px,#ffaf00 0 466.9px,#ffa100 0 474.2px,#ff9300 0 481.5px,#ff7900 0 488.8px,#fb5700 0 496.1px,#f93900 0 503.4px,#fd2500 0 510.7px,#ff1100 0 518px,#fe0000 0 532.6px,#f20000 0 620.2px,#fb0000 0 642px,#ff1100 0 649.3px,#fd2400 0 656.6px,#f93a00 0 660.3px,#fd6500 0 663.9px,#ff8500 0 667.6px,#ff9b00 0 671.2px,#ffa500 0 674.9px,#ffad00 0 678.5px,#ffb500 0 682.2px,#ffbd00 0 689.5px,#fdc600 0 696.8px,#fbcd00 0 711.4px,#ffc100 0 715px,#ffa900 0 718.7px,#f94800 0 722.3px,#f90000 0 726px,#e10000 0 729.6px)"></i>
<i style="left:2517px;width:4px;background:linear-gradient(#00a46e 14.6px,#00a260 0 29.2px,#00a04f 0 51.1px,#009d32 0 73px,#009b1b 0 94.8px,#009906 0 138.6px,#009d00 0 182.4px,#00a800 0 204.3px,#00b200 0 226.2px,#00bd00 0 248.1px,#00c800 0 270px,#00d400 0 291.8px,#00dc00 0 321px,#00e700 0 335.6px,#00f000 0 350.2px,#00f800 0 364.8px,#08fe00 0 379.4px,#47fa00 0 394px,#aff700 0 408.6px,#cff000 0 419.5px,#eee900 0 437.8px,#f8d800 0 445.1px,#fbcd00 0 452.4px,#fec200 0 459.6px,#ffb600 0 466.9px,#ffa900 0 474.2px,#ff9f00 0 481.5px,#ff9200 0 488.8px,#ff7c00 0 496.1px,#fd6200 0 503.4px,#f84200 0 510.7px,#fb3000 0 518px,#fe1e00 0 525.3px,#ff0500 0 532.6px,#fb0000 0 627.5px,#ff0400 0 649.3px,#ff1900 0 656.6px,#fb2d00 0 660.3px,#fb5200 0 663.9px,#ff7c00 0 667.6px,#ff9900 0 671.2px,#ffa300 0 678.5px,#ffb200 0 685.8px,#ffbf00 0 693.1px,#fdc500 0 711.4px,#ffbb00 0 715px,#ffa300 0 718.7px,#fa3500 0 722.3px,#f30000 0 726px,#de0000 0 729.6px)"></i>
<i style="left:2521px;width:3px;background:linear-gradient(#009a11 14.6px,#009908 0 29.2px,#009800 0 182.4px,#00a000 0 226.2px,#00ac00 0 270px,#00ba00 0 306.4px,#00c900 0 321px,#00d300 0 335.6px,#00e100 0 350.2px,#00eb00 0 364.8px,#00f500 0 379.4px,#11fd00 0 394px,#93f900 0 408.6px,#c2f300 0 419.5px,#e7ea00 0 437.8px,#f7db00 0 445.1px,#fbcf00 0 452.4px,#fec300 0 459.6px,#ffb500 0 466.9px,#ffa600 0 474.2px,#ff9d00 0 481.5px,#ff8e00 0 488.8px,#ff7a00 0 496.1px,#fd6500 0 503.4px,#f94900 0 510.7px,#fa3600 0 518px,#fc2700 0 525.3px,#ff1100 0 532.6px,#ff0000 0 591px,#ff0f00 0 605.6px,#fe1b00 0 649.3px,#fd2300 0 656.6px,#fa3600 0 660.3px,#fd6200 0 663.9px,#ff8700 0 667.6px,#ff9d00 0 671.2px,#ffa700 0 678.5px,#ffb500 0 685.8px,#ffc000 0 693.1px,#fdc600 0 711.4px,#ffba00 0 715px,#ffa200 0 718.7px,#fa3400 0 722.3px,#f30000 0 726px,#de0000 0 729.6px)"></i>
<i style="left:2524px;width:4px;background:linear-gradient(#00a25b 14.6px,#00a04e 0 29.2px,#009e39 0 51.1px,#009b20 0 73px,#00990f 0 94.8px,#009800 0 182.4px,#00a400 0 204.3px,#00ae00 0 226.2px,#00b700 0 248.1px,#00c100 0 270px,#00cb00 0 291.8px,#00d300 0 321px,#00e000 0 335.6px,#00e900 0 350.2px,#00f100 0 364.8px,#00f900 0 379.4px,#14fd00 0 394px,#8df900 0 408.6px,#bcf400 0 419.5px,#deed00 0 437.8px,#f3e200 0 445.1px,#f8d700 0 452.4px,#fbcc00 0 459.6px,#ffc100 0 466.9px,#ffb400 0 474.2px,#ffab00 0 481.5px,#ffa200 0 488.8px,#ff9900 0 496.1px,#ff8700 0 503.4px,#ff7300 0 510.7px,#fb5600 0 518px,#f93b00 0 525.3px,#fd2500 0 532.6px,#ff1600 0 539.9px,#ff0c00 0 547.2px,#ff0300 0 591px,#ff0d00 0 612.9px,#ff1500 0 649.3px,#fe1f00 0 656.6px,#fa3600 0 660.3px,#fc5e00 0 663.9px,#ff8100 0 667.6px,#ff9a00 0 671.2px,#ffa300 0 678.5px,#ffb000 0 685.8px,#ffbc00 0 696.8px,#fdc500 0 711.4px,#ffb400 0 715px,#ff9a00 0 718.7px,#fe1e00 0 722.3px,#eb0000 0 726px,#db0000 0 729.6px)"></i>
<i style="left:2528px;width:4px;background:linear-gradient(#009c28 14.6px,#009b1a 0 29.2px,#009907 0 51.1px,#009a00 0 182.4px,#00a700 0 204.3px,#00af00 0 226.2px,#00b800 0 248.1px,#00c100 0 270px,#00ca00 0 291.8px,#00d200 0 321px,#00de00 0 335.6px,#00e600 0 350.2px,#00ee00 0 364.8px,#00f600 0 379.4px,#00fe00 0 394px,#74fa00 0 408.6px,#b0f600 0 419.5px,#d3ef00 0 437.8px,#f0e800 0 445.1px,#f5dd00 0 452.4px,#fad200 0 459.6px,#fdc600 0 466.9px,#ffba00 0 474.2px,#ffb100 0 481.5px,#ffa800 0 488.8px,#ff9e00 0 496.1px,#ff9100 0 503.4px,#ff7a00 0 510.7px,#fc5e00 0 518px,#f93d00 0 525.3px,#fc2a00 0 532.6px,#fe1f00 0 547.2px,#ff1600 0 583.7px,#ff0d00 0 627.5px,#ff1600 0 642px,#fc2a00 0 649.3px,#f84100 0 656.6px,#ff7800 0 660.3px,#ff9300 0 663.9px,#ffa000 0 667.6px,#ffa900 0 671.2px,#ffb100 0 678.5px,#ffbf00 0 685.8px,#fcca00 0 693.1px,#fad200 0 711.4px,#fdc700 0 715px,#ffb000 0 718.7px,#fd6200 0 722.3px,#fd0000 0 726px,#e50000 0 729.6px)"></i>
<i style="left:2532px;width:3px;background:linear-gradient(#009f4b 14.6px,#009e3e 0 29.2px,#009d2d 0 51.1px,#009b1b 0 73px,#009a14 0 94.8px,#00990c 0 116.7px,#009805 0 182.4px,#009b00 0 226.2px,#00a500 0 248.1px,#00ad00 0 270px,#00b600 0 291.8px,#00be00 0 306.4px,#00c600 0 321px,#00d000 0 335.6px,#00dd00 0 350.2px,#00e700 0 364.8px,#00f000 0 379.4px,#00fa00 0 394px,#62fa00 0 408.6px,#aef700 0 419.5px,#d6ef00 0 437.8px,#f1e500 0 445.1px,#f8d900 0 452.4px,#fccc00 0 459.6px,#ffbe00 0 466.9px,#ffaf00 0 474.2px,#ffa600 0 481.5px,#ff9d00 0 488.8px,#ff8f00 0 496.1px,#ff7c00 0 503.4px,#fd6500 0 510.7px,#f94800 0 518px,#fa3400 0 525.3px,#fc2700 0 576.4px,#fb3000 0 605.6px,#f93900 0 620.2px,#f84000 0 634.8px,#f94a00 0 642px,#fd5f00 0 649.3px,#ff7c00 0 656.6px,#ff9c00 0 660.3px,#ffa400 0 667.6px,#ffb200 0 674.9px,#ffbe00 0 682.2px,#fcc900 0 689.5px,#fad000 0 696.8px,#f8d600 0 707.7px,#fad000 0 711.4px,#fec400 0 715px,#ffab00 0 718.7px,#f84300 0 722.3px,#f60000 0 726px,#df0000 0 729.6px)"></i>
<i style="left:2535px;width:4px;background:linear-gradient(#00a155 14.6px,#009f48 0 29.2px,#009d35 0 51.1px,#009b21 0 73px,#009a16 0 94.8px,#00990c 0 116.7px,#009802 0 204.3px,#00a100 0 226.2px,#00a900 0 248.1px,#00b200 0 270px,#00bc00 0 291.8px,#00c400 0 321px,#00d300 0 335.6px,#00de00 0 350.2px,#00e700 0 364.8px,#00f000 0 379.4px,#00f800 0 394px,#4cfa00 0 408.6px,#a5f800 0 419.5px,#cdf100 0 437.8px,#ebe900 0 445.1px,#f4df00 0 452.4px,#f9d300 0 459.6px,#fdc700 0 466.9px,#ffb900 0 474.2px,#ffb000 0 481.5px,#ffa700 0 488.8px,#ff9e00 0 496.1px,#ff9200 0 503.4px,#ff7c00 0 510.7px,#fd6200 0 518px,#f84000 0 525.3px,#fb3100 0 532.6px,#fc2900 0 605.6px,#fb3000 0 620.2px,#f93800 0 634.8px,#f94800 0 642px,#fd6200 0 649.3px,#ff8000 0 656.6px,#ff9c00 0 660.3px,#ffa400 0 663.9px,#ffac00 0 671.2px,#ffb900 0 678.5px,#fdc500 0 685.8px,#facf00 0 693.1px,#f8d600 0 711.4px,#fcc900 0 715px,#ffb100 0 718.7px,#fd6100 0 722.3px,#fd0000 0 726px,#e40000 0 729.6px)"></i>
<i style="left:2539px;width:4px;background:linear-gradient(#00a25d 14.6px,#00a051 0 29.2px,#009e3d 0 51.1px,#009c27 0 73px,#009b1b 0 94.8px,#00990f 0 116.7px,#009802 0 204.3px,#00a300 0 226.2px,#00ac00 0 248.1px,#00b500 0 270px,#00bf00 0 291.8px,#00c800 0 321px,#00d700 0 335.6px,#00e100 0 350.2px,#00ea00 0 364.8px,#00f200 0 379.4px,#00fb00 0 394px,#61fa00 0 408.6px,#acf700 0 419.5px,#d2f000 0 437.8px,#efe800 0 445.1px,#f6dd00 0 452.4px,#fad100 0 459.6px,#fec400 0 466.9px,#ffb600 0 474.2px,#ffad00 0 481.5px,#ffa400 0 488.8px,#ff9b00 0 496.1px,#ff8b00 0 503.4px,#ff7500 0 510.7px,#fc5800 0 518px,#f93b00 0 525.3px,#fb2c00 0 532.6px,#fd2500 0 591px,#fa3400 0 598.3px,#f83e00 0 605.6px,#fa4b00 0 612.9px,#fc5900 0 620.2px,#fe6900 0 627.5px,#ff7700 0 634.8px,#ff8300 0 642px,#ff9500 0 649.3px,#ffa100 0 656.6px,#ffab00 0 663.9px,#ffb900 0 671.2px,#fdc600 0 678.5px,#fad200 0 682.2px,#f8d800 0 689.5px,#f4e000 0 696.8px,#f1e700 0 711.4px,#f8d800 0 715px,#fec200 0 718.7px,#ff9a00 0 722.3px,#fa3200 0 726px,#f60000 0 729.6px)"></i>
<i style="left:2543px;width:3px;background:linear-gradient(#009908 14.6px,#009900 0 94.8px,#00a200 0 160.5px,#00ac00 0 204.3px,#00ba00 0 226.2px,#00c300 0 248.1px,#00cc00 0 270px,#00d600 0 291.8px,#00de00 0 321px,#00e800 0 350.2px,#00f700 0 379.4px,#1ffc00 0 394px,#96f900 0 408.6px,#c0f300 0 419.5px,#e1ec00 0 437.8px,#f4e100 0 445.1px,#f9d500 0 452.4px,#fcc900 0 459.6px,#ffbd00 0 466.9px,#ffaf00 0 474.2px,#ffa600 0 481.5px,#ff9c00 0 488.8px,#ff8b00 0 496.1px,#ff7500 0 503.4px,#fb5500 0 510.7px,#f93900 0 518px,#fd2600 0 525.3px,#ff1600 0 532.6px,#ff0d00 0 591px,#fd2500 0 598.3px,#fa3500 0 605.6px,#f84200 0 612.9px,#fb5700 0 620.2px,#fe6700 0 627.5px,#ff7100 0 642px,#ff8500 0 649.3px,#ff9700 0 660.3px,#ffa400 0 667.6px,#ffaf00 0 674.9px,#ffbb00 0 682.2px,#fdc600 0 689.5px,#fbcd00 0 711.4px,#ffbf00 0 715px,#ffa200 0 718.7px,#fc2900 0 722.3px,#ef0000 0 726px,#dc0000 0 729.6px)"></i>
<i style="left:2546px;width:4px;background:linear-gradient(#00a050 14.6px,#009e3e 0 29.2px,#009c27 0 51.1px,#00990e 0 73px,#009800 0 160.5px,#00a000 0 204.3px,#00af00 0 226.2px,#00b900 0 248.1px,#00c300 0 270px,#00ce00 0 291.8px,#00d600 0 321px,#00e300 0 335.6px,#00eb00 0 364.8px,#00fa00 0 379.4px,#0dfe00 0 394px,#85f900 0 408.6px,#b9f500 0 419.5px,#dbed00 0 437.8px,#f2e300 0 445.1px,#f8d800 0 452.4px,#fbcc00 0 459.6px,#ffc000 0 466.9px,#ffb200 0 474.2px,#ffa900 0 481.5px,#ff9f00 0 488.8px,#ff9400 0 496.1px,#ff7f00 0 503.4px,#fe6600 0 510.7px,#f94600 0 518px,#fb3100 0 525.3px,#fd2200 0 532.6px,#ff1b00 0 583.7px,#fd2100 0 591px,#fa3500 0 598.3px,#f94a00 0 605.6px,#fd6000 0 612.9px,#ff7400 0 620.2px,#ff7e00 0 634.8px,#ff8900 0 642px,#ff9500 0 649.3px,#ff9d00 0 660.3px,#ffa900 0 667.6px,#ffb300 0 674.9px,#ffbf00 0 682.2px,#fcca00 0 689.5px,#fad000 0 711.4px,#ffc100 0 715px,#ffa500 0 718.7px,#fb3100 0 722.3px,#f10000 0 726px,#dd0000 0 729.6px)"></i>
<i style="left:2550px;width:4px;background:linear-gradient(#009d32 14.6px,#009b21 0 29.2px,#00990b 0 51.1px,#009a00 0 160.5px,#00a500 0 204.3px,#00b400 0 226.2px,#00bd00 0 248.1px,#00c700 0 270px,#00d100 0 291.8px,#00d900 0 321px,#00e500 0 335.6px,#00ed00 0 350.2px,#00f500 0 364.8px,#00fd00 0 379.4px,#19fc00 0 394px,#91f900 0 408.6px,#bff300 0 419.5px,#e0ec00 0 437.8px,#f4e100 0 445.1px,#f9d500 0 452.4px,#fcc900 0 459.6px,#ffbd00 0 466.9px,#ffae00 0 474.2px,#ffa500 0 481.5px,#ff9b00 0 488.8px,#ff8600 0 496.1px,#ff7000 0 503.4px,#fa4c00 0 510.7px,#fa3300 0 518px,#fe1f00 0 525.3px,#ff0a00 0 532.6px,#fe0000 0 598.3px,#ff0b00 0 605.6px,#ff1500 0 612.9px,#fe1d00 0 620.2px,#fd2400 0 634.8px,#fb3000 0 642px,#f93b00 0 649.3px,#fb5500 0 656.6px,#ff7400 0 660.3px,#ff8a00 0 663.9px,#ff9b00 0 667.6px,#ffa400 0 674.9px,#ffb200 0 678.5px,#ffba00 0 685.8px,#fec500 0 693.1px,#fccb00 0 711.4px,#ffbf00 0 715px,#ffa400 0 718.7px,#fa3400 0 722.3px,#f30000 0 726px,#de0000 0 729.6px)"></i>
<i style="left:2554px;width:3px;background:linear-gradient(#00a46a 14.6px,#00a25f 0 29.2px,#00a051 0 51.1px,#009e3c 0 73px,#009d31 0 94.8px,#009c26 0 116.7px,#009b1a 0 138.6px,#009a0f 0 160.5px,#009804 0 204.3px,#009e00 0 248.1px,#00ad00 0 270px,#00b700 0 291.8px,#00c000 0 306.4px,#00c800 0 321px,#00d200 0 335.6px,#00de00 0 350.2px,#00e800 0 364.8px,#00f200 0 379.4px,#00fb00 0 394px,#6efa00 0 408.6px,#b2f600 0 419.5px,#d8ee00 0 437.8px,#f2e300 0 445.1px,#f8d700 0 452.4px,#fcca00 0 459.6px,#ffbc00 0 466.9px,#ffad00 0 474.2px,#ffa300 0 481.5px,#ff9900 0 488.8px,#ff8300 0 496.1px,#fe6c00 0 503.4px,#f94a00 0 510.7px,#fa3300 0 518px,#fe2000 0 525.3px,#ff0800 0 532.6px,#fc0000 0 612.9px,#ff0700 0 627.5px,#ff0f00 0 642px,#fe1c00 0 649.3px,#fc2a00 0 656.6px,#f83e00 0 660.3px,#fe6a00 0 663.9px,#ff8900 0 667.6px,#ff9c00 0 671.2px,#ffa600 0 678.5px,#ffb500 0 685.8px,#ffc100 0 693.1px,#fdc800 0 711.4px,#ffbd00 0 715px,#ffa400 0 718.7px,#f93700 0 722.3px,#f40000 0 726px,#de0000 0 729.6px)"></i>
<i style="left:2557px;width:4px;background:linear-gradient(#00a260 14.6px,#00a154 0 29.2px,#009e40 0 51.1px,#009c28 0 73px,#009b1a 0 94.8px,#00990c 0 116.7px,#009800 0 204.3px,#00a600 0 226.2px,#00af00 0 248.1px,#00b900 0 270px,#00c300 0 291.8px,#00cb00 0 321px,#00d800 0 335.6px,#00e200 0 364.8px,#00f100 0 379.4px,#00f900 0 394px,#48fa00 0 408.6px,#9ff800 0 419.5px,#c8f200 0 437.8px,#e5eb00 0 445.1px,#f2e300 0 452.4px,#f8d800 0 459.6px,#fccc00 0 466.9px,#ffc000 0 474.2px,#ffb700 0 481.5px,#ffac00 0 488.8px,#ffa300 0 496.1px,#ff9900 0 503.4px,#ff8100 0 510.7px,#fd6500 0 518px,#f83f00 0 525.3px,#fd2200 0 532.6px,#ff0900 0 539.9px,#fc0000 0 569.1px,#f40000 0 656.6px,#ff0800 0 660.3px,#fb2c00 0 663.9px,#fb5700 0 667.6px,#ff8300 0 671.2px,#ff9b00 0 674.9px,#ffa400 0 678.5px,#ffad00 0 682.2px,#ffb500 0 689.5px,#ffc000 0 696.8px,#fdc800 0 711.4px,#ffbe00 0 715px,#ffa800 0 718.7px,#f94900 0 722.3px,#fa0000 0 726px,#e20000 0 729.6px)"></i>
<i style="left:2561px;width:4px;background:linear-gradient(#009f49 14.6px,#009d36 0 29.2px,#009b1f 0 51.1px,#009804 0 94.8px,#009c00 0 182.4px,#00ab00 0 204.3px,#00b400 0 226.2px,#00be00 0 248.1px,#00c800 0 270px,#00d400 0 291.8px,#00dc00 0 321px,#00e800 0 335.6px,#00f000 0 350.2px,#00f800 0 364.8px,#02ff00 0 379.4px,#28fb00 0 394px,#a1f800 0 408.6px,#c7f200 0 419.5px,#e7ea00 0 437.8px,#f6dd00 0 445.1px,#fad100 0 452.4px,#fec500 0 459.6px,#ffb700 0 466.9px,#ffa900 0 474.2px,#ff9f00 0 481.5px,#ff8e00 0 488.8px,#ff7600 0 496.1px,#fb5500 0 503.4px,#f93800 0 510.7px,#fd2400 0 518px,#ff0f00 0 525.3px,#fb0000 0 539.9px,#f10000 0 656.6px,#ff0500 0 660.3px,#fc2900 0 663.9px,#fa5100 0 667.6px,#ff7f00 0 671.2px,#ff9900 0 674.9px,#ffa300 0 678.5px,#ffab00 0 682.2px,#ffb300 0 689.5px,#ffbe00 0 696.8px,#fdc700 0 711.4px,#ffbc00 0 715px,#ffa600 0 718.7px,#f84000 0 722.3px,#f80000 0 726px,#e00000 0 729.6px)"></i>
<i style="left:2565px;width:3px;background:linear-gradient(#00a261 14.6px,#00a156 0 29.2px,#009f44 0 51.1px,#009d2e 0 73px,#009b21 0 94.8px,#009a15 0 116.7px,#009909 0 138.6px,#009800 0 204.3px,#00a100 0 226.2px,#00aa00 0 248.1px,#00b300 0 270px,#00bd00 0 291.8px,#00c600 0 306.4px,#00ce00 0 321px,#00d700 0 335.6px,#00e200 0 350.2px,#00eb00 0 364.8px,#00f400 0 379.4px,#00fd00 0 394px,#76fa00 0 408.6px,#b4f600 0 419.5px,#daee00 0 437.8px,#f2e300 0 445.1px,#f8d700 0 452.4px,#fcca00 0 459.6px,#ffbd00 0 466.9px,#ffae00 0 474.2px,#ffa500 0 481.5px,#ff9b00 0 488.8px,#ff8800 0 496.1px,#ff7300 0 503.4px,#fb5300 0 510.7px,#f93900 0 518px,#fc2700 0 525.3px,#ff1200 0 532.6px,#ff0400 0 591px,#ff0d00 0 598.3px,#ff1900 0 605.6px,#fe2000 0 612.9px,#fc2800 0 627.5px,#fb3100 0 642px,#f93d00 0 649.3px,#fb5300 0 656.6px,#ff7200 0 660.3px,#ff8b00 0 663.9px,#ff9c00 0 667.6px,#ffa500 0 671.2px,#ffad00 0 678.5px,#ffbb00 0 685.8px,#fdc600 0 693.1px,#fbcc00 0 711.4px,#ffbf00 0 715px,#ffa600 0 718.7px,#f93900 0 722.3px,#f50000 0 726px,#df0000 0 729.6px)"></i>
<i style="left:2568px;width:4px;background:linear-gradient(#009d2e 14.6px,#009b1c 0 29.2px,#009905 0 73px,#009c00 0 160.5px,#00a700 0 204.3px,#00b700 0 226.2px,#00c000 0 248.1px,#00ca00 0 270px,#00d500 0 291.8px,#00dd00 0 321px,#00e700 0 350.2px,#00f600 0 379.4px,#18fd00 0 394px,#8ef900 0 408.6px,#bcf400 0 419.5px,#dded00 0 437.8px,#f3e300 0 445.1px,#f8d800 0 452.4px,#fbcc00 0 459.6px,#ffc000 0 466.9px,#ffb200 0 474.2px,#ffa900 0 481.5px,#ff9d00 0 488.8px,#ff8a00 0 496.1px,#ff6f00 0 503.4px,#f94400 0 510.7px,#fc2b00 0 518px,#ff1300 0 525.3px,#fe0000 0 554.5px,#f50000 0 612.9px,#ff0000 0 620.2px,#ff0c00 0 627.5px,#fe1d00 0 634.8px,#fc2c00 0 642px,#f84000 0 649.3px,#fe6c00 0 656.6px,#ff8500 0 660.3px,#ff9800 0 663.9px,#ffa000 0 667.6px,#ffa800 0 674.9px,#ffb700 0 682.2px,#fdc500 0 689.5px,#fbce00 0 696.8px,#f9d600 0 711.4px,#fdc800 0 715px,#ffaf00 0 718.7px,#fc5c00 0 722.3px,#fd0000 0 726px,#e60000 0 729.6px)"></i>
<i style="left:2572px;width:4px;background:linear-gradient(#00a25e 14.6px,#00a051 0 29.2px,#009e3a 0 51.1px,#009b20 0 73px,#009a10 0 94.8px,#009800 0 182.4px,#00a200 0 204.3px,#00ac00 0 226.2px,#00b500 0 248.1px,#00c000 0 270px,#00cb00 0 291.8px,#00d400 0 321px,#00e300 0 335.6px,#00ec00 0 350.2px,#00f500 0 364.8px,#00fd00 0 379.4px,#22fc00 0 394px,#9ef800 0 408.6px,#c7f200 0 419.5px,#e9ea00 0 437.8px,#f7db00 0 445.1px,#fbce00 0 452.4px,#ffc100 0 459.6px,#ffb300 0 466.9px,#ffa300 0 474.2px,#ff9900 0 481.5px,#ff8400 0 488.8px,#ff6d00 0 496.1px,#fa4e00 0 503.4px,#fa3600 0 510.7px,#fd2600 0 518px,#ff1500 0 525.3px,#ff0500 0 576.4px,#ff0f00 0 583.7px,#ff1800 0 591px,#fb2d00 0 598.3px,#f84000 0 605.6px,#fc5900 0 612.9px,#ff7100 0 620.2px,#ff7c00 0 634.8px,#ff8700 0 642px,#ff9200 0 649.3px,#ff9c00 0 660.3px,#ffa800 0 667.6px,#ffb300 0 674.9px,#ffbf00 0 682.2px,#fcc900 0 689.5px,#fad000 0 711.4px,#ffc100 0 715px,#ffa500 0 718.7px,#fb3100 0 722.3px,#f10000 0 726px,#dd0000 0 729.6px)"></i>
<i style="left:2576px;width:3px;background:linear-gradient(#00a46c 14.6px,#00a261 0 29.2px,#00a053 0 51.1px,#009e3d 0 73px,#009c26 0 94.8px,#00990f 0 116.7px,#009900 0 204.3px,#00a800 0 226.2px,#00b000 0 248.1px,#00b900 0 270px,#00c400 0 291.8px,#00cd00 0 306.4px,#00d600 0 321px,#00e000 0 335.6px,#00ea00 0 350.2px,#00f300 0 364.8px,#00fd00 0 379.4px,#23fb00 0 394px,#a4f800 0 408.6px,#cbf100 0 419.5px,#eee900 0 437.8px,#f8d700 0 445.1px,#fcca00 0 452.4px,#ffbc00 0 459.6px,#ffac00 0 466.9px,#ff9b00 0 474.2px,#ff8500 0 481.5px,#fe6a00 0 488.8px,#f94500 0 496.1px,#fb3100 0 503.4px,#fe1e00 0 510.7px,#ff0b00 0 518px,#fc0000 0 532.6px,#ef0000 0 649.3px,#f80000 0 656.6px,#ff0100 0 660.3px,#fd2500 0 663.9px,#f94800 0 667.6px,#ff7900 0 671.2px,#ff9500 0 674.9px,#ffa000 0 678.5px,#ffa800 0 682.2px,#ffb000 0 689.5px,#ffbb00 0 696.8px,#fec300 0 711.4px,#ffb600 0 715px,#ff9f00 0 718.7px,#fb2d00 0 722.3px,#f10000 0 726px,#dd0000 0 729.6px)"></i>
<i style="left:2579px;width:4px;background:linear-gradient(#00a886 14.6px,#00a67c 0 29.2px,#00a570 0 51.1px,#00a261 0 73px,#00a053 0 94.8px,#009e3f 0 116.7px,#009c2a 0 138.6px,#009b19 0 160.5px,#009909 0 182.4px,#009900 0 248.1px,#00a800 0 270px,#00b200 0 291.8px,#00ba00 0 306.4px,#00c200 0 321px,#00cb00 0 335.6px,#00d500 0 350.2px,#00e000 0 364.8px,#00e900 0 379.4px,#00f100 0 394px,#1dfc00 0 408.6px,#82f900 0 419.5px,#bbf400 0 437.8px,#dced00 0 445.1px,#f0e800 0 452.4px,#f6dc00 0 459.6px,#fad000 0 466.9px,#fec400 0 474.2px,#ffbb00 0 481.5px,#ffb100 0 488.8px,#ffa700 0 496.1px,#ff9e00 0 503.4px,#ff8f00 0 510.7px,#ff7700 0 518px,#fb5400 0 525.3px,#fb2f00 0 532.6px,#ff1900 0 539.9px,#ff0600 0 547.2px,#fc0000 0 612.9px,#f40000 0 642px,#fc0000 0 649.3px,#ff0700 0 656.6px,#fd2300 0 660.3px,#f94a00 0 663.9px,#ff7d00 0 667.6px,#ff9b00 0 671.2px,#ffa700 0 674.9px,#ffaf00 0 678.5px,#ffb800 0 682.2px,#ffc000 0 685.8px,#fdc600 0 693.1px,#fbce00 0 700.4px,#f9d500 0 711.4px,#fcca00 0 715px,#ffb600 0 718.7px,#ff8400 0 722.3px,#fe1e00 0 726px,#f00000 0 729.6px)"></i>
<i style="left:2583px;width:4px;background:linear-gradient(#00a88b 29.2px,#00a67a 0 51.1px,#00a46a 0 73px,#00a25b 0 94.8px,#009f4a 0 116.7px,#009d34 0 138.6px,#009b22 0 160.5px,#009a11 0 182.4px,#009801 0 226.2px,#009f00 0 248.1px,#00a700 0 270px,#00b100 0 291.8px,#00ba00 0 306.4px,#00c200 0 321px,#00cc00 0 335.6px,#00d800 0 350.2px,#00e300 0 364.8px,#00ec00 0 379.4px,#00f500 0 394px,#37fa00 0 408.6px,#9cf800 0 419.5px,#caf100 0 437.8px,#eaea00 0 445.1px,#f4e000 0 452.4px,#f9d400 0 459.6px,#fdc700 0 466.9px,#ffb900 0 474.2px,#ffb000 0 481.5px,#ffa800 0 488.8px,#ffa000 0 503.4px,#ff8700 0 510.7px,#ff7500 0 518px,#fc5c00 0 525.3px,#f93a00 0 532.6px,#fc2900 0 539.9px,#fe2000 0 547.2px,#ff1600 0 569.1px,#fe1d00 0 583.7px,#fd2400 0 598.3px,#fb2e00 0 612.9px,#fa3500 0 649.3px,#f84300 0 656.6px,#fe6700 0 660.3px,#ff8b00 0 663.9px,#ff9f00 0 667.6px,#ffab00 0 671.2px,#ffb400 0 678.5px,#fec200 0 685.8px,#fbcd00 0 693.1px,#f9d400 0 711.4px,#fcca00 0 715px,#ffb500 0 718.7px,#ff7e00 0 722.3px,#ff1400 0 726px,#ec0000 0 729.6px)"></i>
<i style="left:2587px;width:3px;background:linear-gradient(#00a88b 29.2px,#00a677 0 51.1px,#00a366 0 73px,#00a154 0 94.8px,#009e3d 0 116.7px,#009c24 0 138.6px,#00990f 0 160.5px,#009900 0 226.2px,#00a700 0 248.1px,#00b000 0 270px,#00bb00 0 291.8px,#00c400 0 306.4px,#00cc00 0 321px,#00d500 0 335.6px,#00e000 0 350.2px,#00e800 0 364.8px,#00f100 0 379.4px,#00f900 0 394px,#57fa00 0 408.6px,#aaf800 0 419.5px,#d0f000 0 437.8px,#eee900 0 445.1px,#f5de00 0 452.4px,#fad200 0 459.6px,#fec500 0 466.9px,#ffb700 0 474.2px,#ffae00 0 481.5px,#ffa500 0 488.8px,#ff9c00 0 496.1px,#ff8f00 0 503.4px,#ff7a00 0 510.7px,#fd6100 0 518px,#f84100 0 525.3px,#fc2800 0 532.6px,#ff1500 0 539.9px,#ff0800 0 547.2px,#fd0000 0 598.3px,#ff0600 0 642px,#ff1300 0 649.3px,#fe1f00 0 656.6px,#fa3400 0 660.3px,#fd6400 0 663.9px,#ff8a00 0 667.6px,#ff9f00 0 671.2px,#ffa900 0 674.9px,#ffb100 0 682.2px,#ffc000 0 689.5px,#fdc800 0 696.8px,#fbcf00 0 711.4px,#fec300 0 715px,#ffae00 0 718.7px,#fd6300 0 722.3px,#fe0000 0 726px,#e50000 0 729.6px)"></i>
<i style="left:2590px;width:4px;background:linear-gradient(#00a575 14.6px,#00a46a 0 29.2px,#00a25d 0 51.1px,#00a04e 0 73px,#009e3e 0 94.8px,#009d2e 0 116.7px,#009b1e 0 138.6px,#009a10 0 160.5px,#009803 0 204.3px,#009e00 0 248.1px,#00ac00 0 270px,#00b500 0 291.8px,#00be00 0 321px,#00cd00 0 335.6px,#00d700 0 350.2px,#00e100 0 364.8px,#00ea00 0 379.4px,#00f200 0 394px,#20fc00 0 408.6px,#85f900 0 419.5px,#bcf400 0 437.8px,#dded00 0 445.1px,#f0e800 0 452.4px,#f6dc00 0 459.6px,#fad000 0 466.9px,#fec400 0 474.2px,#ffbc00 0 481.5px,#ffb200 0 488.8px,#ffaa00 0 496.1px,#ffa200 0 503.4px,#ff9900 0 510.7px,#ff8500 0 518px,#ff7000 0 525.3px,#fa4a00 0 532.6px,#f93800 0 539.9px,#fb3000 0 547.2px,#fc2900 0 591px,#fb3000 0 598.3px,#f93800 0 612.9px,#f94500 0 620.2px,#fb5300 0 627.5px,#fd6400 0 634.8px,#ff7300 0 642px,#ff8300 0 649.3px,#ff9800 0 656.6px,#ffa200 0 660.3px,#ffac00 0 663.9px,#ffb500 0 667.6px,#ffbe00 0 671.2px,#fdc600 0 674.9px,#fbcd00 0 678.5px,#f9d300 0 682.2px,#f7da00 0 689.5px,#f3e300 0 696.8px,#ece900 0 711.4px,#f4df00 0 715px,#fccb00 0 718.7px,#ffa900 0 722.3px,#fe6d00 0 726px,#ff1100 0 729.6px)"></i>
<i style="left:2594px;width:4px;background:linear-gradient(#00a051 14.6px,#009e41 0 29.2px,#009c2d 0 51.1px,#009a16 0 73px,#00990a 0 94.8px,#009800 0 204.3px,#00a700 0 226.2px,#00b000 0 248.1px,#00b900 0 270px,#00c300 0 291.8px,#00cb00 0 321px,#00d800 0 335.6px,#00e200 0 350.2px,#00ea00 0 379.4px,#00f900 0 394px,#4bfa00 0 408.6px,#a1f800 0 419.5px,#c9f100 0 437.8px,#e7ea00 0 445.1px,#f3e200 0 452.4px,#f8d700 0 459.6px,#fccb00 0 466.9px,#ffbf00 0 474.2px,#ffb600 0 481.5px,#ffad00 0 488.8px,#ffa400 0 496.1px,#ff9c00 0 503.4px,#ff8d00 0 510.7px,#ff7900 0 518px,#fc5c00 0 525.3px,#f84100 0 532.6px,#f93800 0 591px,#fb5600 0 598.3px,#ff7100 0 605.6px,#ff7d00 0 612.9px,#ff8a00 0 620.2px,#ff9500 0 634.8px,#ff9e00 0 649.3px,#ffab00 0 660.3px,#ffb600 0 667.6px,#ffc100 0 671.2px,#fdc700 0 678.5px,#fad200 0 682.2px,#f8d800 0 689.5px,#f5de00 0 696.8px,#f2e300 0 711.4px,#fad300 0 715px,#ffba00 0 718.7px,#ff8400 0 722.3px,#ff1800 0 726px,#ee0000 0 729.6px)"></i>
<i style="left:2598px;width:3px;background:linear-gradient(#00a052 14.6px,#009f44 0 29.2px,#009d30 0 51.1px,#009b1b 0 73px,#009a0f 0 94.8px,#009804 0 160.5px,#009c00 0 204.3px,#00a500 0 226.2px,#00ad00 0 248.1px,#00b600 0 270px,#00c000 0 291.8px,#00c800 0 321px,#00d500 0 335.6px,#00df00 0 350.2px,#00e700 0 364.8px,#00ef00 0 379.4px,#00f700 0 394px,#39fa00 0 408.6px,#98f900 0 419.5px,#c5f200 0 437.8px,#e3eb00 0 445.1px,#f2e400 0 452.4px,#f7d900 0 459.6px,#fbcd00 0 466.9px,#ffc100 0 474.2px,#ffb800 0 481.5px,#ffaf00 0 488.8px,#ffa600 0 496.1px,#ff9d00 0 503.4px,#ff8e00 0 510.7px,#ff7800 0 518px,#fc5800 0 525.3px,#f93d00 0 532.6px,#fa3300 0 561.8px,#fc2b00 0 591px,#f93b00 0 598.3px,#fa5000 0 605.6px,#fd6200 0 612.9px,#ff7200 0 620.2px,#ff7e00 0 627.5px,#ff8a00 0 634.8px,#ff9600 0 642px,#ff9e00 0 649.3px,#ffa700 0 660.3px,#ffb500 0 667.6px,#ffc100 0 674.9px,#fbcd00 0 682.2px,#f8d900 0 689.5px,#f4e000 0 696.8px,#f1e600 0 711.4px,#f8d800 0 715px,#ffc100 0 718.7px,#ff9800 0 722.3px,#fb2e00 0 726px,#f50000 0 729.6px)"></i>
<i style="left:2601px;width:4px;background:linear-gradient(#00990c 14.6px,#009800 0 94.8px,#00a000 0 160.5px,#00a900 0 204.3px,#00b700 0 226.2px,#00bf00 0 248.1px,#00c800 0 270px,#00d200 0 291.8px,#00da00 0 321px,#00e600 0 335.6px,#00ef00 0 350.2px,#00f700 0 364.8px,#00ff00 0 379.4px,#27fb00 0 394px,#a1f800 0 408.6px,#c7f200 0 419.5px,#e8ea00 0 437.8px,#f6dc00 0 445.1px,#fad000 0 452.4px,#fec300 0 459.6px,#ffb500 0 466.9px,#ffa600 0 474.2px,#ff9d00 0 481.5px,#ff8a00 0 488.8px,#ff7200 0 496.1px,#fb5200 0 503.4px,#fa3700 0 510.7px,#fd2400 0 518px,#ff1100 0 525.3px,#ff0000 0 627.5px,#ff1000 0 634.8px,#ff1a00 0 642px,#fb2c00 0 649.3px,#fa4c00 0 656.6px,#ff8400 0 660.3px,#ff9a00 0 663.9px,#ffa300 0 667.6px,#ffab00 0 674.9px,#ffb900 0 682.2px,#fdc600 0 689.5px,#fbcf00 0 696.8px,#f8d700 0 711.4px,#fdc800 0 715px,#ffb100 0 718.7px,#fe6700 0 722.3px,#fe0000 0 726px,#e60000 0 729.6px)"></i>
</div>
<svg width="3001" height="824" viewBox="0 0 3001 824"><rect x="94.9" y="29.4" width="2" height="729.6" fill="#fff"/><path d="M72.0 759.3H2711.5V29.4" fill="none" stroke="#777" stroke-width="1"/><clipPath id="ax"><rect x="72.0" y="29.4" width="2639.3" height="729.6"/></clipPath><path clip-path="url(#ax)" d="M72.0 759.00H2711.3M72.0 686.04H2711.3M72.0 613.08H2711.3M72.0 540.12H2711.3M72.0 467.16H2711.3M72.0 394.20H2711.3M72.0 321.24H2711.3M72.0 248.28H2711.3M72.0 175.32H2711.3M72.0 102.36H2711.3M72.0 29.40H2711.3M72.00 759.0V29.4M291.94 759.0V29.4M511.88 759.0V29.4M731.83 759.0V29.4M951.77 759.0V29.4M1171.71 759.0V29.4M1391.65 759.0V29.4M1611.59 759.0V29.4M1831.53 759.0V29.4M2051.48 759.0V29.4M2271.42 759.0V29.4M2491.36 759.0V29.4M2711.30 759.0V29.4" fill="none" stroke="#000" stroke-width="1.39" stroke-dasharray="5.14 2.22"/><path d="M72.00 759.0v2.5M291.94 759.0v2.5M511.88 759.0v2.5M731.83 759.0v2.5M951.77 759.0v2.5M1171.71 759.0v2.5M1391.65 759.0v2.5M1611.59 759.0v2.5M1831.53 759.0v2.5M2051.48 759.0v2.5M2271.42 759.0v2.5M2491.36 759.0v2.5M2711.30 759.0v2.5" stroke="#333" stroke-width="0.8" fill="none"/><path d="M559.2 759.0V29.4" stroke="#000" stroke-width="5" stroke-dasharray="18 7.75" stroke-dashoffset="1.2" fill="none"/><path d="M2058.5 759.0V29.4" stroke="#000" stroke-width="5" stroke-dasharray="18 7.75" stroke-dashoffset="1.2" fill="none"/><text class="t" x="68.1" y="768.7" text-anchor="end">0</text><text class="t" x="68.1" y="695.7" text-anchor="end">1</text><text class="t" x="68.1" y="622.8" text-anchor="end">2</text><text class="t" x="68.1" y="549.8" text-anchor="end">3</text><text class="t" x="68.1" y="476.9" text-anchor="end">4</text><text class="t" x="68.1" y="403.9" text-anchor="end">5</text><text class="t" x="68.1" y="330.9" text-anchor="end">6</text><text class="t" x="68.1" y="258.0" text-anchor="end">7</text><text class="t" x="68.1" y="185.0" text-anchor="end">8</text><text class="t" x="68.1" y="112.1" text-anchor="end">9</text><text class="t" x="68.1" y="39.1" text-anchor="end">10</text><text class="t" x="68.1" y="785" text-anchor="start">00</text><text class="t" x="291.9" y="785" text-anchor="middle">02</text><text class="t" x="511.9" y="785" text-anchor="middle">04</text><text class="t" x="731.8" y="785" text-anchor="middle">06</text><text class="t" x="951.8" y="785" text-anchor="middle">08</text><text class="t" x="1171.7" y="785" text-anchor="middle">10</text><text class="t" x="1391.7" y="785" text-anchor="middle">12</text><text class="t" x="1611.6" y="785" text-anchor="middle">14</text><text class="t" x="1831.5" y="785" text-anchor="middle">16</text><text class="t" x="2051.5" y="785" text-anchor="middle">18</text><text class="t" x="2271.4" y="785" text-anchor="middle">20</text><text class="t" x="2491.4" y="785" text-anchor="middle">22</text><text class="t" x="2711.3" y="785" text-anchor="middle">24</text><text x="557.8" y="804" text-anchor="middle">sunrise</text><text x="2057.3" y="804" text-anchor="middle">sunset</text><text x="1391.2" y="813.7" text-anchor="middle" textLength="150">Time [UTC]</text><text x="1391.4" y="25.2" text-anchor="middle" textLength="1644" xml:space="preserve" style="white-space:pre">Meteorological Institute of Ludwig-Maximilians-Universität (München, Germany; 48.148 N / 11.573 E):    HatPro: 28-08-2022</text><text transform="translate(24.2 395) rotate(-90)" text-anchor="middle" textLength="349.4">Height above ground [km]</text><text transform="translate(2988 397.6) rotate(-90)" text-anchor="middle" textLength="309.6">Relative Humidity in %</text><defs><linearGradient id="cb" x1="0" y1="1" x2="0" y2="0"><stop offset="0.0000" stop-color="#000000"/><stop offset="0.0170" stop-color="#080008"/><stop offset="0.0170" stop-color="#480050"/><stop offset="0.1240" stop-color="#480050"/><stop offset="0.1240" stop-color="#0000c8"/><stop offset="0.2340" stop-color="#0000c8"/><stop offset="0.2340" stop-color="#00a0d0"/><stop offset="0.2400" stop-color="#00a0d0"/><stop offset="0.2450" stop-color="#00a0d0"/><stop offset="0.2500" stop-color="#00a0d0"/><stop offset="0.2550" stop-color="#00a0d0"/><stop offset="0.2600" stop-color="#00a0d0"/><stop offset="0.2650" stop-color="#00a0d0"/><stop offset="0.2700" stop-color="#00a0d0"/><stop offset="0.2750" stop-color="#00a0d0"/><stop offset="0.2800" stop-color="#00a0d0"/><stop offset="0.2850" stop-color="#00a0d0"/><stop offset="0.2900" stop-color="#00a0d0"/><stop offset="0.2950" stop-color="#00a0d0"/><stop offset="0.3000" stop-color="#00a0d0"/><stop offset="0.3050" stop-color="#00a1cd"/><stop offset="0.3100" stop-color="#00a1ca"/><stop offset="0.3150" stop-color="#00a2c6"/><stop offset="0.3200" stop-color="#00a2c3"/><stop offset="0.3250" stop-color="#00a3c0"/><stop offset="0.3300" stop-color="#00a3bd"/><stop offset="0.3350" stop-color="#00a4b9"/><stop offset="0.3400" stop-color="#00a4b6"/><stop offset="0.3450" stop-color="#00a5b1"/><stop offset="0.3500" stop-color="#00a5ad"/><stop offset="0.3550" stop-color="#00a6a9"/><stop offset="0.3600" stop-color="#00a6a5"/><stop offset="0.3650" stop-color="#00a7a1"/><stop offset="0.3700" stop-color="#00a79d"/><stop offset="0.3750" stop-color="#00a899"/><stop offset="0.3800" stop-color="#00a895"/><stop offset="0.3850" stop-color="#00a892"/><stop offset="0.3900" stop-color="#00a88f"/><stop offset="0.3950" stop-color="#00a88b"/><stop offset="0.4000" stop-color="#00a888"/><stop offset="0.4050" stop-color="#00a67d"/><stop offset="0.4100" stop-color="#00a572"/><stop offset="0.4150" stop-color="#00a368"/><stop offset="0.4200" stop-color="#00a25d"/><stop offset="0.4250" stop-color="#00a052"/><stop offset="0.4300" stop-color="#009f44"/><stop offset="0.4350" stop-color="#009d34"/><stop offset="0.4400" stop-color="#009c25"/><stop offset="0.4450" stop-color="#009a16"/><stop offset="0.4500" stop-color="#009906"/><stop offset="0.4550" stop-color="#009900"/><stop offset="0.4600" stop-color="#009b00"/><stop offset="0.4650" stop-color="#009d00"/><stop offset="0.4700" stop-color="#009f00"/><stop offset="0.4750" stop-color="#00a200"/><stop offset="0.4800" stop-color="#00a600"/><stop offset="0.4850" stop-color="#00aa00"/><stop offset="0.4900" stop-color="#00ae00"/><stop offset="0.4950" stop-color="#00b200"/><stop offset="0.5000" stop-color="#00b600"/><stop offset="0.5050" stop-color="#00ba00"/><stop offset="0.5100" stop-color="#00be00"/><stop offset="0.5150" stop-color="#00c200"/><stop offset="0.5200" stop-color="#00c700"/><stop offset="0.5250" stop-color="#00cb00"/><stop offset="0.5300" stop-color="#00cf00"/><stop offset="0.5350" stop-color="#00d300"/><stop offset="0.5400" stop-color="#00d700"/><stop offset="0.5450" stop-color="#00db00"/><stop offset="0.5500" stop-color="#00df00"/><stop offset="0.5550" stop-color="#00e300"/><stop offset="0.5600" stop-color="#00e600"/><stop offset="0.5650" stop-color="#00e900"/><stop offset="0.5700" stop-color="#00ec00"/><stop offset="0.5750" stop-color="#00ef00"/><stop offset="0.5800" stop-color="#00f200"/><stop offset="0.5850" stop-color="#00f600"/><stop offset="0.5900" stop-color="#00f900"/><stop offset="0.5950" stop-color="#00fc00"/><stop offset="0.6000" stop-color="#00ff00"/><stop offset="0.6050" stop-color="#0ffd00"/><stop offset="0.6100" stop-color="#1efc00"/><stop offset="0.6150" stop-color="#2dfa00"/><stop offset="0.6200" stop-color="#45fa00"/><stop offset="0.6250" stop-color="#60fa00"/><stop offset="0.6300" stop-color="#76fa00"/><stop offset="0.6350" stop-color="#85f900"/><stop offset="0.6400" stop-color="#93f900"/><stop offset="0.6450" stop-color="#a2f800"/><stop offset="0.6500" stop-color="#acf700"/><stop offset="0.6550" stop-color="#b3f600"/><stop offset="0.6600" stop-color="#bbf400"/><stop offset="0.6650" stop-color="#c2f300"/><stop offset="0.6700" stop-color="#c9f100"/><stop offset="0.6750" stop-color="#d0f000"/><stop offset="0.6800" stop-color="#d6ef00"/><stop offset="0.6850" stop-color="#dced00"/><stop offset="0.6900" stop-color="#e2ec00"/><stop offset="0.6950" stop-color="#e8ea00"/><stop offset="0.7000" stop-color="#eee900"/><stop offset="0.7050" stop-color="#f1e600"/><stop offset="0.7100" stop-color="#f3e200"/><stop offset="0.7150" stop-color="#f5df00"/><stop offset="0.7200" stop-color="#f6db00"/><stop offset="0.7250" stop-color="#f8d800"/><stop offset="0.7300" stop-color="#f9d400"/><stop offset="0.7350" stop-color="#fad000"/><stop offset="0.7400" stop-color="#fbcd00"/><stop offset="0.7450" stop-color="#fcc900"/><stop offset="0.7500" stop-color="#fdc500"/><stop offset="0.7550" stop-color="#ffc200"/><stop offset="0.7600" stop-color="#ffbd00"/><stop offset="0.7650" stop-color="#ffb900"/><stop offset="0.7700" stop-color="#ffb400"/><stop offset="0.7750" stop-color="#ffb000"/><stop offset="0.7800" stop-color="#ffac00"/><stop offset="0.7850" stop-color="#ffa700"/><stop offset="0.7900" stop-color="#ffa200"/><stop offset="0.7950" stop-color="#ff9d00"/><stop offset="0.8000" stop-color="#ff9800"/><stop offset="0.8050" stop-color="#ff8b00"/><stop offset="0.8100" stop-color="#ff7d00"/><stop offset="0.8150" stop-color="#ff7000"/><stop offset="0.8200" stop-color="#fc5a00"/><stop offset="0.8250" stop-color="#f94400"/><stop offset="0.8300" stop-color="#fa3600"/><stop offset="0.8350" stop-color="#fc2900"/><stop offset="0.8400" stop-color="#fe1d00"/><stop offset="0.8450" stop-color="#ff0f00"/><stop offset="0.8500" stop-color="#ff0000"/><stop offset="0.8550" stop-color="#fb0000"/><stop offset="0.8600" stop-color="#f70000"/><stop offset="0.8650" stop-color="#f30000"/><stop offset="0.8700" stop-color="#ef0000"/><stop offset="0.8750" stop-color="#eb0000"/><stop offset="0.8800" stop-color="#e70000"/><stop offset="0.8850" stop-color="#e20000"/><stop offset="0.8900" stop-color="#df0000"/><stop offset="0.8950" stop-color="#de0000"/><stop offset="0.9000" stop-color="#dc0000"/><stop offset="0.9050" stop-color="#db0000"/><stop offset="0.9100" stop-color="#d90000"/><stop offset="0.9150" stop-color="#d70000"/><stop offset="0.9200" stop-color="#d60000"/><stop offset="0.9250" stop-color="#d40000"/><stop offset="0.9300" stop-color="#d20000"/><stop offset="0.9350" stop-color="#d10000"/><stop offset="0.9400" stop-color="#cf0000"/><stop offset="0.9450" stop-color="#ce0000"/><stop offset="0.9500" stop-color="#cc0000"/><stop offset="0.9500" stop-color="#cc0000"/><stop offset="0.9500" stop-color="#cc0a0a"/><stop offset="0.9542" stop-color="#cc0a0a"/><stop offset="0.9542" stop-color="#c82b20"/><stop offset="0.9612" stop-color="#c82b20"/><stop offset="0.9612" stop-color="#cd552b"/><stop offset="0.9775" stop-color="#cd552b"/><stop offset="0.9775" stop-color="#8f8f87"/><stop offset="0.9840" stop-color="#8f8f87"/><stop offset="0.9840" stop-color="#d4cba0"/><stop offset="0.9973" stop-color="#d4cba0"/><stop offset="0.9973" stop-color="#ececec"/><stop offset="1.0000" stop-color="#ececec"/></linearGradient></defs><rect x="2876.4" y="29.4" width="36.3" height="729.6" fill="url(#cb)" stroke="#444" stroke-width="1"/><path d="M2912.7 759.0h3" stroke="#333" stroke-width="1"/><text class="t" x="2918.4" y="768.7">0</text><path d="M2912.7 613.1h3" stroke="#333" stroke-width="1"/><text class="t" x="2918.4" y="622.8">20</text><path d="M2912.7 467.2h3" stroke="#333" stroke-width="1"/><text class="t" x="2918.4" y="476.9">40</text><path d="M2912.7 321.2h3" stroke="#333" stroke-width="1"/><text class="t" x="2918.4" y="330.9">60</text><path d="M2912.7 175.3h3" stroke="#333" stroke-width="1"/><text class="t" x="2918.4" y="185.0">80</text><path d="M2912.7 29.4h3" stroke="#333" stroke-width="1"/><text class="t" x="2918.4" y="39.1">100</text></svg>
</body></html>
